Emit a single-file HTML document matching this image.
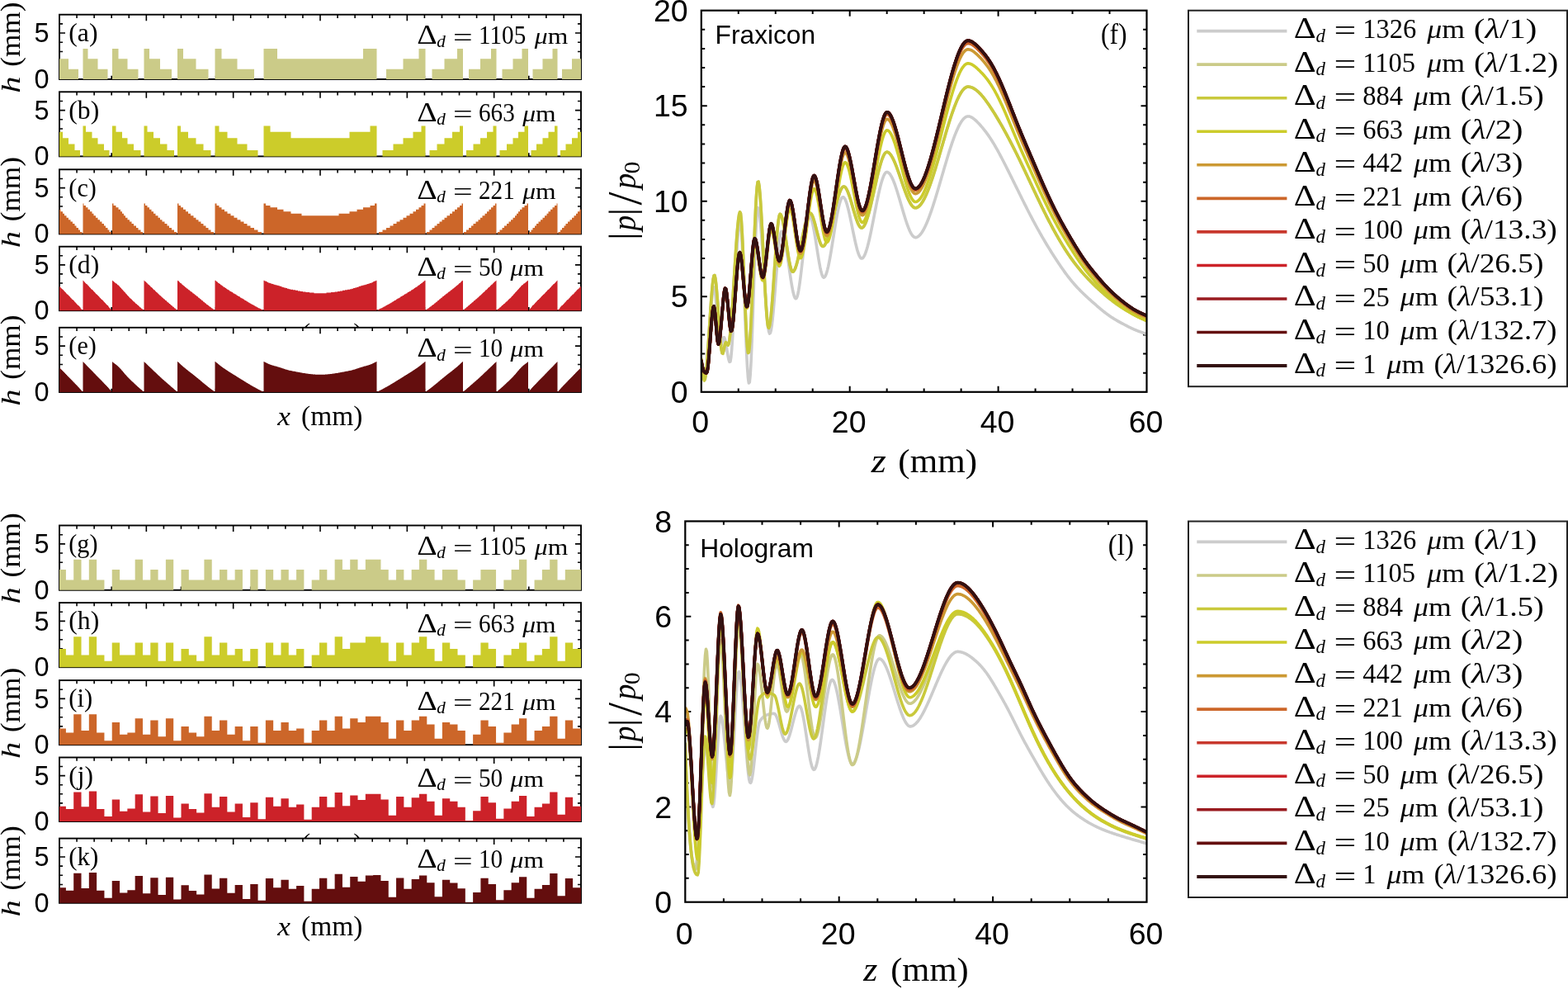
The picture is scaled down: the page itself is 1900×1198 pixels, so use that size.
<!DOCTYPE html>
<html><head><meta charset="utf-8"><title>Figure</title>
<style>html,body{margin:0;padding:0;background:#fff;}body{width:1900px;height:1198px;overflow:hidden;}svg{display:block;}</style>
</head><body>
<svg width="1900" height="1198" viewBox="0 0 1900 1198">
<rect width="1900" height="1198" fill="#fff"/>
<defs><clipPath id="cf"><rect x="849.8" y="12.7" width="539.7" height="462.1"/></clipPath>
<clipPath id="cl"><rect x="830.3" y="631.4" width="559.2" height="461.3"/></clipPath></defs>
<path d="M93.07 17.7V21.9M93.07 96V91.8M114.13 17.7V21.9M114.13 96V91.8M135.2 17.7V21.9M135.2 96V91.8M156.27 17.7V21.9M156.27 96V91.8M177.33 17.7V25.2M177.33 96V88.5M198.4 17.7V21.9M198.4 96V91.8M219.47 17.7V21.9M219.47 96V91.8M240.53 17.7V21.9M240.53 96V91.8M261.6 17.7V21.9M261.6 96V91.8M282.67 17.7V25.2M282.67 96V88.5M303.73 17.7V21.9M303.73 96V91.8M324.8 17.7V21.9M324.8 96V91.8M345.87 17.7V21.9M345.87 96V91.8M366.93 17.7V21.9M366.93 96V91.8M388 17.7V25.2M388 96V88.5M409.07 17.7V21.9M409.07 96V91.8M430.13 17.7V21.9M430.13 96V91.8M451.2 17.7V21.9M451.2 96V91.8M472.27 17.7V21.9M472.27 96V91.8M493.33 17.7V25.2M493.33 96V88.5M514.4 17.7V21.9M514.4 96V91.8M535.47 17.7V21.9M535.47 96V91.8M556.53 17.7V21.9M556.53 96V91.8M577.6 17.7V21.9M577.6 96V91.8M598.67 17.7V25.2M598.67 96V88.5M619.73 17.7V21.9M619.73 96V91.8M640.8 17.7V21.9M640.8 96V91.8M661.87 17.7V21.9M661.87 96V91.8M682.93 17.7V21.9M682.93 96V91.8M72 84.81H76M704 84.81H700M72 73.63H76M704 73.63H700M72 62.44H76M704 62.44H700M72 51.26H76M704 51.26H700M72 40.07H79M704 40.07H697M72 28.89H76M704 28.89H700" stroke="#000" stroke-width="1.6" fill="none"/>
<rect x="72" y="17.7" width="632" height="78.3" fill="none" stroke="#000" stroke-width="1.9"/>
<path d="M72 96L72 71.28L83 71.28L83 83.64L95 83.64L95 96L100.5 96L100.5 58.92L106.5 58.92L106.5 71.28L118.5 71.28L118.5 83.64L130.5 83.64L130.5 96L136 96L136 58.92L143.5 58.92L143.5 71.28L154.5 71.28L154.5 83.64L167.5 83.64L167.5 96L174.5 96L174.5 58.92L181 58.92L181 71.28L194 71.28L194 83.64L208 83.64L208 96L215 96L215 58.92L222 58.92L222 71.28L237.5 71.28L237.5 83.64L252.5 83.64L252.5 96L260.5 96L260.5 58.92L268.5 58.92L268.5 71.28L287.5 71.28L287.5 83.64L308 83.64L308 96L319.5 96L319.5 58.92L336 58.92L336 71.28L440 71.28L440 58.92L456.5 58.92L456.5 96L468 96L468 83.64L488.5 83.64L488.5 71.28L507.5 71.28L507.5 58.92L515.5 58.92L515.5 96L523.5 96L523.5 83.64L538.5 83.64L538.5 71.28L554 71.28L554 58.92L561 58.92L561 96L568 96L568 83.64L582 83.64L582 71.28L595 71.28L595 58.92L601.5 58.92L601.5 96L608.5 96L608.5 83.64L621.5 83.64L621.5 71.28L632.5 71.28L632.5 58.92L640 58.92L640 96L645.5 96L645.5 83.64L657.5 83.64L657.5 71.28L669.5 71.28L669.5 58.92L675.5 58.92L675.5 96L681 96L681 83.64L693 83.64L693 71.28L704 71.28L704 96Z" fill="#cbcb88"/>
<text x="59.6" y="51.37" font-family="'Liberation Sans', Arial, sans-serif" font-size="32.5" text-anchor="end">5</text>
<text x="59.6" y="107" font-family="'Liberation Sans', Arial, sans-serif" font-size="32.5" text-anchor="end">0</text>
<text transform="translate(83.25 50) scale(1.0017 1)" font-family="'Liberation Serif', 'Times New Roman', serif" font-size="31.75" fill="#000"><tspan>(a)</tspan></text>
<text transform="translate(505.37 53.2) scale(1.1228 1)" font-family="'Liberation Serif', 'Times New Roman', serif" font-size="33.9" fill="#000"><tspan>Δ</tspan></text><text transform="translate(529.37 57.4) scale(0.9798 1)" font-family="'Liberation Serif', 'Times New Roman', serif" font-size="21.6" fill="#000"><tspan font-style="italic">d</tspan></text><text transform="translate(548.9 55.7) scale(1.3313 1)" font-family="'Liberation Serif', 'Times New Roman', serif" font-size="31.5" fill="#000"><tspan>=</tspan></text><text transform="translate(580 53.1) scale(0.9389 1)" font-family="'Liberation Serif', 'Times New Roman', serif" font-size="31.1">1105</text><text transform="translate(647.8 53.2) scale(1.1298 1)" font-family="'Liberation Serif', 'Times New Roman', serif" font-size="28" fill="#000"><tspan font-style="italic">μ</tspan><tspan>m</tspan></text>
<path d="M93.07 111.3V115.5M93.07 189.4V185.2M114.13 111.3V115.5M114.13 189.4V185.2M135.2 111.3V115.5M135.2 189.4V185.2M156.27 111.3V115.5M156.27 189.4V185.2M177.33 111.3V118.8M177.33 189.4V181.9M198.4 111.3V115.5M198.4 189.4V185.2M219.47 111.3V115.5M219.47 189.4V185.2M240.53 111.3V115.5M240.53 189.4V185.2M261.6 111.3V115.5M261.6 189.4V185.2M282.67 111.3V118.8M282.67 189.4V181.9M303.73 111.3V115.5M303.73 189.4V185.2M324.8 111.3V115.5M324.8 189.4V185.2M345.87 111.3V115.5M345.87 189.4V185.2M366.93 111.3V115.5M366.93 189.4V185.2M388 111.3V118.8M388 189.4V181.9M409.07 111.3V115.5M409.07 189.4V185.2M430.13 111.3V115.5M430.13 189.4V185.2M451.2 111.3V115.5M451.2 189.4V185.2M472.27 111.3V115.5M472.27 189.4V185.2M493.33 111.3V118.8M493.33 189.4V181.9M514.4 111.3V115.5M514.4 189.4V185.2M535.47 111.3V115.5M535.47 189.4V185.2M556.53 111.3V115.5M556.53 189.4V185.2M577.6 111.3V115.5M577.6 189.4V185.2M598.67 111.3V118.8M598.67 189.4V181.9M619.73 111.3V115.5M619.73 189.4V185.2M640.8 111.3V115.5M640.8 189.4V185.2M661.87 111.3V115.5M661.87 189.4V185.2M682.93 111.3V115.5M682.93 189.4V185.2M72 178.24H76M704 178.24H700M72 167.09H76M704 167.09H700M72 155.93H76M704 155.93H700M72 144.77H76M704 144.77H700M72 133.61H79M704 133.61H697M72 122.46H76M704 122.46H700" stroke="#000" stroke-width="1.6" fill="none"/>
<rect x="72" y="111.3" width="632" height="78.1" fill="none" stroke="#000" stroke-width="1.9"/>
<path d="M72 189.4L72 159.81L76 159.81L76 167.21L83 167.21L83 174.61L90.5 174.61L90.5 182L97 182L97 189.4L100.5 189.4L100.5 152.41L104 152.41L104 159.81L111.5 159.81L111.5 167.21L118.5 167.21L118.5 174.61L126 174.61L126 182L132.5 182L132.5 189.4L136 189.4L136 152.41L140.5 152.41L140.5 159.81L148 159.81L148 167.21L154.5 167.21L154.5 174.61L162 174.61L162 182L170.5 182L170.5 189.4L174.5 189.4L174.5 152.41L178.5 152.41L178.5 159.81L186 159.81L186 167.21L194 167.21L194 174.61L202.5 174.61L202.5 182L211 182L211 189.4L215 189.4L215 152.41L219 152.41L219 159.81L228 159.81L228 167.21L237.5 167.21L237.5 174.61L246.5 174.61L246.5 182L255.5 182L255.5 189.4L260.5 189.4L260.5 152.41L265.5 152.41L265.5 159.81L275.5 159.81L275.5 167.21L287.5 167.21L287.5 174.61L299.5 174.61L299.5 182L312.5 182L312.5 189.4L319.5 189.4L319.5 152.41L327.5 152.41L327.5 159.81L352.5 159.81L352.5 167.21L423.5 167.21L423.5 159.81L448.5 159.81L448.5 152.41L456.5 152.41L456.5 189.4L463.5 189.4L463.5 182L476.5 182L476.5 174.61L488.5 174.61L488.5 167.21L500.5 167.21L500.5 159.81L510.5 159.81L510.5 152.41L515.5 152.41L515.5 189.4L520.5 189.4L520.5 182L529.5 182L529.5 174.61L538.5 174.61L538.5 167.21L548 167.21L548 159.81L557 159.81L557 152.41L561 152.41L561 189.4L565 189.4L565 182L573.5 182L573.5 174.61L582 174.61L582 167.21L590 167.21L590 159.81L597.5 159.81L597.5 152.41L601.5 152.41L601.5 189.4L605.5 189.4L605.5 182L614 182L614 174.61L621.5 174.61L621.5 167.21L628 167.21L628 159.81L635.5 159.81L635.5 152.41L640 152.41L640 189.4L643.5 189.4L643.5 182L650 182L650 174.61L657.5 174.61L657.5 167.21L664.5 167.21L664.5 159.81L672 159.81L672 152.41L675.5 152.41L675.5 189.4L679 189.4L679 182L685.5 182L685.5 174.61L693 174.61L693 167.21L700 167.21L700 159.81L704 159.81L704 189.4Z" fill="#cccc2a"/>
<text x="59.6" y="144.91" font-family="'Liberation Sans', Arial, sans-serif" font-size="32.5" text-anchor="end">5</text>
<text x="59.6" y="200.4" font-family="'Liberation Sans', Arial, sans-serif" font-size="32.5" text-anchor="end">0</text>
<text transform="translate(83.25 143.6) scale(0.9981 1)" font-family="'Liberation Serif', 'Times New Roman', serif" font-size="31.75" fill="#000"><tspan>(b)</tspan></text>
<text transform="translate(505.37 146.8) scale(1.1228 1)" font-family="'Liberation Serif', 'Times New Roman', serif" font-size="33.9" fill="#000"><tspan>Δ</tspan></text><text transform="translate(529.37 151) scale(0.9798 1)" font-family="'Liberation Serif', 'Times New Roman', serif" font-size="21.6" fill="#000"><tspan font-style="italic">d</tspan></text><text transform="translate(548.9 149.3) scale(1.3313 1)" font-family="'Liberation Serif', 'Times New Roman', serif" font-size="31.5" fill="#000"><tspan>=</tspan></text><text transform="translate(580 146.7) scale(0.9389 1)" font-family="'Liberation Serif', 'Times New Roman', serif" font-size="31.1">663</text><text transform="translate(633.2 146.8) scale(1.1298 1)" font-family="'Liberation Serif', 'Times New Roman', serif" font-size="28" fill="#000"><tspan font-style="italic">μ</tspan><tspan>m</tspan></text>
<path d="M93.07 205.3V209.5M93.07 283.4V279.2M114.13 205.3V209.5M114.13 283.4V279.2M135.2 205.3V209.5M135.2 283.4V279.2M156.27 205.3V209.5M156.27 283.4V279.2M177.33 205.3V212.8M177.33 283.4V275.9M198.4 205.3V209.5M198.4 283.4V279.2M219.47 205.3V209.5M219.47 283.4V279.2M240.53 205.3V209.5M240.53 283.4V279.2M261.6 205.3V209.5M261.6 283.4V279.2M282.67 205.3V212.8M282.67 283.4V275.9M303.73 205.3V209.5M303.73 283.4V279.2M324.8 205.3V209.5M324.8 283.4V279.2M345.87 205.3V209.5M345.87 283.4V279.2M366.93 205.3V209.5M366.93 283.4V279.2M388 205.3V212.8M388 283.4V275.9M409.07 205.3V209.5M409.07 283.4V279.2M430.13 205.3V209.5M430.13 283.4V279.2M451.2 205.3V209.5M451.2 283.4V279.2M472.27 205.3V209.5M472.27 283.4V279.2M493.33 205.3V212.8M493.33 283.4V275.9M514.4 205.3V209.5M514.4 283.4V279.2M535.47 205.3V209.5M535.47 283.4V279.2M556.53 205.3V209.5M556.53 283.4V279.2M577.6 205.3V209.5M577.6 283.4V279.2M598.67 205.3V212.8M598.67 283.4V275.9M619.73 205.3V209.5M619.73 283.4V279.2M640.8 205.3V209.5M640.8 283.4V279.2M661.87 205.3V209.5M661.87 283.4V279.2M682.93 205.3V209.5M682.93 283.4V279.2M72 272.24H76M704 272.24H700M72 261.09H76M704 261.09H700M72 249.93H76M704 249.93H700M72 238.77H76M704 238.77H700M72 227.61H79M704 227.61H697M72 216.46H76M704 216.46H700" stroke="#000" stroke-width="1.6" fill="none"/>
<rect x="72" y="205.3" width="632" height="78.1" fill="none" stroke="#000" stroke-width="1.9"/>
<path d="M72 283.4L72 253.81L73.5 253.81L73.5 256.28L76 256.28L76 258.74L78 258.74L78 261.21L80.5 261.21L80.5 263.67L83 263.67L83 266.14L85.5 266.14L85.5 268.61L88 268.61L88 271.07L90.5 271.07L90.5 273.54L92.5 273.54L92.5 276L95 276L95 278.47L97 278.47L97 280.93L99.5 280.93L99.5 283.4L100.5 283.4L100.5 246.41L101.5 246.41L101.5 248.88L104 248.88L104 251.35L106.5 251.35L106.5 253.81L109 253.81L109 256.28L111.5 256.28L111.5 258.74L113.5 258.74L113.5 261.21L116 261.21L116 263.67L118.5 263.67L118.5 266.14L121 266.14L121 268.61L123.5 268.61L123.5 271.07L126 271.07L126 273.54L128 273.54L128 276L130.5 276L130.5 278.47L132.5 278.47L132.5 280.93L135 280.93L135 283.4L136 283.4L136 246.41L137.5 246.41L137.5 248.88L140.5 248.88L140.5 251.35L143.5 251.35L143.5 253.81L146 253.81L146 256.28L148 256.28L148 258.74L150 258.74L150 261.21L152 261.21L152 263.67L154.5 263.67L154.5 266.14L157 266.14L157 268.61L159.5 268.61L159.5 271.07L162 271.07L162 273.54L165 273.54L165 276L167.5 276L167.5 278.47L170.5 278.47L170.5 280.93L173 280.93L173 283.4L174.5 283.4L174.5 246.41L176 246.41L176 248.88L178.5 248.88L178.5 251.35L181 251.35L181 253.81L183.5 253.81L183.5 256.28L186 256.28L186 258.74L188.5 258.74L188.5 261.21L191.5 261.21L191.5 263.67L194 263.67L194 266.14L196.5 266.14L196.5 268.61L199.5 268.61L199.5 271.07L202.5 271.07L202.5 273.54L205 273.54L205 276L208 276L208 278.47L211 278.47L211 280.93L214 280.93L214 283.4L215 283.4L215 246.41L216.5 246.41L216.5 248.88L219 248.88L219 251.35L222 251.35L222 253.81L225 253.81L225 256.28L228 256.28L228 258.74L231 258.74L231 261.21L234.5 261.21L234.5 263.67L237.5 263.67L237.5 266.14L240.5 266.14L240.5 268.61L243.5 268.61L243.5 271.07L246.5 271.07L246.5 273.54L249.5 273.54L249.5 276L252.5 276L252.5 278.47L255.5 278.47L255.5 280.93L259 280.93L259 283.4L260.5 283.4L260.5 246.41L262.5 246.41L262.5 248.88L265.5 248.88L265.5 251.35L268.5 251.35L268.5 253.81L272 253.81L272 256.28L275.5 256.28L275.5 258.74L279.5 258.74L279.5 261.21L283.5 261.21L283.5 263.67L287.5 263.67L287.5 266.14L291.5 266.14L291.5 268.61L295.5 268.61L295.5 271.07L299.5 271.07L299.5 273.54L303.5 273.54L303.5 276L308 276L308 278.47L312.5 278.47L312.5 280.93L317 280.93L317 283.4L319.5 283.4L319.5 246.41L322 246.41L322 248.88L327.5 248.88L327.5 251.35L336 251.35L336 253.81L343.5 253.81L343.5 256.28L352.5 256.28L352.5 258.74L365.5 258.74L365.5 261.21L410.5 261.21L410.5 258.74L423.5 258.74L423.5 256.28L432.5 256.28L432.5 253.81L440 253.81L440 251.35L448.5 251.35L448.5 248.88L454 248.88L454 246.41L456.5 246.41L456.5 283.4L459 283.4L459 280.93L463.5 280.93L463.5 278.47L468 278.47L468 276L472.5 276L472.5 273.54L476.5 273.54L476.5 271.07L480.5 271.07L480.5 268.61L484.5 268.61L484.5 266.14L488.5 266.14L488.5 263.67L492.5 263.67L492.5 261.21L496.5 261.21L496.5 258.74L500.5 258.74L500.5 256.28L504 256.28L504 253.81L507.5 253.81L507.5 251.35L510.5 251.35L510.5 248.88L513.5 248.88L513.5 246.41L515.5 246.41L515.5 283.4L517 283.4L517 280.93L520.5 280.93L520.5 278.47L523.5 278.47L523.5 276L526.5 276L526.5 273.54L529.5 273.54L529.5 271.07L532.5 271.07L532.5 268.61L535.5 268.61L535.5 266.14L538.5 266.14L538.5 263.67L541.5 263.67L541.5 261.21L545 261.21L545 258.74L548 258.74L548 256.28L551 256.28L551 253.81L554 253.81L554 251.35L557 251.35L557 248.88L559.5 248.88L559.5 246.41L561 246.41L561 283.4L562 283.4L562 280.93L565 280.93L565 278.47L568 278.47L568 276L571 276L571 273.54L573.5 273.54L573.5 271.07L576.5 271.07L576.5 268.61L579.5 268.61L579.5 266.14L582 266.14L582 263.67L584.5 263.67L584.5 261.21L587.5 261.21L587.5 258.74L590 258.74L590 256.28L592.5 256.28L592.5 253.81L595 253.81L595 251.35L597.5 251.35L597.5 248.88L600 248.88L600 246.41L601.5 246.41L601.5 283.4L603 283.4L603 280.93L605.5 280.93L605.5 278.47L608.5 278.47L608.5 276L611 276L611 273.54L614 273.54L614 271.07L616.5 271.07L616.5 268.61L619 268.61L619 266.14L621.5 266.14L621.5 263.67L624 263.67L624 261.21L626 261.21L626 258.74L628 258.74L628 256.28L630 256.28L630 253.81L632.5 253.81L632.5 251.35L635.5 251.35L635.5 248.88L638.5 248.88L638.5 246.41L640 246.41L640 283.4L641 283.4L641 280.93L643.5 280.93L643.5 278.47L645.5 278.47L645.5 276L648 276L648 273.54L650 273.54L650 271.07L652.5 271.07L652.5 268.61L655 268.61L655 266.14L657.5 266.14L657.5 263.67L660 263.67L660 261.21L662.5 261.21L662.5 258.74L664.5 258.74L664.5 256.28L667 256.28L667 253.81L669.5 253.81L669.5 251.35L672 251.35L672 248.88L674.5 248.88L674.5 246.41L675.5 246.41L675.5 283.4L676.5 283.4L676.5 280.93L679 280.93L679 278.47L681 278.47L681 276L683.5 276L683.5 273.54L685.5 273.54L685.5 271.07L688 271.07L688 268.61L690.5 268.61L690.5 266.14L693 266.14L693 263.67L695.5 263.67L695.5 261.21L698 261.21L698 258.74L700 258.74L700 256.28L702.5 256.28L702.5 253.81L704 253.81L704 283.4Z" fill="#cc6629"/>
<text x="59.6" y="238.91" font-family="'Liberation Sans', Arial, sans-serif" font-size="32.5" text-anchor="end">5</text>
<text x="59.6" y="294.4" font-family="'Liberation Sans', Arial, sans-serif" font-size="32.5" text-anchor="end">0</text>
<text transform="translate(83.32 237.6) scale(0.9518 1)" font-family="'Liberation Serif', 'Times New Roman', serif" font-size="31.75" fill="#000"><tspan>(c)</tspan></text>
<text transform="translate(505.37 240.8) scale(1.1228 1)" font-family="'Liberation Serif', 'Times New Roman', serif" font-size="33.9" fill="#000"><tspan>Δ</tspan></text><text transform="translate(529.37 245) scale(0.9798 1)" font-family="'Liberation Serif', 'Times New Roman', serif" font-size="21.6" fill="#000"><tspan font-style="italic">d</tspan></text><text transform="translate(548.9 243.3) scale(1.3313 1)" font-family="'Liberation Serif', 'Times New Roman', serif" font-size="31.5" fill="#000"><tspan>=</tspan></text><text transform="translate(580 240.7) scale(0.9389 1)" font-family="'Liberation Serif', 'Times New Roman', serif" font-size="31.1">221</text><text transform="translate(633.2 240.8) scale(1.1298 1)" font-family="'Liberation Serif', 'Times New Roman', serif" font-size="28" fill="#000"><tspan font-style="italic">μ</tspan><tspan>m</tspan></text>
<path d="M93.07 298.7V302.9M93.07 376.2V372M114.13 298.7V302.9M114.13 376.2V372M135.2 298.7V302.9M135.2 376.2V372M156.27 298.7V302.9M156.27 376.2V372M177.33 298.7V306.2M177.33 376.2V368.7M198.4 298.7V302.9M198.4 376.2V372M219.47 298.7V302.9M219.47 376.2V372M240.53 298.7V302.9M240.53 376.2V372M261.6 298.7V302.9M261.6 376.2V372M282.67 298.7V306.2M282.67 376.2V368.7M303.73 298.7V302.9M303.73 376.2V372M324.8 298.7V302.9M324.8 376.2V372M345.87 298.7V302.9M345.87 376.2V372M366.93 298.7V302.9M366.93 376.2V372M388 298.7V306.2M388 376.2V368.7M409.07 298.7V302.9M409.07 376.2V372M430.13 298.7V302.9M430.13 376.2V372M451.2 298.7V302.9M451.2 376.2V372M472.27 298.7V302.9M472.27 376.2V372M493.33 298.7V306.2M493.33 376.2V368.7M514.4 298.7V302.9M514.4 376.2V372M535.47 298.7V302.9M535.47 376.2V372M556.53 298.7V302.9M556.53 376.2V372M577.6 298.7V302.9M577.6 376.2V372M598.67 298.7V306.2M598.67 376.2V368.7M619.73 298.7V302.9M619.73 376.2V372M640.8 298.7V302.9M640.8 376.2V372M661.87 298.7V302.9M661.87 376.2V372M682.93 298.7V302.9M682.93 376.2V372M72 365.13H76M704 365.13H700M72 354.06H76M704 354.06H700M72 342.99H76M704 342.99H700M72 331.91H76M704 331.91H700M72 320.84H79M704 320.84H697M72 309.77H76M704 309.77H700" stroke="#000" stroke-width="1.6" fill="none"/>
<rect x="72" y="298.7" width="632" height="77.5" fill="none" stroke="#000" stroke-width="1.9"/>
<path d="M72 376.2L72 346.86L72.5 346.86L72.5 347.41L73 347.41L73 347.97L73.5 347.97L73.5 348.52L74 348.52L74 349.07L74.5 349.07L74.5 349.63L75 349.63L75 350.18L76 350.18L76 350.74L76.5 350.74L76.5 351.29L77 351.29L77 351.84L77.5 351.84L77.5 352.4L78 352.4L78 352.95L78.5 352.95L78.5 353.5L79 353.5L79 354.06L79.5 354.06L79.5 354.61L80 354.61L80 355.16L80.5 355.16L80.5 355.72L81 355.72L81 356.27L81.5 356.27L81.5 356.82L82.5 356.82L82.5 357.38L83 357.38L83 357.93L83.5 357.93L83.5 358.49L84 358.49L84 359.04L84.5 359.04L84.5 359.59L85 359.59L85 360.15L85.5 360.15L85.5 360.7L86 360.7L86 361.25L86.5 361.25L86.5 361.81L87 361.81L87 362.36L87.5 362.36L87.5 362.91L88.5 362.91L88.5 363.47L89 363.47L89 364.02L89.5 364.02L89.5 364.57L90 364.57L90 365.13L90.5 365.13L90.5 365.68L91 365.68L91 366.24L91.5 366.24L91.5 366.79L92 366.79L92 367.34L92.5 367.34L92.5 367.9L93 367.9L93 368.45L93.5 368.45L93.5 369L94 369L94 369.56L94.5 369.56L94.5 370.11L95.5 370.11L95.5 370.66L96 370.66L96 371.22L96.5 371.22L96.5 371.77L97 371.77L97 372.32L97.5 372.32L97.5 373.43L98 373.43L98 373.99L98.5 373.99L98.5 374.54L99 374.54L99 375.09L99.5 375.09L99.5 375.65L100 375.65L100 376.2L100.5 376.2L100.5 339.66L101 339.66L101 340.22L101.5 340.22L101.5 340.77L102 340.77L102 341.32L102.5 341.32L102.5 341.88L103 341.88L103 342.43L103.5 342.43L103.5 342.99L104 342.99L104 343.54L104.5 343.54L104.5 344.09L105.5 344.09L105.5 344.65L106 344.65L106 345.2L106.5 345.2L106.5 345.75L107 345.75L107 346.31L107.5 346.31L107.5 346.86L108 346.86L108 347.41L108.5 347.41L108.5 347.97L109 347.97L109 348.52L109.5 348.52L109.5 349.07L110 349.07L110 349.63L110.5 349.63L110.5 350.18L111 350.18L111 350.74L112 350.74L112 351.29L112.5 351.29L112.5 351.84L113 351.84L113 352.4L113.5 352.4L113.5 352.95L114 352.95L114 353.5L114.5 353.5L114.5 354.06L115 354.06L115 354.61L115.5 354.61L115.5 355.16L116 355.16L116 355.72L116.5 355.72L116.5 356.27L117 356.27L117 356.82L118 356.82L118 357.38L118.5 357.38L118.5 357.93L119 357.93L119 358.49L119.5 358.49L119.5 359.04L120 359.04L120 359.59L120.5 359.59L120.5 360.15L121 360.15L121 360.7L121.5 360.7L121.5 361.25L122 361.25L122 361.81L122.5 361.81L122.5 362.36L123 362.36L123 362.91L124 362.91L124 363.47L124.5 363.47L124.5 364.02L125 364.02L125 364.57L125.5 364.57L125.5 365.13L126 365.13L126 365.68L126.5 365.68L126.5 366.24L127 366.24L127 366.79L127.5 366.79L127.5 367.34L128 367.34L128 367.9L128.5 367.9L128.5 368.45L129 368.45L129 369L129.5 369L129.5 369.56L130 369.56L130 370.11L131 370.11L131 370.66L131.5 370.66L131.5 371.77L132 371.77L132 372.32L132.5 372.32L132.5 372.88L133 372.88L133 373.43L133.5 373.43L133.5 373.99L134 373.99L134 374.54L134.5 374.54L134.5 375.09L135 375.09L135 375.65L135.5 375.65L135.5 376.2L136 376.2L136 339.66L136.5 339.66L136.5 340.22L137 340.22L137 340.77L138 340.77L138 341.32L138.5 341.32L138.5 341.88L139 341.88L139 342.43L140 342.43L140 342.99L140.5 342.99L140.5 343.54L141.5 343.54L141.5 344.09L142 344.09L142 344.65L142.5 344.65L142.5 345.2L143.5 345.2L143.5 345.75L144 345.75L144 346.31L144.5 346.31L144.5 346.86L145 346.86L145 347.41L145.5 347.41L145.5 347.97L146 347.97L146 348.52L146.5 348.52L146.5 349.07L147 349.07L147 349.63L147.5 349.63L147.5 350.18L148 350.18L148 350.74L148.5 350.74L148.5 351.29L149 351.29L149 351.84L149.5 351.84L149.5 352.4L150 352.4L150 352.95L150.5 352.95L150.5 353.5L151 353.5L151 354.06L151.5 354.06L151.5 354.61L152 354.61L152 355.16L152.5 355.16L152.5 355.72L153 355.72L153 356.27L153.5 356.27L153.5 356.82L154 356.82L154 357.38L154.5 357.38L154.5 357.93L155 357.93L155 358.49L155.5 358.49L155.5 359.04L156 359.04L156 359.59L156.5 359.59L156.5 360.15L157 360.15L157 360.7L157.5 360.7L157.5 361.25L158 361.25L158 361.81L159 361.81L159 362.36L159.5 362.36L159.5 362.91L160 362.91L160 363.47L160.5 363.47L160.5 364.02L161 364.02L161 364.57L161.5 364.57L161.5 365.13L162.5 365.13L162.5 365.68L163 365.68L163 366.24L163.5 366.24L163.5 366.79L164 366.79L164 367.34L164.5 367.34L164.5 367.9L165.5 367.9L165.5 368.45L166 368.45L166 369L166.5 369L166.5 369.56L167 369.56L167 370.11L168 370.11L168 370.66L168.5 370.66L168.5 371.22L169 371.22L169 371.77L169.5 371.77L169.5 372.32L170.5 372.32L170.5 372.88L171 372.88L171 373.43L171.5 373.43L171.5 373.99L172.5 373.99L172.5 374.54L173 374.54L173 375.09L173.5 375.09L173.5 375.65L174 375.65L174 376.2L174.5 376.2L174.5 339.66L175 339.66L175 340.22L175.5 340.22L175.5 340.77L176 340.77L176 341.32L177 341.32L177 341.88L177.5 341.88L177.5 342.43L178 342.43L178 342.99L178.5 342.99L178.5 343.54L179 343.54L179 344.09L179.5 344.09L179.5 344.65L180.5 344.65L180.5 345.2L181 345.2L181 345.75L181.5 345.75L181.5 346.31L182 346.31L182 346.86L182.5 346.86L182.5 347.41L183 347.41L183 347.97L184 347.97L184 348.52L184.5 348.52L184.5 349.07L185 349.07L185 349.63L185.5 349.63L185.5 350.18L186 350.18L186 350.74L186.5 350.74L186.5 351.29L187.5 351.29L187.5 351.84L188 351.84L188 352.4L188.5 352.4L188.5 352.95L189 352.95L189 353.5L189.5 353.5L189.5 354.06L190 354.06L190 354.61L191 354.61L191 355.16L191.5 355.16L191.5 355.72L192 355.72L192 356.27L192.5 356.27L192.5 356.82L193 356.82L193 357.38L194 357.38L194 357.93L194.5 357.93L194.5 358.49L195 358.49L195 359.04L195.5 359.04L195.5 359.59L196 359.59L196 360.15L197 360.15L197 360.7L197.5 360.7L197.5 361.25L198 361.25L198 361.81L198.5 361.81L198.5 362.36L199.5 362.36L199.5 362.91L200 362.91L200 363.47L200.5 363.47L200.5 364.02L201.5 364.02L201.5 364.57L202 364.57L202 365.13L202.5 365.13L202.5 365.68L203 365.68L203 366.24L204 366.24L204 366.79L204.5 366.79L204.5 367.34L205 367.34L205 367.9L206 367.9L206 368.45L206.5 368.45L206.5 369L207 369L207 369.56L207.5 369.56L207.5 370.11L208.5 370.11L208.5 370.66L209 370.66L209 371.22L209.5 371.22L209.5 371.77L210.5 371.77L210.5 372.32L211 372.32L211 372.88L211.5 372.88L211.5 373.43L212.5 373.43L212.5 373.99L213 373.99L213 374.54L213.5 374.54L213.5 375.09L214 375.09L214 375.65L215 375.65L215 339.66L215.5 339.66L215.5 340.22L216.5 340.22L216.5 340.77L217 340.77L217 341.32L217.5 341.32L217.5 341.88L218 341.88L218 342.43L218.5 342.43L218.5 342.99L219.5 342.99L219.5 343.54L220 343.54L220 344.09L220.5 344.09L220.5 344.65L221 344.65L221 345.2L222 345.2L222 345.75L222.5 345.75L222.5 346.31L223 346.31L223 346.86L224 346.86L224 347.41L224.5 347.41L224.5 347.97L225 347.97L225 348.52L226 348.52L226 349.07L226.5 349.07L226.5 349.63L227.5 349.63L227.5 350.18L228 350.18L228 350.74L228.5 350.74L228.5 351.29L229.5 351.29L229.5 351.84L230 351.84L230 352.4L231 352.4L231 352.95L231.5 352.95L231.5 353.5L232.5 353.5L232.5 354.06L233 354.06L233 354.61L233.5 354.61L233.5 355.16L234.5 355.16L234.5 355.72L235 355.72L235 356.27L236 356.27L236 356.82L236.5 356.82L236.5 357.38L237.5 357.38L237.5 357.93L238 357.93L238 358.49L238.5 358.49L238.5 359.04L239.5 359.04L239.5 359.59L240 359.59L240 360.15L240.5 360.15L240.5 360.7L241.5 360.7L241.5 361.25L242 361.25L242 361.81L242.5 361.81L242.5 362.36L243.5 362.36L243.5 362.91L244 362.91L244 363.47L244.5 363.47L244.5 364.02L245.5 364.02L245.5 364.57L246 364.57L246 365.13L246.5 365.13L246.5 365.68L247.5 365.68L247.5 366.24L248 366.24L248 366.79L248.5 366.79L248.5 367.34L249.5 367.34L249.5 367.9L250 367.9L250 368.45L250.5 368.45L250.5 369L251.5 369L251.5 369.56L252 369.56L252 370.11L253 370.11L253 370.66L253.5 370.66L253.5 371.22L254.5 371.22L254.5 371.77L255 371.77L255 372.32L256 372.32L256 372.88L256.5 372.88L256.5 373.43L257.5 373.43L257.5 373.99L258 373.99L258 374.54L259 374.54L259 375.09L259.5 375.09L259.5 375.65L260.5 375.65L260.5 339.66L261.5 339.66L261.5 340.22L262 340.22L262 340.77L262.5 340.77L262.5 341.32L263.5 341.32L263.5 341.88L264 341.88L264 342.43L264.5 342.43L264.5 342.99L265.5 342.99L265.5 343.54L266 343.54L266 344.09L267 344.09L267 344.65L267.5 344.65L267.5 345.2L268.5 345.2L268.5 345.75L269 345.75L269 346.31L270 346.31L270 346.86L270.5 346.86L270.5 347.41L271.5 347.41L271.5 347.97L272.5 347.97L272.5 348.52L273 348.52L273 349.07L274 349.07L274 349.63L275 349.63L275 350.18L275.5 350.18L275.5 350.74L276.5 350.74L276.5 351.29L277.5 351.29L277.5 351.84L278 351.84L278 352.4L279 352.4L279 352.95L280 352.95L280 353.5L281 353.5L281 354.06L282 354.06L282 354.61L282.5 354.61L282.5 355.16L283.5 355.16L283.5 355.72L284.5 355.72L284.5 356.27L285.5 356.27L285.5 356.82L286.5 356.82L286.5 357.38L287 357.38L287 357.93L288 357.93L288 358.49L289 358.49L289 359.04L290 359.04L290 359.59L291 359.59L291 360.15L291.5 360.15L291.5 360.7L292.5 360.7L292.5 361.25L293.5 361.25L293.5 361.81L294.5 361.81L294.5 362.36L295.5 362.36L295.5 362.91L296 362.91L296 363.47L297 363.47L297 364.02L298 364.02L298 364.57L299 364.57L299 365.13L300 365.13L300 365.68L301 365.68L301 366.24L301.5 366.24L301.5 366.79L302.5 366.79L302.5 367.34L303.5 367.34L303.5 367.9L304.5 367.9L304.5 368.45L305.5 368.45L305.5 369L306.5 369L306.5 369.56L307.5 369.56L307.5 370.11L308.5 370.11L308.5 370.66L309.5 370.66L309.5 371.22L310.5 371.22L310.5 371.77L311.5 371.77L311.5 372.32L312.5 372.32L312.5 372.88L313.5 372.88L313.5 373.43L315 373.43L315 373.99L316 373.99L316 374.54L317 374.54L317 375.09L318 375.09L318 375.65L319 375.65L319 376.2L319.5 376.2L319.5 339.66L320.5 339.66L320.5 340.22L321.5 340.22L321.5 340.77L323 340.77L323 341.32L324 341.32L324 341.88L325 341.88L325 342.43L326.5 342.43L326.5 342.99L328 342.99L328 343.54L329.5 343.54L329.5 344.09L331.5 344.09L331.5 344.65L333.5 344.65L333.5 345.2L335.5 345.2L335.5 345.75L337.5 345.75L337.5 346.31L339 346.31L339 346.86L341 346.86L341 347.41L342.5 347.41L342.5 347.97L344 347.97L344 348.52L346 348.52L346 349.07L348 349.07L348 349.63L350 349.63L350 350.18L352 350.18L352 350.74L355 350.74L355 351.29L358 351.29L358 351.84L361 351.84L361 352.4L364 352.4L364 352.95L367 352.95L367 353.5L370.5 353.5L370.5 354.06L375 354.06L375 354.61L380.5 354.61L380.5 355.16L395.5 355.16L395.5 354.61L401 354.61L401 354.06L405.5 354.06L405.5 353.5L409 353.5L409 352.95L412 352.95L412 352.4L415 352.4L415 351.84L418 351.84L418 351.29L421 351.29L421 350.74L424 350.74L424 350.18L426 350.18L426 349.63L428 349.63L428 349.07L430 349.07L430 348.52L432 348.52L432 347.97L433.5 347.97L433.5 347.41L435 347.41L435 346.86L437 346.86L437 346.31L438.5 346.31L438.5 345.75L440.5 345.75L440.5 345.2L442.5 345.2L442.5 344.65L444.5 344.65L444.5 344.09L446.5 344.09L446.5 343.54L448 343.54L448 342.99L449.5 342.99L449.5 342.43L451 342.43L451 341.88L452 341.88L452 341.32L453 341.32L453 340.77L454.5 340.77L454.5 340.22L455.5 340.22L455.5 339.66L456.5 339.66L456.5 376.2L457 376.2L457 375.65L458 375.65L458 375.09L459 375.09L459 374.54L460 374.54L460 373.99L461 373.99L461 373.43L462.5 373.43L462.5 372.88L463.5 372.88L463.5 372.32L464.5 372.32L464.5 371.77L465.5 371.77L465.5 371.22L466.5 371.22L466.5 370.66L467.5 370.66L467.5 370.11L468.5 370.11L468.5 369.56L469.5 369.56L469.5 369L470.5 369L470.5 368.45L471.5 368.45L471.5 367.9L472.5 367.9L472.5 367.34L473.5 367.34L473.5 366.79L474.5 366.79L474.5 366.24L475 366.24L475 365.68L476 365.68L476 365.13L477 365.13L477 364.57L478 364.57L478 364.02L479 364.02L479 363.47L480 363.47L480 362.91L480.5 362.91L480.5 362.36L481.5 362.36L481.5 361.81L482.5 361.81L482.5 361.25L483.5 361.25L483.5 360.7L484.5 360.7L484.5 360.15L485 360.15L485 359.59L486 359.59L486 359.04L487 359.04L487 358.49L488 358.49L488 357.93L489 357.93L489 357.38L489.5 357.38L489.5 356.82L490.5 356.82L490.5 356.27L491.5 356.27L491.5 355.72L492.5 355.72L492.5 355.16L493.5 355.16L493.5 354.61L494 354.61L494 354.06L495 354.06L495 353.5L496 353.5L496 352.95L497 352.95L497 352.4L498 352.4L498 351.84L498.5 351.84L498.5 351.29L499.5 351.29L499.5 350.74L500.5 350.74L500.5 350.18L501 350.18L501 349.63L502 349.63L502 349.07L503 349.07L503 348.52L503.5 348.52L503.5 347.97L504.5 347.97L504.5 347.41L505.5 347.41L505.5 346.86L506 346.86L506 346.31L507 346.31L507 345.75L507.5 345.75L507.5 345.2L508.5 345.2L508.5 344.65L509 344.65L509 344.09L510 344.09L510 343.54L510.5 343.54L510.5 342.99L511.5 342.99L511.5 342.43L512 342.43L512 341.88L512.5 341.88L512.5 341.32L513.5 341.32L513.5 340.77L514 340.77L514 340.22L514.5 340.22L514.5 339.66L515.5 339.66L515.5 375.65L516.5 375.65L516.5 375.09L517 375.09L517 374.54L518 374.54L518 373.99L518.5 373.99L518.5 373.43L519.5 373.43L519.5 372.88L520 372.88L520 372.32L521 372.32L521 371.77L521.5 371.77L521.5 371.22L522.5 371.22L522.5 370.66L523 370.66L523 370.11L524 370.11L524 369.56L524.5 369.56L524.5 369L525.5 369L525.5 368.45L526 368.45L526 367.9L526.5 367.9L526.5 367.34L527.5 367.34L527.5 366.79L528 366.79L528 366.24L528.5 366.24L528.5 365.68L529.5 365.68L529.5 365.13L530 365.13L530 364.57L530.5 364.57L530.5 364.02L531.5 364.02L531.5 363.47L532 363.47L532 362.91L532.5 362.91L532.5 362.36L533.5 362.36L533.5 361.81L534 361.81L534 361.25L534.5 361.25L534.5 360.7L535.5 360.7L535.5 360.15L536 360.15L536 359.59L536.5 359.59L536.5 359.04L537.5 359.04L537.5 358.49L538 358.49L538 357.93L538.5 357.93L538.5 357.38L539.5 357.38L539.5 356.82L540 356.82L540 356.27L541 356.27L541 355.72L541.5 355.72L541.5 355.16L542.5 355.16L542.5 354.61L543 354.61L543 354.06L543.5 354.06L543.5 353.5L544.5 353.5L544.5 352.95L545 352.95L545 352.4L546 352.4L546 351.84L546.5 351.84L546.5 351.29L547.5 351.29L547.5 350.74L548 350.74L548 350.18L548.5 350.18L548.5 349.63L549.5 349.63L549.5 349.07L550 349.07L550 348.52L551 348.52L551 347.97L551.5 347.97L551.5 347.41L552 347.41L552 346.86L553 346.86L553 346.31L553.5 346.31L553.5 345.75L554 345.75L554 345.2L555 345.2L555 344.65L555.5 344.65L555.5 344.09L556 344.09L556 343.54L556.5 343.54L556.5 342.99L557.5 342.99L557.5 342.43L558 342.43L558 341.88L558.5 341.88L558.5 341.32L559 341.32L559 340.77L559.5 340.77L559.5 340.22L560.5 340.22L560.5 339.66L561 339.66L561 375.65L562 375.65L562 375.09L562.5 375.09L562.5 374.54L563 374.54L563 373.99L563.5 373.99L563.5 373.43L564.5 373.43L564.5 372.88L565 372.88L565 372.32L565.5 372.32L565.5 371.77L566.5 371.77L566.5 371.22L567 371.22L567 370.66L567.5 370.66L567.5 370.11L568.5 370.11L568.5 369.56L569 369.56L569 369L569.5 369L569.5 368.45L570 368.45L570 367.9L571 367.9L571 367.34L571.5 367.34L571.5 366.79L572 366.79L572 366.24L573 366.24L573 365.68L573.5 365.68L573.5 365.13L574 365.13L574 364.57L574.5 364.57L574.5 364.02L575.5 364.02L575.5 363.47L576 363.47L576 362.91L576.5 362.91L576.5 362.36L577.5 362.36L577.5 361.81L578 361.81L578 361.25L578.5 361.25L578.5 360.7L579 360.7L579 360.15L580 360.15L580 359.59L580.5 359.59L580.5 359.04L581 359.04L581 358.49L581.5 358.49L581.5 357.93L582 357.93L582 357.38L583 357.38L583 356.82L583.5 356.82L583.5 356.27L584 356.27L584 355.72L584.5 355.72L584.5 355.16L585 355.16L585 354.61L586 354.61L586 354.06L586.5 354.06L586.5 353.5L587 353.5L587 352.95L587.5 352.95L587.5 352.4L588 352.4L588 351.84L588.5 351.84L588.5 351.29L589.5 351.29L589.5 350.74L590 350.74L590 350.18L590.5 350.18L590.5 349.63L591 349.63L591 349.07L591.5 349.07L591.5 348.52L592 348.52L592 347.97L593 347.97L593 347.41L593.5 347.41L593.5 346.86L594 346.86L594 346.31L594.5 346.31L594.5 345.75L595 345.75L595 345.2L595.5 345.2L595.5 344.65L596.5 344.65L596.5 344.09L597 344.09L597 343.54L597.5 343.54L597.5 342.99L598 342.99L598 342.43L598.5 342.43L598.5 341.88L599 341.88L599 341.32L600 341.32L600 340.77L600.5 340.77L600.5 340.22L601 340.22L601 339.66L601.5 339.66L601.5 376.2L602 376.2L602 375.65L602.5 375.65L602.5 375.09L603 375.09L603 374.54L603.5 374.54L603.5 373.99L604.5 373.99L604.5 373.43L605 373.43L605 372.88L605.5 372.88L605.5 372.32L606.5 372.32L606.5 371.77L607 371.77L607 371.22L607.5 371.22L607.5 370.66L608 370.66L608 370.11L609 370.11L609 369.56L609.5 369.56L609.5 369L610 369L610 368.45L610.5 368.45L610.5 367.9L611.5 367.9L611.5 367.34L612 367.34L612 366.79L612.5 366.79L612.5 366.24L613 366.24L613 365.68L613.5 365.68L613.5 365.13L614.5 365.13L614.5 364.57L615 364.57L615 364.02L615.5 364.02L615.5 363.47L616 363.47L616 362.91L616.5 362.91L616.5 362.36L617 362.36L617 361.81L618 361.81L618 361.25L618.5 361.25L618.5 360.7L619 360.7L619 360.15L619.5 360.15L619.5 359.59L620 359.59L620 359.04L620.5 359.04L620.5 358.49L621 358.49L621 357.93L621.5 357.93L621.5 357.38L622 357.38L622 356.82L622.5 356.82L622.5 356.27L623 356.27L623 355.72L623.5 355.72L623.5 355.16L624 355.16L624 354.61L624.5 354.61L624.5 354.06L625 354.06L625 353.5L625.5 353.5L625.5 352.95L626 352.95L626 352.4L626.5 352.4L626.5 351.84L627 351.84L627 351.29L627.5 351.29L627.5 350.74L628 350.74L628 350.18L628.5 350.18L628.5 349.63L629 349.63L629 349.07L629.5 349.07L629.5 348.52L630 348.52L630 347.97L630.5 347.97L630.5 347.41L631 347.41L631 346.86L631.5 346.86L631.5 346.31L632 346.31L632 345.75L632.5 345.75L632.5 345.2L633.5 345.2L633.5 344.65L634 344.65L634 344.09L634.5 344.09L634.5 343.54L635.5 343.54L635.5 342.99L636 342.99L636 342.43L637 342.43L637 341.88L637.5 341.88L637.5 341.32L638 341.32L638 340.77L639 340.77L639 340.22L639.5 340.22L639.5 339.66L640 339.66L640 376.2L640.5 376.2L640.5 375.65L641 375.65L641 375.09L641.5 375.09L641.5 374.54L642 374.54L642 373.99L642.5 373.99L642.5 373.43L643 373.43L643 372.88L643.5 372.88L643.5 372.32L644 372.32L644 371.77L644.5 371.77L644.5 370.66L645 370.66L645 370.11L646 370.11L646 369.56L646.5 369.56L646.5 369L647 369L647 368.45L647.5 368.45L647.5 367.9L648 367.9L648 367.34L648.5 367.34L648.5 366.79L649 366.79L649 366.24L649.5 366.24L649.5 365.68L650 365.68L650 365.13L650.5 365.13L650.5 364.57L651 364.57L651 364.02L651.5 364.02L651.5 363.47L652 363.47L652 362.91L653 362.91L653 362.36L653.5 362.36L653.5 361.81L654 361.81L654 361.25L654.5 361.25L654.5 360.7L655 360.7L655 360.15L655.5 360.15L655.5 359.59L656 359.59L656 359.04L656.5 359.04L656.5 358.49L657 358.49L657 357.93L657.5 357.93L657.5 357.38L658 357.38L658 356.82L659 356.82L659 356.27L659.5 356.27L659.5 355.72L660 355.72L660 355.16L660.5 355.16L660.5 354.61L661 354.61L661 354.06L661.5 354.06L661.5 353.5L662 353.5L662 352.95L662.5 352.95L662.5 352.4L663 352.4L663 351.84L663.5 351.84L663.5 351.29L664 351.29L664 350.74L665 350.74L665 350.18L665.5 350.18L665.5 349.63L666 349.63L666 349.07L666.5 349.07L666.5 348.52L667 348.52L667 347.97L667.5 347.97L667.5 347.41L668 347.41L668 346.86L668.5 346.86L668.5 346.31L669 346.31L669 345.75L669.5 345.75L669.5 345.2L670 345.2L670 344.65L670.5 344.65L670.5 344.09L671.5 344.09L671.5 343.54L672 343.54L672 342.99L672.5 342.99L672.5 342.43L673 342.43L673 341.88L673.5 341.88L673.5 341.32L674 341.32L674 340.77L674.5 340.77L674.5 340.22L675 340.22L675 339.66L675.5 339.66L675.5 376.2L676 376.2L676 375.65L676.5 375.65L676.5 375.09L677 375.09L677 374.54L677.5 374.54L677.5 373.99L678 373.99L678 373.43L678.5 373.43L678.5 372.32L679 372.32L679 371.77L679.5 371.77L679.5 371.22L680 371.22L680 370.66L680.5 370.66L680.5 370.11L681.5 370.11L681.5 369.56L682 369.56L682 369L682.5 369L682.5 368.45L683 368.45L683 367.9L683.5 367.9L683.5 367.34L684 367.34L684 366.79L684.5 366.79L684.5 366.24L685 366.24L685 365.68L685.5 365.68L685.5 365.13L686 365.13L686 364.57L686.5 364.57L686.5 364.02L687 364.02L687 363.47L687.5 363.47L687.5 362.91L688.5 362.91L688.5 362.36L689 362.36L689 361.81L689.5 361.81L689.5 361.25L690 361.25L690 360.7L690.5 360.7L690.5 360.15L691 360.15L691 359.59L691.5 359.59L691.5 359.04L692 359.04L692 358.49L692.5 358.49L692.5 357.93L693 357.93L693 357.38L693.5 357.38L693.5 356.82L694.5 356.82L694.5 356.27L695 356.27L695 355.72L695.5 355.72L695.5 355.16L696 355.16L696 354.61L696.5 354.61L696.5 354.06L697 354.06L697 353.5L697.5 353.5L697.5 352.95L698 352.95L698 352.4L698.5 352.4L698.5 351.84L699 351.84L699 351.29L699.5 351.29L699.5 350.74L700 350.74L700 350.18L701 350.18L701 349.63L701.5 349.63L701.5 349.07L702 349.07L702 348.52L702.5 348.52L702.5 347.97L703 347.97L703 347.41L703.5 347.41L703.5 346.86L704 346.86L704 376.2Z" fill="#cc2229"/>
<text x="59.6" y="332.14" font-family="'Liberation Sans', Arial, sans-serif" font-size="32.5" text-anchor="end">5</text>
<text x="59.6" y="387.2" font-family="'Liberation Sans', Arial, sans-serif" font-size="32.5" text-anchor="end">0</text>
<text transform="translate(83.25 331) scale(0.9981 1)" font-family="'Liberation Serif', 'Times New Roman', serif" font-size="31.75" fill="#000"><tspan>(d)</tspan></text>
<text transform="translate(505.37 334.2) scale(1.1228 1)" font-family="'Liberation Serif', 'Times New Roman', serif" font-size="33.9" fill="#000"><tspan>Δ</tspan></text><text transform="translate(529.37 338.4) scale(0.9798 1)" font-family="'Liberation Serif', 'Times New Roman', serif" font-size="21.6" fill="#000"><tspan font-style="italic">d</tspan></text><text transform="translate(548.9 336.7) scale(1.3313 1)" font-family="'Liberation Serif', 'Times New Roman', serif" font-size="31.5" fill="#000"><tspan>=</tspan></text><text transform="translate(580 334.1) scale(0.9389 1)" font-family="'Liberation Serif', 'Times New Roman', serif" font-size="31.1">50</text><text transform="translate(618.6 334.2) scale(1.1298 1)" font-family="'Liberation Serif', 'Times New Roman', serif" font-size="28" fill="#000"><tspan font-style="italic">μ</tspan><tspan>m</tspan></text>
<text transform="translate(336.24 415.4) scale(1.1042 1)" font-family="'Liberation Serif', 'Times New Roman', serif" font-size="32" fill="#000"><tspan font-style="italic">x</tspan></text>
<text transform="translate(364.98 415.4) scale(0.9997 1)" font-family="'Liberation Serif', 'Times New Roman', serif" font-size="33.5" fill="#000"><tspan>(mm)</tspan></text>
<rect x="72" y="396.8" width="632" height="78.2" fill="#fff"/>
<path d="M93.07 396.8V401M93.07 475V470.8M114.13 396.8V401M114.13 475V470.8M135.2 396.8V401M135.2 475V470.8M156.27 396.8V401M156.27 475V470.8M177.33 396.8V404.3M177.33 475V467.5M198.4 396.8V401M198.4 475V470.8M219.47 396.8V401M219.47 475V470.8M240.53 396.8V401M240.53 475V470.8M261.6 396.8V401M261.6 475V470.8M282.67 396.8V404.3M282.67 475V467.5M303.73 396.8V401M303.73 475V470.8M324.8 396.8V401M324.8 475V470.8M345.87 396.8V401M345.87 475V470.8M366.93 396.8V401M366.93 475V470.8M388 396.8V404.3M388 475V467.5M409.07 396.8V401M409.07 475V470.8M430.13 396.8V401M430.13 475V470.8M451.2 396.8V401M451.2 475V470.8M472.27 396.8V401M472.27 475V470.8M493.33 396.8V404.3M493.33 475V467.5M514.4 396.8V401M514.4 475V470.8M535.47 396.8V401M535.47 475V470.8M556.53 396.8V401M556.53 475V470.8M577.6 396.8V401M577.6 475V470.8M598.67 396.8V404.3M598.67 475V467.5M619.73 396.8V401M619.73 475V470.8M640.8 396.8V401M640.8 475V470.8M661.87 396.8V401M661.87 475V470.8M682.93 396.8V401M682.93 475V470.8M72 463.83H76M704 463.83H700M72 452.66H76M704 452.66H700M72 441.49H76M704 441.49H700M72 430.31H76M704 430.31H700M72 419.14H79M704 419.14H697M72 407.97H76M704 407.97H700" stroke="#000" stroke-width="1.6" fill="none"/>
<rect x="72" y="396.8" width="632" height="78.2" fill="none" stroke="#000" stroke-width="1.9"/>
<path d="M72 475L72 445.4L72.5 445.4L72.5 445.95L73 445.95L73 446.4L73.5 446.4L73.5 446.96L74 446.96L74 447.52L74.5 447.52L74.5 447.97L75 447.97L75 448.52L75.5 448.52L75.5 448.97L76 448.97L76 449.53L76.5 449.53L76.5 450.09L77 450.09L77 450.53L77.5 450.53L77.5 451.09L78 451.09L78 451.54L78.5 451.54L78.5 452.1L79 452.1L79 452.66L79.5 452.66L79.5 453.1L80 453.1L80 453.66L80.5 453.66L80.5 454.11L81 454.11L81 454.67L81.5 454.67L81.5 455.23L82 455.23L82 455.67L82.5 455.67L82.5 456.23L83 456.23L83 456.79L83.5 456.79L83.5 457.24L84 457.24L84 457.8L84.5 457.8L84.5 458.24L85 458.24L85 458.8L85.5 458.8L85.5 459.25L86 459.25L86 459.81L86.5 459.81L86.5 460.37L87 460.37L87 460.81L87.5 460.81L87.5 461.37L88 461.37L88 461.82L88.5 461.82L88.5 462.38L89 462.38L89 462.82L89.5 462.82L89.5 463.38L90 463.38L90 463.83L90.5 463.83L90.5 464.39L91 464.39L91 464.95L91.5 464.95L91.5 465.39L92 465.39L92 465.95L92.5 465.95L92.5 466.51L93 466.51L93 466.96L93.5 466.96L93.5 467.52L94 467.52L94 468.07L94.5 468.07L94.5 468.63L95 468.63L95 469.08L95.5 469.08L95.5 469.64L96 469.64L96 470.2L96.5 470.2L96.5 470.75L97 470.75L97 471.31L97.5 471.31L97.5 471.98L98 471.98L98 472.54L98.5 472.54L98.5 473.1L99 473.1L99 473.66L99.5 473.66L99.5 474.22L100 474.22L100 474.78L100.5 474.78L100.5 438.25L101 438.25L101 438.8L101.5 438.8L101.5 439.25L102 439.25L102 439.81L102.5 439.81L102.5 440.37L103 440.37L103 440.82L103.5 440.82L103.5 441.37L104 441.37L104 441.82L104.5 441.82L104.5 442.38L105 442.38L105 442.83L105.5 442.83L105.5 443.38L106 443.38L106 443.94L106.5 443.94L106.5 444.39L107 444.39L107 444.95L107.5 444.95L107.5 445.4L108 445.4L108 445.95L108.5 445.95L108.5 446.51L109 446.51L109 446.96L109.5 446.96L109.5 447.52L110 447.52L110 447.97L110.5 447.97L110.5 448.52L111 448.52L111 449.08L111.5 449.08L111.5 449.53L112 449.53L112 450.09L112.5 450.09L112.5 450.53L113 450.53L113 451.09L113.5 451.09L113.5 451.65L114 451.65L114 452.1L114.5 452.1L114.5 452.66L115 452.66L115 453.1L115.5 453.1L115.5 453.66L116 453.66L116 454.22L116.5 454.22L116.5 454.67L117 454.67L117 455.23L117.5 455.23L117.5 455.67L118 455.67L118 456.23L118.5 456.23L118.5 456.79L119 456.79L119 457.24L119.5 457.24L119.5 457.8L120 457.8L120 458.24L120.5 458.24L120.5 458.8L121 458.8L121 459.25L121.5 459.25L121.5 459.81L122 459.81L122 460.25L122.5 460.25L122.5 460.81L123 460.81L123 461.37L123.5 461.37L123.5 461.82L124 461.82L124 462.38L124.5 462.38L124.5 462.82L125 462.82L125 463.38L125.5 463.38L125.5 463.83L126 463.83L126 464.39L126.5 464.39L126.5 464.95L127 464.95L127 465.39L127.5 465.39L127.5 465.95L128 465.95L128 466.51L128.5 466.51L128.5 466.96L129 466.96L129 467.52L129.5 467.52L129.5 468.07L130 468.07L130 468.63L130.5 468.63L130.5 469.08L131 469.08L131 469.64L131.5 469.64L131.5 470.31L132 470.31L132 470.87L132.5 470.87L132.5 471.43L133 471.43L133 471.98L133.5 471.98L133.5 472.54L134 472.54L134 473.21L134.5 473.21L134.5 473.66L135 473.66L135 474.22L135.5 474.22L135.5 474.78L136 474.78L136 438.25L136.5 438.25L136.5 438.69L137 438.69L137 439.14L137.5 439.14L137.5 439.47L138 439.47L138 439.92L138.5 439.92L138.5 440.26L139 440.26L139 440.7L139.5 440.7L139.5 441.04L140 441.04L140 441.49L140.5 441.49L140.5 441.82L141 441.82L141 442.27L141.5 442.27L141.5 442.6L142 442.6L142 443.05L142.5 443.05L142.5 443.5L143 443.5L143 443.94L143.5 443.94L143.5 444.39L144 444.39L144 444.84L144.5 444.84L144.5 445.4L145 445.4L145 445.95L145.5 445.95L145.5 446.4L146 446.4L146 446.96L146.5 446.96L146.5 447.52L147 447.52L147 448.19L147.5 448.19L147.5 448.75L148 448.75L148 449.31L148.5 449.31L148.5 449.86L149 449.86L149 450.53L149.5 450.53L149.5 451.09L150 451.09L150 451.65L150.5 451.65L150.5 452.32L151 452.32L151 452.88L151.5 452.88L151.5 453.44L152 453.44L152 454L152.5 454L152.5 454.56L153 454.56L153 455.11L153.5 455.11L153.5 455.67L154 455.67L154 456.23L154.5 456.23L154.5 456.79L155 456.79L155 457.24L155.5 457.24L155.5 457.8L156 457.8L156 458.24L156.5 458.24L156.5 458.8L157 458.8L157 459.25L157.5 459.25L157.5 459.7L158 459.7L158 460.25L158.5 460.25L158.5 460.7L159 460.7L159 461.15L159.5 461.15L159.5 461.71L160 461.71L160 462.15L160.5 462.15L160.5 462.6L161 462.6L161 463.05L161.5 463.05L161.5 463.61L162 463.61L162 464.05L162.5 464.05L162.5 464.5L163 464.5L163 464.95L163.5 464.95L163.5 465.39L164 465.39L164 465.84L164.5 465.84L164.5 466.4L165 466.4L165 466.84L165.5 466.84L165.5 467.29L166 467.29L166 467.74L166.5 467.74L166.5 468.19L167 468.19L167 468.63L167.5 468.63L167.5 469.08L168 469.08L168 469.53L168.5 469.53L168.5 469.97L169 469.97L169 470.42L169.5 470.42L169.5 470.87L170 470.87L170 471.31L170.5 471.31L170.5 471.76L171 471.76L171 472.1L171.5 472.1L171.5 472.54L172 472.54L172 472.99L172.5 472.99L172.5 473.44L173 473.44L173 473.88L173.5 473.88L173.5 474.33L174 474.33L174 474.78L174.5 474.78L174.5 438.25L175 438.25L175 438.69L175.5 438.69L175.5 439.14L176 439.14L176 439.59L176.5 439.59L176.5 440.03L177 440.03L177 440.59L177.5 440.59L177.5 441.04L178 441.04L178 441.49L178.5 441.49L178.5 442.04L179 442.04L179 442.49L179.5 442.49L179.5 442.94L180 442.94L180 443.38L180.5 443.38L180.5 443.94L181 443.94L181 444.39L181.5 444.39L181.5 444.84L182 444.84L182 445.4L182.5 445.4L182.5 445.84L183 445.84L183 446.29L183.5 446.29L183.5 446.74L184 446.74L184 447.29L184.5 447.29L184.5 447.74L185 447.74L185 448.19L185.5 448.19L185.5 448.75L186 448.75L186 449.19L186.5 449.19L186.5 449.64L187 449.64L187 450.09L187.5 450.09L187.5 450.65L188 450.65L188 451.09L188.5 451.09L188.5 451.54L189 451.54L189 452.1L189.5 452.1L189.5 452.55L190 452.55L190 452.99L190.5 452.99L190.5 453.44L191 453.44L191 453.89L191.5 453.89L191.5 454.44L192 454.44L192 454.89L192.5 454.89L192.5 455.34L193 455.34L193 455.79L193.5 455.79L193.5 456.23L194 456.23L194 456.68L194.5 456.68L194.5 457.13L195 457.13L195 457.57L195.5 457.57L195.5 458.13L196 458.13L196 458.58L196.5 458.58L196.5 459.02L197 459.02L197 459.47L197.5 459.47L197.5 459.92L198 459.92L198 460.37L198.5 460.37L198.5 460.81L199 460.81L199 461.26L199.5 461.26L199.5 461.71L200 461.71L200 462.04L200.5 462.04L200.5 462.49L201 462.49L201 462.93L201.5 462.93L201.5 463.38L202 463.38L202 463.83L202.5 463.83L202.5 464.28L203 464.28L203 464.72L203.5 464.72L203.5 465.17L204 465.17L204 465.62L204.5 465.62L204.5 466.06L205 466.06L205 466.51L205.5 466.51L205.5 466.84L206 466.84L206 467.29L206.5 467.29L206.5 467.74L207 467.74L207 468.19L207.5 468.19L207.5 468.63L208 468.63L208 469.08L208.5 469.08L208.5 469.53L209 469.53L209 469.97L209.5 469.97L209.5 470.31L210 470.31L210 470.75L210.5 470.75L210.5 471.2L211 471.2L211 471.65L211.5 471.65L211.5 472.1L212 472.1L212 472.43L212.5 472.43L212.5 472.88L213 472.88L213 473.32L213.5 473.32L213.5 473.77L214 473.77L214 474.22L214.5 474.22L214.5 474.55L215 474.55L215 438.02L215.5 438.02L215.5 438.47L216 438.47L216 438.92L216.5 438.92L216.5 439.36L217 439.36L217 439.81L217.5 439.81L217.5 440.26L218 440.26L218 440.7L218.5 440.7L218.5 441.26L219 441.26L219 441.71L219.5 441.71L219.5 442.16L220 442.16L220 442.6L220.5 442.6L220.5 443.05L221 443.05L221 443.5L221.5 443.5L221.5 443.94L222 443.94L222 444.39L222.5 444.39L222.5 444.84L223 444.84L223 445.17L223.5 445.17L223.5 445.62L224 445.62L224 446.07L224.5 446.07L224.5 446.4L225 446.4L225 446.85L225.5 446.85L225.5 447.29L226 447.29L226 447.63L226.5 447.63L226.5 448.08L227 448.08L227 448.41L227.5 448.41L227.5 448.86L228 448.86L228 449.19L228.5 449.19L228.5 449.64L229 449.64L229 449.98L229.5 449.98L229.5 450.42L230 450.42L230 450.76L230.5 450.76L230.5 451.2L231 451.2L231 451.54L231.5 451.54L231.5 451.99L232 451.99L232 452.32L232.5 452.32L232.5 452.77L233 452.77L233 453.1L233.5 453.1L233.5 453.55L234 453.55L234 453.89L234.5 453.89L234.5 454.33L235 454.33L235 454.67L235.5 454.67L235.5 455.11L236 455.11L236 455.45L236.5 455.45L236.5 455.9L237 455.9L237 456.23L237.5 456.23L237.5 456.68L238 456.68L238 457.13L238.5 457.13L238.5 457.46L239 457.46L239 457.91L239.5 457.91L239.5 458.35L240 458.35L240 458.69L240.5 458.69L240.5 459.14L241 459.14L241 459.58L241.5 459.58L241.5 460.03L242 460.03L242 460.37L242.5 460.37L242.5 460.81L243 460.81L243 461.26L243.5 461.26L243.5 461.71L244 461.71L244 462.04L244.5 462.04L244.5 462.49L245 462.49L245 462.93L245.5 462.93L245.5 463.38L246 463.38L246 463.72L246.5 463.72L246.5 464.16L247 464.16L247 464.61L247.5 464.61L247.5 465.06L248 465.06L248 465.39L248.5 465.39L248.5 465.84L249 465.84L249 466.29L249.5 466.29L249.5 466.62L250 466.62L250 467.07L250.5 467.07L250.5 467.52L251 467.52L251 467.85L251.5 467.85L251.5 468.3L252 468.3L252 468.63L252.5 468.63L252.5 469.08L253 469.08L253 469.41L253.5 469.41L253.5 469.86L254 469.86L254 470.2L254.5 470.2L254.5 470.53L255 470.53L255 470.98L255.5 470.98L255.5 471.31L256 471.31L256 471.65L256.5 471.65L256.5 472.1L257 472.1L257 472.43L257.5 472.43L257.5 472.77L258 472.77L258 473.1L258.5 473.1L258.5 473.55L259 473.55L259 473.88L259.5 473.88L259.5 474.33L260 474.33L260 474.66L260.5 474.66L260.5 438.02L261 438.02L261 438.36L261.5 438.36L261.5 438.8L262 438.8L262 439.14L262.5 439.14L262.5 439.59L263 439.59L263 440.03L263.5 440.03L263.5 440.37L264 440.37L264 440.82L264.5 440.82L264.5 441.26L265 441.26L265 441.6L265.5 441.6L265.5 442.04L266 442.04L266 442.49L266.5 442.49L266.5 442.83L267 442.83L267 443.27L267.5 443.27L267.5 443.61L268 443.61L268 443.94L268.5 443.94L268.5 444.28L269 444.28L269 444.73L269.5 444.73L269.5 445.06L270 445.06L270 445.4L270.5 445.4L270.5 445.73L271 445.73L271 446.07L271.5 446.07L271.5 446.4L272 446.4L272 446.74L272.5 446.74L272.5 447.07L273 447.07L273 447.41L273.5 447.41L273.5 447.74L274 447.74L274 448.08L274.5 448.08L274.5 448.41L275 448.41L275 448.75L275.5 448.75L275.5 449.08L276 449.08L276 449.42L276.5 449.42L276.5 449.75L277 449.75L277 450.09L277.5 450.09L277.5 450.42L278 450.42L278 450.76L278.5 450.76L278.5 450.98L279 450.98L279 451.32L279.5 451.32L279.5 451.65L280 451.65L280 451.99L280.5 451.99L280.5 452.32L281 452.32L281 452.55L281.5 452.55L281.5 452.88L282 452.88L282 453.22L282.5 453.22L282.5 453.55L283 453.55L283 453.89L283.5 453.89L283.5 454.11L284 454.11L284 454.44L284.5 454.44L284.5 454.78L285 454.78L285 455.11L285.5 455.11L285.5 455.34L286 455.34L286 455.67L286.5 455.67L286.5 456.01L287 456.01L287 456.34L287.5 456.34L287.5 456.68L288 456.68L288 456.9L288.5 456.9L288.5 457.24L289 457.24L289 457.57L289.5 457.57L289.5 457.91L290 457.91L290 458.24L290.5 458.24L290.5 458.47L291 458.47L291 458.8L291.5 458.8L291.5 459.14L292 459.14L292 459.47L292.5 459.47L292.5 459.81L293 459.81L293 460.03L293.5 460.03L293.5 460.37L294 460.37L294 460.7L294.5 460.7L294.5 461.04L295 461.04L295 461.26L295.5 461.26L295.5 461.59L296 461.59L296 461.93L296.5 461.93L296.5 462.26L297 462.26L297 462.49L297.5 462.49L297.5 462.82L298 462.82L298 463.16L298.5 463.16L298.5 463.49L299 463.49L299 463.72L299.5 463.72L299.5 464.05L300 464.05L300 464.39L300.5 464.39L300.5 464.61L301 464.61L301 464.95L301.5 464.95L301.5 465.28L302 465.28L302 465.5L302.5 465.5L302.5 465.84L303 465.84L303 466.17L303.5 466.17L303.5 466.4L304 466.4L304 466.73L304.5 466.73L304.5 466.96L305 466.96L305 467.29L305.5 467.29L305.5 467.63L306 467.63L306 467.85L306.5 467.85L306.5 468.19L307 468.19L307 468.41L307.5 468.41L307.5 468.74L308 468.74L308 468.97L308.5 468.97L308.5 469.3L309 469.3L309 469.53L309.5 469.53L309.5 469.86L310 469.86L310 470.08L310.5 470.08L310.5 470.42L311 470.42L311 470.64L311.5 470.64L311.5 470.87L312 470.87L312 471.2L312.5 471.2L312.5 471.43L313 471.43L313 471.65L313.5 471.65L313.5 471.98L314 471.98L314 472.21L314.5 472.21L314.5 472.43L315 472.43L315 472.77L315.5 472.77L315.5 472.99L316 472.99L316 473.21L316.5 473.21L316.5 473.55L317 473.55L317 473.77L317.5 473.77L317.5 473.99L318 473.99L318 474.33L318.5 474.33L318.5 474.55L319 474.55L319 474.78L319.5 474.78L319.5 438.02L320 438.02L320 438.25L320.5 438.25L320.5 438.47L321 438.47L321 438.8L321.5 438.8L321.5 439.03L322 439.03L322 439.25L322.5 439.25L322.5 439.47L323 439.47L323 439.81L323.5 439.81L323.5 440.03L324 440.03L324 440.26L324.5 440.26L324.5 440.48L325 440.48L325 440.7L325.5 440.7L325.5 440.93L326 440.93L326 441.15L326.5 441.15L326.5 441.37L327 441.37L327 441.6L327.5 441.6L327.5 441.71L328 441.71L328 441.93L328.5 441.93L328.5 442.04L329 442.04L329 442.27L329.5 442.27L329.5 442.38L330 442.38L330 442.6L330.5 442.6L330.5 442.71L331 442.71L331 442.83L331.5 442.83L331.5 442.94L332 442.94L332 443.16L332.5 443.16L332.5 443.27L333 443.27L333 443.38L333.5 443.38L333.5 443.5L334 443.5L334 443.61L334.5 443.61L334.5 443.83L335 443.83L335 443.94L335.5 443.94L335.5 444.06L336 444.06L336 444.28L336.5 444.28L336.5 444.39L337 444.39L337 444.5L337.5 444.5L337.5 444.73L338 444.73L338 444.84L338.5 444.84L338.5 445.06L339 445.06L339 445.17L339.5 445.17L339.5 445.28L340 445.28L340 445.51L340.5 445.51L340.5 445.62L341 445.62L341 445.84L341.5 445.84L341.5 445.95L342 445.95L342 446.18L342.5 446.18L342.5 446.29L343 446.29L343 446.51L343.5 446.51L343.5 446.62L344 446.62L344 446.85L344.5 446.85L344.5 446.96L345 446.96L345 447.18L345.5 447.18L345.5 447.29L346 447.29L346 447.41L346.5 447.41L346.5 447.63L347 447.63L347 447.74L347.5 447.74L347.5 447.85L348 447.85L348 448.08L348.5 448.08L348.5 448.19L349 448.19L349 448.3L349.5 448.3L349.5 448.41L350 448.41L350 448.64L350.5 448.64L350.5 448.75L351 448.75L351 448.86L351.5 448.86L351.5 448.97L352 448.97L352 449.08L353 449.08L353 449.19L353.5 449.19L353.5 449.31L354 449.31L354 449.42L354.5 449.42L354.5 449.53L355 449.53L355 449.64L355.5 449.64L355.5 449.75L356.5 449.75L356.5 449.86L357 449.86L357 449.98L357.5 449.98L357.5 450.09L358 450.09L358 450.2L358.5 450.2L358.5 450.31L359 450.31L359 450.42L360 450.42L360 450.53L360.5 450.53L360.5 450.65L361 450.65L361 450.76L361.5 450.76L361.5 450.87L362 450.87L362 450.98L362.5 450.98L362.5 451.09L363.5 451.09L363.5 451.2L364 451.2L364 451.32L364.5 451.32L364.5 451.43L365 451.43L365 451.54L366 451.54L366 451.65L366.5 451.65L366.5 451.76L367 451.76L367 451.88L368 451.88L368 451.99L368.5 451.99L368.5 452.1L369.5 452.1L369.5 452.21L370 452.21L370 452.32L370.5 452.32L370.5 452.43L371.5 452.43L371.5 452.55L372.5 452.55L372.5 452.66L373 452.66L373 452.77L374 452.77L374 452.88L375 452.88L375 452.99L375.5 452.99L375.5 453.1L376.5 453.1L376.5 453.22L378 453.22L378 453.33L379 453.33L379 453.44L380.5 453.44L380.5 453.55L382 453.55L382 453.66L384 453.66L384 453.77L392 453.77L392 453.66L394 453.66L394 453.55L395.5 453.55L395.5 453.44L397 453.44L397 453.33L398 453.33L398 453.22L399.5 453.22L399.5 453.1L400.5 453.1L400.5 452.99L401 452.99L401 452.88L402 452.88L402 452.77L403 452.77L403 452.66L403.5 452.66L403.5 452.55L404.5 452.55L404.5 452.43L405.5 452.43L405.5 452.32L406 452.32L406 452.21L406.5 452.21L406.5 452.1L407.5 452.1L407.5 451.99L408 451.99L408 451.88L409 451.88L409 451.76L409.5 451.76L409.5 451.65L410 451.65L410 451.54L411 451.54L411 451.43L411.5 451.43L411.5 451.32L412 451.32L412 451.2L412.5 451.2L412.5 451.09L413.5 451.09L413.5 450.98L414 450.98L414 450.87L414.5 450.87L414.5 450.76L415 450.76L415 450.65L415.5 450.65L415.5 450.53L416 450.53L416 450.42L417 450.42L417 450.31L417.5 450.31L417.5 450.2L418 450.2L418 450.09L418.5 450.09L418.5 449.98L419 449.98L419 449.86L419.5 449.86L419.5 449.75L420.5 449.75L420.5 449.64L421 449.64L421 449.53L421.5 449.53L421.5 449.42L422 449.42L422 449.31L422.5 449.31L422.5 449.19L423 449.19L423 449.08L424 449.08L424 448.97L424.5 448.97L424.5 448.86L425 448.86L425 448.75L425.5 448.75L425.5 448.64L426 448.64L426 448.41L426.5 448.41L426.5 448.3L427 448.3L427 448.19L427.5 448.19L427.5 448.08L428 448.08L428 447.85L428.5 447.85L428.5 447.74L429 447.74L429 447.63L429.5 447.63L429.5 447.41L430 447.41L430 447.29L430.5 447.29L430.5 447.18L431 447.18L431 446.96L431.5 446.96L431.5 446.85L432 446.85L432 446.62L432.5 446.62L432.5 446.51L433 446.51L433 446.29L433.5 446.29L433.5 446.18L434 446.18L434 445.95L434.5 445.95L434.5 445.84L435 445.84L435 445.62L435.5 445.62L435.5 445.51L436 445.51L436 445.28L436.5 445.28L436.5 445.17L437 445.17L437 445.06L437.5 445.06L437.5 444.84L438 444.84L438 444.73L438.5 444.73L438.5 444.5L439 444.5L439 444.39L439.5 444.39L439.5 444.28L440 444.28L440 444.06L440.5 444.06L440.5 443.94L441 443.94L441 443.83L441.5 443.83L441.5 443.61L442 443.61L442 443.5L442.5 443.5L442.5 443.38L443 443.38L443 443.27L443.5 443.27L443.5 443.16L444 443.16L444 442.94L444.5 442.94L444.5 442.83L445 442.83L445 442.71L445.5 442.71L445.5 442.6L446 442.6L446 442.38L446.5 442.38L446.5 442.27L447 442.27L447 442.04L447.5 442.04L447.5 441.93L448 441.93L448 441.71L448.5 441.71L448.5 441.6L449 441.6L449 441.37L449.5 441.37L449.5 441.15L450 441.15L450 440.93L450.5 440.93L450.5 440.7L451 440.7L451 440.48L451.5 440.48L451.5 440.26L452 440.26L452 440.03L452.5 440.03L452.5 439.81L453 439.81L453 439.47L453.5 439.47L453.5 439.25L454 439.25L454 439.03L454.5 439.03L454.5 438.8L455 438.8L455 438.47L455.5 438.47L455.5 438.25L456 438.25L456 438.02L456.5 438.02L456.5 474.78L457 474.78L457 474.55L457.5 474.55L457.5 474.33L458 474.33L458 473.99L458.5 473.99L458.5 473.77L459 473.77L459 473.55L459.5 473.55L459.5 473.21L460 473.21L460 472.99L460.5 472.99L460.5 472.77L461 472.77L461 472.43L461.5 472.43L461.5 472.21L462 472.21L462 471.98L462.5 471.98L462.5 471.65L463 471.65L463 471.43L463.5 471.43L463.5 471.2L464 471.2L464 470.87L464.5 470.87L464.5 470.64L465 470.64L465 470.42L465.5 470.42L465.5 470.08L466 470.08L466 469.86L466.5 469.86L466.5 469.53L467 469.53L467 469.3L467.5 469.3L467.5 468.97L468 468.97L468 468.74L468.5 468.74L468.5 468.41L469 468.41L469 468.19L469.5 468.19L469.5 467.85L470 467.85L470 467.63L470.5 467.63L470.5 467.29L471 467.29L471 466.96L471.5 466.96L471.5 466.73L472 466.73L472 466.4L472.5 466.4L472.5 466.17L473 466.17L473 465.84L473.5 465.84L473.5 465.5L474 465.5L474 465.28L474.5 465.28L474.5 464.95L475 464.95L475 464.61L475.5 464.61L475.5 464.39L476 464.39L476 464.05L476.5 464.05L476.5 463.72L477 463.72L477 463.49L477.5 463.49L477.5 463.16L478 463.16L478 462.82L478.5 462.82L478.5 462.49L479 462.49L479 462.26L479.5 462.26L479.5 461.93L480 461.93L480 461.59L480.5 461.59L480.5 461.26L481 461.26L481 461.04L481.5 461.04L481.5 460.7L482 460.7L482 460.37L482.5 460.37L482.5 460.03L483 460.03L483 459.81L483.5 459.81L483.5 459.47L484 459.47L484 459.14L484.5 459.14L484.5 458.8L485 458.8L485 458.47L485.5 458.47L485.5 458.24L486 458.24L486 457.91L486.5 457.91L486.5 457.57L487 457.57L487 457.24L487.5 457.24L487.5 456.9L488 456.9L488 456.68L488.5 456.68L488.5 456.34L489 456.34L489 456.01L489.5 456.01L489.5 455.67L490 455.67L490 455.34L490.5 455.34L490.5 455.11L491 455.11L491 454.78L491.5 454.78L491.5 454.44L492 454.44L492 454.11L492.5 454.11L492.5 453.89L493 453.89L493 453.55L493.5 453.55L493.5 453.22L494 453.22L494 452.88L494.5 452.88L494.5 452.55L495 452.55L495 452.32L495.5 452.32L495.5 451.99L496 451.99L496 451.65L496.5 451.65L496.5 451.32L497 451.32L497 450.98L497.5 450.98L497.5 450.76L498 450.76L498 450.42L498.5 450.42L498.5 450.09L499 450.09L499 449.75L499.5 449.75L499.5 449.42L500 449.42L500 449.08L500.5 449.08L500.5 448.75L501 448.75L501 448.41L501.5 448.41L501.5 448.08L502 448.08L502 447.74L502.5 447.74L502.5 447.41L503 447.41L503 447.07L503.5 447.07L503.5 446.74L504 446.74L504 446.4L504.5 446.4L504.5 446.07L505 446.07L505 445.73L505.5 445.73L505.5 445.4L506 445.4L506 445.06L506.5 445.06L506.5 444.73L507 444.73L507 444.28L507.5 444.28L507.5 443.94L508 443.94L508 443.61L508.5 443.61L508.5 443.27L509 443.27L509 442.83L509.5 442.83L509.5 442.49L510 442.49L510 442.04L510.5 442.04L510.5 441.6L511 441.6L511 441.26L511.5 441.26L511.5 440.82L512 440.82L512 440.37L512.5 440.37L512.5 440.03L513 440.03L513 439.59L513.5 439.59L513.5 439.14L514 439.14L514 438.8L514.5 438.8L514.5 438.36L515 438.36L515 438.02L515.5 438.02L515.5 474.66L516 474.66L516 474.33L516.5 474.33L516.5 473.88L517 473.88L517 473.55L517.5 473.55L517.5 473.1L518 473.1L518 472.77L518.5 472.77L518.5 472.43L519 472.43L519 472.1L519.5 472.1L519.5 471.65L520 471.65L520 471.31L520.5 471.31L520.5 470.98L521 470.98L521 470.53L521.5 470.53L521.5 470.2L522 470.2L522 469.86L522.5 469.86L522.5 469.41L523 469.41L523 469.08L523.5 469.08L523.5 468.63L524 468.63L524 468.3L524.5 468.3L524.5 467.85L525 467.85L525 467.52L525.5 467.52L525.5 467.07L526 467.07L526 466.62L526.5 466.62L526.5 466.29L527 466.29L527 465.84L527.5 465.84L527.5 465.39L528 465.39L528 465.06L528.5 465.06L528.5 464.61L529 464.61L529 464.16L529.5 464.16L529.5 463.72L530 463.72L530 463.38L530.5 463.38L530.5 462.93L531 462.93L531 462.49L531.5 462.49L531.5 462.04L532 462.04L532 461.71L532.5 461.71L532.5 461.26L533 461.26L533 460.81L533.5 460.81L533.5 460.37L534 460.37L534 460.03L534.5 460.03L534.5 459.58L535 459.58L535 459.14L535.5 459.14L535.5 458.69L536 458.69L536 458.35L536.5 458.35L536.5 457.91L537 457.91L537 457.46L537.5 457.46L537.5 457.13L538 457.13L538 456.68L538.5 456.68L538.5 456.23L539 456.23L539 455.9L539.5 455.9L539.5 455.45L540 455.45L540 455.11L540.5 455.11L540.5 454.67L541 454.67L541 454.33L541.5 454.33L541.5 453.89L542 453.89L542 453.55L542.5 453.55L542.5 453.1L543 453.1L543 452.77L543.5 452.77L543.5 452.32L544 452.32L544 451.99L544.5 451.99L544.5 451.54L545 451.54L545 451.2L545.5 451.2L545.5 450.76L546 450.76L546 450.42L546.5 450.42L546.5 449.98L547 449.98L547 449.64L547.5 449.64L547.5 449.19L548 449.19L548 448.86L548.5 448.86L548.5 448.41L549 448.41L549 448.08L549.5 448.08L549.5 447.63L550 447.63L550 447.29L550.5 447.29L550.5 446.85L551 446.85L551 446.4L551.5 446.4L551.5 446.07L552 446.07L552 445.62L552.5 445.62L552.5 445.17L553 445.17L553 444.84L553.5 444.84L553.5 444.39L554 444.39L554 443.94L554.5 443.94L554.5 443.5L555 443.5L555 443.05L555.5 443.05L555.5 442.6L556 442.6L556 442.16L556.5 442.16L556.5 441.71L557 441.71L557 441.26L557.5 441.26L557.5 440.7L558 440.7L558 440.26L558.5 440.26L558.5 439.81L559 439.81L559 439.36L559.5 439.36L559.5 438.92L560 438.92L560 438.47L560.5 438.47L560.5 438.02L561 438.02L561 474.55L561.5 474.55L561.5 474.22L562 474.22L562 473.77L562.5 473.77L562.5 473.32L563 473.32L563 472.88L563.5 472.88L563.5 472.43L564 472.43L564 472.1L564.5 472.1L564.5 471.65L565 471.65L565 471.2L565.5 471.2L565.5 470.75L566 470.75L566 470.31L566.5 470.31L566.5 469.97L567 469.97L567 469.53L567.5 469.53L567.5 469.08L568 469.08L568 468.63L568.5 468.63L568.5 468.19L569 468.19L569 467.74L569.5 467.74L569.5 467.29L570 467.29L570 466.84L570.5 466.84L570.5 466.51L571 466.51L571 466.06L571.5 466.06L571.5 465.62L572 465.62L572 465.17L572.5 465.17L572.5 464.72L573 464.72L573 464.28L573.5 464.28L573.5 463.83L574 463.83L574 463.38L574.5 463.38L574.5 462.93L575 462.93L575 462.49L575.5 462.49L575.5 462.04L576 462.04L576 461.71L576.5 461.71L576.5 461.26L577 461.26L577 460.81L577.5 460.81L577.5 460.37L578 460.37L578 459.92L578.5 459.92L578.5 459.47L579 459.47L579 459.02L579.5 459.02L579.5 458.58L580 458.58L580 458.13L580.5 458.13L580.5 457.57L581 457.57L581 457.13L581.5 457.13L581.5 456.68L582 456.68L582 456.23L582.5 456.23L582.5 455.79L583 455.79L583 455.34L583.5 455.34L583.5 454.89L584 454.89L584 454.44L584.5 454.44L584.5 453.89L585 453.89L585 453.44L585.5 453.44L585.5 452.99L586 452.99L586 452.55L586.5 452.55L586.5 452.1L587 452.1L587 451.54L587.5 451.54L587.5 451.09L588 451.09L588 450.65L588.5 450.65L588.5 450.09L589 450.09L589 449.64L589.5 449.64L589.5 449.19L590 449.19L590 448.75L590.5 448.75L590.5 448.19L591 448.19L591 447.74L591.5 447.74L591.5 447.29L592 447.29L592 446.74L592.5 446.74L592.5 446.29L593 446.29L593 445.84L593.5 445.84L593.5 445.4L594 445.4L594 444.84L594.5 444.84L594.5 444.39L595 444.39L595 443.94L595.5 443.94L595.5 443.38L596 443.38L596 442.94L596.5 442.94L596.5 442.49L597 442.49L597 442.04L597.5 442.04L597.5 441.49L598 441.49L598 441.04L598.5 441.04L598.5 440.59L599 440.59L599 440.03L599.5 440.03L599.5 439.59L600 439.59L600 439.14L600.5 439.14L600.5 438.69L601 438.69L601 438.25L601.5 438.25L601.5 474.78L602 474.78L602 474.33L602.5 474.33L602.5 473.88L603 473.88L603 473.44L603.5 473.44L603.5 472.99L604 472.99L604 472.54L604.5 472.54L604.5 472.1L605 472.1L605 471.76L605.5 471.76L605.5 471.31L606 471.31L606 470.87L606.5 470.87L606.5 470.42L607 470.42L607 469.97L607.5 469.97L607.5 469.53L608 469.53L608 469.08L608.5 469.08L608.5 468.63L609 468.63L609 468.19L609.5 468.19L609.5 467.74L610 467.74L610 467.29L610.5 467.29L610.5 466.84L611 466.84L611 466.4L611.5 466.4L611.5 465.84L612 465.84L612 465.39L612.5 465.39L612.5 464.95L613 464.95L613 464.5L613.5 464.5L613.5 464.05L614 464.05L614 463.61L614.5 463.61L614.5 463.05L615 463.05L615 462.6L615.5 462.6L615.5 462.15L616 462.15L616 461.71L616.5 461.71L616.5 461.15L617 461.15L617 460.7L617.5 460.7L617.5 460.25L618 460.25L618 459.7L618.5 459.7L618.5 459.25L619 459.25L619 458.8L619.5 458.8L619.5 458.24L620 458.24L620 457.8L620.5 457.8L620.5 457.24L621 457.24L621 456.79L621.5 456.79L621.5 456.23L622 456.23L622 455.67L622.5 455.67L622.5 455.11L623 455.11L623 454.56L623.5 454.56L623.5 454L624 454L624 453.44L624.5 453.44L624.5 452.88L625 452.88L625 452.32L625.5 452.32L625.5 451.65L626 451.65L626 451.09L626.5 451.09L626.5 450.53L627 450.53L627 449.86L627.5 449.86L627.5 449.31L628 449.31L628 448.75L628.5 448.75L628.5 448.19L629 448.19L629 447.52L629.5 447.52L629.5 446.96L630 446.96L630 446.4L630.5 446.4L630.5 445.95L631 445.95L631 445.4L631.5 445.4L631.5 444.84L632 444.84L632 444.39L632.5 444.39L632.5 443.94L633 443.94L633 443.5L633.5 443.5L633.5 443.05L634 443.05L634 442.6L634.5 442.6L634.5 442.27L635 442.27L635 441.82L635.5 441.82L635.5 441.49L636 441.49L636 441.04L636.5 441.04L636.5 440.7L637 440.7L637 440.26L637.5 440.26L637.5 439.92L638 439.92L638 439.47L638.5 439.47L638.5 439.14L639 439.14L639 438.69L639.5 438.69L639.5 438.25L640 438.25L640 474.78L640.5 474.78L640.5 474.22L641 474.22L641 473.66L641.5 473.66L641.5 473.21L642 473.21L642 472.54L642.5 472.54L642.5 471.98L643 471.98L643 471.43L643.5 471.43L643.5 470.87L644 470.87L644 470.31L644.5 470.31L644.5 469.64L645 469.64L645 469.08L645.5 469.08L645.5 468.63L646 468.63L646 468.07L646.5 468.07L646.5 467.52L647 467.52L647 466.96L647.5 466.96L647.5 466.51L648 466.51L648 465.95L648.5 465.95L648.5 465.39L649 465.39L649 464.95L649.5 464.95L649.5 464.39L650 464.39L650 463.83L650.5 463.83L650.5 463.38L651 463.38L651 462.82L651.5 462.82L651.5 462.38L652 462.38L652 461.82L652.5 461.82L652.5 461.37L653 461.37L653 460.81L653.5 460.81L653.5 460.25L654 460.25L654 459.81L654.5 459.81L654.5 459.25L655 459.25L655 458.8L655.5 458.8L655.5 458.24L656 458.24L656 457.8L656.5 457.8L656.5 457.24L657 457.24L657 456.79L657.5 456.79L657.5 456.23L658 456.23L658 455.67L658.5 455.67L658.5 455.23L659 455.23L659 454.67L659.5 454.67L659.5 454.22L660 454.22L660 453.66L660.5 453.66L660.5 453.1L661 453.1L661 452.66L661.5 452.66L661.5 452.1L662 452.1L662 451.65L662.5 451.65L662.5 451.09L663 451.09L663 450.53L663.5 450.53L663.5 450.09L664 450.09L664 449.53L664.5 449.53L664.5 449.08L665 449.08L665 448.52L665.5 448.52L665.5 447.97L666 447.97L666 447.52L666.5 447.52L666.5 446.96L667 446.96L667 446.51L667.5 446.51L667.5 445.95L668 445.95L668 445.4L668.5 445.4L668.5 444.95L669 444.95L669 444.39L669.5 444.39L669.5 443.94L670 443.94L670 443.38L670.5 443.38L670.5 442.83L671 442.83L671 442.38L671.5 442.38L671.5 441.82L672 441.82L672 441.37L672.5 441.37L672.5 440.82L673 440.82L673 440.37L673.5 440.37L673.5 439.81L674 439.81L674 439.25L674.5 439.25L674.5 438.8L675 438.8L675 438.25L675.5 438.25L675.5 474.78L676 474.78L676 474.22L676.5 474.22L676.5 473.66L677 473.66L677 473.1L677.5 473.1L677.5 472.54L678 472.54L678 471.98L678.5 471.98L678.5 471.31L679 471.31L679 470.75L679.5 470.75L679.5 470.2L680 470.2L680 469.64L680.5 469.64L680.5 469.08L681 469.08L681 468.63L681.5 468.63L681.5 468.07L682 468.07L682 467.52L682.5 467.52L682.5 466.96L683 466.96L683 466.51L683.5 466.51L683.5 465.95L684 465.95L684 465.39L684.5 465.39L684.5 464.95L685 464.95L685 464.39L685.5 464.39L685.5 463.83L686 463.83L686 463.38L686.5 463.38L686.5 462.82L687 462.82L687 462.38L687.5 462.38L687.5 461.82L688 461.82L688 461.37L688.5 461.37L688.5 460.81L689 460.81L689 460.37L689.5 460.37L689.5 459.81L690 459.81L690 459.25L690.5 459.25L690.5 458.8L691 458.8L691 458.24L691.5 458.24L691.5 457.8L692 457.8L692 457.24L692.5 457.24L692.5 456.79L693 456.79L693 456.23L693.5 456.23L693.5 455.67L694 455.67L694 455.23L694.5 455.23L694.5 454.67L695 454.67L695 454.11L695.5 454.11L695.5 453.66L696 453.66L696 453.1L696.5 453.1L696.5 452.66L697 452.66L697 452.1L697.5 452.1L697.5 451.54L698 451.54L698 451.09L698.5 451.09L698.5 450.53L699 450.53L699 450.09L699.5 450.09L699.5 449.53L700 449.53L700 448.97L700.5 448.97L700.5 448.52L701 448.52L701 447.97L701.5 447.97L701.5 447.52L702 447.52L702 446.96L702.5 446.96L702.5 446.4L703 446.4L703 445.95L703.5 445.95L703.5 445.4L704 445.4L704 475Z" fill="#640e0e"/>
<text x="59.6" y="430.44" font-family="'Liberation Sans', Arial, sans-serif" font-size="32.5" text-anchor="end">5</text>
<text x="59.6" y="486" font-family="'Liberation Sans', Arial, sans-serif" font-size="32.5" text-anchor="end">0</text>
<text transform="translate(83.32 429.1) scale(0.9518 1)" font-family="'Liberation Serif', 'Times New Roman', serif" font-size="31.75" fill="#000"><tspan>(e)</tspan></text>
<text transform="translate(505.37 432.3) scale(1.1228 1)" font-family="'Liberation Serif', 'Times New Roman', serif" font-size="33.9" fill="#000"><tspan>Δ</tspan></text><text transform="translate(529.37 436.5) scale(0.9798 1)" font-family="'Liberation Serif', 'Times New Roman', serif" font-size="21.6" fill="#000"><tspan font-style="italic">d</tspan></text><text transform="translate(548.9 434.8) scale(1.3313 1)" font-family="'Liberation Serif', 'Times New Roman', serif" font-size="31.5" fill="#000"><tspan>=</tspan></text><text transform="translate(580 432.2) scale(0.9389 1)" font-family="'Liberation Serif', 'Times New Roman', serif" font-size="31.1">10</text><text transform="translate(618.6 432.3) scale(1.1298 1)" font-family="'Liberation Serif', 'Times New Roman', serif" font-size="28" fill="#000"><tspan font-style="italic">μ</tspan><tspan>m</tspan></text>
<text transform="translate(24 112.72) rotate(-90) scale(1.2768 1)" font-family="'Liberation Serif', 'Times New Roman', serif" font-size="31.7" fill="#000"><tspan font-style="italic">h</tspan></text>
<text transform="translate(24 80.7) rotate(-90) scale(1.0673 1)" font-family="'Liberation Serif', 'Times New Roman', serif" font-size="33" fill="#000"><tspan>(mm)</tspan></text>
<text transform="translate(24 300.32) rotate(-90) scale(1.2768 1)" font-family="'Liberation Serif', 'Times New Roman', serif" font-size="31.7" fill="#000"><tspan font-style="italic">h</tspan></text>
<text transform="translate(24 268.3) rotate(-90) scale(1.0673 1)" font-family="'Liberation Serif', 'Times New Roman', serif" font-size="33" fill="#000"><tspan>(mm)</tspan></text>
<text transform="translate(24 491.82) rotate(-90) scale(1.2768 1)" font-family="'Liberation Serif', 'Times New Roman', serif" font-size="31.7" fill="#000"><tspan font-style="italic">h</tspan></text>
<text transform="translate(24 459.8) rotate(-90) scale(1.0673 1)" font-family="'Liberation Serif', 'Times New Roman', serif" font-size="33" fill="#000"><tspan>(mm)</tspan></text>
<text transform="translate(336.24 514.6) scale(1.1042 1)" font-family="'Liberation Serif', 'Times New Roman', serif" font-size="32" fill="#000"><tspan font-style="italic">x</tspan></text>
<text transform="translate(364.98 514.6) scale(0.9997 1)" font-family="'Liberation Serif', 'Times New Roman', serif" font-size="33.5" fill="#000"><tspan>(mm)</tspan></text>
<path d="M93.07 636.5V640.7M93.07 714.8V710.6M114.13 636.5V640.7M114.13 714.8V710.6M135.2 636.5V640.7M135.2 714.8V710.6M156.27 636.5V640.7M156.27 714.8V710.6M177.33 636.5V644M177.33 714.8V707.3M198.4 636.5V640.7M198.4 714.8V710.6M219.47 636.5V640.7M219.47 714.8V710.6M240.53 636.5V640.7M240.53 714.8V710.6M261.6 636.5V640.7M261.6 714.8V710.6M282.67 636.5V644M282.67 714.8V707.3M303.73 636.5V640.7M303.73 714.8V710.6M324.8 636.5V640.7M324.8 714.8V710.6M345.87 636.5V640.7M345.87 714.8V710.6M366.93 636.5V640.7M366.93 714.8V710.6M388 636.5V644M388 714.8V707.3M409.07 636.5V640.7M409.07 714.8V710.6M430.13 636.5V640.7M430.13 714.8V710.6M451.2 636.5V640.7M451.2 714.8V710.6M472.27 636.5V640.7M472.27 714.8V710.6M493.33 636.5V644M493.33 714.8V707.3M514.4 636.5V640.7M514.4 714.8V710.6M535.47 636.5V640.7M535.47 714.8V710.6M556.53 636.5V640.7M556.53 714.8V710.6M577.6 636.5V640.7M577.6 714.8V710.6M598.67 636.5V644M598.67 714.8V707.3M619.73 636.5V640.7M619.73 714.8V710.6M640.8 636.5V640.7M640.8 714.8V710.6M661.87 636.5V640.7M661.87 714.8V710.6M682.93 636.5V640.7M682.93 714.8V710.6M72 703.61H76M704 703.61H700M72 692.43H76M704 692.43H700M72 681.24H76M704 681.24H700M72 670.06H76M704 670.06H700M72 658.87H79M704 658.87H697M72 647.69H76M704 647.69H700" stroke="#000" stroke-width="1.6" fill="none"/>
<rect x="72" y="636.5" width="632" height="78.3" fill="none" stroke="#000" stroke-width="1.9"/>
<path d="M72 714.8L72 690.08L79.91 690.08L79.91 702.44L89.21 702.44L89.21 677.72L98.52 677.72L98.52 702.44L107.82 702.44L107.82 677.72L117.13 677.72L117.13 702.44L126.44 702.44L126.44 714.8L135.74 714.8L135.74 690.08L145.05 690.08L145.05 702.44L154.35 702.44L154.35 702.44L163.66 702.44L163.66 677.72L172.97 677.72L172.97 702.44L182.27 702.44L182.27 690.08L191.58 690.08L191.58 702.44L200.88 702.44L200.88 677.72L210.19 677.72L210.19 714.8L219.5 714.8L219.5 690.08L228.8 690.08L228.8 702.44L238.11 702.44L238.11 702.44L247.41 702.44L247.41 677.72L256.72 677.72L256.72 702.44L266.03 702.44L266.03 690.08L275.33 690.08L275.33 702.44L284.64 702.44L284.64 690.08L293.94 690.08L293.94 714.8L303.25 714.8L303.25 690.08L312.56 690.08L312.56 714.8L321.86 714.8L321.86 690.08L331.17 690.08L331.17 702.44L340.47 702.44L340.47 690.08L349.78 690.08L349.78 702.44L359.09 702.44L359.09 690.08L368.39 690.08L368.39 714.8L377.7 714.8L377.7 702.44L387 702.44L387 690.08L396.31 690.08L396.31 702.44L405.62 702.44L405.62 677.72L414.92 677.72L414.92 690.08L424.23 690.08L424.23 677.72L433.53 677.72L433.53 690.08L442.84 690.08L442.84 677.72L452.15 677.72L452.15 677.72L461.45 677.72L461.45 690.08L470.76 690.08L470.76 702.44L480.06 702.44L480.06 690.08L489.37 690.08L489.37 702.44L498.68 702.44L498.68 690.08L507.98 690.08L507.98 677.72L517.29 677.72L517.29 690.08L526.59 690.08L526.59 702.44L535.9 702.44L535.9 690.08L545.21 690.08L545.21 690.08L554.51 690.08L554.51 702.44L563.82 702.44L563.82 714.8L573.12 714.8L573.12 702.44L582.43 702.44L582.43 690.08L591.74 690.08L591.74 690.08L601.04 690.08L601.04 714.8L610.35 714.8L610.35 702.44L619.65 702.44L619.65 690.08L628.96 690.08L628.96 677.72L638.27 677.72L638.27 714.8L647.57 714.8L647.57 702.44L656.88 702.44L656.88 690.08L666.18 690.08L666.18 677.72L675.49 677.72L675.49 702.44L684.8 702.44L684.8 690.08L694.1 690.08L694.1 690.08L704 690.08L704 714.8Z" fill="#cbcb88"/>
<text x="59.6" y="670.17" font-family="'Liberation Sans', Arial, sans-serif" font-size="32.5" text-anchor="end">5</text>
<text x="59.6" y="725.8" font-family="'Liberation Sans', Arial, sans-serif" font-size="32.5" text-anchor="end">0</text>
<text transform="translate(83.32 668.8) scale(0.9507 1)" font-family="'Liberation Serif', 'Times New Roman', serif" font-size="31.75" fill="#000"><tspan>(g)</tspan></text>
<text transform="translate(505.37 672) scale(1.1228 1)" font-family="'Liberation Serif', 'Times New Roman', serif" font-size="33.9" fill="#000"><tspan>Δ</tspan></text><text transform="translate(529.37 676.2) scale(0.9798 1)" font-family="'Liberation Serif', 'Times New Roman', serif" font-size="21.6" fill="#000"><tspan font-style="italic">d</tspan></text><text transform="translate(548.9 674.5) scale(1.3313 1)" font-family="'Liberation Serif', 'Times New Roman', serif" font-size="31.5" fill="#000"><tspan>=</tspan></text><text transform="translate(580 671.9) scale(0.9389 1)" font-family="'Liberation Serif', 'Times New Roman', serif" font-size="31.1">1105</text><text transform="translate(647.8 672) scale(1.1298 1)" font-family="'Liberation Serif', 'Times New Roman', serif" font-size="28" fill="#000"><tspan font-style="italic">μ</tspan><tspan>m</tspan></text>
<path d="M93.07 730.1V734.3M93.07 808.2V804M114.13 730.1V734.3M114.13 808.2V804M135.2 730.1V734.3M135.2 808.2V804M156.27 730.1V734.3M156.27 808.2V804M177.33 730.1V737.6M177.33 808.2V800.7M198.4 730.1V734.3M198.4 808.2V804M219.47 730.1V734.3M219.47 808.2V804M240.53 730.1V734.3M240.53 808.2V804M261.6 730.1V734.3M261.6 808.2V804M282.67 730.1V737.6M282.67 808.2V800.7M303.73 730.1V734.3M303.73 808.2V804M324.8 730.1V734.3M324.8 808.2V804M345.87 730.1V734.3M345.87 808.2V804M366.93 730.1V734.3M366.93 808.2V804M388 730.1V737.6M388 808.2V800.7M409.07 730.1V734.3M409.07 808.2V804M430.13 730.1V734.3M430.13 808.2V804M451.2 730.1V734.3M451.2 808.2V804M472.27 730.1V734.3M472.27 808.2V804M493.33 730.1V737.6M493.33 808.2V800.7M514.4 730.1V734.3M514.4 808.2V804M535.47 730.1V734.3M535.47 808.2V804M556.53 730.1V734.3M556.53 808.2V804M577.6 730.1V734.3M577.6 808.2V804M598.67 730.1V737.6M598.67 808.2V800.7M619.73 730.1V734.3M619.73 808.2V804M640.8 730.1V734.3M640.8 808.2V804M661.87 730.1V734.3M661.87 808.2V804M682.93 730.1V734.3M682.93 808.2V804M72 797.04H76M704 797.04H700M72 785.89H76M704 785.89H700M72 774.73H76M704 774.73H700M72 763.57H76M704 763.57H700M72 752.41H79M704 752.41H697M72 741.26H76M704 741.26H700" stroke="#000" stroke-width="1.6" fill="none"/>
<rect x="72" y="730.1" width="632" height="78.1" fill="none" stroke="#000" stroke-width="1.9"/>
<path d="M72 808.2L72 786.01L79.91 786.01L79.91 793.41L89.21 793.41L89.21 771.21L98.52 771.21L98.52 793.41L107.82 793.41L107.82 771.21L117.13 771.21L117.13 793.41L126.44 793.41L126.44 800.8L135.74 800.8L135.74 778.61L145.05 778.61L145.05 793.41L154.35 793.41L154.35 793.41L163.66 793.41L163.66 778.61L172.97 778.61L172.97 793.41L182.27 793.41L182.27 778.61L191.58 778.61L191.58 800.8L200.88 800.8L200.88 778.61L210.19 778.61L210.19 800.8L219.5 800.8L219.5 786.01L228.8 786.01L228.8 793.41L238.11 793.41L238.11 800.8L247.41 800.8L247.41 771.21L256.72 771.21L256.72 793.41L266.03 793.41L266.03 778.61L275.33 778.61L275.33 793.41L284.64 793.41L284.64 786.01L293.94 786.01L293.94 800.8L303.25 800.8L303.25 786.01L312.56 786.01L312.56 808.2L321.86 808.2L321.86 778.61L331.17 778.61L331.17 793.41L340.47 793.41L340.47 778.61L349.78 778.61L349.78 793.41L359.09 793.41L359.09 786.01L368.39 786.01L368.39 808.2L377.7 808.2L377.7 793.41L387 793.41L387 778.61L396.31 778.61L396.31 793.41L405.62 793.41L405.62 771.21L414.92 771.21L414.92 786.01L424.23 786.01L424.23 778.61L433.53 778.61L433.53 778.61L442.84 778.61L442.84 771.21L452.15 771.21L452.15 771.21L461.45 771.21L461.45 778.61L470.76 778.61L470.76 800.8L480.06 800.8L480.06 778.61L489.37 778.61L489.37 793.41L498.68 793.41L498.68 778.61L507.98 778.61L507.98 771.21L517.29 771.21L517.29 786.01L526.59 786.01L526.59 800.8L535.9 800.8L535.9 778.61L545.21 778.61L545.21 786.01L554.51 786.01L554.51 793.41L563.82 793.41L563.82 808.2L573.12 808.2L573.12 793.41L582.43 793.41L582.43 778.61L591.74 778.61L591.74 786.01L601.04 786.01L601.04 808.2L610.35 808.2L610.35 793.41L619.65 793.41L619.65 786.01L628.96 786.01L628.96 778.61L638.27 778.61L638.27 800.8L647.57 800.8L647.57 793.41L656.88 793.41L656.88 786.01L666.18 786.01L666.18 771.21L675.49 771.21L675.49 800.8L684.8 800.8L684.8 778.61L694.1 778.61L694.1 786.01L704 786.01L704 808.2Z" fill="#cccc2a"/>
<text x="59.6" y="763.71" font-family="'Liberation Sans', Arial, sans-serif" font-size="32.5" text-anchor="end">5</text>
<text x="59.6" y="819.2" font-family="'Liberation Sans', Arial, sans-serif" font-size="32.5" text-anchor="end">0</text>
<text transform="translate(83.25 762.4) scale(0.9981 1)" font-family="'Liberation Serif', 'Times New Roman', serif" font-size="31.75" fill="#000"><tspan>(h)</tspan></text>
<text transform="translate(505.37 765.6) scale(1.1228 1)" font-family="'Liberation Serif', 'Times New Roman', serif" font-size="33.9" fill="#000"><tspan>Δ</tspan></text><text transform="translate(529.37 769.8) scale(0.9798 1)" font-family="'Liberation Serif', 'Times New Roman', serif" font-size="21.6" fill="#000"><tspan font-style="italic">d</tspan></text><text transform="translate(548.9 768.1) scale(1.3313 1)" font-family="'Liberation Serif', 'Times New Roman', serif" font-size="31.5" fill="#000"><tspan>=</tspan></text><text transform="translate(580 765.5) scale(0.9389 1)" font-family="'Liberation Serif', 'Times New Roman', serif" font-size="31.1">663</text><text transform="translate(633.2 765.6) scale(1.1298 1)" font-family="'Liberation Serif', 'Times New Roman', serif" font-size="28" fill="#000"><tspan font-style="italic">μ</tspan><tspan>m</tspan></text>
<path d="M93.07 824.1V828.3M93.07 902.2V898M114.13 824.1V828.3M114.13 902.2V898M135.2 824.1V828.3M135.2 902.2V898M156.27 824.1V828.3M156.27 902.2V898M177.33 824.1V831.6M177.33 902.2V894.7M198.4 824.1V828.3M198.4 902.2V898M219.47 824.1V828.3M219.47 902.2V898M240.53 824.1V828.3M240.53 902.2V898M261.6 824.1V828.3M261.6 902.2V898M282.67 824.1V831.6M282.67 902.2V894.7M303.73 824.1V828.3M303.73 902.2V898M324.8 824.1V828.3M324.8 902.2V898M345.87 824.1V828.3M345.87 902.2V898M366.93 824.1V828.3M366.93 902.2V898M388 824.1V831.6M388 902.2V894.7M409.07 824.1V828.3M409.07 902.2V898M430.13 824.1V828.3M430.13 902.2V898M451.2 824.1V828.3M451.2 902.2V898M472.27 824.1V828.3M472.27 902.2V898M493.33 824.1V831.6M493.33 902.2V894.7M514.4 824.1V828.3M514.4 902.2V898M535.47 824.1V828.3M535.47 902.2V898M556.53 824.1V828.3M556.53 902.2V898M577.6 824.1V828.3M577.6 902.2V898M598.67 824.1V831.6M598.67 902.2V894.7M619.73 824.1V828.3M619.73 902.2V898M640.8 824.1V828.3M640.8 902.2V898M661.87 824.1V828.3M661.87 902.2V898M682.93 824.1V828.3M682.93 902.2V898M72 891.04H76M704 891.04H700M72 879.89H76M704 879.89H700M72 868.73H76M704 868.73H700M72 857.57H76M704 857.57H700M72 846.41H79M704 846.41H697M72 835.26H76M704 835.26H700" stroke="#000" stroke-width="1.6" fill="none"/>
<rect x="72" y="824.1" width="632" height="78.1" fill="none" stroke="#000" stroke-width="1.9"/>
<path d="M72 902.2L72 882.47L79.91 882.47L79.91 887.41L89.21 887.41L89.21 865.21L98.52 865.21L98.52 884.94L107.82 884.94L107.82 865.21L117.13 865.21L117.13 887.41L126.44 887.41L126.44 897.27L135.74 897.27L135.74 875.08L145.05 875.08L145.05 889.87L154.35 889.87L154.35 887.41L163.66 887.41L163.66 870.15L172.97 870.15L172.97 889.87L182.27 889.87L182.27 872.61L191.58 872.61L191.58 892.34L200.88 892.34L200.88 870.15L210.19 870.15L210.19 897.27L219.5 897.27L219.5 880.01L228.8 880.01L228.8 887.41L238.11 887.41L238.11 892.34L247.41 892.34L247.41 867.68L256.72 867.68L256.72 884.94L266.03 884.94L266.03 872.61L275.33 872.61L275.33 889.87L284.64 889.87L284.64 880.01L293.94 880.01L293.94 897.27L303.25 897.27L303.25 880.01L312.56 880.01L312.56 899.73L321.86 899.73L321.86 872.61L331.17 872.61L331.17 884.94L340.47 884.94L340.47 875.08L349.78 875.08L349.78 884.94L359.09 884.94L359.09 882.47L368.39 882.47L368.39 899.73L377.7 899.73L377.7 884.94L387 884.94L387 872.61L396.31 872.61L396.31 884.94L405.62 884.94L405.62 867.68L414.92 867.68L414.92 882.47L424.23 882.47L424.23 870.15L433.53 870.15L433.53 875.08L442.84 875.08L442.84 867.68L452.15 867.68L452.15 867.68L461.45 867.68L461.45 875.08L470.76 875.08L470.76 894.8L480.06 894.8L480.06 872.61L489.37 872.61L489.37 884.94L498.68 884.94L498.68 872.61L507.98 872.61L507.98 867.68L517.29 867.68L517.29 877.54L526.59 877.54L526.59 894.8L535.9 894.8L535.9 875.08L545.21 875.08L545.21 877.54L554.51 877.54L554.51 884.94L563.82 884.94L563.82 902.2L573.12 902.2L573.12 889.87L582.43 889.87L582.43 872.61L591.74 872.61L591.74 880.01L601.04 880.01L601.04 899.73L610.35 899.73L610.35 887.41L619.65 887.41L619.65 877.54L628.96 877.54L628.96 870.15L638.27 870.15L638.27 897.27L647.57 897.27L647.57 884.94L656.88 884.94L656.88 880.01L666.18 880.01L666.18 867.68L675.49 867.68L675.49 894.8L684.8 894.8L684.8 872.61L694.1 872.61L694.1 882.47L704 882.47L704 902.2Z" fill="#cc6629"/>
<text x="59.6" y="857.71" font-family="'Liberation Sans', Arial, sans-serif" font-size="32.5" text-anchor="end">5</text>
<text x="59.6" y="913.2" font-family="'Liberation Sans', Arial, sans-serif" font-size="32.5" text-anchor="end">0</text>
<text transform="translate(83.3 856.4) scale(0.9609 1)" font-family="'Liberation Serif', 'Times New Roman', serif" font-size="31.75" fill="#000"><tspan>(i)</tspan></text>
<text transform="translate(505.37 859.6) scale(1.1228 1)" font-family="'Liberation Serif', 'Times New Roman', serif" font-size="33.9" fill="#000"><tspan>Δ</tspan></text><text transform="translate(529.37 863.8) scale(0.9798 1)" font-family="'Liberation Serif', 'Times New Roman', serif" font-size="21.6" fill="#000"><tspan font-style="italic">d</tspan></text><text transform="translate(548.9 862.1) scale(1.3313 1)" font-family="'Liberation Serif', 'Times New Roman', serif" font-size="31.5" fill="#000"><tspan>=</tspan></text><text transform="translate(580 859.5) scale(0.9389 1)" font-family="'Liberation Serif', 'Times New Roman', serif" font-size="31.1">221</text><text transform="translate(633.2 859.6) scale(1.1298 1)" font-family="'Liberation Serif', 'Times New Roman', serif" font-size="28" fill="#000"><tspan font-style="italic">μ</tspan><tspan>m</tspan></text>
<path d="M93.07 917.5V921.7M93.07 995V990.8M114.13 917.5V921.7M114.13 995V990.8M135.2 917.5V921.7M135.2 995V990.8M156.27 917.5V921.7M156.27 995V990.8M177.33 917.5V925M177.33 995V987.5M198.4 917.5V921.7M198.4 995V990.8M219.47 917.5V921.7M219.47 995V990.8M240.53 917.5V921.7M240.53 995V990.8M261.6 917.5V921.7M261.6 995V990.8M282.67 917.5V925M282.67 995V987.5M303.73 917.5V921.7M303.73 995V990.8M324.8 917.5V921.7M324.8 995V990.8M345.87 917.5V921.7M345.87 995V990.8M366.93 917.5V921.7M366.93 995V990.8M388 917.5V925M388 995V987.5M409.07 917.5V921.7M409.07 995V990.8M430.13 917.5V921.7M430.13 995V990.8M451.2 917.5V921.7M451.2 995V990.8M472.27 917.5V921.7M472.27 995V990.8M493.33 917.5V925M493.33 995V987.5M514.4 917.5V921.7M514.4 995V990.8M535.47 917.5V921.7M535.47 995V990.8M556.53 917.5V921.7M556.53 995V990.8M577.6 917.5V921.7M577.6 995V990.8M598.67 917.5V925M598.67 995V987.5M619.73 917.5V921.7M619.73 995V990.8M640.8 917.5V921.7M640.8 995V990.8M661.87 917.5V921.7M661.87 995V990.8M682.93 917.5V921.7M682.93 995V990.8M72 983.93H76M704 983.93H700M72 972.86H76M704 972.86H700M72 961.79H76M704 961.79H700M72 950.71H76M704 950.71H700M72 939.64H79M704 939.64H697M72 928.57H76M704 928.57H700" stroke="#000" stroke-width="1.6" fill="none"/>
<rect x="72" y="917.5" width="632" height="77.5" fill="none" stroke="#000" stroke-width="1.9"/>
<path d="M72 995L72 976.73L79.91 976.73L79.91 980.05L89.21 980.05L89.21 959.57L98.52 959.57L98.52 977.29L107.82 977.29L107.82 958.46L117.13 958.46L117.13 980.05L126.44 980.05L126.44 988.91L135.74 988.91L135.74 968.43L145.05 968.43L145.05 982.82L154.35 982.82L154.35 979.5L163.66 979.5L163.66 962.34L172.97 962.34L172.97 983.38L182.27 983.38L182.27 964.55L191.58 964.55L191.58 985.04L200.88 985.04L200.88 964L210.19 964L210.19 990.57L219.5 990.57L219.5 973.41L228.8 973.41L228.8 980.05L238.11 980.05L238.11 984.48L247.41 984.48L247.41 961.23L256.72 961.23L256.72 977.84L266.03 977.84L266.03 965.11L275.33 965.11L275.33 983.38L284.64 983.38L284.64 973.41L293.94 973.41L293.94 990.02L303.25 990.02L303.25 972.3L312.56 972.3L312.56 992.23L321.86 992.23L321.86 965.66L331.17 965.66L331.17 976.73L340.47 976.73L340.47 967.32L349.78 967.32L349.78 977.84L359.09 977.84L359.09 974.52L368.39 974.52L368.39 992.79L377.7 992.79L377.7 977.84L387 977.84L387 965.11L396.31 965.11L396.31 977.84L405.62 977.84L405.62 960.12L414.92 960.12L414.92 976.18L424.23 976.18L424.23 963.45L433.53 963.45L433.53 968.98L442.84 968.98L442.84 961.79L452.15 961.79L452.15 961.79L461.45 961.79L461.45 968.43L470.76 968.43L470.76 987.8L480.06 987.8L480.06 965.11L489.37 965.11L489.37 977.84L498.68 977.84L498.68 966.21L507.98 966.21L507.98 961.79L517.29 961.79L517.29 970.64L526.59 970.64L526.59 987.8L535.9 987.8L535.9 967.32L545.21 967.32L545.21 970.64L554.51 970.64L554.51 977.84L563.82 977.84L563.82 993.89L573.12 993.89L573.12 982.27L582.43 982.27L582.43 965.11L591.74 965.11L591.74 972.3L601.04 972.3L601.04 991.68L610.35 991.68L610.35 979.5L619.65 979.5L619.65 970.64L628.96 970.64L628.96 964L638.27 964L638.27 988.91L647.57 988.91L647.57 977.84L656.88 977.84L656.88 973.41L666.18 973.41L666.18 959.57L675.49 959.57L675.49 986.7L684.8 986.7L684.8 965.66L694.1 965.66L694.1 976.73L704 976.73L704 995Z" fill="#cc2229"/>
<text x="59.6" y="950.94" font-family="'Liberation Sans', Arial, sans-serif" font-size="32.5" text-anchor="end">5</text>
<text x="59.6" y="1006" font-family="'Liberation Sans', Arial, sans-serif" font-size="32.5" text-anchor="end">0</text>
<text transform="translate(83.26 949.8) scale(0.9908 1)" font-family="'Liberation Serif', 'Times New Roman', serif" font-size="31.75" fill="#000"><tspan>(j)</tspan></text>
<text transform="translate(505.37 953) scale(1.1228 1)" font-family="'Liberation Serif', 'Times New Roman', serif" font-size="33.9" fill="#000"><tspan>Δ</tspan></text><text transform="translate(529.37 957.2) scale(0.9798 1)" font-family="'Liberation Serif', 'Times New Roman', serif" font-size="21.6" fill="#000"><tspan font-style="italic">d</tspan></text><text transform="translate(548.9 955.5) scale(1.3313 1)" font-family="'Liberation Serif', 'Times New Roman', serif" font-size="31.5" fill="#000"><tspan>=</tspan></text><text transform="translate(580 952.9) scale(0.9389 1)" font-family="'Liberation Serif', 'Times New Roman', serif" font-size="31.1">50</text><text transform="translate(618.6 953) scale(1.1298 1)" font-family="'Liberation Serif', 'Times New Roman', serif" font-size="28" fill="#000"><tspan font-style="italic">μ</tspan><tspan>m</tspan></text>
<text transform="translate(336.24 1033.3) scale(1.1042 1)" font-family="'Liberation Serif', 'Times New Roman', serif" font-size="32" fill="#000"><tspan font-style="italic">x</tspan></text>
<text transform="translate(364.98 1033.3) scale(0.9997 1)" font-family="'Liberation Serif', 'Times New Roman', serif" font-size="33.5" fill="#000"><tspan>(mm)</tspan></text>
<rect x="72" y="1015.6" width="632" height="78.2" fill="#fff"/>
<path d="M93.07 1015.6V1019.8M93.07 1093.8V1089.6M114.13 1015.6V1019.8M114.13 1093.8V1089.6M135.2 1015.6V1019.8M135.2 1093.8V1089.6M156.27 1015.6V1019.8M156.27 1093.8V1089.6M177.33 1015.6V1023.1M177.33 1093.8V1086.3M198.4 1015.6V1019.8M198.4 1093.8V1089.6M219.47 1015.6V1019.8M219.47 1093.8V1089.6M240.53 1015.6V1019.8M240.53 1093.8V1089.6M261.6 1015.6V1019.8M261.6 1093.8V1089.6M282.67 1015.6V1023.1M282.67 1093.8V1086.3M303.73 1015.6V1019.8M303.73 1093.8V1089.6M324.8 1015.6V1019.8M324.8 1093.8V1089.6M345.87 1015.6V1019.8M345.87 1093.8V1089.6M366.93 1015.6V1019.8M366.93 1093.8V1089.6M388 1015.6V1023.1M388 1093.8V1086.3M409.07 1015.6V1019.8M409.07 1093.8V1089.6M430.13 1015.6V1019.8M430.13 1093.8V1089.6M451.2 1015.6V1019.8M451.2 1093.8V1089.6M472.27 1015.6V1019.8M472.27 1093.8V1089.6M493.33 1015.6V1023.1M493.33 1093.8V1086.3M514.4 1015.6V1019.8M514.4 1093.8V1089.6M535.47 1015.6V1019.8M535.47 1093.8V1089.6M556.53 1015.6V1019.8M556.53 1093.8V1089.6M577.6 1015.6V1019.8M577.6 1093.8V1089.6M598.67 1015.6V1023.1M598.67 1093.8V1086.3M619.73 1015.6V1019.8M619.73 1093.8V1089.6M640.8 1015.6V1019.8M640.8 1093.8V1089.6M661.87 1015.6V1019.8M661.87 1093.8V1089.6M682.93 1015.6V1019.8M682.93 1093.8V1089.6M72 1082.63H76M704 1082.63H700M72 1071.46H76M704 1071.46H700M72 1060.29H76M704 1060.29H700M72 1049.11H76M704 1049.11H700M72 1037.94H79M704 1037.94H697M72 1026.77H76M704 1026.77H700" stroke="#000" stroke-width="1.6" fill="none"/>
<rect x="72" y="1015.6" width="632" height="78.2" fill="none" stroke="#000" stroke-width="1.9"/>
<path d="M72 1093.8L72 1075.14L79.91 1075.14L79.91 1078.83L89.21 1078.83L89.21 1057.83L98.52 1057.83L98.52 1075.93L107.82 1075.93L107.82 1057.05L117.13 1057.05L117.13 1078.83L126.44 1078.83L126.44 1087.77L135.74 1087.77L135.74 1066.99L145.05 1066.99L145.05 1081.51L154.35 1081.51L154.35 1078.16L163.66 1078.16L163.66 1061.07L172.97 1061.07L172.97 1082.29L182.27 1082.29L182.27 1063.19L191.58 1063.19L191.58 1083.97L200.88 1083.97L200.88 1062.63L210.19 1062.63L210.19 1089.55L219.5 1089.55L219.5 1072.13L228.8 1072.13L228.8 1078.94L238.11 1078.94L238.11 1083.41L247.41 1083.41L247.41 1059.62L256.72 1059.62L256.72 1076.6L266.03 1076.6L266.03 1063.64L275.33 1063.64L275.33 1081.85L284.64 1081.85L284.64 1072.02L293.94 1072.02L293.94 1088.88L303.25 1088.88L303.25 1071.01L312.56 1071.01L312.56 1090.78L321.86 1090.78L321.86 1063.97L331.17 1063.97L331.17 1075.37L340.47 1075.37L340.47 1065.87L349.78 1065.87L349.78 1076.71L359.09 1076.71L359.09 1073.02L368.39 1073.02L368.39 1091.68L377.7 1091.68L377.7 1076.71L387 1076.71L387 1063.86L396.31 1063.86L396.31 1076.71L405.62 1076.71L405.62 1058.83L414.92 1058.83L414.92 1074.7L424.23 1074.7L424.23 1061.96L433.53 1061.96L433.53 1067.77L442.84 1067.77L442.84 1060.4L452.15 1060.4L452.15 1060.06L461.45 1060.06L461.45 1066.88L470.76 1066.88L470.76 1086.76L480.06 1086.76L480.06 1063.41L489.37 1063.41L489.37 1076.71L498.68 1076.71L498.68 1064.98L507.98 1064.98L507.98 1060.4L517.29 1060.4L517.29 1069.22L526.59 1069.22L526.59 1086.32L535.9 1086.32L535.9 1065.87L545.21 1065.87L545.21 1069.45L554.51 1069.45L554.51 1076.37L563.82 1076.37L563.82 1092.91L573.12 1092.91L573.12 1081.06L582.43 1081.06L582.43 1063.64L591.74 1063.64L591.74 1070.9L601.04 1070.9L601.04 1090.23L610.35 1090.23L610.35 1078.27L619.65 1078.27L619.65 1069.33L628.96 1069.33L628.96 1062.3L638.27 1062.3L638.27 1087.77L647.57 1087.77L647.57 1076.71L656.88 1076.71L656.88 1071.9L666.18 1071.9L666.18 1058.05L675.49 1058.05L675.49 1085.31L684.8 1085.31L684.8 1063.97L694.1 1063.97L694.1 1075.14L704 1075.14L704 1093.8Z" fill="#640e0e"/>
<text x="59.6" y="1049.24" font-family="'Liberation Sans', Arial, sans-serif" font-size="32.5" text-anchor="end">5</text>
<text x="59.6" y="1104.8" font-family="'Liberation Sans', Arial, sans-serif" font-size="32.5" text-anchor="end">0</text>
<text transform="translate(83.29 1047.9) scale(0.9744 1)" font-family="'Liberation Serif', 'Times New Roman', serif" font-size="31.75" fill="#000"><tspan>(k)</tspan></text>
<text transform="translate(505.37 1051.1) scale(1.1228 1)" font-family="'Liberation Serif', 'Times New Roman', serif" font-size="33.9" fill="#000"><tspan>Δ</tspan></text><text transform="translate(529.37 1055.3) scale(0.9798 1)" font-family="'Liberation Serif', 'Times New Roman', serif" font-size="21.6" fill="#000"><tspan font-style="italic">d</tspan></text><text transform="translate(548.9 1053.6) scale(1.3313 1)" font-family="'Liberation Serif', 'Times New Roman', serif" font-size="31.5" fill="#000"><tspan>=</tspan></text><text transform="translate(580 1051) scale(0.9389 1)" font-family="'Liberation Serif', 'Times New Roman', serif" font-size="31.1">10</text><text transform="translate(618.6 1051.1) scale(1.1298 1)" font-family="'Liberation Serif', 'Times New Roman', serif" font-size="28" fill="#000"><tspan font-style="italic">μ</tspan><tspan>m</tspan></text>
<text transform="translate(24 731.52) rotate(-90) scale(1.2768 1)" font-family="'Liberation Serif', 'Times New Roman', serif" font-size="31.7" fill="#000"><tspan font-style="italic">h</tspan></text>
<text transform="translate(24 699.5) rotate(-90) scale(1.0673 1)" font-family="'Liberation Serif', 'Times New Roman', serif" font-size="33" fill="#000"><tspan>(mm)</tspan></text>
<text transform="translate(24 919.12) rotate(-90) scale(1.2768 1)" font-family="'Liberation Serif', 'Times New Roman', serif" font-size="31.7" fill="#000"><tspan font-style="italic">h</tspan></text>
<text transform="translate(24 887.1) rotate(-90) scale(1.0673 1)" font-family="'Liberation Serif', 'Times New Roman', serif" font-size="33" fill="#000"><tspan>(mm)</tspan></text>
<text transform="translate(24 1110.62) rotate(-90) scale(1.2768 1)" font-family="'Liberation Serif', 'Times New Roman', serif" font-size="31.7" fill="#000"><tspan font-style="italic">h</tspan></text>
<text transform="translate(24 1078.6) rotate(-90) scale(1.0673 1)" font-family="'Liberation Serif', 'Times New Roman', serif" font-size="33" fill="#000"><tspan>(mm)</tspan></text>
<text transform="translate(336.24 1133.4) scale(1.1042 1)" font-family="'Liberation Serif', 'Times New Roman', serif" font-size="32" fill="#000"><tspan font-style="italic">x</tspan></text>
<text transform="translate(364.98 1133.4) scale(0.9997 1)" font-family="'Liberation Serif', 'Times New Roman', serif" font-size="33.5" fill="#000"><tspan>(mm)</tspan></text>
<path d="M894.77 12.7V17.1M894.77 474.8V470.4M939.75 12.7V17.1M939.75 474.8V470.4M984.72 12.7V17.1M984.72 474.8V470.4M1029.7 12.7V19.7M1029.7 474.8V467.8M1074.67 12.7V17.1M1074.67 474.8V470.4M1119.65 12.7V17.1M1119.65 474.8V470.4M1164.62 12.7V17.1M1164.62 474.8V470.4M1209.6 12.7V19.7M1209.6 474.8V467.8M1254.58 12.7V17.1M1254.58 474.8V470.4M1299.55 12.7V17.1M1299.55 474.8V470.4M1344.53 12.7V17.1M1344.53 474.8V470.4M849.8 451.69H854.2M1389.5 451.69H1385.1M849.8 428.59H854.2M1389.5 428.59H1385.1M849.8 405.49H854.2M1389.5 405.49H1385.1M849.8 382.38H854.2M1389.5 382.38H1385.1M849.8 359.27H856.8M1389.5 359.27H1382.5M849.8 336.17H854.2M1389.5 336.17H1385.1M849.8 313.06H854.2M1389.5 313.06H1385.1M849.8 289.96H854.2M1389.5 289.96H1385.1M849.8 266.86H854.2M1389.5 266.86H1385.1M849.8 243.75H856.8M1389.5 243.75H1382.5M849.8 220.65H854.2M1389.5 220.65H1385.1M849.8 197.54H854.2M1389.5 197.54H1385.1M849.8 174.44H854.2M1389.5 174.44H1385.1M849.8 151.33H854.2M1389.5 151.33H1385.1M849.8 128.23H856.8M1389.5 128.23H1382.5M849.8 105.12H854.2M1389.5 105.12H1385.1M849.8 82.01H854.2M1389.5 82.01H1385.1M849.8 58.91H854.2M1389.5 58.91H1385.1M849.8 35.81H854.2M1389.5 35.81H1385.1" stroke="#000" stroke-width="2" fill="none"/>
<g clip-path="url(#cf)" fill="none" stroke-linejoin="round" stroke-linecap="round"><path d="M849.8 442.45 850.7 447.26 851.6 450.58 852.5 452.64 853.4 453.71 854.3 454.01 855.2 451.88 856.1 446.01 857 437.15 857.9 426.05 858.79 413.48 859.69 400.19 860.59 386.94 861.49 374.49 862.39 363.58 863.29 354.99 864.19 349.45 865.09 347.75 865.99 350.61 866.89 357.41 867.79 367 868.69 378.24 869.59 390 870.49 401.13 871.39 410.49 872.29 416.94 873.19 419.35 874.09 417.98 874.99 414.82 875.89 411.3 876.78 408.86 877.68 408.83 878.58 411.28 879.48 415.51 880.38 420.8 881.28 426.45 882.18 431.74 883.08 435.96 883.98 438.42 884.88 438.07 885.78 432.86 886.68 423.25 887.58 410.08 888.48 394.19 889.38 376.41 890.28 357.58 891.18 338.54 892.08 320.13 892.98 303.19 893.88 288.55 894.77 277.06 895.67 269.54 896.57 266.86 897.47 270.51 898.37 280.63 899.27 295.98 900.17 315.32 901.07 337.39 901.97 360.96 902.87 384.78 903.77 407.6 904.67 428.18 905.57 445.27 906.47 457.64 907.37 464.03 908.27 463.04 909.17 453.93 910.07 438.14 910.97 417.2 911.87 392.68 912.76 366.13 913.66 339.12 914.56 313.19 915.46 289.92 916.36 270.85 917.26 257.54 918.16 251.56 919.06 252.48 919.96 256.74 920.86 263.77 921.76 273.13 922.66 284.36 923.56 297.03 924.46 310.68 925.36 324.87 926.26 339.15 927.16 353.07 928.06 366.19 928.96 378.05 929.86 388.22 930.75 396.23 931.65 401.65 932.55 404.03 933.45 403.2 934.35 399.75 935.25 394.05 936.15 386.46 937.05 377.35 937.95 367.08 938.85 356.01 939.75 344.5 940.65 332.92 941.55 321.63 942.45 311 943.35 301.38 944.25 293.14 945.15 286.64 946.05 282.24 946.95 280.31 947.85 280.67 948.75 282.27 949.64 284.95 950.54 288.58 951.44 293 952.34 298.09 953.24 303.7 954.14 309.7 955.04 315.95 955.94 322.31 956.84 328.64 957.74 334.81 958.64 340.67 959.54 346.09 960.44 350.93 961.34 355.05 962.24 358.31 963.14 360.58 964.04 361.71 964.94 361.51 965.84 359.74 966.74 356.54 967.63 352.09 968.53 346.59 969.43 340.22 970.33 333.17 971.23 325.61 972.13 317.74 973.03 309.74 973.93 301.79 974.83 294.09 975.73 286.81 976.63 280.14 977.53 274.27 978.43 269.39 979.33 265.66 980.23 263.3 981.13 262.47 982.03 263.06 982.93 264.74 983.83 267.4 984.72 270.89 985.62 275.09 986.52 279.87 987.42 285.11 988.32 290.66 989.22 296.41 990.12 302.22 991.02 307.97 991.92 313.53 992.82 318.76 993.72 323.54 994.62 327.75 995.52 331.24 996.42 333.89 997.32 335.58 998.22 336.17 999.12 335.74 1000.02 334.5 1000.92 332.52 1001.82 329.87 1002.71 326.6 1003.61 322.8 1004.51 318.53 1005.41 313.86 1006.31 308.85 1007.21 303.58 1008.11 298.11 1009.01 292.51 1009.91 286.85 1010.81 281.2 1011.71 275.62 1012.61 270.18 1013.51 264.96 1014.41 260.01 1015.31 255.42 1016.21 251.23 1017.11 247.54 1018.01 244.39 1018.91 241.86 1019.81 240.02 1020.7 238.94 1021.6 238.68 1022.5 239.16 1023.4 240.27 1024.3 241.96 1025.2 244.18 1026.1 246.86 1027 249.96 1027.9 253.42 1028.8 257.17 1029.7 261.17 1030.6 265.37 1031.5 269.69 1032.4 274.1 1033.3 278.52 1034.2 282.91 1035.1 287.22 1036 291.37 1036.9 295.33 1037.8 299.03 1038.69 302.42 1039.59 305.44 1040.49 308.04 1041.39 310.15 1042.29 311.73 1043.19 312.72 1044.09 313.06 1044.99 312.8 1045.89 312.02 1046.79 310.76 1047.69 309.06 1048.59 306.94 1049.49 304.44 1050.39 301.58 1051.29 298.41 1052.19 294.95 1053.09 291.23 1053.99 287.29 1054.89 283.15 1055.79 278.86 1056.68 274.44 1057.58 269.92 1058.48 265.34 1059.38 260.73 1060.28 256.12 1061.18 251.54 1062.08 247.02 1062.98 242.6 1063.88 238.31 1064.78 234.18 1065.68 230.24 1066.58 226.52 1067.48 223.06 1068.38 219.88 1069.28 217.03 1070.18 214.52 1071.08 212.4 1071.98 210.7 1072.88 209.44 1073.78 208.67 1074.67 208.4 1075.57 208.56 1076.47 209.02 1077.37 209.77 1078.27 210.8 1079.17 212.08 1080.07 213.6 1080.97 215.34 1081.87 217.29 1082.77 219.42 1083.67 221.72 1084.57 224.18 1085.47 226.78 1086.37 229.5 1087.27 232.32 1088.17 235.23 1089.07 238.21 1089.97 241.24 1090.87 244.31 1091.77 247.41 1092.66 250.5 1093.56 253.58 1094.46 256.63 1095.36 259.63 1096.26 262.57 1097.16 265.43 1098.06 268.2 1098.96 270.84 1099.86 273.36 1100.76 275.73 1101.66 277.93 1102.56 279.95 1103.46 281.78 1104.36 283.39 1105.26 284.77 1106.16 285.9 1107.06 286.76 1107.96 287.34 1108.86 287.62 1109.76 287.62 1110.65 287.43 1111.55 287.07 1112.45 286.55 1113.35 285.88 1114.25 285.05 1115.15 284.07 1116.05 282.95 1116.95 281.7 1117.85 280.31 1118.75 278.79 1119.65 277.15 1120.55 275.4 1121.45 273.53 1122.35 271.55 1123.25 269.47 1124.15 267.29 1125.05 265.02 1125.95 262.66 1126.85 260.21 1127.75 257.69 1128.64 255.09 1129.54 252.43 1130.44 249.7 1131.34 246.92 1132.24 244.08 1133.14 241.19 1134.04 238.26 1134.94 235.29 1135.84 232.28 1136.74 229.25 1137.64 226.19 1138.54 223.12 1139.44 220.03 1140.34 216.93 1141.24 213.83 1142.14 210.72 1143.04 207.63 1143.94 204.54 1144.84 201.47 1145.74 198.42 1146.63 195.39 1147.53 192.4 1148.43 189.44 1149.33 186.52 1150.23 183.65 1151.13 180.82 1152.03 178.05 1152.93 175.35 1153.83 172.7 1154.73 170.13 1155.63 167.63 1156.53 165.21 1157.43 162.88 1158.33 160.63 1159.23 158.48 1160.13 156.43 1161.03 154.48 1161.93 152.65 1162.83 150.93 1163.73 149.32 1164.62 147.84 1165.52 146.49 1166.42 145.28 1167.32 144.2 1168.22 143.27 1169.12 142.49 1170.02 141.86 1170.92 141.39 1171.82 141.08 1172.72 140.94 1173.62 140.96 1174.52 141.09 1175.42 141.33 1176.32 141.66 1177.22 142.09 1178.12 142.6 1179.02 143.18 1179.92 143.84 1180.82 144.56 1181.72 145.33 1182.62 146.16 1183.51 147.03 1184.41 147.93 1185.31 148.87 1186.21 149.83 1187.11 150.81 1188.01 151.81 1188.91 152.83 1189.81 153.88 1190.71 154.95 1191.61 156.04 1192.51 157.16 1193.41 158.3 1194.31 159.47 1195.21 160.67 1196.11 161.89 1197.01 163.14 1197.91 164.41 1198.81 165.72 1199.71 167.05 1200.61 168.42 1201.5 169.81 1202.4 171.24 1203.3 172.69 1204.2 174.18 1205.1 175.69 1206 177.23 1206.9 178.79 1207.8 180.37 1208.7 181.98 1209.6 183.61 1210.5 185.25 1211.4 186.92 1212.3 188.6 1213.2 190.3 1214.1 192.02 1215 193.74 1215.9 195.48 1216.8 197.23 1217.7 198.99 1218.6 200.76 1219.49 202.54 1220.39 204.32 1221.29 206.11 1222.19 207.91 1223.09 209.71 1223.99 211.52 1224.89 213.33 1225.79 215.15 1226.69 216.97 1227.59 218.79 1228.49 220.61 1229.39 222.44 1230.29 224.27 1231.19 226.1 1232.09 227.92 1232.99 229.75 1233.89 231.58 1234.79 233.4 1235.69 235.23 1236.59 237.05 1237.48 238.86 1238.38 240.68 1239.28 242.48 1240.18 244.29 1241.08 246.09 1241.98 247.88 1242.88 249.67 1243.78 251.44 1244.68 253.22 1245.58 254.98 1246.48 256.74 1247.38 258.48 1248.28 260.22 1249.18 261.94 1250.08 263.66 1250.98 265.37 1251.88 267.06 1252.78 268.74 1253.68 270.42 1254.58 272.08 1255.47 273.73 1256.37 275.37 1257.27 277 1258.17 278.62 1259.07 280.23 1259.97 281.83 1260.87 283.42 1261.77 284.99 1262.67 286.56 1263.57 288.11 1264.47 289.65 1265.37 291.19 1266.27 292.71 1267.17 294.22 1268.07 295.72 1268.97 297.21 1269.87 298.69 1270.77 300.16 1271.67 301.62 1272.57 303.07 1273.46 304.51 1274.36 305.94 1275.26 307.36 1276.16 308.77 1277.06 310.17 1277.96 311.57 1278.86 312.95 1279.76 314.33 1280.66 315.7 1281.56 317.06 1282.46 318.41 1283.36 319.76 1284.26 321.09 1285.16 322.41 1286.06 323.72 1286.96 325.02 1287.86 326.31 1288.76 327.58 1289.66 328.84 1290.56 330.09 1291.45 331.32 1292.35 332.53 1293.25 333.73 1294.15 334.92 1295.05 336.08 1295.95 337.23 1296.85 338.35 1297.75 339.46 1298.65 340.55 1299.55 341.63 1300.45 342.68 1301.35 343.72 1302.25 344.74 1303.15 345.75 1304.05 346.74 1304.95 347.72 1305.85 348.68 1306.75 349.63 1307.65 350.57 1308.55 351.5 1309.44 352.41 1310.34 353.31 1311.24 354.2 1312.14 355.08 1313.04 355.96 1313.94 356.82 1314.84 357.67 1315.74 358.52 1316.64 359.36 1317.54 360.19 1318.44 361.01 1319.34 361.83 1320.24 362.64 1321.14 363.45 1322.04 364.25 1322.94 365.05 1323.84 365.84 1324.74 366.63 1325.64 367.41 1326.54 368.19 1327.43 368.97 1328.33 369.75 1329.23 370.52 1330.13 371.3 1331.03 372.07 1331.93 372.83 1332.83 373.59 1333.73 374.34 1334.63 375.09 1335.53 375.83 1336.43 376.57 1337.33 377.29 1338.23 378.01 1339.13 378.71 1340.03 379.41 1340.93 380.09 1341.83 380.76 1342.73 381.42 1343.63 382.06 1344.53 382.69 1345.42 383.31 1346.32 383.91 1347.22 384.5 1348.12 385.08 1349.02 385.64 1349.92 386.2 1350.82 386.74 1351.72 387.28 1352.62 387.8 1353.52 388.32 1354.42 388.83 1355.32 389.34 1356.22 389.84 1357.12 390.34 1358.02 390.83 1358.92 391.32 1359.82 391.8 1360.72 392.29 1361.62 392.77 1362.51 393.25 1363.41 393.73 1364.31 394.2 1365.21 394.67 1366.11 395.14 1367.01 395.6 1367.91 396.05 1368.81 396.5 1369.71 396.94 1370.61 397.37 1371.51 397.79 1372.41 398.21 1373.31 398.62 1374.21 399.02 1375.11 399.41 1376.01 399.78 1376.91 400.15 1377.81 400.51 1378.71 400.86 1379.61 401.19 1380.51 401.53 1381.4 401.85 1382.3 402.17 1383.2 402.48 1384.1 402.79 1385 403.09 1385.9 403.39 1386.8 403.68 1387.7 403.98 1388.6 404.27 1389.5 404.56" stroke="#cccccc" stroke-width="3.6"/><path d="M849.8 434.83 850.7 444.48 851.6 452.68 852.5 458.48 853.4 460.92 854.3 459.31 855.2 454.06 856.1 445.78 857 435.11 857.9 422.66 858.79 409.06 859.69 394.92 860.59 380.88 861.49 367.56 862.39 355.58 863.29 345.56 864.19 338.13 865.09 333.9 865.99 333.54 866.89 337.41 867.79 344.81 868.69 354.88 869.59 366.76 870.49 379.58 871.39 392.48 872.29 404.62 873.19 415.12 874.09 423.12 874.99 427.77 875.89 428.27 876.78 425.27 877.68 420.72 878.58 416.55 879.48 414.73 880.38 415.63 881.28 417.29 882.18 418.19 883.08 416.44 883.98 411.5 884.88 403.79 885.78 393.79 886.68 381.93 887.58 368.65 888.48 354.42 889.38 339.67 890.28 324.85 891.18 310.42 892.08 296.81 892.98 284.48 893.88 273.87 894.77 265.43 895.67 259.61 896.57 256.85 897.47 258.65 898.37 267.52 899.27 282.18 900.17 301.14 901.07 322.87 901.97 345.88 902.87 368.67 903.77 389.73 904.67 407.55 905.57 420.63 906.47 427.48 907.37 426.85 908.27 419.55 909.17 406.73 910.07 389.52 910.97 369.02 911.87 346.35 912.76 322.61 913.66 298.94 914.56 276.43 915.46 256.21 916.36 239.39 917.26 227.07 918.16 220.38 919.06 220.14 919.96 225.03 920.86 234.09 921.76 246.59 922.66 261.77 923.56 278.88 924.46 297.19 925.36 315.95 926.26 334.41 927.16 351.83 928.06 367.46 928.96 380.55 929.86 390.36 930.75 396.14 931.65 397.24 932.55 394.61 933.45 389.07 934.35 381.08 935.25 371.1 936.15 359.57 937.05 346.95 937.95 333.69 938.85 320.26 939.75 307.09 940.65 294.65 941.55 283.4 942.45 273.77 943.35 266.24 944.25 261.24 945.15 259.25 946.05 259.8 946.95 261.66 947.85 264.65 948.75 268.59 949.64 273.33 950.54 278.67 951.44 284.47 952.34 290.53 953.24 296.7 954.14 302.8 955.04 308.67 955.94 314.12 956.84 318.99 957.74 323.1 958.64 326.3 959.54 328.4 960.44 329.23 961.34 328.93 962.24 327.92 963.14 326.25 964.04 324.01 964.94 321.25 965.84 318.03 966.74 314.44 967.63 310.52 968.53 306.35 969.43 301.99 970.33 297.51 971.23 292.98 972.13 288.45 973.03 284 973.93 279.69 974.83 275.59 975.73 271.76 976.63 268.27 977.53 265.19 978.43 262.57 979.33 260.5 980.23 259.02 981.13 258.21 982.03 258.14 982.93 258.84 983.83 260.24 984.72 262.23 985.62 264.73 986.52 267.62 987.42 270.83 988.32 274.24 989.22 277.76 990.12 281.3 991.02 284.75 991.92 288.03 992.82 291.02 993.72 293.65 994.62 295.8 995.52 297.39 996.42 298.31 997.32 298.48 998.22 298.06 999.12 297.15 1000.02 295.78 1000.92 293.99 1001.82 291.83 1002.71 289.32 1003.61 286.52 1004.51 283.45 1005.41 280.15 1006.31 276.67 1007.21 273.05 1008.11 269.31 1009.01 265.5 1009.91 261.66 1010.81 257.82 1011.71 254.03 1012.61 250.32 1013.51 246.73 1014.41 243.3 1015.31 240.07 1016.21 237.08 1017.11 234.36 1018.01 231.95 1018.91 229.9 1019.81 228.23 1020.7 226.99 1021.6 226.22 1022.5 225.96 1023.4 226.21 1024.3 226.95 1025.2 228.11 1026.1 229.67 1027 231.58 1027.9 233.79 1028.8 236.27 1029.7 238.96 1030.6 241.82 1031.5 244.82 1032.4 247.9 1033.3 251.03 1034.2 254.15 1035.1 257.24 1036 260.23 1036.9 263.1 1037.8 265.79 1038.69 268.26 1039.59 270.48 1040.49 272.38 1041.39 273.94 1042.29 275.11 1043.19 275.84 1044.09 276.1 1044.99 275.86 1045.89 275.18 1046.79 274.08 1047.69 272.58 1048.59 270.72 1049.49 268.52 1050.39 266.01 1051.29 263.22 1052.19 260.18 1053.09 256.91 1053.99 253.45 1054.89 249.82 1055.79 246.05 1056.68 242.16 1057.58 238.19 1058.48 234.17 1059.38 230.12 1060.28 226.07 1061.18 222.04 1062.08 218.07 1062.98 214.19 1063.88 210.42 1064.78 206.79 1065.68 203.32 1066.58 200.06 1067.48 197.02 1068.38 194.23 1069.28 191.72 1070.18 189.52 1071.08 187.66 1071.98 186.16 1072.88 185.06 1073.78 184.37 1074.67 184.14 1075.57 184.27 1076.47 184.67 1077.37 185.31 1078.27 186.19 1079.17 187.28 1080.07 188.58 1080.97 190.07 1081.87 191.73 1082.77 193.55 1083.67 195.52 1084.57 197.62 1085.47 199.84 1086.37 202.16 1087.27 204.57 1088.17 207.06 1089.07 209.6 1089.97 212.2 1090.87 214.82 1091.77 217.46 1092.66 220.1 1093.56 222.73 1094.46 225.34 1095.36 227.91 1096.26 230.42 1097.16 232.86 1098.06 235.22 1098.96 237.48 1099.86 239.63 1100.76 241.65 1101.66 243.54 1102.56 245.26 1103.46 246.82 1104.36 248.2 1105.26 249.37 1106.16 250.34 1107.06 251.08 1107.96 251.57 1108.86 251.81 1109.76 251.81 1110.65 251.62 1111.55 251.26 1112.45 250.74 1113.35 250.06 1114.25 249.24 1115.15 248.26 1116.05 247.14 1116.95 245.88 1117.85 244.5 1118.75 242.98 1119.65 241.34 1120.55 239.58 1121.45 237.71 1122.35 235.73 1123.25 233.65 1124.15 231.47 1125.05 229.2 1125.95 226.84 1126.85 224.4 1127.75 221.88 1128.64 219.28 1129.54 216.62 1130.44 213.89 1131.34 211.11 1132.24 208.27 1133.14 205.38 1134.04 202.45 1134.94 199.48 1135.84 196.47 1136.74 193.44 1137.64 190.38 1138.54 187.31 1139.44 184.22 1140.34 181.12 1141.24 178.01 1142.14 174.91 1143.04 171.81 1143.94 168.73 1144.84 165.66 1145.74 162.61 1146.63 159.58 1147.53 156.59 1148.43 153.63 1149.33 150.71 1150.23 147.83 1151.13 145.01 1152.03 142.24 1152.93 139.53 1153.83 136.89 1154.73 134.32 1155.63 131.82 1156.53 129.4 1157.43 127.06 1158.33 124.82 1159.23 122.67 1160.13 120.62 1161.03 118.67 1161.93 116.83 1162.83 115.11 1163.73 113.51 1164.62 112.03 1165.52 110.68 1166.42 109.47 1167.32 108.39 1168.22 107.46 1169.12 106.67 1170.02 106.04 1170.92 105.57 1171.82 105.27 1172.72 105.13 1173.62 105.14 1174.52 105.22 1175.42 105.38 1176.32 105.6 1177.22 105.89 1178.12 106.24 1179.02 106.66 1179.92 107.13 1180.82 107.67 1181.72 108.26 1182.62 108.9 1183.51 109.6 1184.41 110.35 1185.31 111.15 1186.21 112 1187.11 112.89 1188.01 113.83 1188.91 114.81 1189.81 115.83 1190.71 116.88 1191.61 117.98 1192.51 119.11 1193.41 120.27 1194.31 121.46 1195.21 122.69 1196.11 123.94 1197.01 125.21 1197.91 126.52 1198.81 127.84 1199.71 129.18 1200.61 130.54 1201.5 131.92 1202.4 133.32 1203.3 134.72 1204.2 136.15 1205.1 137.58 1206 139.04 1206.9 140.5 1207.8 141.98 1208.7 143.48 1209.6 144.98 1210.5 146.51 1211.4 148.04 1212.3 149.59 1213.2 151.15 1214.1 152.73 1215 154.32 1215.9 155.92 1216.8 157.53 1217.7 159.16 1218.6 160.8 1219.49 162.45 1220.39 164.11 1221.29 165.79 1222.19 167.48 1223.09 169.18 1223.99 170.89 1224.89 172.61 1225.79 174.35 1226.69 176.09 1227.59 177.85 1228.49 179.62 1229.39 181.4 1230.29 183.19 1231.19 184.99 1232.09 186.8 1232.99 188.63 1233.89 190.46 1234.79 192.3 1235.69 194.15 1236.59 196.01 1237.48 197.88 1238.38 199.76 1239.28 201.64 1240.18 203.53 1241.08 205.42 1241.98 207.32 1242.88 209.22 1243.78 211.13 1244.68 213.04 1245.58 214.95 1246.48 216.87 1247.38 218.78 1248.28 220.7 1249.18 222.62 1250.08 224.53 1250.98 226.45 1251.88 228.36 1252.78 230.27 1253.68 232.18 1254.58 234.08 1255.47 235.98 1256.37 237.88 1257.27 239.77 1258.17 241.65 1259.07 243.53 1259.97 245.4 1260.87 247.26 1261.77 249.12 1262.67 250.96 1263.57 252.8 1264.47 254.62 1265.37 256.44 1266.27 258.24 1267.17 260.03 1268.07 261.82 1268.97 263.58 1269.87 265.34 1270.77 267.08 1271.67 268.82 1272.57 270.53 1273.46 272.24 1274.36 273.93 1275.26 275.61 1276.16 277.28 1277.06 278.93 1277.96 280.57 1278.86 282.19 1279.76 283.8 1280.66 285.4 1281.56 286.98 1282.46 288.54 1283.36 290.09 1284.26 291.63 1285.16 293.15 1286.06 294.65 1286.96 296.14 1287.86 297.61 1288.76 299.06 1289.66 300.5 1290.56 301.92 1291.45 303.32 1292.35 304.71 1293.25 306.08 1294.15 307.43 1295.05 308.76 1295.95 310.08 1296.85 311.37 1297.75 312.65 1298.65 313.91 1299.55 315.15 1300.45 316.38 1301.35 317.59 1302.25 318.78 1303.15 319.95 1304.05 321.11 1304.95 322.25 1305.85 323.38 1306.75 324.49 1307.65 325.59 1308.55 326.67 1309.44 327.74 1310.34 328.8 1311.24 329.84 1312.14 330.87 1313.04 331.89 1313.94 332.89 1314.84 333.89 1315.74 334.87 1316.64 335.84 1317.54 336.8 1318.44 337.74 1319.34 338.68 1320.24 339.61 1321.14 340.53 1322.04 341.44 1322.94 342.34 1323.84 343.23 1324.74 344.12 1325.64 344.99 1326.54 345.86 1327.43 346.72 1328.33 347.58 1329.23 348.42 1330.13 349.27 1331.03 350.1 1331.93 350.93 1332.83 351.75 1333.73 352.56 1334.63 353.37 1335.53 354.17 1336.43 354.96 1337.33 355.75 1338.23 356.53 1339.13 357.3 1340.03 358.06 1340.93 358.82 1341.83 359.57 1342.73 360.31 1343.63 361.04 1344.53 361.77 1345.42 362.49 1346.32 363.2 1347.22 363.9 1348.12 364.59 1349.02 365.28 1349.92 365.96 1350.82 366.63 1351.72 367.29 1352.62 367.94 1353.52 368.58 1354.42 369.22 1355.32 369.85 1356.22 370.47 1357.12 371.07 1358.02 371.67 1358.92 372.27 1359.82 372.85 1360.72 373.42 1361.62 373.99 1362.51 374.54 1363.41 375.09 1364.31 375.63 1365.21 376.16 1366.11 376.69 1367.01 377.21 1367.91 377.72 1368.81 378.22 1369.71 378.72 1370.61 379.21 1371.51 379.7 1372.41 380.18 1373.31 380.65 1374.21 381.12 1375.11 381.59 1376.01 382.05 1376.91 382.5 1377.81 382.96 1378.71 383.41 1379.61 383.85 1380.51 384.29 1381.4 384.74 1382.3 385.17 1383.2 385.61 1384.1 386.04 1385 386.47 1385.9 386.9 1386.8 387.33 1387.7 387.76 1388.6 388.19 1389.5 388.62" stroke="#cbcb88" stroke-width="3.6"/><path d="M849.8 434.83 850.7 444.48 851.6 452.68 852.5 458.48 853.4 460.92 854.3 459.31 855.2 454.06 856.1 445.78 857 435.11 857.9 422.66 858.79 409.06 859.69 394.92 860.59 380.88 861.49 367.56 862.39 355.58 863.29 345.56 864.19 338.13 865.09 333.9 865.99 333.54 866.89 337.41 867.79 344.81 868.69 354.88 869.59 366.76 870.49 379.58 871.39 392.48 872.29 404.62 873.19 415.12 874.09 423.12 874.99 427.77 875.89 428.27 876.78 425.27 877.68 420.72 878.58 416.55 879.48 414.73 880.38 415.63 881.28 417.29 882.18 418.19 883.08 416.44 883.98 411.5 884.88 403.79 885.78 393.79 886.68 381.93 887.58 368.65 888.48 354.42 889.38 339.67 890.28 324.85 891.18 310.42 892.08 296.81 892.98 284.48 893.88 273.87 894.77 265.43 895.67 259.61 896.57 256.85 897.47 258.65 898.37 267.52 899.27 282.18 900.17 301.14 901.07 322.87 901.97 345.88 902.87 368.67 903.77 389.73 904.67 407.55 905.57 420.63 906.47 427.48 907.37 426.85 908.27 419.55 909.17 406.73 910.07 389.52 910.97 369.02 911.87 346.35 912.76 322.61 913.66 298.94 914.56 276.43 915.46 256.21 916.36 239.39 917.26 227.07 918.16 220.38 919.06 220.14 919.96 225.03 920.86 234.09 921.76 246.59 922.66 261.77 923.56 278.88 924.46 297.19 925.36 315.95 926.26 334.41 927.16 351.83 928.06 367.46 928.96 380.55 929.86 390.36 930.75 396.14 931.65 397.24 932.55 394.61 933.45 389.07 934.35 381.08 935.25 371.1 936.15 359.57 937.05 346.95 937.95 333.69 938.85 320.26 939.75 307.09 940.65 294.65 941.55 283.4 942.45 273.77 943.35 266.24 944.25 261.24 945.15 259.25 946.05 259.8 946.95 261.66 947.85 264.65 948.75 268.59 949.64 273.33 950.54 278.67 951.44 284.47 952.34 290.53 953.24 296.7 954.14 302.8 955.04 308.67 955.94 314.12 956.84 318.99 957.74 323.1 958.64 326.3 959.54 328.4 960.44 329.23 961.34 328.93 962.24 327.92 963.14 326.25 964.04 324.01 964.94 321.25 965.84 318.03 966.74 314.44 967.63 310.52 968.53 306.35 969.43 301.99 970.33 297.51 971.23 292.98 972.13 288.45 973.03 284 973.93 279.69 974.83 275.59 975.73 271.76 976.63 268.27 977.53 265.19 978.43 262.57 979.33 260.5 980.23 259.02 981.13 258.21 982.03 258.14 982.93 258.84 983.83 260.24 984.72 262.23 985.62 264.73 986.52 267.62 987.42 270.83 988.32 274.24 989.22 277.76 990.12 281.3 991.02 284.75 991.92 288.03 992.82 291.02 993.72 293.65 994.62 295.8 995.52 297.39 996.42 298.31 997.32 298.48 998.22 298.06 999.12 297.15 1000.02 295.78 1000.92 293.99 1001.82 291.83 1002.71 289.32 1003.61 286.52 1004.51 283.45 1005.41 280.15 1006.31 276.67 1007.21 273.05 1008.11 269.31 1009.01 265.5 1009.91 261.66 1010.81 257.82 1011.71 254.03 1012.61 250.32 1013.51 246.73 1014.41 243.3 1015.31 240.07 1016.21 237.08 1017.11 234.36 1018.01 231.95 1018.91 229.9 1019.81 228.23 1020.7 226.99 1021.6 226.22 1022.5 225.96 1023.4 226.21 1024.3 226.95 1025.2 228.11 1026.1 229.67 1027 231.58 1027.9 233.79 1028.8 236.27 1029.7 238.96 1030.6 241.82 1031.5 244.82 1032.4 247.9 1033.3 251.03 1034.2 254.15 1035.1 257.24 1036 260.23 1036.9 263.1 1037.8 265.79 1038.69 268.26 1039.59 270.48 1040.49 272.38 1041.39 273.94 1042.29 275.11 1043.19 275.84 1044.09 276.1 1044.99 275.86 1045.89 275.18 1046.79 274.08 1047.69 272.58 1048.59 270.72 1049.49 268.52 1050.39 266.01 1051.29 263.22 1052.19 260.18 1053.09 256.91 1053.99 253.45 1054.89 249.82 1055.79 246.05 1056.68 242.16 1057.58 238.19 1058.48 234.17 1059.38 230.12 1060.28 226.07 1061.18 222.04 1062.08 218.07 1062.98 214.19 1063.88 210.42 1064.78 206.79 1065.68 203.32 1066.58 200.06 1067.48 197.02 1068.38 194.23 1069.28 191.72 1070.18 189.52 1071.08 187.66 1071.98 186.16 1072.88 185.06 1073.78 184.37 1074.67 184.14 1075.57 184.27 1076.47 184.67 1077.37 185.31 1078.27 186.19 1079.17 187.28 1080.07 188.58 1080.97 190.07 1081.87 191.73 1082.77 193.55 1083.67 195.52 1084.57 197.62 1085.47 199.84 1086.37 202.16 1087.27 204.57 1088.17 207.06 1089.07 209.6 1089.97 212.2 1090.87 214.82 1091.77 217.46 1092.66 220.1 1093.56 222.73 1094.46 225.34 1095.36 227.91 1096.26 230.42 1097.16 232.86 1098.06 235.22 1098.96 237.48 1099.86 239.63 1100.76 241.65 1101.66 243.54 1102.56 245.26 1103.46 246.82 1104.36 248.2 1105.26 249.37 1106.16 250.34 1107.06 251.08 1107.96 251.57 1108.86 251.81 1109.76 251.81 1110.65 251.62 1111.55 251.26 1112.45 250.74 1113.35 250.06 1114.25 249.24 1115.15 248.26 1116.05 247.14 1116.95 245.88 1117.85 244.5 1118.75 242.98 1119.65 241.34 1120.55 239.58 1121.45 237.71 1122.35 235.73 1123.25 233.65 1124.15 231.47 1125.05 229.2 1125.95 226.84 1126.85 224.4 1127.75 221.88 1128.64 219.28 1129.54 216.62 1130.44 213.89 1131.34 211.11 1132.24 208.27 1133.14 205.38 1134.04 202.45 1134.94 199.48 1135.84 196.47 1136.74 193.44 1137.64 190.38 1138.54 187.31 1139.44 184.22 1140.34 181.12 1141.24 178.01 1142.14 174.91 1143.04 171.81 1143.94 168.73 1144.84 165.66 1145.74 162.61 1146.63 159.58 1147.53 156.59 1148.43 153.63 1149.33 150.71 1150.23 147.83 1151.13 145.01 1152.03 142.24 1152.93 139.53 1153.83 136.89 1154.73 134.32 1155.63 131.82 1156.53 129.4 1157.43 127.06 1158.33 124.82 1159.23 122.67 1160.13 120.62 1161.03 118.67 1161.93 116.83 1162.83 115.11 1163.73 113.51 1164.62 112.03 1165.52 110.68 1166.42 109.47 1167.32 108.39 1168.22 107.46 1169.12 106.67 1170.02 106.04 1170.92 105.57 1171.82 105.27 1172.72 105.13 1173.62 105.14 1174.52 105.22 1175.42 105.38 1176.32 105.6 1177.22 105.89 1178.12 106.24 1179.02 106.66 1179.92 107.13 1180.82 107.67 1181.72 108.26 1182.62 108.9 1183.51 109.6 1184.41 110.35 1185.31 111.15 1186.21 112 1187.11 112.89 1188.01 113.83 1188.91 114.81 1189.81 115.83 1190.71 116.88 1191.61 117.98 1192.51 119.11 1193.41 120.27 1194.31 121.46 1195.21 122.69 1196.11 123.94 1197.01 125.21 1197.91 126.52 1198.81 127.84 1199.71 129.18 1200.61 130.54 1201.5 131.92 1202.4 133.32 1203.3 134.72 1204.2 136.15 1205.1 137.58 1206 139.04 1206.9 140.5 1207.8 141.98 1208.7 143.48 1209.6 144.98 1210.5 146.51 1211.4 148.04 1212.3 149.59 1213.2 151.15 1214.1 152.73 1215 154.32 1215.9 155.92 1216.8 157.53 1217.7 159.16 1218.6 160.8 1219.49 162.45 1220.39 164.11 1221.29 165.79 1222.19 167.48 1223.09 169.18 1223.99 170.89 1224.89 172.61 1225.79 174.35 1226.69 176.09 1227.59 177.85 1228.49 179.62 1229.39 181.4 1230.29 183.19 1231.19 184.99 1232.09 186.8 1232.99 188.63 1233.89 190.46 1234.79 192.3 1235.69 194.15 1236.59 196.01 1237.48 197.88 1238.38 199.76 1239.28 201.64 1240.18 203.53 1241.08 205.42 1241.98 207.32 1242.88 209.22 1243.78 211.13 1244.68 213.04 1245.58 214.95 1246.48 216.87 1247.38 218.78 1248.28 220.7 1249.18 222.62 1250.08 224.53 1250.98 226.45 1251.88 228.36 1252.78 230.27 1253.68 232.18 1254.58 234.08 1255.47 235.98 1256.37 237.88 1257.27 239.77 1258.17 241.65 1259.07 243.53 1259.97 245.4 1260.87 247.26 1261.77 249.12 1262.67 250.96 1263.57 252.8 1264.47 254.62 1265.37 256.44 1266.27 258.24 1267.17 260.03 1268.07 261.82 1268.97 263.58 1269.87 265.34 1270.77 267.08 1271.67 268.82 1272.57 270.53 1273.46 272.24 1274.36 273.93 1275.26 275.61 1276.16 277.28 1277.06 278.93 1277.96 280.57 1278.86 282.19 1279.76 283.8 1280.66 285.4 1281.56 286.98 1282.46 288.54 1283.36 290.09 1284.26 291.63 1285.16 293.15 1286.06 294.65 1286.96 296.14 1287.86 297.61 1288.76 299.06 1289.66 300.5 1290.56 301.92 1291.45 303.32 1292.35 304.71 1293.25 306.08 1294.15 307.43 1295.05 308.76 1295.95 310.08 1296.85 311.37 1297.75 312.65 1298.65 313.91 1299.55 315.15 1300.45 316.38 1301.35 317.59 1302.25 318.78 1303.15 319.95 1304.05 321.11 1304.95 322.25 1305.85 323.38 1306.75 324.49 1307.65 325.59 1308.55 326.67 1309.44 327.74 1310.34 328.8 1311.24 329.84 1312.14 330.87 1313.04 331.89 1313.94 332.89 1314.84 333.89 1315.74 334.87 1316.64 335.84 1317.54 336.8 1318.44 337.74 1319.34 338.68 1320.24 339.61 1321.14 340.53 1322.04 341.44 1322.94 342.34 1323.84 343.23 1324.74 344.12 1325.64 344.99 1326.54 345.86 1327.43 346.72 1328.33 347.58 1329.23 348.42 1330.13 349.27 1331.03 350.1 1331.93 350.93 1332.83 351.75 1333.73 352.56 1334.63 353.37 1335.53 354.17 1336.43 354.96 1337.33 355.75 1338.23 356.53 1339.13 357.3 1340.03 358.06 1340.93 358.82 1341.83 359.57 1342.73 360.31 1343.63 361.04 1344.53 361.77 1345.42 362.49 1346.32 363.2 1347.22 363.9 1348.12 364.59 1349.02 365.28 1349.92 365.96 1350.82 366.63 1351.72 367.29 1352.62 367.94 1353.52 368.58 1354.42 369.22 1355.32 369.85 1356.22 370.47 1357.12 371.07 1358.02 371.67 1358.92 372.27 1359.82 372.85 1360.72 373.42 1361.62 373.99 1362.51 374.54 1363.41 375.09 1364.31 375.63 1365.21 376.16 1366.11 376.69 1367.01 377.21 1367.91 377.72 1368.81 378.22 1369.71 378.72 1370.61 379.21 1371.51 379.7 1372.41 380.18 1373.31 380.65 1374.21 381.12 1375.11 381.59 1376.01 382.05 1376.91 382.5 1377.81 382.96 1378.71 383.41 1379.61 383.85 1380.51 384.29 1381.4 384.74 1382.3 385.17 1383.2 385.61 1384.1 386.04 1385 386.47 1385.9 386.9 1386.8 387.33 1387.7 387.76 1388.6 388.19 1389.5 388.62" stroke="#c9c93c" stroke-width="3.6"/><path d="M849.8 436.91 850.7 442.25 851.6 446.12 852.5 448.76 853.4 450.4 854.3 451.27 855.2 451.63 856.1 451.69 857 450.1 857.9 444.23 858.79 435.07 859.69 423.71 860.59 411.26 861.49 398.81 862.39 387.45 863.29 378.29 864.19 372.42 865.09 370.97 865.99 375.36 866.89 384.18 867.79 395.09 868.69 405.77 869.59 413.89 870.49 417.12 871.39 414.99 872.29 409.25 873.19 400.88 874.09 390.85 874.99 380.13 875.89 369.71 876.78 360.56 877.68 353.65 878.58 349.96 879.48 350.46 880.38 355.18 881.28 362.9 882.18 372.34 883.08 382.22 883.98 391.28 884.88 398.23 885.78 401.8 886.68 401.02 887.58 396.47 888.48 388.93 889.38 379.12 890.28 367.8 891.18 355.71 892.08 343.57 892.98 332.14 893.88 322.15 894.77 314.35 895.67 309.47 896.57 308.25 897.47 310.99 898.37 316.92 899.27 325.17 900.17 334.84 901.07 345.04 901.97 354.89 902.87 363.49 903.77 369.96 904.67 373.4 905.57 372.99 906.47 368.79 907.37 361.59 908.27 352.2 909.17 341.44 910.07 330.1 910.97 319.01 911.87 308.98 912.76 300.81 913.66 295.31 914.56 293.3 915.46 294.42 916.36 297.51 917.26 302.1 918.16 307.77 919.06 314.05 919.96 320.52 920.86 326.71 921.76 332.2 922.66 336.53 923.56 339.26 924.46 339.93 925.36 338.07 926.26 333.93 927.16 328.04 928.06 320.89 928.96 312.98 929.86 304.82 930.75 296.91 931.65 289.76 932.55 283.86 933.45 279.73 934.35 277.87 935.25 278.51 936.15 281.11 937.05 285.24 937.95 290.47 938.85 296.38 939.75 302.54 940.65 308.54 941.55 313.94 942.45 318.32 943.35 321.26 944.25 322.33 945.15 321.37 946.05 318.66 946.95 314.49 947.85 309.15 948.75 302.92 949.64 296.07 950.54 288.9 951.44 281.69 952.34 274.72 953.24 268.27 954.14 262.63 955.04 258.08 955.94 254.91 956.84 253.39 957.74 253.71 958.64 255.62 959.54 258.87 960.44 263.2 961.34 268.37 962.24 274.14 963.14 280.26 964.04 286.5 964.94 292.6 965.84 298.32 966.74 303.42 967.63 307.65 968.53 310.77 969.43 312.54 970.33 312.72 971.23 311.45 972.13 308.92 973.03 305.28 973.93 300.7 974.83 295.34 975.73 289.36 976.63 282.93 977.53 276.21 978.43 269.36 979.33 262.54 980.23 255.92 981.13 249.65 982.03 243.91 982.93 238.84 983.83 234.62 984.72 231.4 985.62 229.35 986.52 228.63 987.42 229.27 988.32 231.09 989.22 233.92 990.12 237.62 991.02 242.04 991.92 247 992.82 252.36 993.72 257.96 994.62 263.65 995.52 269.27 996.42 274.66 997.32 279.67 998.22 284.14 999.12 287.92 1000.02 290.85 1000.92 292.78 1001.82 293.54 1002.71 293.17 1003.61 291.92 1004.51 289.86 1005.41 287.07 1006.31 283.63 1007.21 279.62 1008.11 275.11 1009.01 270.18 1009.91 264.91 1010.81 259.37 1011.71 253.64 1012.61 247.8 1013.51 241.93 1014.41 236.1 1015.31 230.38 1016.21 224.87 1017.11 219.63 1018.01 214.73 1018.91 210.27 1019.81 206.31 1020.7 202.93 1021.6 200.22 1022.5 198.23 1023.4 197.07 1024.3 196.78 1025.2 197.33 1026.1 198.61 1027 200.54 1027.9 203.06 1028.8 206.1 1029.7 209.59 1030.6 213.45 1031.5 217.62 1032.4 222.03 1033.3 226.61 1034.2 231.29 1035.1 235.99 1036 240.65 1036.9 245.2 1037.8 249.57 1038.69 253.69 1039.59 257.48 1040.49 260.88 1041.39 263.82 1042.29 266.23 1043.19 268.04 1044.09 269.18 1044.99 269.57 1045.89 269.27 1046.79 268.41 1047.69 267.01 1048.59 265.12 1049.49 262.77 1050.39 260 1051.29 256.84 1052.19 253.33 1053.09 249.5 1053.99 245.4 1054.89 241.06 1055.79 236.51 1056.68 231.79 1057.58 226.95 1058.48 222 1059.38 216.99 1060.28 211.97 1061.18 206.95 1062.08 201.98 1062.98 197.1 1063.88 192.34 1064.78 187.74 1065.68 183.33 1066.58 179.15 1067.48 175.24 1068.38 171.63 1069.28 168.36 1070.18 165.47 1071.08 162.99 1071.98 160.95 1072.88 159.41 1073.78 158.38 1074.67 157.91 1075.57 157.97 1076.47 158.38 1077.37 159.12 1078.27 160.17 1079.17 161.51 1080.07 163.12 1080.97 164.98 1081.87 167.07 1082.77 169.37 1083.67 171.87 1084.57 174.54 1085.47 177.37 1086.37 180.34 1087.27 183.43 1088.17 186.62 1089.07 189.89 1089.97 193.22 1090.87 196.6 1091.77 200 1092.66 203.41 1093.56 206.81 1094.46 210.18 1095.36 213.49 1096.26 216.74 1097.16 219.9 1098.06 222.95 1098.96 225.88 1099.86 228.67 1100.76 231.29 1101.66 233.73 1102.56 235.98 1103.46 238 1104.36 239.78 1105.26 241.31 1106.16 242.56 1107.06 243.52 1107.96 244.17 1108.86 244.48 1109.76 244.47 1110.65 244.26 1111.55 243.85 1112.45 243.26 1113.35 242.48 1114.25 241.54 1115.15 240.42 1116.05 239.14 1116.95 237.71 1117.85 236.12 1118.75 234.39 1119.65 232.52 1120.55 230.51 1121.45 228.37 1122.35 226.11 1123.25 223.73 1124.15 221.24 1125.05 218.65 1125.95 215.95 1126.85 213.16 1127.75 210.28 1128.64 207.31 1129.54 204.27 1130.44 201.15 1131.34 197.97 1132.24 194.73 1133.14 191.43 1134.04 188.08 1134.94 184.68 1135.84 181.25 1136.74 177.78 1137.64 174.29 1138.54 170.78 1139.44 167.25 1140.34 163.7 1141.24 160.16 1142.14 156.61 1143.04 153.07 1143.94 149.55 1144.84 146.04 1145.74 142.55 1146.63 139.1 1147.53 135.67 1148.43 132.29 1149.33 128.96 1150.23 125.67 1151.13 122.45 1152.03 119.28 1152.93 116.19 1153.83 113.17 1154.73 110.23 1155.63 107.37 1156.53 104.61 1157.43 101.94 1158.33 99.38 1159.23 96.92 1160.13 94.58 1161.03 92.35 1161.93 90.26 1162.83 88.29 1163.73 86.46 1164.62 84.77 1165.52 83.22 1166.42 81.84 1167.32 80.61 1168.22 79.54 1169.12 78.64 1170.02 77.93 1170.92 77.39 1171.82 77.04 1172.72 76.88 1173.62 76.9 1174.52 77.02 1175.42 77.24 1176.32 77.54 1177.22 77.93 1178.12 78.4 1179.02 78.93 1179.92 79.53 1180.82 80.19 1181.72 80.89 1182.62 81.64 1183.51 82.43 1184.41 83.25 1185.31 84.09 1186.21 84.95 1187.11 85.83 1188.01 86.72 1188.91 87.64 1189.81 88.58 1190.71 89.54 1191.61 90.53 1192.51 91.55 1193.41 92.6 1194.31 93.67 1195.21 94.79 1196.11 95.93 1197.01 97.12 1197.91 98.34 1198.81 99.6 1199.71 100.91 1200.61 102.26 1201.5 103.66 1202.4 105.1 1203.3 106.59 1204.2 108.13 1205.1 109.71 1206 111.33 1206.9 113 1207.8 114.7 1208.7 116.44 1209.6 118.21 1210.5 120.03 1211.4 121.87 1212.3 123.75 1213.2 125.65 1214.1 127.59 1215 129.55 1215.9 131.54 1216.8 133.56 1217.7 135.6 1218.6 137.65 1219.49 139.73 1220.39 141.83 1221.29 143.94 1222.19 146.06 1223.09 148.19 1223.99 150.33 1224.89 152.48 1225.79 154.63 1226.69 156.79 1227.59 158.94 1228.49 161.09 1229.39 163.23 1230.29 165.37 1231.19 167.5 1232.09 169.62 1232.99 171.72 1233.89 173.81 1234.79 175.88 1235.69 177.94 1236.59 179.99 1237.48 182.02 1238.38 184.04 1239.28 186.05 1240.18 188.05 1241.08 190.05 1241.98 192.03 1242.88 194.01 1243.78 195.98 1244.68 197.95 1245.58 199.92 1246.48 201.88 1247.38 203.84 1248.28 205.8 1249.18 207.76 1250.08 209.73 1250.98 211.69 1251.88 213.65 1252.78 215.62 1253.68 217.58 1254.58 219.54 1255.47 221.49 1256.37 223.45 1257.27 225.39 1258.17 227.34 1259.07 229.28 1259.97 231.21 1260.87 233.14 1261.77 235.05 1262.67 236.97 1263.57 238.87 1264.47 240.76 1265.37 242.64 1266.27 244.51 1267.17 246.37 1268.07 248.22 1268.97 250.06 1269.87 251.88 1270.77 253.7 1271.67 255.5 1272.57 257.28 1273.46 259.05 1274.36 260.81 1275.26 262.55 1276.16 264.27 1277.06 265.98 1277.96 267.67 1278.86 269.35 1279.76 271.01 1280.66 272.65 1281.56 274.27 1282.46 275.87 1283.36 277.46 1284.26 279.03 1285.16 280.59 1286.06 282.13 1286.96 283.66 1287.86 285.18 1288.76 286.68 1289.66 288.17 1290.56 289.66 1291.45 291.13 1292.35 292.59 1293.25 294.05 1294.15 295.5 1295.05 296.94 1295.95 298.38 1296.85 299.81 1297.75 301.24 1298.65 302.66 1299.55 304.08 1300.45 305.49 1301.35 306.89 1302.25 308.28 1303.15 309.67 1304.05 311.04 1304.95 312.4 1305.85 313.75 1306.75 315.09 1307.65 316.41 1308.55 317.72 1309.44 319.01 1310.34 320.28 1311.24 321.54 1312.14 322.78 1313.04 324 1313.94 325.2 1314.84 326.38 1315.74 327.55 1316.64 328.69 1317.54 329.83 1318.44 330.94 1319.34 332.05 1320.24 333.14 1321.14 334.21 1322.04 335.28 1322.94 336.33 1323.84 337.38 1324.74 338.41 1325.64 339.44 1326.54 340.46 1327.43 341.47 1328.33 342.47 1329.23 343.47 1330.13 344.46 1331.03 345.45 1331.93 346.43 1332.83 347.4 1333.73 348.37 1334.63 349.33 1335.53 350.27 1336.43 351.21 1337.33 352.14 1338.23 353.07 1339.13 353.98 1340.03 354.88 1340.93 355.77 1341.83 356.65 1342.73 357.51 1343.63 358.37 1344.53 359.21 1345.42 360.04 1346.32 360.86 1347.22 361.67 1348.12 362.46 1349.02 363.24 1349.92 364.02 1350.82 364.78 1351.72 365.53 1352.62 366.28 1353.52 367.01 1354.42 367.73 1355.32 368.45 1356.22 369.15 1357.12 369.85 1358.02 370.54 1358.92 371.23 1359.82 371.9 1360.72 372.57 1361.62 373.23 1362.51 373.89 1363.41 374.53 1364.31 375.17 1365.21 375.79 1366.11 376.41 1367.01 377.02 1367.91 377.62 1368.81 378.2 1369.71 378.78 1370.61 379.34 1371.51 379.89 1372.41 380.43 1373.31 380.95 1374.21 381.46 1375.11 381.95 1376.01 382.43 1376.91 382.9 1377.81 383.35 1378.71 383.79 1379.61 384.21 1380.51 384.63 1381.4 385.03 1382.3 385.43 1383.2 385.82 1384.1 386.2 1385 386.57 1385.9 386.94 1386.8 387.31 1387.7 387.67 1388.6 388.03 1389.5 388.39" stroke="#cccc2a" stroke-width="3.6"/><path d="M849.8 436.91 850.7 442.25 851.6 446.12 852.5 448.76 853.4 450.4 854.3 451.27 855.2 451.63 856.1 451.69 857 450.1 857.9 444.23 858.79 435.07 859.69 423.71 860.59 411.26 861.49 398.81 862.39 387.45 863.29 378.29 864.19 372.42 865.09 370.97 865.99 375.35 866.89 384.16 867.79 395.07 868.69 405.74 869.59 413.85 870.49 417.07 871.39 414.93 872.29 409.15 873.19 400.73 874.09 390.64 874.99 379.87 875.89 369.38 876.78 360.18 877.68 353.23 878.58 349.52 879.48 350.02 880.38 354.74 881.28 362.46 882.18 371.9 883.08 381.79 883.98 390.85 884.88 397.8 885.78 401.37 886.68 400.58 887.58 395.98 888.48 388.35 889.38 378.43 890.28 366.97 891.18 354.73 892.08 342.45 892.98 330.89 893.88 320.78 894.77 312.88 895.67 307.95 896.57 306.72 897.47 309.46 898.37 315.43 899.27 323.71 900.17 333.43 901.07 343.68 901.97 353.58 902.87 362.22 903.77 368.72 904.67 372.18 905.57 371.76 906.47 367.47 907.37 360.14 908.27 350.57 909.17 339.6 910.07 328.05 910.97 316.74 911.87 306.51 912.76 298.19 913.66 292.58 914.56 290.53 915.46 291.67 916.36 294.77 917.26 299.39 918.16 305.09 919.06 311.41 919.96 317.91 920.86 324.15 921.76 329.66 922.66 334.02 923.56 336.76 924.46 337.44 925.36 335.52 926.26 331.26 927.16 325.2 928.06 317.83 928.96 309.69 929.86 301.29 930.75 293.15 931.65 285.79 932.55 279.72 933.45 275.46 934.35 273.54 935.25 274.19 936.15 276.82 937.05 280.99 937.95 286.28 938.85 292.25 939.75 298.48 940.65 304.53 941.55 309.99 942.45 314.42 943.35 317.39 944.25 318.48 945.15 317.47 946.05 314.66 946.95 310.33 947.85 304.77 948.75 298.29 949.64 291.18 950.54 283.72 951.44 276.23 952.34 268.98 953.24 262.28 954.14 256.41 955.04 251.68 955.94 248.38 956.84 246.81 957.74 247.13 958.64 249.08 959.54 252.38 960.44 256.78 961.34 262.04 962.24 267.91 963.14 274.15 964.04 280.49 964.94 286.7 965.84 292.52 966.74 297.71 967.63 302.01 968.53 305.19 969.43 306.98 970.33 307.17 971.23 305.83 972.13 303.16 973.03 299.34 973.93 294.52 974.83 288.89 975.73 282.6 976.63 275.84 977.53 268.78 978.43 261.57 979.33 254.4 980.23 247.44 981.13 240.85 982.03 234.8 982.93 229.47 983.83 225.03 984.72 221.65 985.62 219.5 986.52 218.74 987.42 219.4 988.32 221.28 989.22 224.21 990.12 228.03 991.02 232.59 991.92 237.71 992.82 243.25 993.72 249.04 994.62 254.91 995.52 260.71 996.42 266.28 997.32 271.46 998.22 276.08 999.12 279.98 1000.02 283.01 1000.92 285 1001.82 285.79 1002.71 285.4 1003.61 284.1 1004.51 281.95 1005.41 279.04 1006.31 275.46 1007.21 271.27 1008.11 266.57 1009.01 261.43 1009.91 255.93 1010.81 250.15 1011.71 244.18 1012.61 238.09 1013.51 231.97 1014.41 225.88 1015.31 219.93 1016.21 214.18 1017.11 208.71 1018.01 203.61 1018.91 198.95 1019.81 194.83 1020.7 191.3 1021.6 188.47 1022.5 186.4 1023.4 185.18 1024.3 184.89 1025.2 185.46 1026.1 186.79 1027 188.81 1027.9 191.44 1028.8 194.6 1029.7 198.24 1030.6 202.27 1031.5 206.62 1032.4 211.22 1033.3 215.99 1034.2 220.87 1035.1 225.77 1036 230.64 1036.9 235.38 1037.8 239.93 1038.69 244.23 1039.59 248.18 1040.49 251.73 1041.39 254.8 1042.29 257.31 1043.19 259.19 1044.09 260.38 1044.99 260.79 1045.89 260.48 1046.79 259.58 1047.69 258.12 1048.59 256.15 1049.49 253.7 1050.39 250.81 1051.29 247.51 1052.19 243.85 1053.09 239.87 1053.99 235.59 1054.89 231.06 1055.79 226.32 1056.68 221.4 1057.58 216.34 1058.48 211.18 1059.38 205.96 1060.28 200.72 1061.18 195.49 1062.08 190.31 1062.98 185.22 1063.88 180.25 1064.78 175.46 1065.68 170.86 1066.58 166.5 1067.48 162.42 1068.38 158.66 1069.28 155.25 1070.18 152.24 1071.08 149.65 1071.98 147.53 1072.88 145.91 1073.78 144.84 1074.67 144.35 1075.57 144.41 1076.47 144.85 1077.37 145.62 1078.27 146.71 1079.17 148.11 1080.07 149.78 1080.97 151.72 1081.87 153.9 1082.77 156.3 1083.67 158.91 1084.57 161.7 1085.47 164.65 1086.37 167.74 1087.27 170.96 1088.17 174.29 1089.07 177.7 1089.97 181.18 1090.87 184.7 1091.77 188.25 1092.66 191.8 1093.56 195.34 1094.46 198.85 1095.36 202.31 1096.26 205.7 1097.16 209 1098.06 212.18 1098.96 215.24 1099.86 218.14 1100.76 220.88 1101.66 223.42 1102.56 225.76 1103.46 227.87 1104.36 229.73 1105.26 231.32 1106.16 232.63 1107.06 233.63 1107.96 234.3 1108.86 234.63 1109.76 234.62 1110.65 234.4 1111.55 233.97 1112.45 233.35 1113.35 232.55 1114.25 231.56 1115.15 230.4 1116.05 229.06 1116.95 227.57 1117.85 225.91 1118.75 224.1 1119.65 222.15 1120.55 220.06 1121.45 217.83 1122.35 215.47 1123.25 212.99 1124.15 210.4 1125.05 207.69 1125.95 204.88 1126.85 201.97 1127.75 198.96 1128.64 195.87 1129.54 192.7 1130.44 189.45 1131.34 186.13 1132.24 182.74 1133.14 179.3 1134.04 175.81 1134.94 172.27 1135.84 168.69 1136.74 165.08 1137.64 161.43 1138.54 157.77 1139.44 154.09 1140.34 150.4 1141.24 146.7 1142.14 143 1143.04 139.31 1143.94 135.63 1144.84 131.97 1145.74 128.34 1146.63 124.73 1147.53 121.17 1148.43 117.64 1149.33 114.16 1150.23 110.74 1151.13 107.37 1152.03 104.08 1152.93 100.85 1153.83 97.7 1154.73 94.63 1155.63 91.65 1156.53 88.77 1157.43 85.99 1158.33 83.32 1159.23 80.75 1160.13 78.31 1161.03 75.99 1161.93 73.8 1162.83 71.75 1163.73 69.84 1164.62 68.08 1165.52 66.47 1166.42 65.02 1167.32 63.74 1168.22 62.63 1169.12 61.7 1170.02 60.95 1170.92 60.39 1171.82 60.02 1172.72 59.86 1173.62 59.87 1174.52 60 1175.42 60.23 1176.32 60.55 1177.22 60.95 1178.12 61.44 1179.02 62 1179.92 62.62 1180.82 63.3 1181.72 64.04 1182.62 64.82 1183.51 65.64 1184.41 66.49 1185.31 67.37 1186.21 68.27 1187.11 69.19 1188.01 70.12 1188.91 71.08 1189.81 72.06 1190.71 73.06 1191.61 74.09 1192.51 75.15 1193.41 76.25 1194.31 77.37 1195.21 78.53 1196.11 79.73 1197.01 80.96 1197.91 82.23 1198.81 83.55 1199.71 84.91 1200.61 86.32 1201.5 87.78 1202.4 89.29 1203.3 90.84 1204.2 92.44 1205.1 94.09 1206 95.78 1206.9 97.52 1207.8 99.29 1208.7 101.11 1209.6 102.96 1210.5 104.85 1211.4 106.77 1212.3 108.73 1213.2 110.72 1214.1 112.74 1215 114.78 1215.9 116.86 1216.8 118.96 1217.7 121.08 1218.6 123.23 1219.49 125.4 1220.39 127.58 1221.29 129.78 1222.19 132 1223.09 134.22 1223.99 136.45 1224.89 138.69 1225.79 140.94 1226.69 143.18 1227.59 145.42 1228.49 147.67 1229.39 149.9 1230.29 152.13 1231.19 154.35 1232.09 156.56 1232.99 158.75 1233.89 160.93 1234.79 163.09 1235.69 165.24 1236.59 167.37 1237.48 169.49 1238.38 171.6 1239.28 173.7 1240.18 175.78 1241.08 177.86 1241.98 179.93 1242.88 182 1243.78 184.06 1244.68 186.11 1245.58 188.16 1246.48 190.21 1247.38 192.25 1248.28 194.3 1249.18 196.34 1250.08 198.39 1250.98 200.43 1251.88 202.48 1252.78 204.53 1253.68 206.57 1254.58 208.62 1255.47 210.66 1256.37 212.69 1257.27 214.72 1258.17 216.75 1259.07 218.77 1259.97 220.79 1260.87 222.8 1261.77 224.8 1262.67 226.79 1263.57 228.77 1264.47 230.75 1265.37 232.71 1266.27 234.66 1267.17 236.6 1268.07 238.53 1268.97 240.45 1269.87 242.35 1270.77 244.24 1271.67 246.11 1272.57 247.97 1273.46 249.82 1274.36 251.65 1275.26 253.47 1276.16 255.27 1277.06 257.05 1277.96 258.81 1278.86 260.56 1279.76 262.29 1280.66 264 1281.56 265.69 1282.46 267.36 1283.36 269.02 1284.26 270.66 1285.16 272.28 1286.06 273.89 1286.96 275.48 1287.86 277.06 1288.76 278.63 1289.66 280.19 1290.56 281.74 1291.45 283.27 1292.35 284.8 1293.25 286.32 1294.15 287.83 1295.05 289.33 1295.95 290.83 1296.85 292.33 1297.75 293.81 1298.65 295.3 1299.55 296.78 1300.45 298.25 1301.35 299.71 1302.25 301.16 1303.15 302.6 1304.05 304.03 1304.95 305.45 1305.85 306.86 1306.75 308.25 1307.65 309.63 1308.55 311 1309.44 312.34 1310.34 313.67 1311.24 314.98 1312.14 316.27 1313.04 317.55 1313.94 318.8 1314.84 320.03 1315.74 321.25 1316.64 322.44 1317.54 323.62 1318.44 324.79 1319.34 325.94 1320.24 327.08 1321.14 328.2 1322.04 329.31 1322.94 330.41 1323.84 331.5 1324.74 332.58 1325.64 333.65 1326.54 334.71 1327.43 335.76 1328.33 336.81 1329.23 337.85 1330.13 338.89 1331.03 339.92 1331.93 340.94 1332.83 341.95 1333.73 342.96 1334.63 343.96 1335.53 344.95 1336.43 345.93 1337.33 346.9 1338.23 347.86 1339.13 348.81 1340.03 349.75 1340.93 350.67 1341.83 351.59 1342.73 352.5 1343.63 353.39 1344.53 354.27 1345.42 355.13 1346.32 355.98 1347.22 356.83 1348.12 357.65 1349.02 358.47 1349.92 359.28 1350.82 360.07 1351.72 360.86 1352.62 361.63 1353.52 362.4 1354.42 363.15 1355.32 363.9 1356.22 364.63 1357.12 365.36 1358.02 366.08 1358.92 366.8 1359.82 367.5 1360.72 368.2 1361.62 368.89 1362.51 369.57 1363.41 370.24 1364.31 370.91 1365.21 371.56 1366.11 372.2 1367.01 372.84 1367.91 373.46 1368.81 374.07 1369.71 374.67 1370.61 375.26 1371.51 375.83 1372.41 376.39 1373.31 376.93 1374.21 377.47 1375.11 377.98 1376.01 378.48 1376.91 378.97 1377.81 379.44 1378.71 379.89 1379.61 380.34 1380.51 380.77 1381.4 381.19 1382.3 381.6 1383.2 382.01 1384.1 382.41 1385 382.8 1385.9 383.18 1386.8 383.56 1387.7 383.94 1388.6 384.32 1389.5 384.69" stroke="#cc9933" stroke-width="3.6"/><path d="M849.8 436.91 850.7 442.25 851.6 446.12 852.5 448.76 853.4 450.4 854.3 451.27 855.2 451.63 856.1 451.69 857 450.1 857.9 444.23 858.79 435.07 859.69 423.71 860.59 411.26 861.49 398.81 862.39 387.45 863.29 378.29 864.19 372.42 865.09 370.97 865.99 375.35 866.89 384.16 867.79 395.06 868.69 405.72 869.59 413.83 870.49 417.05 871.39 414.9 872.29 409.11 873.19 400.67 874.09 390.56 874.99 379.75 875.89 369.24 876.78 360.01 877.68 353.05 878.58 349.33 879.48 349.83 880.38 354.55 881.28 362.27 882.18 371.71 883.08 381.6 883.98 390.66 884.88 397.62 885.78 401.19 886.68 400.39 887.58 395.77 888.48 388.1 889.38 378.13 890.28 366.62 891.18 354.32 892.08 341.98 892.98 330.35 893.88 320.2 894.77 312.26 895.67 307.3 896.57 306.06 897.47 308.82 898.37 314.79 899.27 323.09 900.17 332.83 901.07 343.1 901.97 353.02 902.87 361.68 903.77 368.19 904.67 371.66 905.57 371.23 906.47 366.92 907.37 359.52 908.27 349.87 909.17 338.81 910.07 327.17 910.97 315.78 911.87 305.47 912.76 297.07 913.66 291.43 914.56 289.36 915.46 290.49 916.36 293.6 917.26 298.24 918.16 303.95 919.06 310.29 919.96 316.8 920.86 323.05 921.76 328.58 922.66 332.95 923.56 335.7 924.46 336.38 925.36 334.43 926.26 330.13 927.16 323.99 928.06 316.53 928.96 308.29 929.86 299.79 930.75 291.55 931.65 284.1 932.55 277.96 933.45 273.65 934.35 271.71 935.25 272.36 936.15 275 937.05 279.19 937.95 284.5 938.85 290.49 939.75 296.75 940.65 302.83 941.55 308.32 942.45 312.76 943.35 315.75 944.25 316.84 945.15 315.82 946.05 312.96 946.95 308.56 947.85 302.91 948.75 296.33 949.64 289.1 950.54 281.52 951.44 273.9 952.34 266.54 953.24 259.73 954.14 253.77 955.04 248.97 955.94 245.61 956.84 244.01 957.74 244.34 958.64 246.29 959.54 249.62 960.44 254.05 961.34 259.35 962.24 265.27 963.14 271.55 964.04 277.94 964.94 284.19 965.84 290.05 966.74 295.28 967.63 299.61 968.53 302.81 969.43 304.62 970.33 304.81 971.23 303.44 972.13 300.72 973.03 296.81 973.93 291.9 974.83 286.15 975.73 279.73 976.63 272.83 977.53 265.62 978.43 258.26 979.33 250.94 980.23 243.83 981.13 237.1 982.03 230.93 982.93 225.5 983.83 220.96 984.72 217.51 985.62 215.31 986.52 214.54 987.42 215.21 988.32 217.11 989.22 220.08 990.12 223.95 991.02 228.57 991.92 233.77 992.82 239.38 993.72 245.24 994.62 251.2 995.52 257.08 996.42 262.72 997.32 267.97 998.22 272.65 999.12 276.61 1000.02 279.68 1000.92 281.69 1001.82 282.49 1002.71 282.1 1003.61 280.77 1004.51 278.59 1005.41 275.63 1006.31 271.98 1007.21 267.72 1008.11 262.94 1009.01 257.71 1009.91 252.11 1010.81 246.24 1011.71 240.16 1012.61 233.96 1013.51 227.73 1014.41 221.54 1015.31 215.48 1016.21 209.63 1017.11 204.07 1018.01 198.88 1018.91 194.14 1019.81 189.94 1020.7 186.36 1021.6 183.48 1022.5 181.37 1023.4 180.13 1024.3 179.83 1025.2 180.42 1026.1 181.77 1027 183.82 1027.9 186.5 1028.8 189.72 1029.7 193.42 1030.6 197.52 1031.5 201.94 1032.4 206.62 1033.3 211.48 1034.2 216.44 1035.1 221.43 1036 226.38 1036.9 231.21 1037.8 235.84 1038.69 240.21 1039.59 244.23 1040.49 247.84 1041.39 250.96 1042.29 253.52 1043.19 255.44 1044.09 256.64 1044.99 257.06 1045.89 256.74 1046.79 255.83 1047.69 254.35 1048.59 252.34 1049.49 249.85 1050.39 246.9 1051.29 243.55 1052.19 239.83 1053.09 235.77 1053.99 231.42 1054.89 226.81 1055.79 221.98 1056.68 216.98 1057.58 211.84 1058.48 206.59 1059.38 201.28 1060.28 195.94 1061.18 190.62 1062.08 185.35 1062.98 180.17 1063.88 175.12 1064.78 170.24 1065.68 165.56 1066.58 161.13 1067.48 156.98 1068.38 153.15 1069.28 149.68 1070.18 146.61 1071.08 143.98 1071.98 141.82 1072.88 140.18 1073.78 139.09 1074.67 138.59 1075.57 138.65 1076.47 139.09 1077.37 139.88 1078.27 140.99 1079.17 142.41 1080.07 144.12 1080.97 146.09 1081.87 148.31 1082.77 150.75 1083.67 153.4 1084.57 156.24 1085.47 159.24 1086.37 162.39 1087.27 165.67 1088.17 169.05 1089.07 172.52 1089.97 176.06 1090.87 179.64 1091.77 183.25 1092.66 186.87 1093.56 190.47 1094.46 194.04 1095.36 197.56 1096.26 201.01 1097.16 204.36 1098.06 207.6 1098.96 210.71 1099.86 213.67 1100.76 216.45 1101.66 219.04 1102.56 221.42 1103.46 223.56 1104.36 225.46 1105.26 227.08 1106.16 228.41 1107.06 229.42 1107.96 230.11 1108.86 230.44 1109.76 230.43 1110.65 230.2 1111.55 229.77 1112.45 229.14 1113.35 228.32 1114.25 227.32 1115.15 226.13 1116.05 224.78 1116.95 223.26 1117.85 221.57 1118.75 219.73 1119.65 217.75 1120.55 215.62 1121.45 213.35 1122.35 210.95 1123.25 208.43 1124.15 205.79 1125.05 203.03 1125.95 200.17 1126.85 197.21 1127.75 194.15 1128.64 191.01 1129.54 187.78 1130.44 184.47 1131.34 181.09 1132.24 177.65 1133.14 174.15 1134.04 170.6 1134.94 167 1135.84 163.35 1136.74 159.68 1137.64 155.97 1138.54 152.24 1139.44 148.5 1140.34 144.74 1141.24 140.98 1142.14 137.22 1143.04 133.46 1143.94 129.72 1144.84 126 1145.74 122.3 1146.63 118.63 1147.53 115 1148.43 111.41 1149.33 107.87 1150.23 104.39 1151.13 100.97 1152.03 97.61 1152.93 94.33 1153.83 91.12 1154.73 88 1155.63 84.97 1156.53 82.04 1157.43 79.21 1158.33 76.49 1159.23 73.88 1160.13 71.4 1161.03 69.04 1161.93 66.81 1162.83 64.72 1163.73 62.78 1164.62 60.99 1165.52 59.35 1166.42 57.88 1167.32 56.57 1168.22 55.44 1169.12 54.49 1170.02 53.73 1170.92 53.16 1171.82 52.79 1172.72 52.62 1173.62 52.64 1174.52 52.77 1175.42 53 1176.32 53.32 1177.22 53.74 1178.12 54.23 1179.02 54.8 1179.92 55.43 1180.82 56.13 1181.72 56.88 1182.62 57.67 1183.51 58.51 1184.41 59.38 1185.31 60.27 1186.21 61.18 1187.11 62.11 1188.01 63.07 1188.91 64.04 1189.81 65.03 1190.71 66.06 1191.61 67.11 1192.51 68.19 1193.41 69.3 1194.31 70.44 1195.21 71.62 1196.11 72.84 1197.01 74.09 1197.91 75.39 1198.81 76.73 1199.71 78.12 1200.61 79.55 1201.5 81.03 1202.4 82.56 1203.3 84.15 1204.2 85.78 1205.1 87.45 1206 89.17 1206.9 90.94 1207.8 92.74 1208.7 94.59 1209.6 96.48 1210.5 98.4 1211.4 100.35 1212.3 102.35 1213.2 104.37 1214.1 106.42 1215 108.51 1215.9 110.62 1216.8 112.76 1217.7 114.92 1218.6 117.1 1219.49 119.31 1220.39 121.53 1221.29 123.77 1222.19 126.02 1223.09 128.28 1223.99 130.55 1224.89 132.83 1225.79 135.11 1226.69 137.4 1227.59 139.68 1228.49 141.96 1229.39 144.24 1230.29 146.51 1231.19 148.77 1232.09 151.01 1232.99 153.24 1233.89 155.46 1234.79 157.66 1235.69 159.84 1236.59 162.01 1237.48 164.17 1238.38 166.31 1239.28 168.45 1240.18 170.57 1241.08 172.69 1241.98 174.79 1242.88 176.89 1243.78 178.99 1244.68 181.07 1245.58 183.16 1246.48 185.24 1247.38 187.32 1248.28 189.4 1249.18 191.49 1250.08 193.57 1250.98 195.65 1251.88 197.73 1252.78 199.82 1253.68 201.9 1254.58 203.97 1255.47 206.05 1256.37 208.12 1257.27 210.19 1258.17 212.25 1259.07 214.31 1259.97 216.36 1260.87 218.4 1261.77 220.44 1262.67 222.47 1263.57 224.48 1264.47 226.49 1265.37 228.49 1266.27 230.47 1267.17 232.45 1268.07 234.41 1268.97 236.36 1269.87 238.3 1270.77 240.22 1271.67 242.13 1272.57 244.02 1273.46 245.9 1274.36 247.76 1275.26 249.61 1276.16 251.44 1277.06 253.25 1277.96 255.05 1278.86 256.82 1279.76 258.58 1280.66 260.32 1281.56 262.04 1282.46 263.75 1283.36 265.43 1284.26 267.1 1285.16 268.75 1286.06 270.39 1286.96 272.01 1287.86 273.62 1288.76 275.21 1289.66 276.8 1290.56 278.37 1291.45 279.93 1292.35 281.49 1293.25 283.03 1294.15 284.57 1295.05 286.1 1295.95 287.62 1296.85 289.14 1297.75 290.66 1298.65 292.17 1299.55 293.67 1300.45 295.17 1301.35 296.65 1302.25 298.13 1303.15 299.6 1304.05 301.06 1304.95 302.5 1305.85 303.93 1306.75 305.35 1307.65 306.75 1308.55 308.14 1309.44 309.51 1310.34 310.86 1311.24 312.2 1312.14 313.51 1313.04 314.8 1313.94 316.08 1314.84 317.33 1315.74 318.57 1316.64 319.79 1317.54 320.99 1318.44 322.17 1319.34 323.34 1320.24 324.5 1321.14 325.64 1322.04 326.77 1322.94 327.89 1323.84 329 1324.74 330.1 1325.64 331.19 1326.54 332.27 1327.43 333.34 1328.33 334.41 1329.23 335.47 1330.13 336.52 1331.03 337.57 1331.93 338.61 1332.83 339.64 1333.73 340.66 1334.63 341.68 1335.53 342.68 1336.43 343.68 1337.33 344.67 1338.23 345.64 1339.13 346.61 1340.03 347.57 1340.93 348.51 1341.83 349.44 1342.73 350.36 1343.63 351.27 1344.53 352.16 1345.42 353.05 1346.32 353.91 1347.22 354.77 1348.12 355.61 1349.02 356.44 1349.92 357.26 1350.82 358.07 1351.72 358.87 1352.62 359.66 1353.52 360.44 1354.42 361.21 1355.32 361.96 1356.22 362.71 1357.12 363.45 1358.02 364.19 1358.92 364.91 1359.82 365.63 1360.72 366.34 1361.62 367.04 1362.51 367.73 1363.41 368.42 1364.31 369.09 1365.21 369.76 1366.11 370.41 1367.01 371.06 1367.91 371.69 1368.81 372.31 1369.71 372.92 1370.61 373.52 1371.51 374.1 1372.41 374.67 1373.31 375.23 1374.21 375.77 1375.11 376.29 1376.01 376.8 1376.91 377.3 1377.81 377.77 1378.71 378.24 1379.61 378.69 1380.51 379.13 1381.4 379.56 1382.3 379.98 1383.2 380.39 1384.1 380.79 1385 381.19 1385.9 381.58 1386.8 381.97 1387.7 382.36 1388.6 382.74 1389.5 383.12" stroke="#cc6629" stroke-width="3.6"/><path d="M849.8 436.91 850.7 442.25 851.6 446.12 852.5 448.76 853.4 450.4 854.3 451.27 855.2 451.63 856.1 451.69 857 450.1 857.9 444.23 858.79 435.07 859.69 423.71 860.59 411.26 861.49 398.81 862.39 387.45 863.29 378.29 864.19 372.42 865.09 370.97 865.99 375.35 866.89 384.15 867.79 395.05 868.69 405.71 869.59 413.82 870.49 417.04 871.39 414.89 872.29 409.09 873.19 400.64 874.09 390.51 874.99 379.7 875.89 369.18 876.78 359.94 877.68 352.96 878.58 349.24 879.48 349.74 880.38 354.46 881.28 362.18 882.18 371.63 883.08 381.52 883.98 390.58 884.88 397.53 885.78 401.1 886.68 400.31 887.58 395.67 888.48 387.98 889.38 377.99 890.28 366.45 891.18 354.12 892.08 341.75 892.98 330.1 893.88 319.92 894.77 311.97 895.67 307 896.57 305.76 897.47 308.51 898.37 314.49 899.27 322.8 900.17 332.55 901.07 342.83 901.97 352.76 902.87 361.43 903.77 367.95 904.67 371.42 905.57 370.98 906.47 366.65 907.37 359.23 908.27 349.55 909.17 338.45 910.07 326.76 910.97 315.33 911.87 304.98 912.76 296.55 913.66 290.88 914.56 288.8 915.46 289.94 916.36 293.06 917.26 297.69 918.16 303.41 919.06 309.76 919.96 316.28 920.86 322.54 921.76 328.08 922.66 332.45 923.56 335.2 924.46 335.88 925.36 333.93 926.26 329.6 927.16 323.42 928.06 315.92 928.96 307.64 929.86 299.09 930.75 290.8 931.65 283.3 932.55 277.13 933.45 272.8 934.35 270.84 935.25 271.49 936.15 274.14 937.05 278.34 937.95 283.66 938.85 289.67 939.75 295.94 940.65 302.03 941.55 307.53 942.45 311.98 943.35 314.98 944.25 316.07 945.15 315.04 946.05 312.16 946.95 307.72 947.85 302.04 948.75 295.4 949.64 288.12 950.54 280.49 951.44 272.81 952.34 265.39 953.24 258.53 954.14 252.53 955.04 247.69 955.94 244.31 956.84 242.69 957.74 243.02 958.64 244.98 959.54 248.32 960.44 252.77 961.34 258.09 962.24 264.02 963.14 270.32 964.04 276.73 964.94 283.01 965.84 288.89 966.74 294.14 967.63 298.49 968.53 301.69 969.43 303.51 970.33 303.7 971.23 302.32 972.13 299.57 973.03 295.63 973.93 290.66 974.83 284.86 975.73 278.38 976.63 271.41 977.53 264.13 978.43 256.7 979.33 249.31 980.23 242.13 981.13 235.34 982.03 229.11 982.93 223.62 983.83 219.05 984.72 215.56 985.62 213.34 986.52 212.56 987.42 213.23 988.32 215.15 989.22 218.13 990.12 222.03 991.02 226.68 991.92 231.91 992.82 237.56 993.72 243.46 994.62 249.45 995.52 255.37 996.42 261.05 997.32 266.33 998.22 271.04 999.12 275.02 1000.02 278.11 1000.92 280.14 1001.82 280.94 1002.71 280.55 1003.61 279.21 1004.51 277 1005.41 274.02 1006.31 270.34 1007.21 266.05 1008.11 261.23 1009.01 255.96 1009.91 250.32 1010.81 244.39 1011.71 238.27 1012.61 232.02 1013.51 225.74 1014.41 219.5 1015.31 213.39 1016.21 207.49 1017.11 201.89 1018.01 196.65 1018.91 191.88 1019.81 187.65 1020.7 184.03 1021.6 181.13 1022.5 179.01 1023.4 177.76 1024.3 177.46 1025.2 178.04 1026.1 179.41 1027 181.47 1027.9 184.17 1028.8 187.42 1029.7 191.15 1030.6 195.28 1031.5 199.74 1032.4 204.46 1033.3 209.36 1034.2 214.36 1035.1 219.39 1036 224.37 1036.9 229.24 1037.8 233.91 1038.69 238.31 1039.59 242.37 1040.49 246.01 1041.39 249.16 1042.29 251.73 1043.19 253.67 1044.09 254.88 1044.99 255.3 1045.89 254.99 1046.79 254.06 1047.69 252.57 1048.59 250.55 1049.49 248.03 1050.39 245.07 1051.29 241.69 1052.19 237.93 1053.09 233.84 1053.99 229.46 1054.89 224.81 1055.79 219.95 1056.68 214.9 1057.58 209.71 1058.48 204.43 1059.38 199.07 1060.28 193.69 1061.18 188.33 1062.08 183.02 1062.98 177.79 1063.88 172.7 1064.78 167.78 1065.68 163.06 1066.58 158.6 1067.48 154.41 1068.38 150.55 1069.28 147.06 1070.18 143.96 1071.08 141.31 1071.98 139.14 1072.88 137.48 1073.78 136.38 1074.67 135.88 1075.57 135.94 1076.47 136.39 1077.37 137.18 1078.27 138.3 1079.17 139.73 1080.07 141.45 1080.97 143.44 1081.87 145.67 1082.77 148.14 1083.67 150.81 1084.57 153.67 1085.47 156.7 1086.37 159.87 1087.27 163.17 1088.17 166.58 1089.07 170.08 1089.97 173.65 1090.87 177.26 1091.77 180.9 1092.66 184.55 1093.56 188.18 1094.46 191.78 1095.36 195.33 1096.26 198.8 1097.16 202.18 1098.06 205.45 1098.96 208.58 1099.86 211.56 1100.76 214.36 1101.66 216.98 1102.56 219.37 1103.46 221.54 1104.36 223.44 1105.26 225.08 1106.16 226.42 1107.06 227.44 1107.96 228.13 1108.86 228.47 1109.76 228.46 1110.65 228.23 1111.55 227.8 1112.45 227.16 1113.35 226.33 1114.25 225.32 1115.15 224.13 1116.05 222.76 1116.95 221.23 1117.85 219.53 1118.75 217.68 1119.65 215.67 1120.55 213.53 1121.45 211.24 1122.35 208.82 1123.25 206.28 1124.15 203.62 1125.05 200.84 1125.95 197.96 1126.85 194.97 1127.75 191.89 1128.64 188.72 1129.54 185.46 1130.44 182.13 1131.34 178.73 1132.24 175.26 1133.14 171.73 1134.04 168.14 1134.94 164.51 1135.84 160.84 1136.74 157.14 1137.64 153.4 1138.54 149.64 1139.44 145.86 1140.34 142.08 1141.24 138.28 1142.14 134.49 1143.04 130.71 1143.94 126.94 1144.84 123.18 1145.74 119.46 1146.63 115.76 1147.53 112.1 1148.43 108.48 1149.33 104.92 1150.23 101.4 1151.13 97.95 1152.03 94.57 1152.93 91.26 1153.83 88.03 1154.73 84.88 1155.63 81.83 1156.53 78.87 1157.43 76.02 1158.33 73.28 1159.23 70.65 1160.13 68.14 1161.03 65.77 1161.93 63.52 1162.83 61.42 1163.73 59.46 1164.62 57.65 1165.52 56 1166.42 54.52 1167.32 53.2 1168.22 52.06 1169.12 51.1 1170.02 50.34 1170.92 49.76 1171.82 49.38 1172.72 49.22 1173.62 49.23 1174.52 49.36 1175.42 49.6 1176.32 49.93 1177.22 50.34 1178.12 50.84 1179.02 51.41 1179.92 52.05 1180.82 52.75 1181.72 53.51 1182.62 54.31 1183.51 55.15 1184.41 56.03 1185.31 56.93 1186.21 57.85 1187.11 58.79 1188.01 59.75 1188.91 60.73 1189.81 61.73 1190.71 62.76 1191.61 63.82 1192.51 64.91 1193.41 66.03 1194.31 67.18 1195.21 68.37 1196.11 69.59 1197.01 70.86 1197.91 72.17 1198.81 73.52 1199.71 74.92 1200.61 76.36 1201.5 77.86 1202.4 79.4 1203.3 81 1204.2 82.64 1205.1 84.33 1206 86.06 1206.9 87.84 1207.8 89.66 1208.7 91.52 1209.6 93.42 1210.5 95.36 1211.4 97.34 1212.3 99.34 1213.2 101.38 1214.1 103.45 1215 105.55 1215.9 107.68 1216.8 109.84 1217.7 112.01 1218.6 114.22 1219.49 116.44 1220.39 118.68 1221.29 120.94 1222.19 123.21 1223.09 125.49 1223.99 127.78 1224.89 130.07 1225.79 132.37 1226.69 134.68 1227.59 136.98 1228.49 139.28 1229.39 141.57 1230.29 143.86 1231.19 146.14 1232.09 148.4 1232.99 150.65 1233.89 152.88 1234.79 155.1 1235.69 157.3 1236.59 159.49 1237.48 161.66 1238.38 163.83 1239.28 165.98 1240.18 168.12 1241.08 170.25 1241.98 172.37 1242.88 174.49 1243.78 176.6 1244.68 178.71 1245.58 180.81 1246.48 182.91 1247.38 185.01 1248.28 187.1 1249.18 189.2 1250.08 191.3 1250.98 193.4 1251.88 195.5 1252.78 197.6 1253.68 199.7 1254.58 201.79 1255.47 203.88 1256.37 205.97 1257.27 208.06 1258.17 210.14 1259.07 212.21 1259.97 214.28 1260.87 216.34 1261.77 218.39 1262.67 220.43 1263.57 222.47 1264.47 224.49 1265.37 226.5 1266.27 228.5 1267.17 230.49 1268.07 232.47 1268.97 234.44 1269.87 236.39 1270.77 238.33 1271.67 240.25 1272.57 242.16 1273.46 244.05 1274.36 245.93 1275.26 247.79 1276.16 249.64 1277.06 251.46 1277.96 253.27 1278.86 255.07 1279.76 256.84 1280.66 258.59 1281.56 260.33 1282.46 262.05 1283.36 263.74 1284.26 265.42 1285.16 267.09 1286.06 268.74 1286.96 270.37 1287.86 271.99 1288.76 273.6 1289.66 275.2 1290.56 276.79 1291.45 278.36 1292.35 279.93 1293.25 281.48 1294.15 283.03 1295.05 284.58 1295.95 286.11 1296.85 287.65 1297.75 289.17 1298.65 290.7 1299.55 292.21 1300.45 293.72 1301.35 295.22 1302.25 296.71 1303.15 298.19 1304.05 299.66 1304.95 301.11 1305.85 302.55 1306.75 303.98 1307.65 305.4 1308.55 306.8 1309.44 308.18 1310.34 309.54 1311.24 310.88 1312.14 312.21 1313.04 313.51 1313.94 314.8 1314.84 316.06 1315.74 317.31 1316.64 318.54 1317.54 319.75 1318.44 320.94 1319.34 322.12 1320.24 323.29 1321.14 324.44 1322.04 325.58 1322.94 326.71 1323.84 327.82 1324.74 328.93 1325.64 330.03 1326.54 331.12 1327.43 332.2 1328.33 333.27 1329.23 334.34 1330.13 335.4 1331.03 336.46 1331.93 337.51 1332.83 338.55 1333.73 339.58 1334.63 340.6 1335.53 341.62 1336.43 342.62 1337.33 343.62 1338.23 344.6 1339.13 345.58 1340.03 346.54 1340.93 347.49 1341.83 348.43 1342.73 349.36 1343.63 350.27 1344.53 351.18 1345.42 352.06 1346.32 352.94 1347.22 353.8 1348.12 354.65 1349.02 355.49 1349.92 356.32 1350.82 357.13 1351.72 357.94 1352.62 358.73 1353.52 359.52 1354.42 360.29 1355.32 361.05 1356.22 361.81 1357.12 362.56 1358.02 363.3 1358.92 364.03 1359.82 364.75 1360.72 365.46 1361.62 366.17 1362.51 366.87 1363.41 367.56 1364.31 368.24 1365.21 368.91 1366.11 369.57 1367.01 370.22 1367.91 370.86 1368.81 371.49 1369.71 372.1 1370.61 372.7 1371.51 373.29 1372.41 373.87 1373.31 374.42 1374.21 374.97 1375.11 375.5 1376.01 376.01 1376.91 376.51 1377.81 376.99 1378.71 377.46 1379.61 377.92 1380.51 378.36 1381.4 378.79 1382.3 379.21 1383.2 379.63 1384.1 380.04 1385 380.44 1385.9 380.83 1386.8 381.22 1387.7 381.61 1388.6 382 1389.5 382.38" stroke="#c8382d" stroke-width="3.6"/><path d="M849.8 436.91 850.7 442.25 851.6 446.12 852.5 448.76 853.4 450.4 854.3 451.27 855.2 451.63 856.1 451.69 857 450.1 857.9 444.23 858.79 435.07 859.69 423.71 860.59 411.26 861.49 398.81 862.39 387.45 863.29 378.29 864.19 372.42 865.09 370.97 865.99 375.35 866.89 384.15 867.79 395.05 868.69 405.71 869.59 413.82 870.49 417.04 871.39 414.89 872.29 409.09 873.19 400.64 874.09 390.51 874.99 379.7 875.89 369.18 876.78 359.94 877.68 352.96 878.58 349.24 879.48 349.74 880.38 354.46 881.28 362.18 882.18 371.63 883.08 381.52 883.98 390.58 884.88 397.53 885.78 401.1 886.68 400.31 887.58 395.67 888.48 387.98 889.38 377.99 890.28 366.45 891.18 354.12 892.08 341.75 892.98 330.1 893.88 319.92 894.77 311.97 895.67 307 896.57 305.76 897.47 308.51 898.37 314.49 899.27 322.8 900.17 332.55 901.07 342.83 901.97 352.76 902.87 361.43 903.77 367.95 904.67 371.42 905.57 370.98 906.47 366.65 907.37 359.23 908.27 349.55 909.17 338.45 910.07 326.76 910.97 315.33 911.87 304.98 912.76 296.55 913.66 290.88 914.56 288.8 915.46 289.94 916.36 293.06 917.26 297.69 918.16 303.41 919.06 309.76 919.96 316.28 920.86 322.54 921.76 328.08 922.66 332.45 923.56 335.2 924.46 335.88 925.36 333.93 926.26 329.6 927.16 323.42 928.06 315.92 928.96 307.64 929.86 299.09 930.75 290.8 931.65 283.3 932.55 277.13 933.45 272.8 934.35 270.84 935.25 271.49 936.15 274.14 937.05 278.34 937.95 283.66 938.85 289.67 939.75 295.94 940.65 302.03 941.55 307.53 942.45 311.98 943.35 314.98 944.25 316.07 945.15 315.04 946.05 312.16 946.95 307.72 947.85 302.04 948.75 295.4 949.64 288.12 950.54 280.49 951.44 272.81 952.34 265.39 953.24 258.53 954.14 252.53 955.04 247.69 955.94 244.31 956.84 242.69 957.74 243.02 958.64 244.98 959.54 248.32 960.44 252.77 961.34 258.09 962.24 264.02 963.14 270.32 964.04 276.73 964.94 283.01 965.84 288.89 966.74 294.14 967.63 298.49 968.53 301.69 969.43 303.51 970.33 303.7 971.23 302.32 972.13 299.57 973.03 295.63 973.93 290.66 974.83 284.86 975.73 278.38 976.63 271.41 977.53 264.13 978.43 256.7 979.33 249.31 980.23 242.13 981.13 235.34 982.03 229.11 982.93 223.62 983.83 219.05 984.72 215.56 985.62 213.34 986.52 212.56 987.42 213.23 988.32 215.15 989.22 218.13 990.12 222.03 991.02 226.68 991.92 231.91 992.82 237.56 993.72 243.46 994.62 249.45 995.52 255.37 996.42 261.05 997.32 266.33 998.22 271.04 999.12 275.02 1000.02 278.11 1000.92 280.14 1001.82 280.94 1002.71 280.55 1003.61 279.21 1004.51 277 1005.41 274.02 1006.31 270.34 1007.21 266.05 1008.11 261.23 1009.01 255.96 1009.91 250.32 1010.81 244.39 1011.71 238.27 1012.61 232.02 1013.51 225.74 1014.41 219.5 1015.31 213.39 1016.21 207.49 1017.11 201.89 1018.01 196.65 1018.91 191.88 1019.81 187.65 1020.7 184.03 1021.6 181.13 1022.5 179.01 1023.4 177.76 1024.3 177.46 1025.2 178.04 1026.1 179.41 1027 181.47 1027.9 184.17 1028.8 187.42 1029.7 191.15 1030.6 195.28 1031.5 199.74 1032.4 204.46 1033.3 209.36 1034.2 214.36 1035.1 219.39 1036 224.37 1036.9 229.24 1037.8 233.91 1038.69 238.31 1039.59 242.37 1040.49 246.01 1041.39 249.16 1042.29 251.73 1043.19 253.67 1044.09 254.88 1044.99 255.3 1045.89 254.99 1046.79 254.06 1047.69 252.57 1048.59 250.55 1049.49 248.03 1050.39 245.07 1051.29 241.69 1052.19 237.93 1053.09 233.84 1053.99 229.46 1054.89 224.81 1055.79 219.95 1056.68 214.9 1057.58 209.71 1058.48 204.43 1059.38 199.07 1060.28 193.69 1061.18 188.33 1062.08 183.02 1062.98 177.79 1063.88 172.7 1064.78 167.78 1065.68 163.06 1066.58 158.6 1067.48 154.41 1068.38 150.55 1069.28 147.06 1070.18 143.96 1071.08 141.31 1071.98 139.14 1072.88 137.48 1073.78 136.38 1074.67 135.88 1075.57 135.94 1076.47 136.39 1077.37 137.18 1078.27 138.3 1079.17 139.73 1080.07 141.45 1080.97 143.44 1081.87 145.67 1082.77 148.14 1083.67 150.81 1084.57 153.67 1085.47 156.7 1086.37 159.87 1087.27 163.17 1088.17 166.58 1089.07 170.08 1089.97 173.65 1090.87 177.26 1091.77 180.9 1092.66 184.55 1093.56 188.18 1094.46 191.78 1095.36 195.33 1096.26 198.8 1097.16 202.18 1098.06 205.45 1098.96 208.58 1099.86 211.56 1100.76 214.36 1101.66 216.98 1102.56 219.37 1103.46 221.54 1104.36 223.44 1105.26 225.08 1106.16 226.42 1107.06 227.44 1107.96 228.13 1108.86 228.47 1109.76 228.46 1110.65 228.23 1111.55 227.8 1112.45 227.16 1113.35 226.33 1114.25 225.32 1115.15 224.13 1116.05 222.76 1116.95 221.23 1117.85 219.53 1118.75 217.68 1119.65 215.67 1120.55 213.53 1121.45 211.24 1122.35 208.82 1123.25 206.28 1124.15 203.62 1125.05 200.84 1125.95 197.96 1126.85 194.97 1127.75 191.89 1128.64 188.72 1129.54 185.46 1130.44 182.13 1131.34 178.73 1132.24 175.26 1133.14 171.73 1134.04 168.14 1134.94 164.51 1135.84 160.84 1136.74 157.14 1137.64 153.4 1138.54 149.64 1139.44 145.86 1140.34 142.08 1141.24 138.28 1142.14 134.49 1143.04 130.71 1143.94 126.94 1144.84 123.18 1145.74 119.46 1146.63 115.76 1147.53 112.1 1148.43 108.48 1149.33 104.92 1150.23 101.4 1151.13 97.95 1152.03 94.57 1152.93 91.26 1153.83 88.03 1154.73 84.88 1155.63 81.83 1156.53 78.87 1157.43 76.02 1158.33 73.28 1159.23 70.65 1160.13 68.14 1161.03 65.77 1161.93 63.52 1162.83 61.42 1163.73 59.46 1164.62 57.65 1165.52 56 1166.42 54.52 1167.32 53.2 1168.22 52.06 1169.12 51.1 1170.02 50.34 1170.92 49.76 1171.82 49.38 1172.72 49.22 1173.62 49.23 1174.52 49.36 1175.42 49.6 1176.32 49.93 1177.22 50.34 1178.12 50.84 1179.02 51.41 1179.92 52.05 1180.82 52.75 1181.72 53.51 1182.62 54.31 1183.51 55.15 1184.41 56.03 1185.31 56.93 1186.21 57.85 1187.11 58.79 1188.01 59.75 1188.91 60.73 1189.81 61.73 1190.71 62.76 1191.61 63.82 1192.51 64.91 1193.41 66.03 1194.31 67.18 1195.21 68.37 1196.11 69.59 1197.01 70.86 1197.91 72.17 1198.81 73.52 1199.71 74.92 1200.61 76.36 1201.5 77.86 1202.4 79.4 1203.3 81 1204.2 82.64 1205.1 84.33 1206 86.06 1206.9 87.84 1207.8 89.66 1208.7 91.52 1209.6 93.42 1210.5 95.36 1211.4 97.34 1212.3 99.34 1213.2 101.38 1214.1 103.45 1215 105.55 1215.9 107.68 1216.8 109.84 1217.7 112.01 1218.6 114.22 1219.49 116.44 1220.39 118.68 1221.29 120.94 1222.19 123.21 1223.09 125.49 1223.99 127.78 1224.89 130.07 1225.79 132.37 1226.69 134.68 1227.59 136.98 1228.49 139.28 1229.39 141.57 1230.29 143.86 1231.19 146.14 1232.09 148.4 1232.99 150.65 1233.89 152.88 1234.79 155.1 1235.69 157.3 1236.59 159.49 1237.48 161.66 1238.38 163.83 1239.28 165.98 1240.18 168.12 1241.08 170.25 1241.98 172.37 1242.88 174.49 1243.78 176.6 1244.68 178.71 1245.58 180.81 1246.48 182.91 1247.38 185.01 1248.28 187.1 1249.18 189.2 1250.08 191.3 1250.98 193.4 1251.88 195.5 1252.78 197.6 1253.68 199.7 1254.58 201.79 1255.47 203.88 1256.37 205.97 1257.27 208.06 1258.17 210.14 1259.07 212.21 1259.97 214.28 1260.87 216.34 1261.77 218.39 1262.67 220.43 1263.57 222.47 1264.47 224.49 1265.37 226.5 1266.27 228.5 1267.17 230.49 1268.07 232.47 1268.97 234.44 1269.87 236.39 1270.77 238.33 1271.67 240.25 1272.57 242.16 1273.46 244.05 1274.36 245.93 1275.26 247.79 1276.16 249.64 1277.06 251.46 1277.96 253.27 1278.86 255.07 1279.76 256.84 1280.66 258.59 1281.56 260.33 1282.46 262.05 1283.36 263.74 1284.26 265.42 1285.16 267.09 1286.06 268.74 1286.96 270.37 1287.86 271.99 1288.76 273.6 1289.66 275.2 1290.56 276.79 1291.45 278.36 1292.35 279.93 1293.25 281.48 1294.15 283.03 1295.05 284.58 1295.95 286.11 1296.85 287.65 1297.75 289.17 1298.65 290.7 1299.55 292.21 1300.45 293.72 1301.35 295.22 1302.25 296.71 1303.15 298.19 1304.05 299.66 1304.95 301.11 1305.85 302.55 1306.75 303.98 1307.65 305.4 1308.55 306.8 1309.44 308.18 1310.34 309.54 1311.24 310.88 1312.14 312.21 1313.04 313.51 1313.94 314.8 1314.84 316.06 1315.74 317.31 1316.64 318.54 1317.54 319.75 1318.44 320.94 1319.34 322.12 1320.24 323.29 1321.14 324.44 1322.04 325.58 1322.94 326.71 1323.84 327.82 1324.74 328.93 1325.64 330.03 1326.54 331.12 1327.43 332.2 1328.33 333.27 1329.23 334.34 1330.13 335.4 1331.03 336.46 1331.93 337.51 1332.83 338.55 1333.73 339.58 1334.63 340.6 1335.53 341.62 1336.43 342.62 1337.33 343.62 1338.23 344.6 1339.13 345.58 1340.03 346.54 1340.93 347.49 1341.83 348.43 1342.73 349.36 1343.63 350.27 1344.53 351.18 1345.42 352.06 1346.32 352.94 1347.22 353.8 1348.12 354.65 1349.02 355.49 1349.92 356.32 1350.82 357.13 1351.72 357.94 1352.62 358.73 1353.52 359.52 1354.42 360.29 1355.32 361.05 1356.22 361.81 1357.12 362.56 1358.02 363.3 1358.92 364.03 1359.82 364.75 1360.72 365.46 1361.62 366.17 1362.51 366.87 1363.41 367.56 1364.31 368.24 1365.21 368.91 1366.11 369.57 1367.01 370.22 1367.91 370.86 1368.81 371.49 1369.71 372.1 1370.61 372.7 1371.51 373.29 1372.41 373.87 1373.31 374.42 1374.21 374.97 1375.11 375.5 1376.01 376.01 1376.91 376.51 1377.81 376.99 1378.71 377.46 1379.61 377.92 1380.51 378.36 1381.4 378.79 1382.3 379.21 1383.2 379.63 1384.1 380.04 1385 380.44 1385.9 380.83 1386.8 381.22 1387.7 381.61 1388.6 382 1389.5 382.38" stroke="#cc2229" stroke-width="3.6"/><path d="M849.8 436.91 850.7 442.25 851.6 446.12 852.5 448.76 853.4 450.4 854.3 451.27 855.2 451.63 856.1 451.69 857 450.1 857.9 444.23 858.79 435.07 859.69 423.71 860.59 411.26 861.49 398.81 862.39 387.45 863.29 378.29 864.19 372.42 865.09 370.97 865.99 375.35 866.89 384.15 867.79 395.05 868.69 405.71 869.59 413.82 870.49 417.04 871.39 414.89 872.29 409.09 873.19 400.64 874.09 390.51 874.99 379.7 875.89 369.18 876.78 359.94 877.68 352.96 878.58 349.24 879.48 349.74 880.38 354.46 881.28 362.18 882.18 371.63 883.08 381.52 883.98 390.58 884.88 397.53 885.78 401.1 886.68 400.31 887.58 395.67 888.48 387.98 889.38 377.99 890.28 366.45 891.18 354.12 892.08 341.75 892.98 330.1 893.88 319.92 894.77 311.97 895.67 307 896.57 305.76 897.47 308.51 898.37 314.49 899.27 322.8 900.17 332.55 901.07 342.83 901.97 352.76 902.87 361.43 903.77 367.95 904.67 371.42 905.57 370.98 906.47 366.65 907.37 359.23 908.27 349.55 909.17 338.45 910.07 326.76 910.97 315.33 911.87 304.98 912.76 296.55 913.66 290.88 914.56 288.8 915.46 289.94 916.36 293.06 917.26 297.69 918.16 303.41 919.06 309.76 919.96 316.28 920.86 322.54 921.76 328.08 922.66 332.45 923.56 335.2 924.46 335.88 925.36 333.93 926.26 329.6 927.16 323.42 928.06 315.92 928.96 307.64 929.86 299.09 930.75 290.8 931.65 283.3 932.55 277.13 933.45 272.8 934.35 270.84 935.25 271.49 936.15 274.14 937.05 278.34 937.95 283.66 938.85 289.67 939.75 295.94 940.65 302.03 941.55 307.53 942.45 311.98 943.35 314.98 944.25 316.07 945.15 315.04 946.05 312.16 946.95 307.72 947.85 302.04 948.75 295.4 949.64 288.12 950.54 280.49 951.44 272.81 952.34 265.39 953.24 258.53 954.14 252.53 955.04 247.69 955.94 244.31 956.84 242.69 957.74 243.02 958.64 244.98 959.54 248.32 960.44 252.77 961.34 258.09 962.24 264.02 963.14 270.32 964.04 276.73 964.94 283.01 965.84 288.89 966.74 294.14 967.63 298.49 968.53 301.69 969.43 303.51 970.33 303.7 971.23 302.32 972.13 299.57 973.03 295.63 973.93 290.66 974.83 284.86 975.73 278.38 976.63 271.41 977.53 264.13 978.43 256.7 979.33 249.31 980.23 242.13 981.13 235.34 982.03 229.11 982.93 223.62 983.83 219.05 984.72 215.56 985.62 213.34 986.52 212.56 987.42 213.23 988.32 215.15 989.22 218.13 990.12 222.03 991.02 226.68 991.92 231.91 992.82 237.56 993.72 243.46 994.62 249.45 995.52 255.37 996.42 261.05 997.32 266.33 998.22 271.04 999.12 275.02 1000.02 278.11 1000.92 280.14 1001.82 280.94 1002.71 280.55 1003.61 279.21 1004.51 277 1005.41 274.02 1006.31 270.34 1007.21 266.05 1008.11 261.23 1009.01 255.96 1009.91 250.32 1010.81 244.39 1011.71 238.27 1012.61 232.02 1013.51 225.74 1014.41 219.5 1015.31 213.39 1016.21 207.49 1017.11 201.89 1018.01 196.65 1018.91 191.88 1019.81 187.65 1020.7 184.03 1021.6 181.13 1022.5 179.01 1023.4 177.76 1024.3 177.46 1025.2 178.04 1026.1 179.41 1027 181.47 1027.9 184.17 1028.8 187.42 1029.7 191.15 1030.6 195.28 1031.5 199.74 1032.4 204.46 1033.3 209.36 1034.2 214.36 1035.1 219.39 1036 224.37 1036.9 229.24 1037.8 233.91 1038.69 238.31 1039.59 242.37 1040.49 246.01 1041.39 249.16 1042.29 251.73 1043.19 253.67 1044.09 254.88 1044.99 255.3 1045.89 254.99 1046.79 254.06 1047.69 252.57 1048.59 250.55 1049.49 248.03 1050.39 245.07 1051.29 241.69 1052.19 237.93 1053.09 233.84 1053.99 229.46 1054.89 224.81 1055.79 219.95 1056.68 214.9 1057.58 209.71 1058.48 204.43 1059.38 199.07 1060.28 193.69 1061.18 188.33 1062.08 183.02 1062.98 177.79 1063.88 172.7 1064.78 167.78 1065.68 163.06 1066.58 158.6 1067.48 154.41 1068.38 150.55 1069.28 147.06 1070.18 143.96 1071.08 141.31 1071.98 139.14 1072.88 137.48 1073.78 136.38 1074.67 135.88 1075.57 135.94 1076.47 136.39 1077.37 137.18 1078.27 138.3 1079.17 139.73 1080.07 141.45 1080.97 143.44 1081.87 145.67 1082.77 148.14 1083.67 150.81 1084.57 153.67 1085.47 156.7 1086.37 159.87 1087.27 163.17 1088.17 166.58 1089.07 170.08 1089.97 173.65 1090.87 177.26 1091.77 180.9 1092.66 184.55 1093.56 188.18 1094.46 191.78 1095.36 195.33 1096.26 198.8 1097.16 202.18 1098.06 205.45 1098.96 208.58 1099.86 211.56 1100.76 214.36 1101.66 216.98 1102.56 219.37 1103.46 221.54 1104.36 223.44 1105.26 225.08 1106.16 226.42 1107.06 227.44 1107.96 228.13 1108.86 228.47 1109.76 228.46 1110.65 228.23 1111.55 227.8 1112.45 227.16 1113.35 226.33 1114.25 225.32 1115.15 224.13 1116.05 222.76 1116.95 221.23 1117.85 219.53 1118.75 217.68 1119.65 215.67 1120.55 213.53 1121.45 211.24 1122.35 208.82 1123.25 206.28 1124.15 203.62 1125.05 200.84 1125.95 197.96 1126.85 194.97 1127.75 191.89 1128.64 188.72 1129.54 185.46 1130.44 182.13 1131.34 178.73 1132.24 175.26 1133.14 171.73 1134.04 168.14 1134.94 164.51 1135.84 160.84 1136.74 157.14 1137.64 153.4 1138.54 149.64 1139.44 145.86 1140.34 142.08 1141.24 138.28 1142.14 134.49 1143.04 130.71 1143.94 126.94 1144.84 123.18 1145.74 119.46 1146.63 115.76 1147.53 112.1 1148.43 108.48 1149.33 104.92 1150.23 101.4 1151.13 97.95 1152.03 94.57 1152.93 91.26 1153.83 88.03 1154.73 84.88 1155.63 81.83 1156.53 78.87 1157.43 76.02 1158.33 73.28 1159.23 70.65 1160.13 68.14 1161.03 65.77 1161.93 63.52 1162.83 61.42 1163.73 59.46 1164.62 57.65 1165.52 56 1166.42 54.52 1167.32 53.2 1168.22 52.06 1169.12 51.1 1170.02 50.34 1170.92 49.76 1171.82 49.38 1172.72 49.22 1173.62 49.23 1174.52 49.36 1175.42 49.6 1176.32 49.93 1177.22 50.34 1178.12 50.84 1179.02 51.41 1179.92 52.05 1180.82 52.75 1181.72 53.51 1182.62 54.31 1183.51 55.15 1184.41 56.03 1185.31 56.93 1186.21 57.85 1187.11 58.79 1188.01 59.75 1188.91 60.73 1189.81 61.73 1190.71 62.76 1191.61 63.82 1192.51 64.91 1193.41 66.03 1194.31 67.18 1195.21 68.37 1196.11 69.59 1197.01 70.86 1197.91 72.17 1198.81 73.52 1199.71 74.92 1200.61 76.36 1201.5 77.86 1202.4 79.4 1203.3 81 1204.2 82.64 1205.1 84.33 1206 86.06 1206.9 87.84 1207.8 89.66 1208.7 91.52 1209.6 93.42 1210.5 95.36 1211.4 97.34 1212.3 99.34 1213.2 101.38 1214.1 103.45 1215 105.55 1215.9 107.68 1216.8 109.84 1217.7 112.01 1218.6 114.22 1219.49 116.44 1220.39 118.68 1221.29 120.94 1222.19 123.21 1223.09 125.49 1223.99 127.78 1224.89 130.07 1225.79 132.37 1226.69 134.68 1227.59 136.98 1228.49 139.28 1229.39 141.57 1230.29 143.86 1231.19 146.14 1232.09 148.4 1232.99 150.65 1233.89 152.88 1234.79 155.1 1235.69 157.3 1236.59 159.49 1237.48 161.66 1238.38 163.83 1239.28 165.98 1240.18 168.12 1241.08 170.25 1241.98 172.37 1242.88 174.49 1243.78 176.6 1244.68 178.71 1245.58 180.81 1246.48 182.91 1247.38 185.01 1248.28 187.1 1249.18 189.2 1250.08 191.3 1250.98 193.4 1251.88 195.5 1252.78 197.6 1253.68 199.7 1254.58 201.79 1255.47 203.88 1256.37 205.97 1257.27 208.06 1258.17 210.14 1259.07 212.21 1259.97 214.28 1260.87 216.34 1261.77 218.39 1262.67 220.43 1263.57 222.47 1264.47 224.49 1265.37 226.5 1266.27 228.5 1267.17 230.49 1268.07 232.47 1268.97 234.44 1269.87 236.39 1270.77 238.33 1271.67 240.25 1272.57 242.16 1273.46 244.05 1274.36 245.93 1275.26 247.79 1276.16 249.64 1277.06 251.46 1277.96 253.27 1278.86 255.07 1279.76 256.84 1280.66 258.59 1281.56 260.33 1282.46 262.05 1283.36 263.74 1284.26 265.42 1285.16 267.09 1286.06 268.74 1286.96 270.37 1287.86 271.99 1288.76 273.6 1289.66 275.2 1290.56 276.79 1291.45 278.36 1292.35 279.93 1293.25 281.48 1294.15 283.03 1295.05 284.58 1295.95 286.11 1296.85 287.65 1297.75 289.17 1298.65 290.7 1299.55 292.21 1300.45 293.72 1301.35 295.22 1302.25 296.71 1303.15 298.19 1304.05 299.66 1304.95 301.11 1305.85 302.55 1306.75 303.98 1307.65 305.4 1308.55 306.8 1309.44 308.18 1310.34 309.54 1311.24 310.88 1312.14 312.21 1313.04 313.51 1313.94 314.8 1314.84 316.06 1315.74 317.31 1316.64 318.54 1317.54 319.75 1318.44 320.94 1319.34 322.12 1320.24 323.29 1321.14 324.44 1322.04 325.58 1322.94 326.71 1323.84 327.82 1324.74 328.93 1325.64 330.03 1326.54 331.12 1327.43 332.2 1328.33 333.27 1329.23 334.34 1330.13 335.4 1331.03 336.46 1331.93 337.51 1332.83 338.55 1333.73 339.58 1334.63 340.6 1335.53 341.62 1336.43 342.62 1337.33 343.62 1338.23 344.6 1339.13 345.58 1340.03 346.54 1340.93 347.49 1341.83 348.43 1342.73 349.36 1343.63 350.27 1344.53 351.18 1345.42 352.06 1346.32 352.94 1347.22 353.8 1348.12 354.65 1349.02 355.49 1349.92 356.32 1350.82 357.13 1351.72 357.94 1352.62 358.73 1353.52 359.52 1354.42 360.29 1355.32 361.05 1356.22 361.81 1357.12 362.56 1358.02 363.3 1358.92 364.03 1359.82 364.75 1360.72 365.46 1361.62 366.17 1362.51 366.87 1363.41 367.56 1364.31 368.24 1365.21 368.91 1366.11 369.57 1367.01 370.22 1367.91 370.86 1368.81 371.49 1369.71 372.1 1370.61 372.7 1371.51 373.29 1372.41 373.87 1373.31 374.42 1374.21 374.97 1375.11 375.5 1376.01 376.01 1376.91 376.51 1377.81 376.99 1378.71 377.46 1379.61 377.92 1380.51 378.36 1381.4 378.79 1382.3 379.21 1383.2 379.63 1384.1 380.04 1385 380.44 1385.9 380.83 1386.8 381.22 1387.7 381.61 1388.6 382 1389.5 382.38" stroke="#991a1f" stroke-width="3.6"/><path d="M849.8 436.91 850.7 442.25 851.6 446.12 852.5 448.76 853.4 450.4 854.3 451.27 855.2 451.63 856.1 451.69 857 450.1 857.9 444.23 858.79 435.07 859.69 423.71 860.59 411.26 861.49 398.81 862.39 387.45 863.29 378.29 864.19 372.42 865.09 370.97 865.99 375.35 866.89 384.15 867.79 395.05 868.69 405.71 869.59 413.82 870.49 417.04 871.39 414.89 872.29 409.09 873.19 400.64 874.09 390.51 874.99 379.7 875.89 369.18 876.78 359.94 877.68 352.96 878.58 349.24 879.48 349.74 880.38 354.46 881.28 362.18 882.18 371.63 883.08 381.52 883.98 390.58 884.88 397.53 885.78 401.1 886.68 400.31 887.58 395.67 888.48 387.98 889.38 377.99 890.28 366.45 891.18 354.12 892.08 341.75 892.98 330.1 893.88 319.92 894.77 311.97 895.67 307 896.57 305.76 897.47 308.51 898.37 314.49 899.27 322.8 900.17 332.55 901.07 342.83 901.97 352.76 902.87 361.43 903.77 367.95 904.67 371.42 905.57 370.98 906.47 366.65 907.37 359.23 908.27 349.55 909.17 338.45 910.07 326.76 910.97 315.33 911.87 304.98 912.76 296.55 913.66 290.88 914.56 288.8 915.46 289.94 916.36 293.06 917.26 297.69 918.16 303.41 919.06 309.76 919.96 316.28 920.86 322.54 921.76 328.08 922.66 332.45 923.56 335.2 924.46 335.88 925.36 333.93 926.26 329.6 927.16 323.42 928.06 315.92 928.96 307.64 929.86 299.09 930.75 290.8 931.65 283.3 932.55 277.13 933.45 272.8 934.35 270.84 935.25 271.49 936.15 274.14 937.05 278.34 937.95 283.66 938.85 289.67 939.75 295.94 940.65 302.03 941.55 307.53 942.45 311.98 943.35 314.98 944.25 316.07 945.15 315.04 946.05 312.16 946.95 307.72 947.85 302.04 948.75 295.4 949.64 288.12 950.54 280.49 951.44 272.81 952.34 265.39 953.24 258.53 954.14 252.53 955.04 247.69 955.94 244.31 956.84 242.69 957.74 243.02 958.64 244.98 959.54 248.32 960.44 252.77 961.34 258.09 962.24 264.02 963.14 270.32 964.04 276.73 964.94 283.01 965.84 288.89 966.74 294.14 967.63 298.49 968.53 301.69 969.43 303.51 970.33 303.7 971.23 302.32 972.13 299.57 973.03 295.63 973.93 290.66 974.83 284.86 975.73 278.38 976.63 271.41 977.53 264.13 978.43 256.7 979.33 249.31 980.23 242.13 981.13 235.34 982.03 229.11 982.93 223.62 983.83 219.05 984.72 215.56 985.62 213.34 986.52 212.56 987.42 213.23 988.32 215.15 989.22 218.13 990.12 222.03 991.02 226.68 991.92 231.91 992.82 237.56 993.72 243.46 994.62 249.45 995.52 255.37 996.42 261.05 997.32 266.33 998.22 271.04 999.12 275.02 1000.02 278.11 1000.92 280.14 1001.82 280.94 1002.71 280.55 1003.61 279.21 1004.51 277 1005.41 274.02 1006.31 270.34 1007.21 266.05 1008.11 261.23 1009.01 255.96 1009.91 250.32 1010.81 244.39 1011.71 238.27 1012.61 232.02 1013.51 225.74 1014.41 219.5 1015.31 213.39 1016.21 207.49 1017.11 201.89 1018.01 196.65 1018.91 191.88 1019.81 187.65 1020.7 184.03 1021.6 181.13 1022.5 179.01 1023.4 177.76 1024.3 177.46 1025.2 178.04 1026.1 179.41 1027 181.47 1027.9 184.17 1028.8 187.42 1029.7 191.15 1030.6 195.28 1031.5 199.74 1032.4 204.46 1033.3 209.36 1034.2 214.36 1035.1 219.39 1036 224.37 1036.9 229.24 1037.8 233.91 1038.69 238.31 1039.59 242.37 1040.49 246.01 1041.39 249.16 1042.29 251.73 1043.19 253.67 1044.09 254.88 1044.99 255.3 1045.89 254.99 1046.79 254.06 1047.69 252.57 1048.59 250.55 1049.49 248.03 1050.39 245.07 1051.29 241.69 1052.19 237.93 1053.09 233.84 1053.99 229.46 1054.89 224.81 1055.79 219.95 1056.68 214.9 1057.58 209.71 1058.48 204.43 1059.38 199.07 1060.28 193.69 1061.18 188.33 1062.08 183.02 1062.98 177.79 1063.88 172.7 1064.78 167.78 1065.68 163.06 1066.58 158.6 1067.48 154.41 1068.38 150.55 1069.28 147.06 1070.18 143.96 1071.08 141.31 1071.98 139.14 1072.88 137.48 1073.78 136.38 1074.67 135.88 1075.57 135.94 1076.47 136.39 1077.37 137.18 1078.27 138.3 1079.17 139.73 1080.07 141.45 1080.97 143.44 1081.87 145.67 1082.77 148.14 1083.67 150.81 1084.57 153.67 1085.47 156.7 1086.37 159.87 1087.27 163.17 1088.17 166.58 1089.07 170.08 1089.97 173.65 1090.87 177.26 1091.77 180.9 1092.66 184.55 1093.56 188.18 1094.46 191.78 1095.36 195.33 1096.26 198.8 1097.16 202.18 1098.06 205.45 1098.96 208.58 1099.86 211.56 1100.76 214.36 1101.66 216.98 1102.56 219.37 1103.46 221.54 1104.36 223.44 1105.26 225.08 1106.16 226.42 1107.06 227.44 1107.96 228.13 1108.86 228.47 1109.76 228.46 1110.65 228.23 1111.55 227.8 1112.45 227.16 1113.35 226.33 1114.25 225.32 1115.15 224.13 1116.05 222.76 1116.95 221.23 1117.85 219.53 1118.75 217.68 1119.65 215.67 1120.55 213.53 1121.45 211.24 1122.35 208.82 1123.25 206.28 1124.15 203.62 1125.05 200.84 1125.95 197.96 1126.85 194.97 1127.75 191.89 1128.64 188.72 1129.54 185.46 1130.44 182.13 1131.34 178.73 1132.24 175.26 1133.14 171.73 1134.04 168.14 1134.94 164.51 1135.84 160.84 1136.74 157.14 1137.64 153.4 1138.54 149.64 1139.44 145.86 1140.34 142.08 1141.24 138.28 1142.14 134.49 1143.04 130.71 1143.94 126.94 1144.84 123.18 1145.74 119.46 1146.63 115.76 1147.53 112.1 1148.43 108.48 1149.33 104.92 1150.23 101.4 1151.13 97.95 1152.03 94.57 1152.93 91.26 1153.83 88.03 1154.73 84.88 1155.63 81.83 1156.53 78.87 1157.43 76.02 1158.33 73.28 1159.23 70.65 1160.13 68.14 1161.03 65.77 1161.93 63.52 1162.83 61.42 1163.73 59.46 1164.62 57.65 1165.52 56 1166.42 54.52 1167.32 53.2 1168.22 52.06 1169.12 51.1 1170.02 50.34 1170.92 49.76 1171.82 49.38 1172.72 49.22 1173.62 49.23 1174.52 49.36 1175.42 49.6 1176.32 49.93 1177.22 50.34 1178.12 50.84 1179.02 51.41 1179.92 52.05 1180.82 52.75 1181.72 53.51 1182.62 54.31 1183.51 55.15 1184.41 56.03 1185.31 56.93 1186.21 57.85 1187.11 58.79 1188.01 59.75 1188.91 60.73 1189.81 61.73 1190.71 62.76 1191.61 63.82 1192.51 64.91 1193.41 66.03 1194.31 67.18 1195.21 68.37 1196.11 69.59 1197.01 70.86 1197.91 72.17 1198.81 73.52 1199.71 74.92 1200.61 76.36 1201.5 77.86 1202.4 79.4 1203.3 81 1204.2 82.64 1205.1 84.33 1206 86.06 1206.9 87.84 1207.8 89.66 1208.7 91.52 1209.6 93.42 1210.5 95.36 1211.4 97.34 1212.3 99.34 1213.2 101.38 1214.1 103.45 1215 105.55 1215.9 107.68 1216.8 109.84 1217.7 112.01 1218.6 114.22 1219.49 116.44 1220.39 118.68 1221.29 120.94 1222.19 123.21 1223.09 125.49 1223.99 127.78 1224.89 130.07 1225.79 132.37 1226.69 134.68 1227.59 136.98 1228.49 139.28 1229.39 141.57 1230.29 143.86 1231.19 146.14 1232.09 148.4 1232.99 150.65 1233.89 152.88 1234.79 155.1 1235.69 157.3 1236.59 159.49 1237.48 161.66 1238.38 163.83 1239.28 165.98 1240.18 168.12 1241.08 170.25 1241.98 172.37 1242.88 174.49 1243.78 176.6 1244.68 178.71 1245.58 180.81 1246.48 182.91 1247.38 185.01 1248.28 187.1 1249.18 189.2 1250.08 191.3 1250.98 193.4 1251.88 195.5 1252.78 197.6 1253.68 199.7 1254.58 201.79 1255.47 203.88 1256.37 205.97 1257.27 208.06 1258.17 210.14 1259.07 212.21 1259.97 214.28 1260.87 216.34 1261.77 218.39 1262.67 220.43 1263.57 222.47 1264.47 224.49 1265.37 226.5 1266.27 228.5 1267.17 230.49 1268.07 232.47 1268.97 234.44 1269.87 236.39 1270.77 238.33 1271.67 240.25 1272.57 242.16 1273.46 244.05 1274.36 245.93 1275.26 247.79 1276.16 249.64 1277.06 251.46 1277.96 253.27 1278.86 255.07 1279.76 256.84 1280.66 258.59 1281.56 260.33 1282.46 262.05 1283.36 263.74 1284.26 265.42 1285.16 267.09 1286.06 268.74 1286.96 270.37 1287.86 271.99 1288.76 273.6 1289.66 275.2 1290.56 276.79 1291.45 278.36 1292.35 279.93 1293.25 281.48 1294.15 283.03 1295.05 284.58 1295.95 286.11 1296.85 287.65 1297.75 289.17 1298.65 290.7 1299.55 292.21 1300.45 293.72 1301.35 295.22 1302.25 296.71 1303.15 298.19 1304.05 299.66 1304.95 301.11 1305.85 302.55 1306.75 303.98 1307.65 305.4 1308.55 306.8 1309.44 308.18 1310.34 309.54 1311.24 310.88 1312.14 312.21 1313.04 313.51 1313.94 314.8 1314.84 316.06 1315.74 317.31 1316.64 318.54 1317.54 319.75 1318.44 320.94 1319.34 322.12 1320.24 323.29 1321.14 324.44 1322.04 325.58 1322.94 326.71 1323.84 327.82 1324.74 328.93 1325.64 330.03 1326.54 331.12 1327.43 332.2 1328.33 333.27 1329.23 334.34 1330.13 335.4 1331.03 336.46 1331.93 337.51 1332.83 338.55 1333.73 339.58 1334.63 340.6 1335.53 341.62 1336.43 342.62 1337.33 343.62 1338.23 344.6 1339.13 345.58 1340.03 346.54 1340.93 347.49 1341.83 348.43 1342.73 349.36 1343.63 350.27 1344.53 351.18 1345.42 352.06 1346.32 352.94 1347.22 353.8 1348.12 354.65 1349.02 355.49 1349.92 356.32 1350.82 357.13 1351.72 357.94 1352.62 358.73 1353.52 359.52 1354.42 360.29 1355.32 361.05 1356.22 361.81 1357.12 362.56 1358.02 363.3 1358.92 364.03 1359.82 364.75 1360.72 365.46 1361.62 366.17 1362.51 366.87 1363.41 367.56 1364.31 368.24 1365.21 368.91 1366.11 369.57 1367.01 370.22 1367.91 370.86 1368.81 371.49 1369.71 372.1 1370.61 372.7 1371.51 373.29 1372.41 373.87 1373.31 374.42 1374.21 374.97 1375.11 375.5 1376.01 376.01 1376.91 376.51 1377.81 376.99 1378.71 377.46 1379.61 377.92 1380.51 378.36 1381.4 378.79 1382.3 379.21 1383.2 379.63 1384.1 380.04 1385 380.44 1385.9 380.83 1386.8 381.22 1387.7 381.61 1388.6 382 1389.5 382.38" stroke="#640e0e" stroke-width="3.6"/><path d="M849.8 436.91 850.7 442.25 851.6 446.12 852.5 448.76 853.4 450.4 854.3 451.27 855.2 451.63 856.1 451.69 857 450.1 857.9 444.23 858.79 435.07 859.69 423.71 860.59 411.26 861.49 398.81 862.39 387.45 863.29 378.29 864.19 372.42 865.09 370.97 865.99 375.35 866.89 384.15 867.79 395.05 868.69 405.71 869.59 413.82 870.49 417.04 871.39 414.89 872.29 409.09 873.19 400.64 874.09 390.51 874.99 379.7 875.89 369.18 876.78 359.94 877.68 352.96 878.58 349.24 879.48 349.74 880.38 354.46 881.28 362.18 882.18 371.63 883.08 381.52 883.98 390.58 884.88 397.53 885.78 401.1 886.68 400.31 887.58 395.67 888.48 387.98 889.38 377.99 890.28 366.45 891.18 354.12 892.08 341.75 892.98 330.1 893.88 319.92 894.77 311.97 895.67 307 896.57 305.76 897.47 308.51 898.37 314.49 899.27 322.8 900.17 332.55 901.07 342.83 901.97 352.76 902.87 361.43 903.77 367.95 904.67 371.42 905.57 370.98 906.47 366.65 907.37 359.23 908.27 349.55 909.17 338.45 910.07 326.76 910.97 315.33 911.87 304.98 912.76 296.55 913.66 290.88 914.56 288.8 915.46 289.94 916.36 293.06 917.26 297.69 918.16 303.41 919.06 309.76 919.96 316.28 920.86 322.54 921.76 328.08 922.66 332.45 923.56 335.2 924.46 335.88 925.36 333.93 926.26 329.6 927.16 323.42 928.06 315.92 928.96 307.64 929.86 299.09 930.75 290.8 931.65 283.3 932.55 277.13 933.45 272.8 934.35 270.84 935.25 271.49 936.15 274.14 937.05 278.34 937.95 283.66 938.85 289.67 939.75 295.94 940.65 302.03 941.55 307.53 942.45 311.98 943.35 314.98 944.25 316.07 945.15 315.04 946.05 312.16 946.95 307.72 947.85 302.04 948.75 295.4 949.64 288.12 950.54 280.49 951.44 272.81 952.34 265.39 953.24 258.53 954.14 252.53 955.04 247.69 955.94 244.31 956.84 242.69 957.74 243.02 958.64 244.98 959.54 248.32 960.44 252.77 961.34 258.09 962.24 264.02 963.14 270.32 964.04 276.73 964.94 283.01 965.84 288.89 966.74 294.14 967.63 298.49 968.53 301.69 969.43 303.51 970.33 303.7 971.23 302.32 972.13 299.57 973.03 295.63 973.93 290.66 974.83 284.86 975.73 278.38 976.63 271.41 977.53 264.13 978.43 256.7 979.33 249.31 980.23 242.13 981.13 235.34 982.03 229.11 982.93 223.62 983.83 219.05 984.72 215.56 985.62 213.34 986.52 212.56 987.42 213.23 988.32 215.15 989.22 218.13 990.12 222.03 991.02 226.68 991.92 231.91 992.82 237.56 993.72 243.46 994.62 249.45 995.52 255.37 996.42 261.05 997.32 266.33 998.22 271.04 999.12 275.02 1000.02 278.11 1000.92 280.14 1001.82 280.94 1002.71 280.55 1003.61 279.21 1004.51 277 1005.41 274.02 1006.31 270.34 1007.21 266.05 1008.11 261.23 1009.01 255.96 1009.91 250.32 1010.81 244.39 1011.71 238.27 1012.61 232.02 1013.51 225.74 1014.41 219.5 1015.31 213.39 1016.21 207.49 1017.11 201.89 1018.01 196.65 1018.91 191.88 1019.81 187.65 1020.7 184.03 1021.6 181.13 1022.5 179.01 1023.4 177.76 1024.3 177.46 1025.2 178.04 1026.1 179.41 1027 181.47 1027.9 184.17 1028.8 187.42 1029.7 191.15 1030.6 195.28 1031.5 199.74 1032.4 204.46 1033.3 209.36 1034.2 214.36 1035.1 219.39 1036 224.37 1036.9 229.24 1037.8 233.91 1038.69 238.31 1039.59 242.37 1040.49 246.01 1041.39 249.16 1042.29 251.73 1043.19 253.67 1044.09 254.88 1044.99 255.3 1045.89 254.99 1046.79 254.06 1047.69 252.57 1048.59 250.55 1049.49 248.03 1050.39 245.07 1051.29 241.69 1052.19 237.93 1053.09 233.84 1053.99 229.46 1054.89 224.81 1055.79 219.95 1056.68 214.9 1057.58 209.71 1058.48 204.43 1059.38 199.07 1060.28 193.69 1061.18 188.33 1062.08 183.02 1062.98 177.79 1063.88 172.7 1064.78 167.78 1065.68 163.06 1066.58 158.6 1067.48 154.41 1068.38 150.55 1069.28 147.06 1070.18 143.96 1071.08 141.31 1071.98 139.14 1072.88 137.48 1073.78 136.38 1074.67 135.88 1075.57 135.94 1076.47 136.39 1077.37 137.18 1078.27 138.3 1079.17 139.73 1080.07 141.45 1080.97 143.44 1081.87 145.67 1082.77 148.14 1083.67 150.81 1084.57 153.67 1085.47 156.7 1086.37 159.87 1087.27 163.17 1088.17 166.58 1089.07 170.08 1089.97 173.65 1090.87 177.26 1091.77 180.9 1092.66 184.55 1093.56 188.18 1094.46 191.78 1095.36 195.33 1096.26 198.8 1097.16 202.18 1098.06 205.45 1098.96 208.58 1099.86 211.56 1100.76 214.36 1101.66 216.98 1102.56 219.37 1103.46 221.54 1104.36 223.44 1105.26 225.08 1106.16 226.42 1107.06 227.44 1107.96 228.13 1108.86 228.47 1109.76 228.46 1110.65 228.23 1111.55 227.8 1112.45 227.16 1113.35 226.33 1114.25 225.32 1115.15 224.13 1116.05 222.76 1116.95 221.23 1117.85 219.53 1118.75 217.68 1119.65 215.67 1120.55 213.53 1121.45 211.24 1122.35 208.82 1123.25 206.28 1124.15 203.62 1125.05 200.84 1125.95 197.96 1126.85 194.97 1127.75 191.89 1128.64 188.72 1129.54 185.46 1130.44 182.13 1131.34 178.73 1132.24 175.26 1133.14 171.73 1134.04 168.14 1134.94 164.51 1135.84 160.84 1136.74 157.14 1137.64 153.4 1138.54 149.64 1139.44 145.86 1140.34 142.08 1141.24 138.28 1142.14 134.49 1143.04 130.71 1143.94 126.94 1144.84 123.18 1145.74 119.46 1146.63 115.76 1147.53 112.1 1148.43 108.48 1149.33 104.92 1150.23 101.4 1151.13 97.95 1152.03 94.57 1152.93 91.26 1153.83 88.03 1154.73 84.88 1155.63 81.83 1156.53 78.87 1157.43 76.02 1158.33 73.28 1159.23 70.65 1160.13 68.14 1161.03 65.77 1161.93 63.52 1162.83 61.42 1163.73 59.46 1164.62 57.65 1165.52 56 1166.42 54.52 1167.32 53.2 1168.22 52.06 1169.12 51.1 1170.02 50.34 1170.92 49.76 1171.82 49.38 1172.72 49.22 1173.62 49.23 1174.52 49.36 1175.42 49.6 1176.32 49.93 1177.22 50.34 1178.12 50.84 1179.02 51.41 1179.92 52.05 1180.82 52.75 1181.72 53.51 1182.62 54.31 1183.51 55.15 1184.41 56.03 1185.31 56.93 1186.21 57.85 1187.11 58.79 1188.01 59.75 1188.91 60.73 1189.81 61.73 1190.71 62.76 1191.61 63.82 1192.51 64.91 1193.41 66.03 1194.31 67.18 1195.21 68.37 1196.11 69.59 1197.01 70.86 1197.91 72.17 1198.81 73.52 1199.71 74.92 1200.61 76.36 1201.5 77.86 1202.4 79.4 1203.3 81 1204.2 82.64 1205.1 84.33 1206 86.06 1206.9 87.84 1207.8 89.66 1208.7 91.52 1209.6 93.42 1210.5 95.36 1211.4 97.34 1212.3 99.34 1213.2 101.38 1214.1 103.45 1215 105.55 1215.9 107.68 1216.8 109.84 1217.7 112.01 1218.6 114.22 1219.49 116.44 1220.39 118.68 1221.29 120.94 1222.19 123.21 1223.09 125.49 1223.99 127.78 1224.89 130.07 1225.79 132.37 1226.69 134.68 1227.59 136.98 1228.49 139.28 1229.39 141.57 1230.29 143.86 1231.19 146.14 1232.09 148.4 1232.99 150.65 1233.89 152.88 1234.79 155.1 1235.69 157.3 1236.59 159.49 1237.48 161.66 1238.38 163.83 1239.28 165.98 1240.18 168.12 1241.08 170.25 1241.98 172.37 1242.88 174.49 1243.78 176.6 1244.68 178.71 1245.58 180.81 1246.48 182.91 1247.38 185.01 1248.28 187.1 1249.18 189.2 1250.08 191.3 1250.98 193.4 1251.88 195.5 1252.78 197.6 1253.68 199.7 1254.58 201.79 1255.47 203.88 1256.37 205.97 1257.27 208.06 1258.17 210.14 1259.07 212.21 1259.97 214.28 1260.87 216.34 1261.77 218.39 1262.67 220.43 1263.57 222.47 1264.47 224.49 1265.37 226.5 1266.27 228.5 1267.17 230.49 1268.07 232.47 1268.97 234.44 1269.87 236.39 1270.77 238.33 1271.67 240.25 1272.57 242.16 1273.46 244.05 1274.36 245.93 1275.26 247.79 1276.16 249.64 1277.06 251.46 1277.96 253.27 1278.86 255.07 1279.76 256.84 1280.66 258.59 1281.56 260.33 1282.46 262.05 1283.36 263.74 1284.26 265.42 1285.16 267.09 1286.06 268.74 1286.96 270.37 1287.86 271.99 1288.76 273.6 1289.66 275.2 1290.56 276.79 1291.45 278.36 1292.35 279.93 1293.25 281.48 1294.15 283.03 1295.05 284.58 1295.95 286.11 1296.85 287.65 1297.75 289.17 1298.65 290.7 1299.55 292.21 1300.45 293.72 1301.35 295.22 1302.25 296.71 1303.15 298.19 1304.05 299.66 1304.95 301.11 1305.85 302.55 1306.75 303.98 1307.65 305.4 1308.55 306.8 1309.44 308.18 1310.34 309.54 1311.24 310.88 1312.14 312.21 1313.04 313.51 1313.94 314.8 1314.84 316.06 1315.74 317.31 1316.64 318.54 1317.54 319.75 1318.44 320.94 1319.34 322.12 1320.24 323.29 1321.14 324.44 1322.04 325.58 1322.94 326.71 1323.84 327.82 1324.74 328.93 1325.64 330.03 1326.54 331.12 1327.43 332.2 1328.33 333.27 1329.23 334.34 1330.13 335.4 1331.03 336.46 1331.93 337.51 1332.83 338.55 1333.73 339.58 1334.63 340.6 1335.53 341.62 1336.43 342.62 1337.33 343.62 1338.23 344.6 1339.13 345.58 1340.03 346.54 1340.93 347.49 1341.83 348.43 1342.73 349.36 1343.63 350.27 1344.53 351.18 1345.42 352.06 1346.32 352.94 1347.22 353.8 1348.12 354.65 1349.02 355.49 1349.92 356.32 1350.82 357.13 1351.72 357.94 1352.62 358.73 1353.52 359.52 1354.42 360.29 1355.32 361.05 1356.22 361.81 1357.12 362.56 1358.02 363.3 1358.92 364.03 1359.82 364.75 1360.72 365.46 1361.62 366.17 1362.51 366.87 1363.41 367.56 1364.31 368.24 1365.21 368.91 1366.11 369.57 1367.01 370.22 1367.91 370.86 1368.81 371.49 1369.71 372.1 1370.61 372.7 1371.51 373.29 1372.41 373.87 1373.31 374.42 1374.21 374.97 1375.11 375.5 1376.01 376.01 1376.91 376.51 1377.81 376.99 1378.71 377.46 1379.61 377.92 1380.51 378.36 1381.4 378.79 1382.3 379.21 1383.2 379.63 1384.1 380.04 1385 380.44 1385.9 380.83 1386.8 381.22 1387.7 381.61 1388.6 382 1389.5 382.38" stroke="#331111" stroke-width="4.0"/></g>
<rect x="849.8" y="12.7" width="539.7" height="462.1" fill="none" stroke="#000" stroke-width="2.2"/>
<text x="848.8" y="524.3" font-family="'Liberation Sans', Arial, sans-serif" font-size="37.5" text-anchor="middle">0</text><text x="1028.7" y="524.3" font-family="'Liberation Sans', Arial, sans-serif" font-size="37.5" text-anchor="middle">20</text><text x="1208.6" y="524.3" font-family="'Liberation Sans', Arial, sans-serif" font-size="37.5" text-anchor="middle">40</text><text x="1388.5" y="524.3" font-family="'Liberation Sans', Arial, sans-serif" font-size="37.5" text-anchor="middle">60</text><text x="833.6" y="488" font-family="'Liberation Sans', Arial, sans-serif" font-size="37.5" text-anchor="end">0</text><text x="833.6" y="372.47" font-family="'Liberation Sans', Arial, sans-serif" font-size="37.5" text-anchor="end">5</text><text x="833.6" y="256.95" font-family="'Liberation Sans', Arial, sans-serif" font-size="37.5" text-anchor="end">10</text><text x="833.6" y="141.43" font-family="'Liberation Sans', Arial, sans-serif" font-size="37.5" text-anchor="end">15</text><text x="833.6" y="25.9" font-family="'Liberation Sans', Arial, sans-serif" font-size="37.5" text-anchor="end">20</text>
<text x="866.6" y="53" font-family="'Liberation Sans', Arial, sans-serif" font-size="31.7">Fraxicon</text>
<text transform="translate(1333.95 52.7) scale(0.9049 1)" font-family="'Liberation Serif', 'Times New Roman', serif" font-size="35" fill="#000"><tspan>(f)</tspan></text>
<path d="M876.9 631.4V635.8M876.9 1092.7V1088.3M923.5 631.4V635.8M923.5 1092.7V1088.3M970.1 631.4V635.8M970.1 1092.7V1088.3M1016.7 631.4V638.4M1016.7 1092.7V1085.7M1063.3 631.4V635.8M1063.3 1092.7V1088.3M1109.9 631.4V635.8M1109.9 1092.7V1088.3M1156.5 631.4V635.8M1156.5 1092.7V1088.3M1203.1 631.4V638.4M1203.1 1092.7V1085.7M1249.7 631.4V635.8M1249.7 1092.7V1088.3M1296.3 631.4V635.8M1296.3 1092.7V1088.3M1342.9 631.4V635.8M1342.9 1092.7V1088.3M830.3 1063.87H834.7M1389.5 1063.87H1385.1M830.3 1035.04H834.7M1389.5 1035.04H1385.1M830.3 1006.21H834.7M1389.5 1006.21H1385.1M830.3 977.38H837.3M1389.5 977.38H1382.5M830.3 948.54H834.7M1389.5 948.54H1385.1M830.3 919.71H834.7M1389.5 919.71H1385.1M830.3 890.88H834.7M1389.5 890.88H1385.1M830.3 862.05H837.3M1389.5 862.05H1382.5M830.3 833.22H834.7M1389.5 833.22H1385.1M830.3 804.39H834.7M1389.5 804.39H1385.1M830.3 775.56H834.7M1389.5 775.56H1385.1M830.3 746.73H837.3M1389.5 746.73H1382.5M830.3 717.89H834.7M1389.5 717.89H1385.1M830.3 689.06H834.7M1389.5 689.06H1385.1M830.3 660.23H834.7M1389.5 660.23H1385.1" stroke="#000" stroke-width="2" fill="none"/>
<g clip-path="url(#cl)" fill="none" stroke-linejoin="round" stroke-linecap="round"><path d="M830.3 909.91 831.23 930.88 832.16 950.36 833.1 968.32 834.03 984.7 834.96 999.46 835.89 1012.56 836.82 1023.95 837.76 1033.59 838.69 1041.43 839.62 1047.42 840.55 1051.53 841.48 1053.71 842.42 1053.72 843.35 1050.04 844.28 1042.83 845.21 1032.7 846.14 1020.24 847.08 1006.08 848.01 990.83 848.94 975.08 849.87 959.46 850.8 944.57 851.74 931.02 852.67 919.42 853.6 910.38 854.53 904.51 855.46 902.41 856.4 904.98 857.33 911.87 858.26 921.85 859.19 933.67 860.12 946.12 861.06 957.94 861.99 967.91 862.92 974.8 863.85 977.38 864.78 974.29 865.72 965.92 866.65 953.59 867.58 938.61 868.51 922.31 869.44 906.01 870.38 891.03 871.31 878.69 872.24 870.32 873.17 867.24 874.1 868.74 875.04 872.9 875.97 879.21 876.9 887.16 877.83 896.24 878.76 905.93 879.7 915.72 880.63 925.1 881.56 933.56 882.49 940.59 883.42 945.67 884.36 948.3 885.29 947.44 886.22 941.19 887.15 930.4 888.08 916.19 889.02 899.67 889.95 881.97 890.88 864.22 891.81 847.54 892.74 833.04 893.68 821.86 894.61 815.1 895.54 813.77 896.47 816.48 897.4 822.16 898.34 830.33 899.27 840.52 900.2 852.25 901.13 865.03 902.06 878.38 903 891.83 903.93 904.9 904.86 917.1 905.79 927.96 906.72 937 907.66 943.74 908.59 947.69 909.52 948.42 910.45 946.38 911.38 942.15 912.32 936.17 913.25 928.84 914.18 920.62 915.11 911.91 916.04 903.16 916.98 894.78 917.91 887.2 918.84 880.86 919.77 876.18 920.7 873.58 921.64 872.24 922.57 871.03 923.5 869.96 924.43 869.01 925.36 868.19 926.3 867.49 927.23 866.91 928.16 866.44 929.09 866.09 930.02 865.79 930.96 865.52 931.89 865.26 932.82 865.03 933.75 864.82 934.68 864.65 935.62 864.52 936.55 864.42 937.48 864.37 938.41 864.43 939.34 865.16 940.28 866.61 941.21 868.65 942.14 871.18 943.07 874.08 944 877.23 944.94 880.53 945.87 883.86 946.8 887.1 947.73 890.14 948.66 892.87 949.6 895.17 950.53 896.93 951.46 898.04 952.39 898.37 953.32 897.89 954.26 896.68 955.19 894.82 956.12 892.43 957.05 889.59 957.98 886.39 958.92 882.94 959.85 879.33 960.78 875.65 961.71 872 962.64 868.47 963.58 865.16 964.51 862.17 965.44 859.58 966.37 857.5 967.3 856.02 968.24 855.23 969.17 855.29 970.1 856.53 971.03 858.87 971.96 862.17 972.9 866.29 973.83 871.1 974.76 876.45 975.69 882.21 976.62 888.23 977.56 894.38 978.49 900.51 979.42 906.5 980.35 912.18 981.28 917.44 982.22 922.12 983.15 926.09 984.08 929.21 985.01 931.34 985.94 932.34 986.88 932.12 987.81 930.8 988.74 928.48 989.67 925.26 990.6 921.24 991.54 916.52 992.47 911.19 993.4 905.36 994.33 899.12 995.26 892.57 996.2 885.81 997.13 878.94 998.06 872.05 998.99 865.25 999.92 858.63 1000.86 852.29 1001.79 846.32 1002.72 840.83 1003.65 835.92 1004.58 831.68 1005.52 828.21 1006.45 825.61 1007.38 823.98 1008.31 823.42 1009.24 823.84 1010.18 825.08 1011.11 827.07 1012.04 829.74 1012.97 833.01 1013.9 836.84 1014.84 841.14 1015.77 845.85 1016.7 850.91 1017.63 856.25 1018.56 861.81 1019.5 867.51 1020.43 873.29 1021.36 879.08 1022.29 884.82 1023.22 890.44 1024.16 895.87 1025.09 901.06 1026.02 905.92 1026.95 910.39 1027.88 914.42 1028.82 917.92 1029.75 920.84 1030.68 923.1 1031.61 924.65 1032.54 925.41 1033.48 925.37 1034.41 924.71 1035.34 923.48 1036.27 921.73 1037.2 919.49 1038.14 916.78 1039.07 913.66 1040 910.14 1040.93 906.28 1041.86 902.1 1042.8 897.63 1043.73 892.92 1044.66 888 1045.59 882.91 1046.52 877.68 1047.46 872.34 1048.39 866.93 1049.32 861.49 1050.25 856.05 1051.18 850.65 1052.12 845.32 1053.05 840.1 1053.98 835.02 1054.91 830.12 1055.84 825.43 1056.78 821 1057.71 816.84 1058.64 813.01 1059.57 809.54 1060.5 806.45 1061.44 803.79 1062.37 801.59 1063.3 799.89 1064.23 798.72 1065.16 798.12 1066.1 798.08 1067.03 798.38 1067.96 798.96 1068.89 799.81 1069.82 800.91 1070.76 802.24 1071.69 803.8 1072.62 805.57 1073.55 807.52 1074.48 809.65 1075.42 811.95 1076.35 814.38 1077.28 816.95 1078.21 819.64 1079.14 822.42 1080.08 825.29 1081.01 828.23 1081.94 831.22 1082.87 834.25 1083.8 837.3 1084.74 840.36 1085.67 843.42 1086.6 846.45 1087.53 849.45 1088.46 852.39 1089.4 855.27 1090.33 858.06 1091.26 860.75 1092.19 863.33 1093.12 865.79 1094.06 868.09 1094.99 870.24 1095.92 872.22 1096.85 874 1097.78 875.58 1098.72 876.94 1099.65 878.06 1100.58 878.94 1101.51 879.54 1102.44 879.87 1103.38 879.91 1104.31 879.79 1105.24 879.53 1106.17 879.13 1107.1 878.61 1108.04 877.97 1108.97 877.21 1109.9 876.33 1110.83 875.35 1111.76 874.26 1112.7 873.08 1113.63 871.8 1114.56 870.43 1115.49 868.97 1116.42 867.43 1117.36 865.82 1118.29 864.14 1119.22 862.39 1120.15 860.57 1121.08 858.7 1122.02 856.78 1122.95 854.81 1123.88 852.79 1124.81 850.74 1125.74 848.65 1126.68 846.53 1127.61 844.39 1128.54 842.22 1129.47 840.04 1130.4 837.85 1131.34 835.65 1132.27 833.45 1133.2 831.25 1134.13 829.06 1135.06 826.88 1136 824.72 1136.93 822.58 1137.86 820.46 1138.79 818.38 1139.72 816.32 1140.66 814.31 1141.59 812.35 1142.52 810.43 1143.45 808.56 1144.38 806.76 1145.32 805.01 1146.25 803.33 1147.18 801.73 1148.11 800.2 1149.04 798.75 1149.98 797.39 1150.91 796.12 1151.84 794.95 1152.77 793.87 1153.7 792.9 1154.64 792.03 1155.57 791.28 1156.5 790.65 1157.43 790.14 1158.36 789.76 1159.3 789.51 1160.23 789.4 1161.16 789.41 1162.09 789.47 1163.02 789.59 1163.96 789.75 1164.89 789.96 1165.82 790.22 1166.75 790.52 1167.68 790.87 1168.62 791.26 1169.55 791.68 1170.48 792.15 1171.41 792.65 1172.34 793.18 1173.28 793.75 1174.21 794.35 1175.14 794.97 1176.07 795.63 1177 796.31 1177.94 797.02 1178.87 797.75 1179.8 798.5 1180.73 799.27 1181.66 800.06 1182.6 800.88 1183.53 801.73 1184.46 802.6 1185.39 803.49 1186.32 804.42 1187.26 805.38 1188.19 806.37 1189.12 807.39 1190.05 808.44 1190.98 809.54 1191.92 810.66 1192.85 811.83 1193.78 813.04 1194.71 814.28 1195.64 815.57 1196.58 816.89 1197.51 818.25 1198.44 819.63 1199.37 821.05 1200.3 822.5 1201.24 823.97 1202.17 825.47 1203.1 826.98 1204.03 828.52 1204.96 830.08 1205.9 831.64 1206.83 833.23 1207.76 834.82 1208.69 836.42 1209.62 838.03 1210.56 839.65 1211.49 841.28 1212.42 842.91 1213.35 844.56 1214.28 846.21 1215.22 847.88 1216.15 849.56 1217.08 851.26 1218.01 852.96 1218.94 854.68 1219.88 856.42 1220.81 858.17 1221.74 859.94 1222.67 861.73 1223.6 863.53 1224.54 865.35 1225.47 867.19 1226.4 869.03 1227.33 870.89 1228.26 872.76 1229.2 874.63 1230.13 876.5 1231.06 878.37 1231.99 880.24 1232.92 882.11 1233.86 883.97 1234.79 885.81 1235.72 887.65 1236.65 889.47 1237.58 891.28 1238.52 893.06 1239.45 894.83 1240.38 896.58 1241.31 898.32 1242.24 900.04 1243.18 901.74 1244.11 903.44 1245.04 905.12 1245.97 906.79 1246.9 908.45 1247.84 910.11 1248.77 911.76 1249.7 913.4 1250.63 915.04 1251.56 916.68 1252.5 918.31 1253.43 919.94 1254.36 921.57 1255.29 923.2 1256.22 924.82 1257.16 926.44 1258.09 928.04 1259.02 929.65 1259.95 931.24 1260.88 932.82 1261.82 934.39 1262.75 935.95 1263.68 937.49 1264.61 939.02 1265.54 940.54 1266.48 942.04 1267.41 943.51 1268.34 944.98 1269.27 946.42 1270.2 947.84 1271.14 949.24 1272.07 950.63 1273 952 1273.93 953.34 1274.86 954.67 1275.8 955.98 1276.73 957.27 1277.66 958.54 1278.59 959.79 1279.52 961.02 1280.46 962.23 1281.39 963.42 1282.32 964.59 1283.25 965.74 1284.18 966.87 1285.12 967.98 1286.05 969.07 1286.98 970.15 1287.91 971.2 1288.84 972.23 1289.78 973.24 1290.71 974.23 1291.64 975.21 1292.57 976.16 1293.5 977.09 1294.44 978 1295.37 978.9 1296.3 979.77 1297.23 980.62 1298.16 981.45 1299.1 982.27 1300.03 983.07 1300.96 983.85 1301.89 984.61 1302.82 985.36 1303.76 986.09 1304.69 986.8 1305.62 987.51 1306.55 988.2 1307.48 988.87 1308.42 989.54 1309.35 990.19 1310.28 990.83 1311.21 991.47 1312.14 992.09 1313.08 992.7 1314.01 993.3 1314.94 993.9 1315.87 994.48 1316.8 995.05 1317.74 995.61 1318.67 996.17 1319.6 996.71 1320.53 997.24 1321.46 997.77 1322.4 998.28 1323.33 998.79 1324.26 999.28 1325.19 999.77 1326.12 1000.24 1327.06 1000.71 1327.99 1001.16 1328.92 1001.61 1329.85 1002.05 1330.78 1002.48 1331.72 1002.9 1332.65 1003.32 1333.58 1003.72 1334.51 1004.12 1335.44 1004.51 1336.38 1004.9 1337.31 1005.27 1338.24 1005.65 1339.17 1006.01 1340.1 1006.37 1341.04 1006.72 1341.97 1007.07 1342.9 1007.41 1343.83 1007.75 1344.76 1008.09 1345.7 1008.41 1346.63 1008.74 1347.56 1009.06 1348.49 1009.38 1349.42 1009.69 1350.36 1010 1351.29 1010.31 1352.22 1010.61 1353.15 1010.92 1354.08 1011.22 1355.02 1011.52 1355.95 1011.81 1356.88 1012.11 1357.81 1012.4 1358.74 1012.69 1359.68 1012.98 1360.61 1013.27 1361.54 1013.56 1362.47 1013.85 1363.4 1014.13 1364.34 1014.42 1365.27 1014.7 1366.2 1014.98 1367.13 1015.26 1368.06 1015.54 1369 1015.82 1369.93 1016.1 1370.86 1016.38 1371.79 1016.65 1372.72 1016.93 1373.66 1017.2 1374.59 1017.47 1375.52 1017.74 1376.45 1018.02 1377.38 1018.29 1378.32 1018.56 1379.25 1018.83 1380.18 1019.1 1381.11 1019.37 1382.04 1019.64 1382.98 1019.9 1383.91 1020.17 1384.84 1020.44 1385.77 1020.71 1386.7 1020.97 1387.64 1021.24 1388.57 1021.51 1389.5 1021.78" stroke="#cccccc" stroke-width="3.6"/><path d="M830.3 908.18 831.23 932.92 832.16 954.71 833.1 973.72 834.03 990.15 834.96 1004.18 835.89 1015.98 836.82 1025.74 837.76 1033.65 838.69 1039.87 839.62 1044.61 840.55 1048.03 841.48 1050.33 842.42 1051.68 843.35 1052.27 844.28 1051.15 845.21 1042.22 846.14 1025.82 847.08 1003.47 848.01 976.71 848.94 947.05 849.87 916.01 850.8 885.13 851.74 855.93 852.67 829.93 853.6 808.65 854.53 793.62 855.46 786.37 856.4 789.02 857.33 802.65 858.26 824.39 859.19 851.17 860.12 879.94 861.06 907.64 861.99 931.21 862.92 947.59 863.85 953.73 864.78 948.74 865.72 935.2 866.65 915.25 867.58 891.02 868.51 864.64 869.44 838.27 870.38 814.04 871.31 794.09 872.24 780.55 873.17 775.56 874.1 779.25 875.04 789.48 875.97 804.93 876.9 824.29 877.83 846.27 878.76 869.55 879.7 892.83 880.63 914.8 881.56 934.16 882.49 949.61 883.42 959.84 884.36 963.54 885.29 958.92 886.22 946.24 887.15 927.24 888.08 903.69 889.02 877.33 889.95 849.92 890.88 823.21 891.81 798.95 892.74 778.91 893.68 764.82 894.61 758.45 895.54 759.78 896.47 765.62 897.4 775.19 898.34 787.84 899.27 802.9 900.2 819.69 901.13 837.55 902.06 855.81 903 873.8 903.93 890.86 904.86 906.32 905.79 919.5 906.72 929.74 907.66 936.38 908.59 938.74 909.52 935.05 910.45 925.02 911.38 910.22 912.32 892.21 913.25 872.56 914.18 852.83 915.11 834.59 916.04 819.4 916.98 808.82 917.91 804.43 918.84 805.5 919.77 809.09 920.7 814.71 921.64 821.9 922.57 830.21 923.5 839.18 924.43 848.35 925.36 857.28 926.3 865.49 927.23 872.55 928.16 877.98 929.09 881.34 930.02 882.17 930.96 880.12 931.89 875.55 932.82 868.97 933.75 860.91 934.68 851.86 935.62 842.35 936.55 832.9 937.48 824 938.41 816.19 939.34 809.98 940.28 805.87 941.21 804.39 942.14 805.36 943.07 808.06 944 812.18 944.94 817.41 945.87 823.42 946.8 829.9 947.73 836.54 948.66 843.02 949.6 849.03 950.53 854.25 951.46 858.38 952.39 861.08 953.32 862.05 954.26 861.43 955.19 859.68 956.12 856.92 957.05 853.32 957.98 849 958.92 844.11 959.85 838.8 960.78 833.2 961.71 827.45 962.64 821.71 963.58 816.11 964.51 810.79 965.44 805.91 966.37 801.59 967.3 797.98 968.24 795.23 969.17 793.47 970.1 792.86 971.03 793.66 971.96 795.97 972.9 799.61 973.83 804.39 974.76 810.14 975.69 816.69 976.62 823.85 977.56 831.46 978.49 839.33 979.42 847.29 980.35 855.16 981.28 862.77 982.22 869.93 983.15 876.48 984.08 882.23 985.01 887.01 985.94 890.65 986.88 892.96 987.81 893.76 988.74 893.2 989.67 891.57 990.6 888.98 991.54 885.54 992.47 881.33 993.4 876.48 994.33 871.07 995.26 865.21 996.2 859.01 997.13 852.56 998.06 845.96 998.99 839.33 999.92 832.76 1000.86 826.35 1001.79 820.2 1002.72 814.43 1003.65 809.12 1004.58 804.39 1005.52 800.33 1006.45 797.05 1007.38 794.64 1008.31 793.22 1009.24 792.88 1010.18 793.71 1011.11 795.65 1012.04 798.6 1012.97 802.48 1013.9 807.17 1014.84 812.59 1015.77 818.65 1016.7 825.24 1017.63 832.27 1018.56 839.64 1019.5 847.27 1020.43 855.04 1021.36 862.88 1022.29 870.67 1023.22 878.34 1024.16 885.77 1025.09 892.87 1026.02 899.56 1026.95 905.73 1027.88 911.29 1028.82 916.13 1029.75 920.18 1030.68 923.33 1031.61 925.48 1032.54 926.54 1033.48 926.5 1034.41 925.68 1035.34 924.18 1036.27 922.02 1037.2 919.26 1038.14 915.93 1039.07 912.08 1040 907.76 1040.93 903 1041.86 897.85 1042.8 892.36 1043.73 886.56 1044.66 880.51 1045.59 874.24 1046.52 867.8 1047.46 861.23 1048.39 854.57 1049.32 847.88 1050.25 841.18 1051.18 834.53 1052.12 827.97 1053.05 821.55 1053.98 815.3 1054.91 809.27 1055.84 803.5 1056.78 798.04 1057.71 792.93 1058.64 788.21 1059.57 783.93 1060.5 780.14 1061.44 776.86 1062.37 774.16 1063.3 772.06 1064.23 770.62 1065.16 769.88 1066.1 769.83 1067.03 770.14 1067.96 770.74 1068.89 771.62 1069.82 772.76 1070.76 774.14 1071.69 775.75 1072.62 777.58 1073.55 779.6 1074.48 781.8 1075.42 784.17 1076.35 786.69 1077.28 789.34 1078.21 792.1 1079.14 794.97 1080.08 797.92 1081.01 800.93 1081.94 804 1082.87 807.11 1083.8 810.24 1084.74 813.37 1085.67 816.48 1086.6 819.57 1087.53 822.62 1088.46 825.61 1089.4 828.51 1090.33 831.33 1091.26 834.04 1092.19 836.62 1093.12 839.07 1094.06 841.36 1094.99 843.47 1095.92 845.4 1096.85 847.12 1097.78 848.62 1098.72 849.88 1099.65 850.89 1100.58 851.63 1101.51 852.09 1102.44 852.25 1103.38 852.16 1104.31 851.91 1105.24 851.5 1106.17 850.93 1107.1 850.21 1108.04 849.35 1108.97 848.35 1109.9 847.21 1110.83 845.95 1111.76 844.57 1112.7 843.06 1113.63 841.45 1114.56 839.73 1115.49 837.91 1116.42 836 1117.36 834 1118.29 831.91 1119.22 829.75 1120.15 827.51 1121.08 825.2 1122.02 822.84 1122.95 820.42 1123.88 817.94 1124.81 815.43 1125.74 812.87 1126.68 810.28 1127.61 807.66 1128.54 805.01 1129.47 802.35 1130.4 799.68 1131.34 797 1132.27 794.33 1133.2 791.65 1134.13 788.99 1135.06 786.34 1136 783.71 1136.93 781.11 1137.86 778.54 1138.79 776.01 1139.72 773.53 1140.66 771.09 1141.59 768.71 1142.52 766.38 1143.45 764.12 1144.38 761.94 1145.32 759.83 1146.25 757.8 1147.18 755.86 1148.11 754.01 1149.04 752.26 1149.98 750.61 1150.91 749.08 1151.84 747.66 1152.77 746.36 1153.7 745.18 1154.64 744.14 1155.57 743.24 1156.5 742.48 1157.43 741.86 1158.36 741.4 1159.3 741.1 1160.23 740.97 1161.16 740.97 1162.09 741.04 1163.02 741.15 1163.96 741.33 1164.89 741.55 1165.82 741.82 1166.75 742.14 1167.68 742.51 1168.62 742.92 1169.55 743.39 1170.48 743.9 1171.41 744.45 1172.34 745.05 1173.28 745.69 1174.21 746.37 1175.14 747.09 1176.07 747.85 1177 748.65 1177.94 749.49 1178.87 750.37 1179.8 751.28 1180.73 752.22 1181.66 753.2 1182.6 754.22 1183.53 755.27 1184.46 756.34 1185.39 757.45 1186.32 758.59 1187.26 759.76 1188.19 760.95 1189.12 762.17 1190.05 763.42 1190.98 764.69 1191.92 765.98 1192.85 767.3 1193.78 768.64 1194.71 770 1195.64 771.38 1196.58 772.78 1197.51 774.2 1198.44 775.65 1199.37 777.11 1200.3 778.6 1201.24 780.11 1202.17 781.64 1203.1 783.19 1204.03 784.76 1204.96 786.35 1205.9 787.96 1206.83 789.6 1207.76 791.25 1208.69 792.93 1209.62 794.63 1210.56 796.35 1211.49 798.09 1212.42 799.86 1213.35 801.64 1214.28 803.45 1215.22 805.28 1216.15 807.13 1217.08 809 1218.01 810.89 1218.94 812.8 1219.88 814.74 1220.81 816.7 1221.74 818.68 1222.67 820.68 1223.6 822.7 1224.54 824.74 1225.47 826.81 1226.4 828.89 1227.33 830.99 1228.26 833.1 1229.2 835.23 1230.13 837.37 1231.06 839.53 1231.99 841.69 1232.92 843.86 1233.86 846.04 1234.79 848.22 1235.72 850.41 1236.65 852.6 1237.58 854.8 1238.52 856.99 1239.45 859.18 1240.38 861.37 1241.31 863.56 1242.24 865.74 1243.18 867.91 1244.11 870.08 1245.04 872.24 1245.97 874.38 1246.9 876.52 1247.84 878.63 1248.77 880.74 1249.7 882.83 1250.63 884.9 1251.56 886.95 1252.5 888.98 1253.43 890.99 1254.36 892.98 1255.29 894.94 1256.22 896.88 1257.16 898.81 1258.09 900.71 1259.02 902.59 1259.95 904.45 1260.88 906.28 1261.82 908.1 1262.75 909.9 1263.68 911.67 1264.61 913.42 1265.54 915.16 1266.48 916.87 1267.41 918.56 1268.34 920.23 1269.27 921.88 1270.2 923.51 1271.14 925.12 1272.07 926.71 1273 928.27 1273.93 929.82 1274.86 931.35 1275.8 932.86 1276.73 934.35 1277.66 935.81 1278.59 937.26 1279.52 938.69 1280.46 940.1 1281.39 941.49 1282.32 942.86 1283.25 944.2 1284.18 945.54 1285.12 946.85 1286.05 948.14 1286.98 949.41 1287.91 950.67 1288.84 951.9 1289.78 953.12 1290.71 954.32 1291.64 955.51 1292.57 956.67 1293.5 957.82 1294.44 958.95 1295.37 960.06 1296.3 961.16 1297.23 962.24 1298.16 963.3 1299.1 964.35 1300.03 965.38 1300.96 966.4 1301.89 967.39 1302.82 968.38 1303.76 969.35 1304.69 970.3 1305.62 971.24 1306.55 972.16 1307.48 973.07 1308.42 973.96 1309.35 974.84 1310.28 975.71 1311.21 976.56 1312.14 977.4 1313.08 978.22 1314.01 979.03 1314.94 979.83 1315.87 980.62 1316.8 981.39 1317.74 982.15 1318.67 982.9 1319.6 983.63 1320.53 984.35 1321.46 985.06 1322.4 985.76 1323.33 986.45 1324.26 987.12 1325.19 987.79 1326.12 988.44 1327.06 989.08 1327.99 989.72 1328.92 990.34 1329.85 990.95 1330.78 991.55 1331.72 992.14 1332.65 992.72 1333.58 993.29 1334.51 993.85 1335.44 994.4 1336.38 994.95 1337.31 995.48 1338.24 996.01 1339.17 996.52 1340.1 997.03 1341.04 997.53 1341.97 998.02 1342.9 998.51 1343.83 998.98 1344.76 999.45 1345.7 999.91 1346.63 1000.37 1347.56 1000.81 1348.49 1001.25 1349.42 1001.68 1350.36 1002.11 1351.29 1002.53 1352.22 1002.94 1353.15 1003.35 1354.08 1003.75 1355.02 1004.14 1355.95 1004.53 1356.88 1004.92 1357.81 1005.29 1358.74 1005.67 1359.68 1006.03 1360.61 1006.4 1361.54 1006.75 1362.47 1007.11 1363.4 1007.46 1364.34 1007.8 1365.27 1008.14 1366.2 1008.48 1367.13 1008.81 1368.06 1009.14 1369 1009.46 1369.93 1009.78 1370.86 1010.1 1371.79 1010.41 1372.72 1010.73 1373.66 1011.03 1374.59 1011.34 1375.52 1011.64 1376.45 1011.95 1377.38 1012.25 1378.32 1012.54 1379.25 1012.84 1380.18 1013.13 1381.11 1013.42 1382.04 1013.71 1382.98 1014 1383.91 1014.29 1384.84 1014.58 1385.77 1014.87 1386.7 1015.15 1387.64 1015.44 1388.57 1015.72 1389.5 1016.01" stroke="#cbcb88" stroke-width="3.6"/><path d="M830.3 900.68 831.23 926.28 832.16 948.99 833.1 968.98 834.03 986.44 834.96 1001.52 835.89 1014.41 836.82 1025.26 837.76 1034.26 838.69 1041.57 839.62 1047.36 840.55 1051.8 841.48 1055.07 842.42 1057.34 843.35 1058.77 844.28 1059.54 845.21 1059.82 846.14 1057.23 847.08 1045.64 848.01 1026.87 848.94 1003.3 849.87 977.26 850.8 951.1 851.74 927.17 852.67 907.82 853.6 895.4 854.53 892.16 855.46 896.1 856.4 904.57 857.33 916.18 858.26 929.53 859.19 943.23 860.12 955.88 861.06 966.09 861.99 972.48 862.92 973.46 863.85 965.8 864.78 950.13 865.72 928.29 866.65 902.13 867.58 873.48 868.51 844.18 869.44 816.08 870.38 791.02 871.31 770.84 872.24 757.39 873.17 752.49 874.1 755.87 875.04 765.22 875.97 779.34 876.9 797.04 877.83 817.13 878.76 838.41 879.7 859.69 880.63 879.78 881.56 897.48 882.49 911.6 883.42 920.94 884.36 924.33 885.29 920.2 886.22 908.87 887.15 891.91 888.08 870.87 889.02 847.32 889.95 822.84 890.88 798.98 891.81 777.31 892.74 759.4 893.68 746.82 894.61 741.13 895.54 742.47 896.47 748.25 897.4 757.73 898.34 770.26 899.27 785.17 900.2 801.8 901.13 819.49 902.06 837.58 903 855.4 903.93 872.29 904.86 887.6 905.79 900.66 906.72 910.8 907.66 917.37 908.59 919.71 909.52 918.53 910.45 915.22 911.38 910.16 912.32 903.73 913.25 896.28 914.18 888.19 915.11 879.83 916.04 871.57 916.98 863.78 917.91 856.84 918.84 851.1 919.77 846.95 920.7 844.75 921.64 843.68 922.57 842.69 923.5 841.79 924.43 840.99 925.36 840.3 926.3 839.75 927.23 839.33 928.16 839.07 929.09 838.99 930.02 839.02 930.96 839.14 931.89 839.32 932.82 839.56 933.75 839.87 934.68 840.22 935.62 840.63 936.55 841.08 937.48 841.56 938.41 842.17 939.34 843.72 940.28 846.24 941.21 849.57 942.14 853.52 943.07 857.93 944 862.62 944.94 867.41 945.87 872.13 946.8 876.6 947.73 880.65 948.66 884.11 949.6 886.79 950.53 888.53 951.46 889.15 952.39 888.64 953.32 887.18 954.26 884.89 955.19 881.89 956.12 878.28 957.05 874.17 957.98 869.7 958.92 864.96 959.85 860.07 960.78 855.15 961.71 850.3 962.64 845.66 963.58 841.31 964.51 837.4 965.44 834.01 966.37 831.28 967.3 829.31 968.24 828.22 969.17 828.12 970.1 829.13 971.03 831.15 971.96 834.04 972.9 837.67 973.83 841.93 974.76 846.68 975.69 851.78 976.62 857.12 977.56 862.56 978.49 867.98 979.42 873.24 980.35 878.22 981.28 882.78 982.22 886.81 983.15 890.16 984.08 892.72 985.01 894.35 985.94 894.92 986.88 894.36 987.81 892.76 988.74 890.19 989.67 886.76 990.6 882.56 991.54 877.68 992.47 872.2 993.4 866.23 994.33 859.86 995.26 853.17 996.2 846.26 997.13 839.22 998.06 832.15 998.99 825.13 999.92 818.25 1000.86 811.62 1001.79 805.32 1002.72 799.44 1003.65 794.08 1004.58 789.32 1005.52 785.27 1006.45 782 1007.38 779.62 1008.31 778.22 1009.24 777.88 1010.18 778.4 1011.11 779.62 1012.04 781.48 1012.97 783.92 1013.9 786.87 1014.84 790.28 1015.77 794.09 1016.7 798.24 1017.63 802.67 1018.56 807.31 1019.5 812.1 1020.43 817 1021.36 821.93 1022.29 826.83 1023.22 831.66 1024.16 836.33 1025.09 840.81 1026.02 845.01 1026.95 848.9 1027.88 852.39 1028.82 855.44 1029.75 857.99 1030.68 859.97 1031.61 861.32 1032.54 861.99 1033.48 861.96 1034.41 861.44 1035.34 860.47 1036.27 859.09 1037.2 857.32 1038.14 855.2 1039.07 852.75 1040 850 1040.93 846.99 1041.86 843.74 1042.8 840.28 1043.73 836.65 1044.66 832.87 1045.59 828.97 1046.52 824.99 1047.46 820.94 1048.39 816.87 1049.32 812.8 1050.25 808.76 1051.18 804.78 1052.12 800.89 1053.05 797.13 1053.98 793.51 1054.91 790.07 1055.84 786.85 1056.78 783.86 1057.71 781.14 1058.64 778.72 1059.57 776.63 1060.5 774.9 1061.44 773.56 1062.37 772.63 1063.3 772.16 1064.23 772.14 1065.16 772.46 1066.1 773.08 1067.03 774 1067.96 775.19 1068.89 776.64 1069.82 778.33 1070.76 780.25 1071.69 782.37 1072.62 784.69 1073.55 787.19 1074.48 789.86 1075.42 792.67 1076.35 795.61 1077.28 798.66 1078.21 801.82 1079.14 805.06 1080.08 808.36 1081.01 811.72 1081.94 815.11 1082.87 818.53 1083.8 821.94 1084.74 825.35 1085.67 828.72 1086.6 832.06 1087.53 835.33 1088.46 838.53 1089.4 841.64 1090.33 844.64 1091.26 847.52 1092.19 850.25 1093.12 852.84 1094.06 855.25 1094.99 857.48 1095.92 859.5 1096.85 861.3 1097.78 862.88 1098.72 864.2 1099.65 865.25 1100.58 866.03 1101.51 866.5 1102.44 866.66 1103.38 866.57 1104.31 866.29 1105.24 865.84 1106.17 865.21 1107.1 864.42 1108.04 863.46 1108.97 862.36 1109.9 861.11 1110.83 859.71 1111.76 858.19 1112.7 856.53 1113.63 854.75 1114.56 852.85 1115.49 850.84 1116.42 848.73 1117.36 846.52 1118.29 844.22 1119.22 841.83 1120.15 839.36 1121.08 836.82 1122.02 834.21 1122.95 831.53 1123.88 828.8 1124.81 826.02 1125.74 823.2 1126.68 820.34 1127.61 817.45 1128.54 814.54 1129.47 811.6 1130.4 808.65 1131.34 805.7 1132.27 802.74 1133.2 799.79 1134.13 796.85 1135.06 793.93 1136 791.03 1136.93 788.16 1137.86 785.32 1138.79 782.53 1139.72 779.79 1140.66 777.1 1141.59 774.46 1142.52 771.9 1143.45 769.41 1144.38 766.99 1145.32 764.67 1146.25 762.43 1147.18 760.28 1148.11 758.24 1149.04 756.31 1149.98 754.5 1150.91 752.8 1151.84 751.24 1152.77 749.8 1153.7 748.51 1154.64 747.36 1155.57 746.36 1156.5 745.52 1157.43 744.84 1158.36 744.33 1159.3 744 1160.23 743.85 1161.16 743.85 1162.09 743.91 1163.02 744 1163.96 744.14 1164.89 744.33 1165.82 744.55 1166.75 744.82 1167.68 745.13 1168.62 745.48 1169.55 745.87 1170.48 746.29 1171.41 746.76 1172.34 747.27 1173.28 747.82 1174.21 748.4 1175.14 749.03 1176.07 749.68 1177 750.38 1177.94 751.11 1178.87 751.88 1179.8 752.68 1180.73 753.52 1181.66 754.39 1182.6 755.3 1183.53 756.24 1184.46 757.21 1185.39 758.22 1186.32 759.25 1187.26 760.32 1188.19 761.42 1189.12 762.55 1190.05 763.71 1190.98 764.9 1191.92 766.12 1192.85 767.36 1193.78 768.64 1194.71 769.94 1195.64 771.27 1196.58 772.63 1197.51 774.01 1198.44 775.42 1199.37 776.86 1200.3 778.32 1201.24 779.81 1202.17 781.33 1203.1 782.87 1204.03 784.43 1204.96 786.02 1205.9 787.64 1206.83 789.28 1207.76 790.94 1208.69 792.63 1209.62 794.34 1210.56 796.08 1211.49 797.84 1212.42 799.62 1213.35 801.42 1214.28 803.25 1215.22 805.1 1216.15 806.97 1217.08 808.86 1218.01 810.78 1218.94 812.72 1219.88 814.67 1220.81 816.65 1221.74 818.65 1222.67 820.67 1223.6 822.71 1224.54 824.77 1225.47 826.84 1226.4 828.94 1227.33 831.05 1228.26 833.17 1229.2 835.3 1230.13 837.45 1231.06 839.61 1231.99 841.77 1232.92 843.95 1233.86 846.13 1234.79 848.31 1235.72 850.5 1236.65 852.69 1237.58 854.88 1238.52 857.07 1239.45 859.26 1240.38 861.44 1241.31 863.62 1242.24 865.8 1243.18 867.97 1244.11 870.13 1245.04 872.28 1245.97 874.42 1246.9 876.55 1247.84 878.66 1248.77 880.76 1249.7 882.84 1250.63 884.91 1251.56 886.95 1252.5 888.98 1253.43 890.98 1254.36 892.97 1255.29 894.93 1256.22 896.87 1257.16 898.79 1258.09 900.69 1259.02 902.57 1259.95 904.43 1260.88 906.26 1261.82 908.08 1262.75 909.87 1263.68 911.65 1264.61 913.4 1265.54 915.13 1266.48 916.85 1267.41 918.54 1268.34 920.21 1269.27 921.86 1270.2 923.49 1271.14 925.1 1272.07 926.69 1273 928.26 1273.93 929.81 1274.86 931.34 1275.8 932.85 1276.73 934.34 1277.66 935.81 1278.59 937.26 1279.52 938.69 1280.46 940.1 1281.39 941.49 1282.32 942.86 1283.25 944.21 1284.18 945.54 1285.12 946.85 1286.05 948.14 1286.98 949.42 1287.91 950.67 1288.84 951.91 1289.78 953.13 1290.71 954.33 1291.64 955.51 1292.57 956.68 1293.5 957.82 1294.44 958.96 1295.37 960.07 1296.3 961.16 1297.23 962.24 1298.16 963.31 1299.1 964.35 1300.03 965.39 1300.96 966.4 1301.89 967.4 1302.82 968.38 1303.76 969.35 1304.69 970.3 1305.62 971.24 1306.55 972.16 1307.48 973.07 1308.42 973.96 1309.35 974.84 1310.28 975.71 1311.21 976.56 1312.14 977.4 1313.08 978.22 1314.01 979.03 1314.94 979.83 1315.87 980.62 1316.8 981.39 1317.74 982.15 1318.67 982.89 1319.6 983.63 1320.53 984.35 1321.46 985.06 1322.4 985.76 1323.33 986.45 1324.26 987.12 1325.19 987.79 1326.12 988.44 1327.06 989.08 1327.99 989.71 1328.92 990.34 1329.85 990.95 1330.78 991.55 1331.72 992.14 1332.65 992.72 1333.58 993.29 1334.51 993.85 1335.44 994.4 1336.38 994.95 1337.31 995.48 1338.24 996.01 1339.17 996.52 1340.1 997.03 1341.04 997.53 1341.97 998.02 1342.9 998.51 1343.83 998.98 1344.76 999.45 1345.7 999.91 1346.63 1000.37 1347.56 1000.81 1348.49 1001.25 1349.42 1001.68 1350.36 1002.11 1351.29 1002.53 1352.22 1002.94 1353.15 1003.35 1354.08 1003.75 1355.02 1004.15 1355.95 1004.53 1356.88 1004.92 1357.81 1005.3 1358.74 1005.67 1359.68 1006.04 1360.61 1006.4 1361.54 1006.76 1362.47 1007.11 1363.4 1007.46 1364.34 1007.8 1365.27 1008.14 1366.2 1008.48 1367.13 1008.81 1368.06 1009.14 1369 1009.46 1369.93 1009.78 1370.86 1010.1 1371.79 1010.41 1372.72 1010.73 1373.66 1011.04 1374.59 1011.34 1375.52 1011.65 1376.45 1011.95 1377.38 1012.25 1378.32 1012.54 1379.25 1012.84 1380.18 1013.13 1381.11 1013.42 1382.04 1013.72 1382.98 1014 1383.91 1014.29 1384.84 1014.58 1385.77 1014.87 1386.7 1015.15 1387.64 1015.44 1388.57 1015.72 1389.5 1016.01" stroke="#c9c93c" stroke-width="3.6"/><path d="M830.3 888 831.23 884.35 832.16 882.47 833.1 882.87 834.03 887.67 834.96 896.53 835.89 908.68 836.82 923.34 837.76 939.75 838.69 957.12 839.62 974.68 840.55 991.66 841.48 1007.29 842.42 1020.79 843.35 1031.39 844.28 1038.32 845.21 1040.8 846.14 1035.15 847.08 1019.81 848.01 997.21 848.94 969.76 849.87 939.89 850.8 910.03 851.74 882.58 852.67 859.97 853.6 844.64 854.53 838.99 855.46 842.59 856.4 852.27 857.33 866.34 858.26 883.11 859.19 900.89 860.12 918 861.06 932.75 861.99 943.44 862.92 948.39 863.85 945.58 864.78 934.51 865.72 916.9 866.65 894.52 867.58 869.13 868.51 842.51 869.44 816.41 870.38 792.61 871.31 772.88 872.24 758.98 873.17 752.68 874.1 754.84 875.04 763.7 875.97 777.96 876.9 796.37 877.83 817.68 878.76 840.62 879.7 863.94 880.63 886.38 881.56 906.68 882.49 923.58 883.42 935.84 884.36 942.18 885.29 940.98 886.22 930.8 887.15 913.32 888.08 890.45 889.02 864.13 889.95 836.26 890.88 808.79 891.81 783.61 892.74 762.67 893.68 747.88 894.61 741.16 895.54 742.78 896.47 749.69 897.4 760.89 898.34 775.47 899.27 792.52 900.2 811.12 901.13 830.35 902.06 849.32 903 867.1 903.93 882.77 904.86 895.43 905.79 904.17 906.72 908.06 907.66 906.28 908.59 899.11 909.52 887.59 910.45 872.77 911.38 855.71 912.32 837.44 913.25 819.01 914.18 801.48 915.11 785.88 916.04 773.26 916.98 764.68 917.91 761.17 918.84 762.34 919.77 766.19 920.7 772.23 921.64 779.95 922.57 788.88 923.5 798.51 924.43 808.36 925.36 817.95 926.3 826.77 927.23 834.35 928.16 840.19 929.09 843.8 930.02 844.72 930.96 843.61 931.89 841.13 932.82 837.54 933.75 833.11 934.68 828.1 935.62 822.77 936.55 817.38 937.48 812.21 938.41 807.52 939.34 803.56 940.28 800.6 941.21 798.92 942.14 798.77 943.07 800.3 944 803.31 944.94 807.51 945.87 812.64 946.8 818.43 947.73 824.62 948.66 830.92 949.6 837.07 950.53 842.81 951.46 847.86 952.39 851.95 953.32 854.82 954.26 856.2 955.19 856 956.12 854.69 957.05 852.42 957.98 849.32 958.92 845.51 959.85 841.14 960.78 836.31 961.71 831.16 962.64 825.83 963.58 820.43 964.51 815.09 965.44 809.95 966.37 805.12 967.3 800.74 968.24 796.94 969.17 793.84 970.1 791.57 971.03 790.25 971.96 790.03 972.9 790.96 973.83 792.94 974.76 795.84 975.69 799.52 976.62 803.83 977.56 808.66 978.49 813.85 979.42 819.27 980.35 824.78 981.28 830.26 982.22 835.56 983.15 840.55 984.08 845.08 985.01 849.03 985.94 852.26 986.88 854.62 987.81 855.99 988.74 856.24 989.67 855.5 990.6 853.91 991.54 851.56 992.47 848.53 993.4 844.92 994.33 840.8 995.26 836.27 996.2 831.41 997.13 826.31 998.06 821.06 998.99 815.74 999.92 810.45 1000.86 805.26 1001.79 800.27 1002.72 795.57 1003.65 791.23 1004.58 787.35 1005.52 784.02 1006.45 781.32 1007.38 779.34 1008.31 778.16 1009.24 777.88 1010.18 778.4 1011.11 779.62 1012.04 781.48 1012.97 783.92 1013.9 786.87 1014.84 790.28 1015.77 794.09 1016.7 798.24 1017.63 802.67 1018.56 807.31 1019.5 812.1 1020.43 817 1021.36 821.93 1022.29 826.83 1023.22 831.66 1024.16 836.33 1025.09 840.81 1026.02 845.01 1026.95 848.9 1027.88 852.39 1028.82 855.44 1029.75 857.99 1030.68 859.97 1031.61 861.32 1032.54 861.99 1033.48 861.92 1034.41 861.15 1035.34 859.72 1036.27 857.68 1037.2 855.08 1038.14 851.95 1039.07 848.33 1040 844.29 1040.93 839.84 1041.86 835.05 1042.8 829.96 1043.73 824.6 1044.66 819.03 1045.59 813.28 1046.52 807.4 1047.46 801.44 1048.39 795.44 1049.32 789.44 1050.25 783.48 1051.18 777.61 1052.12 771.88 1053.05 766.33 1053.98 761 1054.91 755.93 1055.84 751.17 1056.78 746.77 1057.71 742.76 1058.64 739.19 1059.57 736.11 1060.5 733.56 1061.44 731.58 1062.37 730.22 1063.3 729.52 1064.23 729.48 1065.16 729.87 1066.1 730.63 1067.03 731.75 1067.96 733.2 1068.89 734.97 1069.82 737.03 1070.76 739.36 1071.69 741.96 1072.62 744.79 1073.55 747.84 1074.48 751.09 1075.42 754.51 1076.35 758.1 1077.28 761.82 1078.21 765.67 1079.14 769.62 1080.08 773.65 1081.01 777.75 1081.94 781.88 1082.87 786.05 1083.8 790.21 1084.74 794.37 1085.67 798.48 1086.6 802.55 1087.53 806.54 1088.46 810.44 1089.4 814.23 1090.33 817.89 1091.26 821.4 1092.19 824.74 1093.12 827.89 1094.06 830.83 1094.99 833.55 1095.92 836.01 1096.85 838.22 1097.78 840.13 1098.72 841.74 1099.65 843.03 1100.58 843.97 1101.51 844.55 1102.44 844.75 1103.38 844.67 1104.31 844.44 1105.24 844.05 1106.17 843.52 1107.1 842.84 1108.04 842.03 1108.97 841.09 1109.9 840.03 1110.83 838.85 1111.76 837.55 1112.7 836.14 1113.63 834.63 1114.56 833.01 1115.49 831.31 1116.42 829.51 1117.36 827.64 1118.29 825.68 1119.22 823.65 1120.15 821.55 1121.08 819.39 1122.02 817.17 1122.95 814.9 1123.88 812.58 1124.81 810.22 1125.74 807.82 1126.68 805.39 1127.61 802.93 1128.54 800.46 1129.47 797.96 1130.4 795.46 1131.34 792.94 1132.27 790.43 1133.2 787.92 1134.13 785.42 1135.06 782.94 1136 780.48 1136.93 778.04 1137.86 775.63 1138.79 773.26 1139.72 770.93 1140.66 768.64 1141.59 766.4 1142.52 764.23 1143.45 762.11 1144.38 760.06 1145.32 758.08 1146.25 756.17 1147.18 754.35 1148.11 752.62 1149.04 750.98 1149.98 749.44 1150.91 748 1151.84 746.66 1152.77 745.45 1153.7 744.35 1154.64 743.37 1155.57 742.52 1156.5 741.81 1157.43 741.23 1158.36 740.8 1159.3 740.52 1160.23 740.39 1161.16 740.39 1162.09 740.45 1163.02 740.56 1163.96 740.72 1164.89 740.92 1165.82 741.17 1166.75 741.47 1167.68 741.81 1168.62 742.2 1169.55 742.62 1170.48 743.1 1171.41 743.61 1172.34 744.17 1173.28 744.77 1174.21 745.41 1175.14 746.09 1176.07 746.8 1177 747.56 1177.94 748.35 1178.87 749.18 1179.8 750.05 1180.73 750.95 1181.66 751.89 1182.6 752.86 1183.53 753.86 1184.46 754.9 1185.39 755.97 1186.32 757.07 1187.26 758.2 1188.19 759.36 1189.12 760.55 1190.05 761.76 1190.98 763.01 1191.92 764.28 1192.85 765.58 1193.78 766.91 1194.71 768.26 1195.64 769.63 1196.58 771.03 1197.51 772.46 1198.44 773.9 1199.37 775.38 1200.3 776.87 1201.24 778.39 1202.17 779.94 1203.1 781.5 1204.03 783.1 1204.96 784.71 1205.9 786.35 1206.83 788 1207.76 789.69 1208.69 791.39 1209.62 793.12 1210.56 794.87 1211.49 796.64 1212.42 798.43 1213.35 800.24 1214.28 802.08 1215.22 803.93 1216.15 805.81 1217.08 807.71 1218.01 809.62 1218.94 811.56 1219.88 813.52 1220.81 815.5 1221.74 817.5 1222.67 819.52 1223.6 821.55 1224.54 823.61 1225.47 825.69 1226.4 827.78 1227.33 829.88 1228.26 832 1229.2 834.13 1230.13 836.28 1231.06 838.43 1231.99 840.59 1232.92 842.76 1233.86 844.94 1234.79 847.12 1235.72 849.3 1236.65 851.49 1237.58 853.68 1238.52 855.87 1239.45 858.05 1240.38 860.24 1241.31 862.42 1242.24 864.59 1243.18 866.76 1244.11 868.92 1245.04 871.08 1245.97 873.22 1246.9 875.35 1247.84 877.47 1248.77 879.57 1249.7 881.66 1250.63 883.74 1251.56 885.79 1252.5 887.83 1253.43 889.84 1254.36 891.84 1255.29 893.82 1256.22 895.77 1257.16 897.71 1258.09 899.63 1259.02 901.52 1259.95 903.4 1260.88 905.26 1261.82 907.09 1262.75 908.91 1263.68 910.7 1264.61 912.48 1265.54 914.23 1266.48 915.97 1267.41 917.68 1268.34 919.38 1269.27 921.05 1270.2 922.7 1271.14 924.33 1272.07 925.94 1273 927.53 1273.93 929.1 1274.86 930.65 1275.8 932.18 1276.73 933.69 1277.66 935.17 1278.59 936.64 1279.52 938.08 1280.46 939.51 1281.39 940.91 1282.32 942.29 1283.25 943.65 1284.18 944.99 1285.12 946.31 1286.05 947.61 1286.98 948.89 1287.91 950.15 1288.84 951.39 1289.78 952.61 1290.71 953.81 1291.64 955 1292.57 956.16 1293.5 957.31 1294.44 958.44 1295.37 959.55 1296.3 960.65 1297.23 961.72 1298.16 962.78 1299.1 963.83 1300.03 964.86 1300.96 965.87 1301.89 966.86 1302.82 967.84 1303.76 968.8 1304.69 969.75 1305.62 970.69 1306.55 971.6 1307.48 972.51 1308.42 973.4 1309.35 974.27 1310.28 975.13 1311.21 975.98 1312.14 976.82 1313.08 977.64 1314.01 978.45 1314.94 979.24 1315.87 980.03 1316.8 980.8 1317.74 981.56 1318.67 982.3 1319.6 983.03 1320.53 983.76 1321.46 984.47 1322.4 985.17 1323.33 985.85 1324.26 986.53 1325.19 987.19 1326.12 987.85 1327.06 988.49 1327.99 989.12 1328.92 989.74 1329.85 990.36 1330.78 990.96 1331.72 991.55 1332.65 992.13 1333.58 992.7 1334.51 993.27 1335.44 993.82 1336.38 994.36 1337.31 994.9 1338.24 995.43 1339.17 995.94 1340.1 996.45 1341.04 996.96 1341.97 997.45 1342.9 997.93 1343.83 998.41 1344.76 998.88 1345.7 999.34 1346.63 999.8 1347.56 1000.24 1348.49 1000.68 1349.42 1001.12 1350.36 1001.54 1351.29 1001.96 1352.22 1002.38 1353.15 1002.78 1354.08 1003.18 1355.02 1003.58 1355.95 1003.97 1356.88 1004.35 1357.81 1004.73 1358.74 1005.1 1359.68 1005.47 1360.61 1005.83 1361.54 1006.19 1362.47 1006.54 1363.4 1006.89 1364.34 1007.24 1365.27 1007.58 1366.2 1007.91 1367.13 1008.24 1368.06 1008.57 1369 1008.89 1369.93 1009.22 1370.86 1009.53 1371.79 1009.85 1372.72 1010.16 1373.66 1010.47 1374.59 1010.77 1375.52 1011.08 1376.45 1011.38 1377.38 1011.68 1378.32 1011.97 1379.25 1012.27 1380.18 1012.56 1381.11 1012.85 1382.04 1013.14 1382.98 1013.43 1383.91 1013.72 1384.84 1014.01 1385.77 1014.29 1386.7 1014.58 1387.64 1014.86 1388.57 1015.15 1389.5 1015.43" stroke="#cccc2a" stroke-width="3.6"/><path d="M830.3 857.44 831.23 858.48 832.16 860.71 833.1 863.99 834.03 871.01 834.96 881.58 835.89 894.96 836.82 910.38 837.76 927.09 838.69 944.35 839.62 961.4 840.55 977.48 841.48 991.85 842.42 1003.75 843.35 1012.42 844.28 1017.12 845.21 1016.45 846.14 1006.88 847.08 989.69 848.01 966.91 848.94 940.58 849.87 912.72 850.8 885.36 851.74 860.55 852.67 840.32 853.6 826.68 854.53 821.69 855.46 824.91 856.4 833.57 857.33 846.16 858.26 861.16 859.19 877.08 860.12 892.38 861.06 905.58 861.99 915.14 862.92 919.58 863.85 917.1 864.78 907.33 865.72 891.79 866.65 872.04 867.58 849.64 868.51 826.15 869.44 803.12 870.38 782.13 871.31 764.72 872.24 752.45 873.17 746.89 874.1 748.82 875.04 756.74 875.97 769.49 876.9 785.95 877.83 805 878.76 825.51 879.7 846.35 880.63 866.41 881.56 884.56 882.49 899.67 883.42 910.62 884.36 916.29 885.29 915.21 886.22 906.05 887.15 890.32 888.08 869.74 889.02 846.05 889.95 820.97 890.88 796.24 891.81 773.58 892.74 754.73 893.68 741.42 894.61 735.38 895.54 736.95 896.47 743.62 897.4 754.44 898.34 768.51 899.27 784.97 900.2 802.93 901.13 821.5 902.06 839.82 903 856.98 903.93 872.12 904.86 884.34 905.79 892.77 906.72 896.53 907.66 895 908.59 888.82 909.52 878.88 910.45 866.1 911.38 851.38 912.32 835.62 913.25 819.72 914.18 804.59 915.11 791.13 916.04 780.25 916.98 772.84 917.91 769.82 918.84 770.82 919.77 774.15 920.7 779.35 921.64 786.01 922.57 793.7 923.5 802 924.43 810.5 925.36 818.76 926.3 826.37 927.23 832.9 928.16 837.93 929.09 841.05 930.02 841.83 930.96 840.73 931.89 838.25 932.82 834.66 933.75 830.23 934.68 825.21 935.62 819.88 936.55 814.5 937.48 809.33 938.41 804.63 939.34 800.67 940.28 797.72 941.21 796.03 942.14 795.86 943.07 797.17 944 799.72 944.94 803.3 945.87 807.66 946.8 812.58 947.73 817.83 948.66 823.19 949.6 828.42 950.53 833.3 951.46 837.59 952.39 841.07 953.32 843.51 954.26 844.68 955.19 844.51 956.12 843.37 957.05 841.39 957.98 838.69 958.92 835.39 959.85 831.58 960.78 827.38 961.71 822.91 962.64 818.27 963.58 813.57 964.51 808.93 965.44 804.46 966.37 800.26 967.3 796.45 968.24 793.15 969.17 790.45 970.1 788.47 971.03 787.33 971.96 787.14 972.9 787.99 973.83 789.8 974.76 792.45 975.69 795.8 976.62 799.75 977.56 804.15 978.49 808.89 979.42 813.84 980.35 818.87 981.28 823.88 982.22 828.71 983.15 833.27 984.08 837.41 985.01 841.01 985.94 843.96 986.88 846.12 987.81 847.37 988.74 847.59 989.67 846.81 990.6 845.14 991.54 842.67 992.47 839.48 993.4 835.68 994.33 831.35 995.26 826.59 996.2 821.48 997.13 816.12 998.06 810.6 998.99 805.01 999.92 799.44 1000.86 793.99 1001.79 788.74 1002.72 783.79 1003.65 779.23 1004.58 775.16 1005.52 771.65 1006.45 768.81 1007.38 766.73 1008.31 765.49 1009.24 765.19 1010.18 765.76 1011.11 767.08 1012.04 769.09 1012.97 771.73 1013.9 774.93 1014.84 778.62 1015.77 782.74 1016.7 787.23 1017.63 792.02 1018.56 797.04 1019.5 802.23 1020.43 807.53 1021.36 812.86 1022.29 818.17 1023.22 823.39 1024.16 828.45 1025.09 833.29 1026.02 837.85 1026.95 842.05 1027.88 845.83 1028.82 849.13 1029.75 851.89 1030.68 854.03 1031.61 855.5 1032.54 856.22 1033.48 856.16 1034.41 855.45 1035.34 854.14 1036.27 852.26 1037.2 849.86 1038.14 846.97 1039.07 843.64 1040 839.91 1040.93 835.82 1041.86 831.4 1042.8 826.7 1043.73 821.77 1044.66 816.63 1045.59 811.33 1046.52 805.91 1047.46 800.42 1048.39 794.88 1049.32 789.35 1050.25 783.86 1051.18 778.46 1052.12 773.17 1053.05 768.05 1053.98 763.14 1054.91 758.47 1055.84 754.08 1056.78 750.02 1057.71 746.33 1058.64 743.04 1059.57 740.2 1060.5 737.85 1061.44 736.03 1062.37 734.77 1063.3 734.12 1064.23 734.09 1065.16 734.45 1066.1 735.15 1067.03 736.18 1067.96 737.52 1068.89 739.14 1069.82 741.04 1070.76 743.19 1071.69 745.57 1072.62 748.17 1073.55 750.97 1074.48 753.96 1075.42 757.1 1076.35 760.39 1077.28 763.8 1078.21 767.33 1079.14 770.94 1080.08 774.62 1081.01 778.37 1081.94 782.14 1082.87 785.94 1083.8 789.73 1084.74 793.51 1085.67 797.25 1086.6 800.93 1087.53 804.55 1088.46 808.07 1089.4 811.48 1090.33 814.77 1091.26 817.92 1092.19 820.9 1093.12 823.7 1094.06 826.3 1094.99 828.68 1095.92 830.83 1096.85 832.73 1097.78 834.36 1098.72 835.69 1099.65 836.72 1100.58 837.43 1101.51 837.79 1102.44 837.81 1103.38 837.63 1104.31 837.28 1105.24 836.77 1106.17 836.1 1107.1 835.27 1108.04 834.29 1108.97 833.18 1109.9 831.92 1110.83 830.54 1111.76 829.02 1112.7 827.39 1113.63 825.65 1114.56 823.79 1115.49 821.84 1116.42 819.78 1117.36 817.64 1118.29 815.41 1119.22 813.1 1120.15 810.72 1121.08 808.27 1122.02 805.75 1122.95 803.18 1123.88 800.56 1124.81 797.9 1125.74 795.19 1126.68 792.45 1127.61 789.68 1128.54 786.89 1129.47 784.09 1130.4 781.27 1131.34 778.45 1132.27 775.62 1133.2 772.81 1134.13 770 1135.06 767.22 1136 764.45 1136.93 761.72 1137.86 759.02 1138.79 756.37 1139.72 753.75 1140.66 751.19 1141.59 748.69 1142.52 746.26 1143.45 743.89 1144.38 741.59 1145.32 739.38 1146.25 737.25 1147.18 735.22 1148.11 733.28 1149.04 731.45 1149.98 729.73 1150.91 728.12 1151.84 726.63 1152.77 725.27 1153.7 724.04 1154.64 722.95 1155.57 722.01 1156.5 721.21 1157.43 720.57 1158.36 720.09 1159.3 719.77 1160.23 719.63 1161.16 719.64 1162.09 719.72 1163.02 719.86 1163.96 720.07 1164.89 720.34 1165.82 720.67 1166.75 721.06 1167.68 721.51 1168.62 722.01 1169.55 722.57 1170.48 723.17 1171.41 723.83 1172.34 724.54 1173.28 725.3 1174.21 726.1 1175.14 726.94 1176.07 727.83 1177 728.76 1177.94 729.73 1178.87 730.74 1179.8 731.79 1180.73 732.87 1181.66 733.99 1182.6 735.14 1183.53 736.32 1184.46 737.54 1185.39 738.78 1186.32 740.06 1187.26 741.37 1188.19 742.71 1189.12 744.08 1190.05 745.48 1190.98 746.91 1191.92 748.36 1192.85 749.83 1193.78 751.34 1194.71 752.87 1195.64 754.42 1196.58 755.99 1197.51 757.59 1198.44 759.21 1199.37 760.85 1200.3 762.51 1201.24 764.19 1202.17 765.89 1203.1 767.6 1204.03 769.33 1204.96 771.08 1205.9 772.85 1206.83 774.63 1207.76 776.42 1208.69 778.23 1209.62 780.04 1210.56 781.87 1211.49 783.72 1212.42 785.57 1213.35 787.43 1214.28 789.29 1215.22 791.17 1216.15 793.05 1217.08 794.94 1218.01 796.83 1218.94 798.72 1219.88 800.62 1220.81 802.52 1221.74 804.42 1222.67 806.32 1223.6 808.22 1224.54 810.12 1225.47 812.02 1226.4 813.92 1227.33 815.82 1228.26 817.72 1229.2 819.63 1230.13 821.54 1231.06 823.46 1231.99 825.38 1232.92 827.3 1233.86 829.24 1234.79 831.18 1235.72 833.13 1236.65 835.09 1237.58 837.06 1238.52 839.04 1239.45 841.03 1240.38 843.02 1241.31 845.02 1242.24 847.03 1243.18 849.04 1244.11 851.04 1245.04 853.05 1245.97 855.05 1246.9 857.04 1247.84 859.03 1248.77 861 1249.7 862.97 1250.63 864.92 1251.56 866.86 1252.5 868.78 1253.43 870.68 1254.36 872.56 1255.29 874.42 1256.22 876.27 1257.16 878.11 1258.09 879.93 1259.02 881.73 1259.95 883.53 1260.88 885.31 1261.82 887.08 1262.75 888.84 1263.68 890.59 1264.61 892.33 1265.54 894.06 1266.48 895.79 1267.41 897.51 1268.34 899.22 1269.27 900.93 1270.2 902.63 1271.14 904.32 1272.07 906.01 1273 907.69 1273.93 909.36 1274.86 911.03 1275.8 912.68 1276.73 914.33 1277.66 915.97 1278.59 917.6 1279.52 919.22 1280.46 920.83 1281.39 922.44 1282.32 924.03 1283.25 925.61 1284.18 927.18 1285.12 928.73 1286.05 930.27 1286.98 931.79 1287.91 933.3 1288.84 934.78 1289.78 936.25 1290.71 937.69 1291.64 939.1 1292.57 940.5 1293.5 941.86 1294.44 943.2 1295.37 944.51 1296.3 945.79 1297.23 947.03 1298.16 948.25 1299.1 949.43 1300.03 950.59 1300.96 951.72 1301.89 952.83 1302.82 953.91 1303.76 954.97 1304.69 956 1305.62 957.02 1306.55 958.02 1307.48 958.99 1308.42 959.95 1309.35 960.9 1310.28 961.83 1311.21 962.75 1312.14 963.65 1313.08 964.55 1314.01 965.43 1314.94 966.29 1315.87 967.15 1316.8 967.99 1317.74 968.81 1318.67 969.63 1319.6 970.43 1320.53 971.21 1321.46 971.98 1322.4 972.74 1323.33 973.48 1324.26 974.21 1325.19 974.93 1326.12 975.63 1327.06 976.31 1327.99 976.98 1328.92 977.64 1329.85 978.29 1330.78 978.93 1331.72 979.56 1332.65 980.18 1333.58 980.79 1334.51 981.4 1335.44 981.99 1336.38 982.59 1337.31 983.18 1338.24 983.76 1339.17 984.35 1340.1 984.93 1341.04 985.51 1341.97 986.09 1342.9 986.67 1343.83 987.24 1344.76 987.81 1345.7 988.38 1346.63 988.95 1347.56 989.5 1348.49 990.06 1349.42 990.6 1350.36 991.14 1351.29 991.68 1352.22 992.2 1353.15 992.72 1354.08 993.22 1355.02 993.72 1355.95 994.2 1356.88 994.68 1357.81 995.15 1358.74 995.61 1359.68 996.06 1360.61 996.51 1361.54 996.95 1362.47 997.39 1363.4 997.82 1364.34 998.25 1365.27 998.67 1366.2 999.1 1367.13 999.52 1368.06 999.94 1369 1000.36 1369.93 1000.78 1370.86 1001.2 1371.79 1001.62 1372.72 1002.04 1373.66 1002.46 1374.59 1002.88 1375.52 1003.3 1376.45 1003.73 1377.38 1004.15 1378.32 1004.57 1379.25 1005 1380.18 1005.42 1381.11 1005.84 1382.04 1006.27 1382.98 1006.69 1383.91 1007.12 1384.84 1007.54 1385.77 1007.97 1386.7 1008.39 1387.64 1008.82 1388.57 1009.24 1389.5 1009.67" stroke="#cc9933" stroke-width="3.6"/><path d="M830.3 876.05 831.23 872.99 832.16 871.56 833.1 872.02 834.03 876.72 834.96 885.36 835.89 897.16 836.82 911.33 837.76 927.07 838.69 943.61 839.62 960.14 840.55 975.89 841.48 990.05 842.42 1001.85 843.35 1010.5 844.28 1015.2 845.21 1014.56 846.14 1005.19 847.08 988.36 848.01 966.06 848.94 940.27 849.87 912.99 850.8 886.21 851.74 861.92 852.67 842.1 853.6 828.76 854.53 823.86 855.46 826.87 856.4 834.97 857.33 846.73 858.26 860.75 859.19 875.62 860.12 889.92 861.06 902.25 861.99 911.18 862.92 915.32 863.85 912.83 864.78 903.01 865.72 887.4 866.65 867.56 867.58 845.06 868.51 821.45 869.44 798.32 870.38 777.23 871.31 759.73 872.24 747.41 873.17 741.83 874.1 743.77 875.04 751.76 875.97 764.61 876.9 781.2 877.83 800.41 878.76 821.08 879.7 842.09 880.63 862.31 881.56 880.61 882.49 895.84 883.42 906.88 884.36 912.6 885.29 911.53 886.22 902.45 887.15 886.84 888.08 866.43 889.02 842.93 889.95 818.05 890.88 793.52 891.81 771.05 892.74 752.36 893.68 739.15 894.61 733.16 895.54 734.72 896.47 741.33 897.4 752.04 898.34 765.99 899.27 782.3 900.2 800.1 901.13 818.5 902.06 836.65 903 853.66 903.93 868.66 904.86 880.77 905.79 889.13 906.72 892.85 907.66 891.34 908.59 885.23 909.52 875.42 910.45 862.8 911.38 848.26 912.32 832.69 913.25 816.99 914.18 802.04 915.11 788.75 916.04 778 916.98 770.69 917.91 767.7 918.84 768.71 919.77 772.02 920.7 777.21 921.64 783.86 922.57 791.53 923.5 799.82 924.43 808.29 925.36 816.54 926.3 824.13 927.23 830.65 928.16 835.67 929.09 838.77 930.02 839.56 930.96 838.34 931.89 835.62 932.82 831.68 933.75 826.82 934.68 821.31 935.62 815.46 936.55 809.55 937.48 803.87 938.41 798.72 939.34 794.37 940.28 791.13 941.21 789.28 942.14 789.09 943.07 790.53 944 793.34 944.94 797.27 945.87 802.06 946.8 807.47 947.73 813.25 948.66 819.14 949.6 824.89 950.53 830.25 951.46 834.97 952.39 838.8 953.32 841.48 954.26 842.77 955.19 842.52 956.12 840.99 957.05 838.36 957.98 834.75 958.92 830.33 959.85 825.24 960.78 819.63 961.71 813.65 962.64 807.45 963.58 801.17 964.51 794.97 965.44 788.99 966.37 783.38 967.3 778.29 968.24 773.87 969.17 770.27 970.1 767.63 971.03 766.1 971.96 765.84 972.9 766.97 973.83 769.38 974.76 772.89 975.69 777.34 976.62 782.57 977.56 788.41 978.49 794.69 979.42 801.26 980.35 807.94 981.28 814.57 982.22 820.99 983.15 827.03 984.08 832.52 985.01 837.3 985.94 841.21 986.88 844.08 987.81 845.73 988.74 846.04 989.67 845.19 990.6 843.36 991.54 840.66 992.47 837.17 993.4 833.01 994.33 828.28 995.26 823.07 996.2 817.48 997.13 811.61 998.06 805.58 998.99 799.46 999.92 793.37 1000.86 787.41 1001.79 781.67 1002.72 776.26 1003.65 771.27 1004.58 766.81 1005.52 762.98 1006.45 759.87 1007.38 757.59 1008.31 756.24 1009.24 755.91 1010.18 756.53 1011.11 757.97 1012.04 760.16 1012.97 763.04 1013.9 766.52 1014.84 770.55 1015.77 775.05 1016.7 779.94 1017.63 785.16 1018.56 790.63 1019.5 796.29 1020.43 802.07 1021.36 807.89 1022.29 813.67 1023.22 819.36 1024.16 824.88 1025.09 830.16 1026.02 835.12 1026.95 839.7 1027.88 843.83 1028.82 847.43 1029.75 850.43 1030.68 852.77 1031.61 854.36 1032.54 855.15 1033.48 855.11 1034.41 854.41 1035.34 853.13 1036.27 851.3 1037.2 848.95 1038.14 846.13 1039.07 842.88 1040 839.24 1040.93 835.25 1041.86 830.94 1042.8 826.35 1043.73 821.53 1044.66 816.52 1045.59 811.35 1046.52 806.06 1047.46 800.7 1048.39 795.3 1049.32 789.9 1050.25 784.54 1051.18 779.26 1052.12 774.11 1053.05 769.11 1053.98 764.31 1054.91 759.76 1055.84 755.48 1056.78 751.51 1057.71 747.91 1058.64 744.7 1059.57 741.93 1060.5 739.63 1061.44 737.85 1062.37 736.63 1063.3 735.99 1064.23 735.96 1065.16 736.3 1066.1 736.98 1067.03 737.97 1067.96 739.26 1068.89 740.82 1069.82 742.65 1070.76 744.72 1071.69 747.01 1072.62 749.52 1073.55 752.21 1074.48 755.08 1075.42 758.11 1076.35 761.27 1077.28 764.56 1078.21 767.95 1079.14 771.43 1080.08 774.98 1081.01 778.58 1081.94 782.21 1082.87 785.86 1083.8 789.52 1084.74 793.15 1085.67 796.75 1086.6 800.3 1087.53 803.78 1088.46 807.17 1089.4 810.45 1090.33 813.62 1091.26 816.64 1092.19 819.51 1093.12 822.21 1094.06 824.71 1094.99 827.01 1095.92 829.08 1096.85 830.9 1097.78 832.47 1098.72 833.75 1099.65 834.74 1100.58 835.42 1101.51 835.77 1102.44 835.79 1103.38 835.6 1104.31 835.23 1105.24 834.68 1106.17 833.96 1107.1 833.08 1108.04 832.04 1108.97 830.85 1109.9 829.51 1110.83 828.03 1111.76 826.41 1112.7 824.67 1113.63 822.81 1114.56 820.83 1115.49 818.74 1116.42 816.55 1117.36 814.26 1118.29 811.88 1119.22 809.42 1120.15 806.88 1121.08 804.26 1122.02 801.58 1122.95 798.83 1123.88 796.04 1124.81 793.19 1125.74 790.3 1126.68 787.38 1127.61 784.43 1128.54 781.45 1129.47 778.45 1130.4 775.44 1131.34 772.43 1132.27 769.42 1133.2 766.42 1134.13 763.42 1135.06 760.45 1136 757.5 1136.93 754.58 1137.86 751.7 1138.79 748.87 1139.72 746.08 1140.66 743.35 1141.59 740.68 1142.52 738.08 1143.45 735.55 1144.38 733.1 1145.32 730.74 1146.25 728.47 1147.18 726.3 1148.11 724.23 1149.04 722.28 1149.98 720.44 1150.91 718.72 1151.84 717.13 1152.77 715.68 1153.7 714.37 1154.64 713.21 1155.57 712.2 1156.5 711.35 1157.43 710.66 1158.36 710.15 1159.3 709.81 1160.23 709.66 1161.16 709.67 1162.09 709.77 1163.02 709.94 1163.96 710.18 1164.89 710.5 1165.82 710.88 1166.75 711.33 1167.68 711.85 1168.62 712.43 1169.55 713.07 1170.48 713.77 1171.41 714.53 1172.34 715.34 1173.28 716.2 1174.21 717.11 1175.14 718.06 1176.07 719.07 1177 720.11 1177.94 721.2 1178.87 722.32 1179.8 723.48 1180.73 724.68 1181.66 725.91 1182.6 727.17 1183.53 728.46 1184.46 729.79 1185.39 731.14 1186.32 732.52 1187.26 733.93 1188.19 735.37 1189.12 736.83 1190.05 738.31 1190.98 739.82 1191.92 741.35 1192.85 742.9 1193.78 744.48 1194.71 746.07 1195.64 747.68 1196.58 749.31 1197.51 750.95 1198.44 752.62 1199.37 754.31 1200.3 756.02 1201.24 757.74 1202.17 759.49 1203.1 761.25 1204.03 763.04 1204.96 764.84 1205.9 766.66 1206.83 768.51 1207.76 770.37 1208.69 772.26 1209.62 774.16 1210.56 776.08 1211.49 778.02 1212.42 779.97 1213.35 781.93 1214.28 783.9 1215.22 785.88 1216.15 787.86 1217.08 789.85 1218.01 791.84 1218.94 793.82 1219.88 795.81 1220.81 797.79 1221.74 799.76 1222.67 801.73 1223.6 803.68 1224.54 805.62 1225.47 807.56 1226.4 809.48 1227.33 811.4 1228.26 813.32 1229.2 815.24 1230.13 817.16 1231.06 819.08 1231.99 821 1232.92 822.93 1233.86 824.88 1234.79 826.83 1235.72 828.79 1236.65 830.77 1237.58 832.76 1238.52 834.77 1239.45 836.8 1240.38 838.84 1241.31 840.89 1242.24 842.95 1243.18 845.01 1244.11 847.07 1245.04 849.14 1245.97 851.2 1246.9 853.26 1247.84 855.3 1248.77 857.34 1249.7 859.36 1250.63 861.37 1251.56 863.35 1252.5 865.32 1253.43 867.26 1254.36 869.18 1255.29 871.07 1256.22 872.95 1257.16 874.8 1258.09 876.64 1259.02 878.46 1259.95 880.27 1260.88 882.06 1261.82 883.84 1262.75 885.61 1263.68 887.37 1264.61 889.12 1265.54 890.87 1266.48 892.6 1267.41 894.34 1268.34 896.06 1269.27 897.79 1270.2 899.5 1271.14 901.22 1272.07 902.92 1273 904.62 1273.93 906.31 1274.86 908 1275.8 909.68 1276.73 911.35 1277.66 913.01 1278.59 914.66 1279.52 916.31 1280.46 917.94 1281.39 919.57 1282.32 921.18 1283.25 922.78 1284.18 924.37 1285.12 925.95 1286.05 927.51 1286.98 929.05 1287.91 930.58 1288.84 932.08 1289.78 933.57 1290.71 935.03 1291.64 936.47 1292.57 937.88 1293.5 939.27 1294.44 940.63 1295.37 941.96 1296.3 943.26 1297.23 944.53 1298.16 945.77 1299.1 946.98 1300.03 948.17 1300.96 949.32 1301.89 950.45 1302.82 951.56 1303.76 952.65 1304.69 953.71 1305.62 954.75 1306.55 955.77 1307.48 956.78 1308.42 957.76 1309.35 958.74 1310.28 959.69 1311.21 960.64 1312.14 961.57 1313.08 962.49 1314.01 963.39 1314.94 964.29 1315.87 965.17 1316.8 966.03 1317.74 966.89 1318.67 967.73 1319.6 968.56 1320.53 969.37 1321.46 970.17 1322.4 970.96 1323.33 971.73 1324.26 972.5 1325.19 973.24 1326.12 973.98 1327.06 974.7 1327.99 975.41 1328.92 976.1 1329.85 976.79 1330.78 977.46 1331.72 978.12 1332.65 978.78 1333.58 979.42 1334.51 980.06 1335.44 980.69 1336.38 981.31 1337.31 981.92 1338.24 982.53 1339.17 983.13 1340.1 983.73 1341.04 984.32 1341.97 984.9 1342.9 985.49 1343.83 986.06 1344.76 986.63 1345.7 987.2 1346.63 987.75 1347.56 988.3 1348.49 988.85 1349.42 989.38 1350.36 989.91 1351.29 990.43 1352.22 990.94 1353.15 991.44 1354.08 991.94 1355.02 992.42 1355.95 992.9 1356.88 993.36 1357.81 993.82 1358.74 994.27 1359.68 994.72 1360.61 995.16 1361.54 995.59 1362.47 996.02 1363.4 996.45 1364.34 996.87 1365.27 997.3 1366.2 997.72 1367.13 998.14 1368.06 998.57 1369 998.99 1369.93 999.42 1370.86 999.85 1371.79 1000.28 1372.72 1000.72 1373.66 1001.16 1374.59 1001.59 1375.52 1002.03 1376.45 1002.48 1377.38 1002.92 1378.32 1003.37 1379.25 1003.81 1380.18 1004.26 1381.11 1004.71 1382.04 1005.16 1382.98 1005.61 1383.91 1006.06 1384.84 1006.51 1385.77 1006.97 1386.7 1007.42 1387.64 1007.88 1388.57 1008.33 1389.5 1008.78" stroke="#cc6629" stroke-width="3.6"/><path d="M830.3 878.2 831.23 875.16 832.16 873.75 833.1 874.2 834.03 878.85 834.96 887.41 835.89 899.1 836.82 913.12 837.76 928.71 838.69 945.08 839.62 961.45 840.55 977.04 841.48 991.07 842.42 1002.75 843.35 1011.31 844.28 1015.97 845.21 1015.33 846.14 1006.04 847.08 989.36 848.01 967.25 848.94 941.69 849.87 914.65 850.8 888.1 851.74 864.02 852.67 844.38 853.6 831.15 854.53 826.3 855.46 829.28 856.4 837.27 857.33 848.9 858.26 862.76 859.19 877.45 860.12 891.59 861.06 903.77 861.99 912.61 862.92 916.7 863.85 914.22 864.78 904.45 865.72 888.91 866.65 869.16 867.58 846.76 868.51 823.27 869.44 800.24 870.38 779.24 871.31 761.83 872.24 749.57 873.17 744.01 874.1 745.94 875.04 753.86 875.97 766.61 876.9 783.07 877.83 802.12 878.76 822.62 879.7 843.47 880.63 863.53 881.56 881.68 882.49 896.79 883.42 907.74 884.36 913.41 885.29 912.34 886.22 903.27 887.15 887.69 888.08 867.3 889.02 843.84 889.95 819 890.88 794.5 891.81 772.06 892.74 753.39 893.68 740.21 894.61 734.22 895.54 735.77 896.47 742.35 897.4 753.01 898.34 766.88 899.27 783.11 900.2 800.81 901.13 819.12 902.06 837.17 903 854.09 903.93 869.01 904.86 881.06 905.79 889.37 906.72 893.08 907.66 891.56 908.59 885.43 909.52 875.58 910.45 862.92 911.38 848.33 912.32 832.71 913.25 816.96 914.18 801.97 915.11 788.63 916.04 777.85 916.98 770.51 917.91 767.51 918.84 768.51 919.77 771.81 920.7 776.97 921.64 783.57 922.57 791.2 923.5 799.44 924.43 807.87 925.36 816.06 926.3 823.61 927.23 830.09 928.16 835.08 929.09 838.17 930.02 838.95 930.96 837.72 931.89 834.96 932.82 830.97 933.75 826.03 934.68 820.46 935.62 814.53 936.55 808.54 937.48 802.79 938.41 797.56 939.34 793.16 940.28 789.87 941.21 787.99 942.14 787.8 943.07 789.23 944 792.03 944.94 795.93 945.87 800.71 946.8 806.09 947.73 811.84 948.66 817.7 949.6 823.42 950.53 828.76 951.46 833.46 952.39 837.26 953.32 839.93 954.26 841.22 955.19 840.96 956.12 839.41 957.05 836.72 957.98 833.05 958.92 828.56 959.85 823.38 960.78 817.67 961.71 811.59 962.64 805.27 963.58 798.89 964.51 792.58 965.44 786.49 966.37 780.78 967.3 775.61 968.24 771.11 969.17 767.44 970.1 764.76 971.03 763.2 971.96 762.94 972.9 764.07 973.83 766.49 974.76 770.02 975.69 774.49 976.62 779.75 977.56 785.62 978.49 791.93 979.42 798.53 980.35 805.25 981.28 811.92 982.22 818.37 983.15 824.44 984.08 829.96 985.01 834.77 985.94 838.69 986.88 841.57 987.81 843.24 988.74 843.55 989.67 842.69 990.6 840.84 991.54 838.11 992.47 834.59 993.4 830.39 994.33 825.61 995.26 820.34 996.2 814.7 997.13 808.78 998.06 802.68 998.99 796.5 999.92 790.35 1000.86 784.32 1001.79 778.53 1002.72 773.06 1003.65 768.02 1004.58 763.52 1005.52 759.65 1006.45 756.51 1007.38 754.21 1008.31 752.84 1009.24 752.51 1010.18 753.13 1011.11 754.59 1012.04 756.8 1012.97 759.71 1013.9 763.23 1014.84 767.3 1015.77 771.84 1016.7 776.78 1017.63 782.05 1018.56 787.58 1019.5 793.3 1020.43 799.13 1021.36 805.01 1022.29 810.86 1023.22 816.6 1024.16 822.18 1025.09 827.51 1026.02 832.52 1026.95 837.15 1027.88 841.31 1028.82 844.95 1029.75 847.98 1030.68 850.34 1031.61 851.96 1032.54 852.75 1033.48 852.71 1034.41 852.01 1035.34 850.71 1036.27 848.86 1037.2 846.49 1038.14 843.64 1039.07 840.36 1040 836.68 1040.93 832.65 1041.86 828.29 1042.8 823.66 1043.73 818.79 1044.66 813.73 1045.59 808.51 1046.52 803.17 1047.46 797.75 1048.39 792.29 1049.32 786.84 1050.25 781.43 1051.18 776.1 1052.12 770.89 1053.05 765.84 1053.98 761 1054.91 756.39 1055.84 752.07 1056.78 748.07 1057.71 744.43 1058.64 741.19 1059.57 738.39 1060.5 736.07 1061.44 734.27 1062.37 733.03 1063.3 732.39 1064.23 732.35 1065.16 732.7 1066.1 733.39 1067.03 734.39 1067.96 735.69 1068.89 737.27 1069.82 739.11 1070.76 741.2 1071.69 743.52 1072.62 746.05 1073.55 748.77 1074.48 751.67 1075.42 754.73 1076.35 757.93 1077.28 761.25 1078.21 764.67 1079.14 768.18 1080.08 771.77 1081.01 775.4 1081.94 779.08 1082.87 782.76 1083.8 786.45 1084.74 790.12 1085.67 793.76 1086.6 797.34 1087.53 800.86 1088.46 804.28 1089.4 807.6 1090.33 810.8 1091.26 813.86 1092.19 816.75 1093.12 819.48 1094.06 822.01 1094.99 824.32 1095.92 826.41 1096.85 828.26 1097.78 829.84 1098.72 831.14 1099.65 832.14 1100.58 832.82 1101.51 833.17 1102.44 833.19 1103.38 833 1104.31 832.63 1105.24 832.08 1106.17 831.35 1107.1 830.46 1108.04 829.41 1108.97 828.2 1109.9 826.85 1110.83 825.35 1111.76 823.72 1112.7 821.96 1113.63 820.08 1114.56 818.08 1115.49 815.98 1116.42 813.76 1117.36 811.45 1118.29 809.05 1119.22 806.56 1120.15 803.99 1121.08 801.35 1122.02 798.64 1122.95 795.87 1123.88 793.04 1124.81 790.17 1125.74 787.25 1126.68 784.3 1127.61 781.31 1128.54 778.3 1129.47 775.28 1130.4 772.24 1131.34 769.2 1132.27 766.15 1133.2 763.12 1134.13 760.1 1135.06 757.09 1136 754.11 1136.93 751.17 1137.86 748.26 1138.79 745.39 1139.72 742.58 1140.66 739.82 1141.59 737.12 1142.52 734.49 1143.45 731.94 1144.38 729.47 1145.32 727.08 1146.25 724.79 1147.18 722.6 1148.11 720.51 1149.04 718.54 1149.98 716.68 1150.91 714.94 1151.84 713.34 1152.77 711.87 1153.7 710.55 1154.64 709.37 1155.57 708.35 1156.5 707.5 1157.43 706.8 1158.36 706.28 1159.3 705.95 1160.23 705.79 1161.16 705.8 1162.09 705.9 1163.02 706.07 1163.96 706.32 1164.89 706.64 1165.82 707.03 1166.75 707.48 1167.68 708 1168.62 708.59 1169.55 709.24 1170.48 709.94 1171.41 710.71 1172.34 711.52 1173.28 712.39 1174.21 713.31 1175.14 714.28 1176.07 715.29 1177 716.35 1177.94 717.45 1178.87 718.58 1179.8 719.75 1180.73 720.96 1181.66 722.2 1182.6 723.48 1183.53 724.79 1184.46 726.12 1185.39 727.49 1186.32 728.89 1187.26 730.31 1188.19 731.76 1189.12 733.23 1190.05 734.73 1190.98 736.26 1191.92 737.8 1192.85 739.37 1193.78 740.96 1194.71 742.57 1195.64 744.19 1196.58 745.84 1197.51 747.5 1198.44 749.19 1199.37 750.89 1200.3 752.61 1201.24 754.36 1202.17 756.12 1203.1 757.9 1204.03 759.71 1204.96 761.53 1205.9 763.37 1206.83 765.23 1207.76 767.12 1208.69 769.02 1209.62 770.94 1210.56 772.88 1211.49 774.84 1212.42 776.81 1213.35 778.79 1214.28 780.78 1215.22 782.78 1216.15 784.78 1217.08 786.79 1218.01 788.8 1218.94 790.8 1219.88 792.81 1220.81 794.81 1221.74 796.8 1222.67 798.79 1223.6 800.76 1224.54 802.72 1225.47 804.68 1226.4 806.62 1227.33 808.56 1228.26 810.5 1229.2 812.44 1230.13 814.37 1231.06 816.31 1231.99 818.26 1232.92 820.21 1233.86 822.17 1234.79 824.14 1235.72 826.12 1236.65 828.12 1237.58 830.13 1238.52 832.16 1239.45 834.21 1240.38 836.27 1241.31 838.34 1242.24 840.42 1243.18 842.51 1244.11 844.59 1245.04 846.68 1245.97 848.76 1246.9 850.84 1247.84 852.91 1248.77 854.96 1249.7 857.01 1250.63 859.03 1251.56 861.04 1252.5 863.02 1253.43 864.98 1254.36 866.92 1255.29 868.83 1256.22 870.73 1257.16 872.6 1258.09 874.46 1259.02 876.3 1259.95 878.12 1260.88 879.94 1261.82 881.73 1262.75 883.52 1263.68 885.3 1264.61 887.07 1265.54 888.83 1266.48 890.58 1267.41 892.33 1268.34 894.08 1269.27 895.82 1270.2 897.55 1271.14 899.28 1272.07 901.01 1273 902.72 1273.93 904.43 1274.86 906.14 1275.8 907.83 1276.73 909.52 1277.66 911.2 1278.59 912.87 1279.52 914.53 1280.46 916.18 1281.39 917.82 1282.32 919.45 1283.25 921.07 1284.18 922.67 1285.12 924.27 1286.05 925.84 1286.98 927.4 1287.91 928.94 1288.84 930.46 1289.78 931.96 1290.71 933.44 1291.64 934.89 1292.57 936.32 1293.5 937.72 1294.44 939.1 1295.37 940.44 1296.3 941.75 1297.23 943.04 1298.16 944.29 1299.1 945.51 1300.03 946.71 1300.96 947.88 1301.89 949.02 1302.82 950.14 1303.76 951.23 1304.69 952.3 1305.62 953.36 1306.55 954.39 1307.48 955.4 1308.42 956.4 1309.35 957.38 1310.28 958.35 1311.21 959.3 1312.14 960.24 1313.08 961.17 1314.01 962.09 1314.94 962.99 1315.87 963.88 1316.8 964.75 1317.74 965.62 1318.67 966.47 1319.6 967.3 1320.53 968.12 1321.46 968.93 1322.4 969.73 1323.33 970.51 1324.26 971.28 1325.19 972.04 1326.12 972.78 1327.06 973.51 1327.99 974.22 1328.92 974.92 1329.85 975.62 1330.78 976.3 1331.72 976.97 1332.65 977.63 1333.58 978.28 1334.51 978.92 1335.44 979.55 1336.38 980.18 1337.31 980.8 1338.24 981.41 1339.17 982.02 1340.1 982.62 1341.04 983.22 1341.97 983.82 1342.9 984.4 1343.83 984.98 1344.76 985.56 1345.7 986.13 1346.63 986.69 1347.56 987.25 1348.49 987.8 1349.42 988.34 1350.36 988.87 1351.29 989.4 1352.22 989.91 1353.15 990.42 1354.08 990.92 1355.02 991.41 1355.95 991.89 1356.88 992.36 1357.81 992.82 1358.74 993.28 1359.68 993.73 1360.61 994.17 1361.54 994.61 1362.47 995.04 1363.4 995.48 1364.34 995.91 1365.27 996.33 1366.2 996.76 1367.13 997.19 1368.06 997.62 1369 998.05 1369.93 998.48 1370.86 998.91 1371.79 999.35 1372.72 999.79 1373.66 1000.23 1374.59 1000.67 1375.52 1001.12 1376.45 1001.57 1377.38 1002.01 1378.32 1002.46 1379.25 1002.91 1380.18 1003.37 1381.11 1003.82 1382.04 1004.28 1382.98 1004.73 1383.91 1005.19 1384.84 1005.64 1385.77 1006.1 1386.7 1006.56 1387.64 1007.02 1388.57 1007.48 1389.5 1007.94" stroke="#c8382d" stroke-width="3.6"/><path d="M830.3 878.2 831.23 875.16 832.16 873.75 833.1 874.2 834.03 878.85 834.96 887.41 835.89 899.1 836.82 913.12 837.76 928.71 838.69 945.08 839.62 961.45 840.55 977.04 841.48 991.07 842.42 1002.75 843.35 1011.31 844.28 1015.97 845.21 1015.33 846.14 1006.04 847.08 989.36 848.01 967.25 848.94 941.69 849.87 914.65 850.8 888.1 851.74 864.02 852.67 844.38 853.6 831.15 854.53 826.3 855.46 829.28 856.4 837.27 857.33 848.9 858.26 862.76 859.19 877.45 860.12 891.59 861.06 903.77 861.99 912.61 862.92 916.7 863.85 914.22 864.78 904.45 865.72 888.91 866.65 869.16 867.58 846.76 868.51 823.27 869.44 800.24 870.38 779.24 871.31 761.83 872.24 749.57 873.17 744.01 874.1 745.94 875.04 753.86 875.97 766.61 876.9 783.07 877.83 802.12 878.76 822.62 879.7 843.47 880.63 863.53 881.56 881.68 882.49 896.79 883.42 907.74 884.36 913.41 885.29 912.34 886.22 903.27 887.15 887.69 888.08 867.3 889.02 843.84 889.95 819 890.88 794.5 891.81 772.06 892.74 753.39 893.68 740.21 894.61 734.22 895.54 735.77 896.47 742.35 897.4 753.01 898.34 766.88 899.27 783.11 900.2 800.81 901.13 819.12 902.06 837.17 903 854.09 903.93 869.01 904.86 881.06 905.79 889.37 906.72 893.08 907.66 891.56 908.59 885.43 909.52 875.58 910.45 862.92 911.38 848.33 912.32 832.71 913.25 816.96 914.18 801.97 915.11 788.63 916.04 777.85 916.98 770.51 917.91 767.51 918.84 768.51 919.77 771.81 920.7 776.97 921.64 783.57 922.57 791.2 923.5 799.44 924.43 807.87 925.36 816.06 926.3 823.61 927.23 830.09 928.16 835.08 929.09 838.17 930.02 838.95 930.96 837.72 931.89 834.96 932.82 830.97 933.75 826.03 934.68 820.46 935.62 814.53 936.55 808.54 937.48 802.79 938.41 797.56 939.34 793.16 940.28 789.87 941.21 787.99 942.14 787.8 943.07 789.23 944 792.03 944.94 795.93 945.87 800.71 946.8 806.09 947.73 811.84 948.66 817.7 949.6 823.42 950.53 828.76 951.46 833.46 952.39 837.26 953.32 839.93 954.26 841.22 955.19 840.96 956.12 839.41 957.05 836.72 957.98 833.05 958.92 828.56 959.85 823.38 960.78 817.67 961.71 811.59 962.64 805.27 963.58 798.89 964.51 792.58 965.44 786.49 966.37 780.78 967.3 775.61 968.24 771.11 969.17 767.44 970.1 764.76 971.03 763.2 971.96 762.94 972.9 764.07 973.83 766.49 974.76 770.02 975.69 774.49 976.62 779.75 977.56 785.62 978.49 791.93 979.42 798.53 980.35 805.25 981.28 811.92 982.22 818.37 983.15 824.44 984.08 829.96 985.01 834.77 985.94 838.69 986.88 841.57 987.81 843.24 988.74 843.55 989.67 842.69 990.6 840.84 991.54 838.11 992.47 834.59 993.4 830.39 994.33 825.61 995.26 820.34 996.2 814.7 997.13 808.78 998.06 802.68 998.99 796.5 999.92 790.35 1000.86 784.32 1001.79 778.53 1002.72 773.06 1003.65 768.02 1004.58 763.52 1005.52 759.65 1006.45 756.51 1007.38 754.21 1008.31 752.84 1009.24 752.51 1010.18 753.13 1011.11 754.59 1012.04 756.8 1012.97 759.71 1013.9 763.23 1014.84 767.3 1015.77 771.84 1016.7 776.78 1017.63 782.05 1018.56 787.58 1019.5 793.3 1020.43 799.13 1021.36 805.01 1022.29 810.86 1023.22 816.6 1024.16 822.18 1025.09 827.51 1026.02 832.52 1026.95 837.15 1027.88 841.31 1028.82 844.95 1029.75 847.98 1030.68 850.34 1031.61 851.96 1032.54 852.75 1033.48 852.71 1034.41 852.01 1035.34 850.71 1036.27 848.86 1037.2 846.49 1038.14 843.64 1039.07 840.36 1040 836.68 1040.93 832.65 1041.86 828.29 1042.8 823.66 1043.73 818.79 1044.66 813.73 1045.59 808.51 1046.52 803.17 1047.46 797.75 1048.39 792.29 1049.32 786.84 1050.25 781.43 1051.18 776.1 1052.12 770.89 1053.05 765.84 1053.98 761 1054.91 756.39 1055.84 752.07 1056.78 748.07 1057.71 744.43 1058.64 741.19 1059.57 738.39 1060.5 736.07 1061.44 734.27 1062.37 733.03 1063.3 732.39 1064.23 732.35 1065.16 732.7 1066.1 733.39 1067.03 734.39 1067.96 735.69 1068.89 737.27 1069.82 739.11 1070.76 741.2 1071.69 743.52 1072.62 746.05 1073.55 748.77 1074.48 751.67 1075.42 754.73 1076.35 757.93 1077.28 761.25 1078.21 764.67 1079.14 768.18 1080.08 771.77 1081.01 775.4 1081.94 779.08 1082.87 782.76 1083.8 786.45 1084.74 790.12 1085.67 793.76 1086.6 797.34 1087.53 800.86 1088.46 804.28 1089.4 807.6 1090.33 810.8 1091.26 813.86 1092.19 816.75 1093.12 819.48 1094.06 822.01 1094.99 824.32 1095.92 826.41 1096.85 828.26 1097.78 829.84 1098.72 831.14 1099.65 832.14 1100.58 832.82 1101.51 833.17 1102.44 833.19 1103.38 833 1104.31 832.63 1105.24 832.08 1106.17 831.35 1107.1 830.46 1108.04 829.41 1108.97 828.2 1109.9 826.85 1110.83 825.35 1111.76 823.72 1112.7 821.96 1113.63 820.08 1114.56 818.08 1115.49 815.98 1116.42 813.76 1117.36 811.45 1118.29 809.05 1119.22 806.56 1120.15 803.99 1121.08 801.35 1122.02 798.64 1122.95 795.87 1123.88 793.04 1124.81 790.17 1125.74 787.25 1126.68 784.3 1127.61 781.31 1128.54 778.3 1129.47 775.28 1130.4 772.24 1131.34 769.2 1132.27 766.15 1133.2 763.12 1134.13 760.1 1135.06 757.09 1136 754.11 1136.93 751.17 1137.86 748.26 1138.79 745.39 1139.72 742.58 1140.66 739.82 1141.59 737.12 1142.52 734.49 1143.45 731.94 1144.38 729.47 1145.32 727.08 1146.25 724.79 1147.18 722.6 1148.11 720.51 1149.04 718.54 1149.98 716.68 1150.91 714.94 1151.84 713.34 1152.77 711.87 1153.7 710.55 1154.64 709.37 1155.57 708.35 1156.5 707.5 1157.43 706.8 1158.36 706.28 1159.3 705.95 1160.23 705.79 1161.16 705.8 1162.09 705.9 1163.02 706.07 1163.96 706.32 1164.89 706.64 1165.82 707.03 1166.75 707.48 1167.68 708 1168.62 708.59 1169.55 709.24 1170.48 709.94 1171.41 710.71 1172.34 711.52 1173.28 712.39 1174.21 713.31 1175.14 714.28 1176.07 715.29 1177 716.35 1177.94 717.45 1178.87 718.58 1179.8 719.75 1180.73 720.96 1181.66 722.2 1182.6 723.48 1183.53 724.79 1184.46 726.12 1185.39 727.49 1186.32 728.89 1187.26 730.31 1188.19 731.76 1189.12 733.23 1190.05 734.73 1190.98 736.26 1191.92 737.8 1192.85 739.37 1193.78 740.96 1194.71 742.57 1195.64 744.19 1196.58 745.84 1197.51 747.5 1198.44 749.19 1199.37 750.89 1200.3 752.61 1201.24 754.36 1202.17 756.12 1203.1 757.9 1204.03 759.71 1204.96 761.53 1205.9 763.37 1206.83 765.23 1207.76 767.12 1208.69 769.02 1209.62 770.94 1210.56 772.88 1211.49 774.84 1212.42 776.81 1213.35 778.79 1214.28 780.78 1215.22 782.78 1216.15 784.78 1217.08 786.79 1218.01 788.8 1218.94 790.8 1219.88 792.81 1220.81 794.81 1221.74 796.8 1222.67 798.79 1223.6 800.76 1224.54 802.72 1225.47 804.68 1226.4 806.62 1227.33 808.56 1228.26 810.5 1229.2 812.44 1230.13 814.37 1231.06 816.31 1231.99 818.26 1232.92 820.21 1233.86 822.17 1234.79 824.14 1235.72 826.12 1236.65 828.12 1237.58 830.13 1238.52 832.16 1239.45 834.21 1240.38 836.27 1241.31 838.34 1242.24 840.42 1243.18 842.51 1244.11 844.59 1245.04 846.68 1245.97 848.76 1246.9 850.84 1247.84 852.91 1248.77 854.96 1249.7 857.01 1250.63 859.03 1251.56 861.04 1252.5 863.02 1253.43 864.98 1254.36 866.92 1255.29 868.83 1256.22 870.73 1257.16 872.6 1258.09 874.46 1259.02 876.3 1259.95 878.12 1260.88 879.94 1261.82 881.73 1262.75 883.52 1263.68 885.3 1264.61 887.07 1265.54 888.83 1266.48 890.58 1267.41 892.33 1268.34 894.08 1269.27 895.82 1270.2 897.55 1271.14 899.28 1272.07 901.01 1273 902.72 1273.93 904.43 1274.86 906.14 1275.8 907.83 1276.73 909.52 1277.66 911.2 1278.59 912.87 1279.52 914.53 1280.46 916.18 1281.39 917.82 1282.32 919.45 1283.25 921.07 1284.18 922.67 1285.12 924.27 1286.05 925.84 1286.98 927.4 1287.91 928.94 1288.84 930.46 1289.78 931.96 1290.71 933.44 1291.64 934.89 1292.57 936.32 1293.5 937.72 1294.44 939.1 1295.37 940.44 1296.3 941.75 1297.23 943.04 1298.16 944.29 1299.1 945.51 1300.03 946.71 1300.96 947.88 1301.89 949.02 1302.82 950.14 1303.76 951.23 1304.69 952.3 1305.62 953.36 1306.55 954.39 1307.48 955.4 1308.42 956.4 1309.35 957.38 1310.28 958.35 1311.21 959.3 1312.14 960.24 1313.08 961.17 1314.01 962.09 1314.94 962.99 1315.87 963.88 1316.8 964.75 1317.74 965.62 1318.67 966.47 1319.6 967.3 1320.53 968.12 1321.46 968.93 1322.4 969.73 1323.33 970.51 1324.26 971.28 1325.19 972.04 1326.12 972.78 1327.06 973.51 1327.99 974.22 1328.92 974.92 1329.85 975.62 1330.78 976.3 1331.72 976.97 1332.65 977.63 1333.58 978.28 1334.51 978.92 1335.44 979.55 1336.38 980.18 1337.31 980.8 1338.24 981.41 1339.17 982.02 1340.1 982.62 1341.04 983.22 1341.97 983.82 1342.9 984.4 1343.83 984.98 1344.76 985.56 1345.7 986.13 1346.63 986.69 1347.56 987.25 1348.49 987.8 1349.42 988.34 1350.36 988.87 1351.29 989.4 1352.22 989.91 1353.15 990.42 1354.08 990.92 1355.02 991.41 1355.95 991.89 1356.88 992.36 1357.81 992.82 1358.74 993.28 1359.68 993.73 1360.61 994.17 1361.54 994.61 1362.47 995.04 1363.4 995.48 1364.34 995.91 1365.27 996.33 1366.2 996.76 1367.13 997.19 1368.06 997.62 1369 998.05 1369.93 998.48 1370.86 998.91 1371.79 999.35 1372.72 999.79 1373.66 1000.23 1374.59 1000.67 1375.52 1001.12 1376.45 1001.57 1377.38 1002.01 1378.32 1002.46 1379.25 1002.91 1380.18 1003.37 1381.11 1003.82 1382.04 1004.28 1382.98 1004.73 1383.91 1005.19 1384.84 1005.64 1385.77 1006.1 1386.7 1006.56 1387.64 1007.02 1388.57 1007.48 1389.5 1007.94" stroke="#cc2229" stroke-width="3.6"/><path d="M830.3 878.2 831.23 875.16 832.16 873.75 833.1 874.2 834.03 878.85 834.96 887.41 835.89 899.1 836.82 913.12 837.76 928.71 838.69 945.08 839.62 961.45 840.55 977.04 841.48 991.07 842.42 1002.75 843.35 1011.31 844.28 1015.97 845.21 1015.33 846.14 1006.04 847.08 989.36 848.01 967.25 848.94 941.69 849.87 914.65 850.8 888.1 851.74 864.02 852.67 844.38 853.6 831.15 854.53 826.3 855.46 829.28 856.4 837.27 857.33 848.9 858.26 862.76 859.19 877.45 860.12 891.59 861.06 903.77 861.99 912.61 862.92 916.7 863.85 914.22 864.78 904.45 865.72 888.91 866.65 869.16 867.58 846.76 868.51 823.27 869.44 800.24 870.38 779.24 871.31 761.83 872.24 749.57 873.17 744.01 874.1 745.94 875.04 753.86 875.97 766.61 876.9 783.07 877.83 802.12 878.76 822.62 879.7 843.47 880.63 863.53 881.56 881.68 882.49 896.79 883.42 907.74 884.36 913.41 885.29 912.34 886.22 903.27 887.15 887.69 888.08 867.3 889.02 843.84 889.95 819 890.88 794.5 891.81 772.06 892.74 753.39 893.68 740.21 894.61 734.22 895.54 735.77 896.47 742.35 897.4 753.01 898.34 766.88 899.27 783.11 900.2 800.81 901.13 819.12 902.06 837.17 903 854.09 903.93 869.01 904.86 881.06 905.79 889.37 906.72 893.08 907.66 891.56 908.59 885.43 909.52 875.58 910.45 862.92 911.38 848.33 912.32 832.71 913.25 816.96 914.18 801.97 915.11 788.63 916.04 777.85 916.98 770.51 917.91 767.51 918.84 768.51 919.77 771.81 920.7 776.97 921.64 783.57 922.57 791.2 923.5 799.44 924.43 807.87 925.36 816.06 926.3 823.61 927.23 830.09 928.16 835.08 929.09 838.17 930.02 838.95 930.96 837.72 931.89 834.96 932.82 830.97 933.75 826.03 934.68 820.46 935.62 814.53 936.55 808.54 937.48 802.79 938.41 797.56 939.34 793.16 940.28 789.87 941.21 787.99 942.14 787.8 943.07 789.23 944 792.03 944.94 795.93 945.87 800.71 946.8 806.09 947.73 811.84 948.66 817.7 949.6 823.42 950.53 828.76 951.46 833.46 952.39 837.26 953.32 839.93 954.26 841.22 955.19 840.96 956.12 839.41 957.05 836.72 957.98 833.05 958.92 828.56 959.85 823.38 960.78 817.67 961.71 811.59 962.64 805.27 963.58 798.89 964.51 792.58 965.44 786.49 966.37 780.78 967.3 775.61 968.24 771.11 969.17 767.44 970.1 764.76 971.03 763.2 971.96 762.94 972.9 764.07 973.83 766.49 974.76 770.02 975.69 774.49 976.62 779.75 977.56 785.62 978.49 791.93 979.42 798.53 980.35 805.25 981.28 811.92 982.22 818.37 983.15 824.44 984.08 829.96 985.01 834.77 985.94 838.69 986.88 841.57 987.81 843.24 988.74 843.55 989.67 842.69 990.6 840.84 991.54 838.11 992.47 834.59 993.4 830.39 994.33 825.61 995.26 820.34 996.2 814.7 997.13 808.78 998.06 802.68 998.99 796.5 999.92 790.35 1000.86 784.32 1001.79 778.53 1002.72 773.06 1003.65 768.02 1004.58 763.52 1005.52 759.65 1006.45 756.51 1007.38 754.21 1008.31 752.84 1009.24 752.51 1010.18 753.13 1011.11 754.59 1012.04 756.8 1012.97 759.71 1013.9 763.23 1014.84 767.3 1015.77 771.84 1016.7 776.78 1017.63 782.05 1018.56 787.58 1019.5 793.3 1020.43 799.13 1021.36 805.01 1022.29 810.86 1023.22 816.6 1024.16 822.18 1025.09 827.51 1026.02 832.52 1026.95 837.15 1027.88 841.31 1028.82 844.95 1029.75 847.98 1030.68 850.34 1031.61 851.96 1032.54 852.75 1033.48 852.71 1034.41 852.01 1035.34 850.71 1036.27 848.86 1037.2 846.49 1038.14 843.64 1039.07 840.36 1040 836.68 1040.93 832.65 1041.86 828.29 1042.8 823.66 1043.73 818.79 1044.66 813.73 1045.59 808.51 1046.52 803.17 1047.46 797.75 1048.39 792.29 1049.32 786.84 1050.25 781.43 1051.18 776.1 1052.12 770.89 1053.05 765.84 1053.98 761 1054.91 756.39 1055.84 752.07 1056.78 748.07 1057.71 744.43 1058.64 741.19 1059.57 738.39 1060.5 736.07 1061.44 734.27 1062.37 733.03 1063.3 732.39 1064.23 732.35 1065.16 732.7 1066.1 733.39 1067.03 734.39 1067.96 735.69 1068.89 737.27 1069.82 739.11 1070.76 741.2 1071.69 743.52 1072.62 746.05 1073.55 748.77 1074.48 751.67 1075.42 754.73 1076.35 757.93 1077.28 761.25 1078.21 764.67 1079.14 768.18 1080.08 771.77 1081.01 775.4 1081.94 779.08 1082.87 782.76 1083.8 786.45 1084.74 790.12 1085.67 793.76 1086.6 797.34 1087.53 800.86 1088.46 804.28 1089.4 807.6 1090.33 810.8 1091.26 813.86 1092.19 816.75 1093.12 819.48 1094.06 822.01 1094.99 824.32 1095.92 826.41 1096.85 828.26 1097.78 829.84 1098.72 831.14 1099.65 832.14 1100.58 832.82 1101.51 833.17 1102.44 833.19 1103.38 833 1104.31 832.63 1105.24 832.08 1106.17 831.35 1107.1 830.46 1108.04 829.41 1108.97 828.2 1109.9 826.85 1110.83 825.35 1111.76 823.72 1112.7 821.96 1113.63 820.08 1114.56 818.08 1115.49 815.98 1116.42 813.76 1117.36 811.45 1118.29 809.05 1119.22 806.56 1120.15 803.99 1121.08 801.35 1122.02 798.64 1122.95 795.87 1123.88 793.04 1124.81 790.17 1125.74 787.25 1126.68 784.3 1127.61 781.31 1128.54 778.3 1129.47 775.28 1130.4 772.24 1131.34 769.2 1132.27 766.15 1133.2 763.12 1134.13 760.1 1135.06 757.09 1136 754.11 1136.93 751.17 1137.86 748.26 1138.79 745.39 1139.72 742.58 1140.66 739.82 1141.59 737.12 1142.52 734.49 1143.45 731.94 1144.38 729.47 1145.32 727.08 1146.25 724.79 1147.18 722.6 1148.11 720.51 1149.04 718.54 1149.98 716.68 1150.91 714.94 1151.84 713.34 1152.77 711.87 1153.7 710.55 1154.64 709.37 1155.57 708.35 1156.5 707.5 1157.43 706.8 1158.36 706.28 1159.3 705.95 1160.23 705.79 1161.16 705.8 1162.09 705.9 1163.02 706.07 1163.96 706.32 1164.89 706.64 1165.82 707.03 1166.75 707.48 1167.68 708 1168.62 708.59 1169.55 709.24 1170.48 709.94 1171.41 710.71 1172.34 711.52 1173.28 712.39 1174.21 713.31 1175.14 714.28 1176.07 715.29 1177 716.35 1177.94 717.45 1178.87 718.58 1179.8 719.75 1180.73 720.96 1181.66 722.2 1182.6 723.48 1183.53 724.79 1184.46 726.12 1185.39 727.49 1186.32 728.89 1187.26 730.31 1188.19 731.76 1189.12 733.23 1190.05 734.73 1190.98 736.26 1191.92 737.8 1192.85 739.37 1193.78 740.96 1194.71 742.57 1195.64 744.19 1196.58 745.84 1197.51 747.5 1198.44 749.19 1199.37 750.89 1200.3 752.61 1201.24 754.36 1202.17 756.12 1203.1 757.9 1204.03 759.71 1204.96 761.53 1205.9 763.37 1206.83 765.23 1207.76 767.12 1208.69 769.02 1209.62 770.94 1210.56 772.88 1211.49 774.84 1212.42 776.81 1213.35 778.79 1214.28 780.78 1215.22 782.78 1216.15 784.78 1217.08 786.79 1218.01 788.8 1218.94 790.8 1219.88 792.81 1220.81 794.81 1221.74 796.8 1222.67 798.79 1223.6 800.76 1224.54 802.72 1225.47 804.68 1226.4 806.62 1227.33 808.56 1228.26 810.5 1229.2 812.44 1230.13 814.37 1231.06 816.31 1231.99 818.26 1232.92 820.21 1233.86 822.17 1234.79 824.14 1235.72 826.12 1236.65 828.12 1237.58 830.13 1238.52 832.16 1239.45 834.21 1240.38 836.27 1241.31 838.34 1242.24 840.42 1243.18 842.51 1244.11 844.59 1245.04 846.68 1245.97 848.76 1246.9 850.84 1247.84 852.91 1248.77 854.96 1249.7 857.01 1250.63 859.03 1251.56 861.04 1252.5 863.02 1253.43 864.98 1254.36 866.92 1255.29 868.83 1256.22 870.73 1257.16 872.6 1258.09 874.46 1259.02 876.3 1259.95 878.12 1260.88 879.94 1261.82 881.73 1262.75 883.52 1263.68 885.3 1264.61 887.07 1265.54 888.83 1266.48 890.58 1267.41 892.33 1268.34 894.08 1269.27 895.82 1270.2 897.55 1271.14 899.28 1272.07 901.01 1273 902.72 1273.93 904.43 1274.86 906.14 1275.8 907.83 1276.73 909.52 1277.66 911.2 1278.59 912.87 1279.52 914.53 1280.46 916.18 1281.39 917.82 1282.32 919.45 1283.25 921.07 1284.18 922.67 1285.12 924.27 1286.05 925.84 1286.98 927.4 1287.91 928.94 1288.84 930.46 1289.78 931.96 1290.71 933.44 1291.64 934.89 1292.57 936.32 1293.5 937.72 1294.44 939.1 1295.37 940.44 1296.3 941.75 1297.23 943.04 1298.16 944.29 1299.1 945.51 1300.03 946.71 1300.96 947.88 1301.89 949.02 1302.82 950.14 1303.76 951.23 1304.69 952.3 1305.62 953.36 1306.55 954.39 1307.48 955.4 1308.42 956.4 1309.35 957.38 1310.28 958.35 1311.21 959.3 1312.14 960.24 1313.08 961.17 1314.01 962.09 1314.94 962.99 1315.87 963.88 1316.8 964.75 1317.74 965.62 1318.67 966.47 1319.6 967.3 1320.53 968.12 1321.46 968.93 1322.4 969.73 1323.33 970.51 1324.26 971.28 1325.19 972.04 1326.12 972.78 1327.06 973.51 1327.99 974.22 1328.92 974.92 1329.85 975.62 1330.78 976.3 1331.72 976.97 1332.65 977.63 1333.58 978.28 1334.51 978.92 1335.44 979.55 1336.38 980.18 1337.31 980.8 1338.24 981.41 1339.17 982.02 1340.1 982.62 1341.04 983.22 1341.97 983.82 1342.9 984.4 1343.83 984.98 1344.76 985.56 1345.7 986.13 1346.63 986.69 1347.56 987.25 1348.49 987.8 1349.42 988.34 1350.36 988.87 1351.29 989.4 1352.22 989.91 1353.15 990.42 1354.08 990.92 1355.02 991.41 1355.95 991.89 1356.88 992.36 1357.81 992.82 1358.74 993.28 1359.68 993.73 1360.61 994.17 1361.54 994.61 1362.47 995.04 1363.4 995.48 1364.34 995.91 1365.27 996.33 1366.2 996.76 1367.13 997.19 1368.06 997.62 1369 998.05 1369.93 998.48 1370.86 998.91 1371.79 999.35 1372.72 999.79 1373.66 1000.23 1374.59 1000.67 1375.52 1001.12 1376.45 1001.57 1377.38 1002.01 1378.32 1002.46 1379.25 1002.91 1380.18 1003.37 1381.11 1003.82 1382.04 1004.28 1382.98 1004.73 1383.91 1005.19 1384.84 1005.64 1385.77 1006.1 1386.7 1006.56 1387.64 1007.02 1388.57 1007.48 1389.5 1007.94" stroke="#991a1f" stroke-width="3.6"/><path d="M830.3 878.2 831.23 875.16 832.16 873.75 833.1 874.2 834.03 878.85 834.96 887.41 835.89 899.1 836.82 913.12 837.76 928.71 838.69 945.08 839.62 961.45 840.55 977.04 841.48 991.07 842.42 1002.75 843.35 1011.31 844.28 1015.97 845.21 1015.33 846.14 1006.04 847.08 989.36 848.01 967.25 848.94 941.69 849.87 914.65 850.8 888.1 851.74 864.02 852.67 844.38 853.6 831.15 854.53 826.3 855.46 829.28 856.4 837.27 857.33 848.9 858.26 862.76 859.19 877.45 860.12 891.59 861.06 903.77 861.99 912.61 862.92 916.7 863.85 914.22 864.78 904.45 865.72 888.91 866.65 869.16 867.58 846.76 868.51 823.27 869.44 800.24 870.38 779.24 871.31 761.83 872.24 749.57 873.17 744.01 874.1 745.94 875.04 753.86 875.97 766.61 876.9 783.07 877.83 802.12 878.76 822.62 879.7 843.47 880.63 863.53 881.56 881.68 882.49 896.79 883.42 907.74 884.36 913.41 885.29 912.34 886.22 903.27 887.15 887.69 888.08 867.3 889.02 843.84 889.95 819 890.88 794.5 891.81 772.06 892.74 753.39 893.68 740.21 894.61 734.22 895.54 735.77 896.47 742.35 897.4 753.01 898.34 766.88 899.27 783.11 900.2 800.81 901.13 819.12 902.06 837.17 903 854.09 903.93 869.01 904.86 881.06 905.79 889.37 906.72 893.08 907.66 891.56 908.59 885.43 909.52 875.58 910.45 862.92 911.38 848.33 912.32 832.71 913.25 816.96 914.18 801.97 915.11 788.63 916.04 777.85 916.98 770.51 917.91 767.51 918.84 768.51 919.77 771.81 920.7 776.97 921.64 783.57 922.57 791.2 923.5 799.44 924.43 807.87 925.36 816.06 926.3 823.61 927.23 830.09 928.16 835.08 929.09 838.17 930.02 838.95 930.96 837.72 931.89 834.96 932.82 830.97 933.75 826.03 934.68 820.46 935.62 814.53 936.55 808.54 937.48 802.79 938.41 797.56 939.34 793.16 940.28 789.87 941.21 787.99 942.14 787.8 943.07 789.23 944 792.03 944.94 795.93 945.87 800.71 946.8 806.09 947.73 811.84 948.66 817.7 949.6 823.42 950.53 828.76 951.46 833.46 952.39 837.26 953.32 839.93 954.26 841.22 955.19 840.96 956.12 839.41 957.05 836.72 957.98 833.05 958.92 828.56 959.85 823.38 960.78 817.67 961.71 811.59 962.64 805.27 963.58 798.89 964.51 792.58 965.44 786.49 966.37 780.78 967.3 775.61 968.24 771.11 969.17 767.44 970.1 764.76 971.03 763.2 971.96 762.94 972.9 764.07 973.83 766.49 974.76 770.02 975.69 774.49 976.62 779.75 977.56 785.62 978.49 791.93 979.42 798.53 980.35 805.25 981.28 811.92 982.22 818.37 983.15 824.44 984.08 829.96 985.01 834.77 985.94 838.69 986.88 841.57 987.81 843.24 988.74 843.55 989.67 842.69 990.6 840.84 991.54 838.11 992.47 834.59 993.4 830.39 994.33 825.61 995.26 820.34 996.2 814.7 997.13 808.78 998.06 802.68 998.99 796.5 999.92 790.35 1000.86 784.32 1001.79 778.53 1002.72 773.06 1003.65 768.02 1004.58 763.52 1005.52 759.65 1006.45 756.51 1007.38 754.21 1008.31 752.84 1009.24 752.51 1010.18 753.13 1011.11 754.59 1012.04 756.8 1012.97 759.71 1013.9 763.23 1014.84 767.3 1015.77 771.84 1016.7 776.78 1017.63 782.05 1018.56 787.58 1019.5 793.3 1020.43 799.13 1021.36 805.01 1022.29 810.86 1023.22 816.6 1024.16 822.18 1025.09 827.51 1026.02 832.52 1026.95 837.15 1027.88 841.31 1028.82 844.95 1029.75 847.98 1030.68 850.34 1031.61 851.96 1032.54 852.75 1033.48 852.71 1034.41 852.01 1035.34 850.71 1036.27 848.86 1037.2 846.49 1038.14 843.64 1039.07 840.36 1040 836.68 1040.93 832.65 1041.86 828.29 1042.8 823.66 1043.73 818.79 1044.66 813.73 1045.59 808.51 1046.52 803.17 1047.46 797.75 1048.39 792.29 1049.32 786.84 1050.25 781.43 1051.18 776.1 1052.12 770.89 1053.05 765.84 1053.98 761 1054.91 756.39 1055.84 752.07 1056.78 748.07 1057.71 744.43 1058.64 741.19 1059.57 738.39 1060.5 736.07 1061.44 734.27 1062.37 733.03 1063.3 732.39 1064.23 732.35 1065.16 732.7 1066.1 733.39 1067.03 734.39 1067.96 735.69 1068.89 737.27 1069.82 739.11 1070.76 741.2 1071.69 743.52 1072.62 746.05 1073.55 748.77 1074.48 751.67 1075.42 754.73 1076.35 757.93 1077.28 761.25 1078.21 764.67 1079.14 768.18 1080.08 771.77 1081.01 775.4 1081.94 779.08 1082.87 782.76 1083.8 786.45 1084.74 790.12 1085.67 793.76 1086.6 797.34 1087.53 800.86 1088.46 804.28 1089.4 807.6 1090.33 810.8 1091.26 813.86 1092.19 816.75 1093.12 819.48 1094.06 822.01 1094.99 824.32 1095.92 826.41 1096.85 828.26 1097.78 829.84 1098.72 831.14 1099.65 832.14 1100.58 832.82 1101.51 833.17 1102.44 833.19 1103.38 833 1104.31 832.63 1105.24 832.08 1106.17 831.35 1107.1 830.46 1108.04 829.41 1108.97 828.2 1109.9 826.85 1110.83 825.35 1111.76 823.72 1112.7 821.96 1113.63 820.08 1114.56 818.08 1115.49 815.98 1116.42 813.76 1117.36 811.45 1118.29 809.05 1119.22 806.56 1120.15 803.99 1121.08 801.35 1122.02 798.64 1122.95 795.87 1123.88 793.04 1124.81 790.17 1125.74 787.25 1126.68 784.3 1127.61 781.31 1128.54 778.3 1129.47 775.28 1130.4 772.24 1131.34 769.2 1132.27 766.15 1133.2 763.12 1134.13 760.1 1135.06 757.09 1136 754.11 1136.93 751.17 1137.86 748.26 1138.79 745.39 1139.72 742.58 1140.66 739.82 1141.59 737.12 1142.52 734.49 1143.45 731.94 1144.38 729.47 1145.32 727.08 1146.25 724.79 1147.18 722.6 1148.11 720.51 1149.04 718.54 1149.98 716.68 1150.91 714.94 1151.84 713.34 1152.77 711.87 1153.7 710.55 1154.64 709.37 1155.57 708.35 1156.5 707.5 1157.43 706.8 1158.36 706.28 1159.3 705.95 1160.23 705.79 1161.16 705.8 1162.09 705.9 1163.02 706.07 1163.96 706.32 1164.89 706.64 1165.82 707.03 1166.75 707.48 1167.68 708 1168.62 708.59 1169.55 709.24 1170.48 709.94 1171.41 710.71 1172.34 711.52 1173.28 712.39 1174.21 713.31 1175.14 714.28 1176.07 715.29 1177 716.35 1177.94 717.45 1178.87 718.58 1179.8 719.75 1180.73 720.96 1181.66 722.2 1182.6 723.48 1183.53 724.79 1184.46 726.12 1185.39 727.49 1186.32 728.89 1187.26 730.31 1188.19 731.76 1189.12 733.23 1190.05 734.73 1190.98 736.26 1191.92 737.8 1192.85 739.37 1193.78 740.96 1194.71 742.57 1195.64 744.19 1196.58 745.84 1197.51 747.5 1198.44 749.19 1199.37 750.89 1200.3 752.61 1201.24 754.36 1202.17 756.12 1203.1 757.9 1204.03 759.71 1204.96 761.53 1205.9 763.37 1206.83 765.23 1207.76 767.12 1208.69 769.02 1209.62 770.94 1210.56 772.88 1211.49 774.84 1212.42 776.81 1213.35 778.79 1214.28 780.78 1215.22 782.78 1216.15 784.78 1217.08 786.79 1218.01 788.8 1218.94 790.8 1219.88 792.81 1220.81 794.81 1221.74 796.8 1222.67 798.79 1223.6 800.76 1224.54 802.72 1225.47 804.68 1226.4 806.62 1227.33 808.56 1228.26 810.5 1229.2 812.44 1230.13 814.37 1231.06 816.31 1231.99 818.26 1232.92 820.21 1233.86 822.17 1234.79 824.14 1235.72 826.12 1236.65 828.12 1237.58 830.13 1238.52 832.16 1239.45 834.21 1240.38 836.27 1241.31 838.34 1242.24 840.42 1243.18 842.51 1244.11 844.59 1245.04 846.68 1245.97 848.76 1246.9 850.84 1247.84 852.91 1248.77 854.96 1249.7 857.01 1250.63 859.03 1251.56 861.04 1252.5 863.02 1253.43 864.98 1254.36 866.92 1255.29 868.83 1256.22 870.73 1257.16 872.6 1258.09 874.46 1259.02 876.3 1259.95 878.12 1260.88 879.94 1261.82 881.73 1262.75 883.52 1263.68 885.3 1264.61 887.07 1265.54 888.83 1266.48 890.58 1267.41 892.33 1268.34 894.08 1269.27 895.82 1270.2 897.55 1271.14 899.28 1272.07 901.01 1273 902.72 1273.93 904.43 1274.86 906.14 1275.8 907.83 1276.73 909.52 1277.66 911.2 1278.59 912.87 1279.52 914.53 1280.46 916.18 1281.39 917.82 1282.32 919.45 1283.25 921.07 1284.18 922.67 1285.12 924.27 1286.05 925.84 1286.98 927.4 1287.91 928.94 1288.84 930.46 1289.78 931.96 1290.71 933.44 1291.64 934.89 1292.57 936.32 1293.5 937.72 1294.44 939.1 1295.37 940.44 1296.3 941.75 1297.23 943.04 1298.16 944.29 1299.1 945.51 1300.03 946.71 1300.96 947.88 1301.89 949.02 1302.82 950.14 1303.76 951.23 1304.69 952.3 1305.62 953.36 1306.55 954.39 1307.48 955.4 1308.42 956.4 1309.35 957.38 1310.28 958.35 1311.21 959.3 1312.14 960.24 1313.08 961.17 1314.01 962.09 1314.94 962.99 1315.87 963.88 1316.8 964.75 1317.74 965.62 1318.67 966.47 1319.6 967.3 1320.53 968.12 1321.46 968.93 1322.4 969.73 1323.33 970.51 1324.26 971.28 1325.19 972.04 1326.12 972.78 1327.06 973.51 1327.99 974.22 1328.92 974.92 1329.85 975.62 1330.78 976.3 1331.72 976.97 1332.65 977.63 1333.58 978.28 1334.51 978.92 1335.44 979.55 1336.38 980.18 1337.31 980.8 1338.24 981.41 1339.17 982.02 1340.1 982.62 1341.04 983.22 1341.97 983.82 1342.9 984.4 1343.83 984.98 1344.76 985.56 1345.7 986.13 1346.63 986.69 1347.56 987.25 1348.49 987.8 1349.42 988.34 1350.36 988.87 1351.29 989.4 1352.22 989.91 1353.15 990.42 1354.08 990.92 1355.02 991.41 1355.95 991.89 1356.88 992.36 1357.81 992.82 1358.74 993.28 1359.68 993.73 1360.61 994.17 1361.54 994.61 1362.47 995.04 1363.4 995.48 1364.34 995.91 1365.27 996.33 1366.2 996.76 1367.13 997.19 1368.06 997.62 1369 998.05 1369.93 998.48 1370.86 998.91 1371.79 999.35 1372.72 999.79 1373.66 1000.23 1374.59 1000.67 1375.52 1001.12 1376.45 1001.57 1377.38 1002.01 1378.32 1002.46 1379.25 1002.91 1380.18 1003.37 1381.11 1003.82 1382.04 1004.28 1382.98 1004.73 1383.91 1005.19 1384.84 1005.64 1385.77 1006.1 1386.7 1006.56 1387.64 1007.02 1388.57 1007.48 1389.5 1007.94" stroke="#640e0e" stroke-width="3.6"/><path d="M830.3 878.2 831.23 875.16 832.16 873.75 833.1 874.2 834.03 878.85 834.96 887.41 835.89 899.1 836.82 913.12 837.76 928.71 838.69 945.08 839.62 961.45 840.55 977.04 841.48 991.07 842.42 1002.75 843.35 1011.31 844.28 1015.97 845.21 1015.33 846.14 1006.04 847.08 989.36 848.01 967.25 848.94 941.69 849.87 914.65 850.8 888.1 851.74 864.02 852.67 844.38 853.6 831.15 854.53 826.3 855.46 829.28 856.4 837.27 857.33 848.9 858.26 862.76 859.19 877.45 860.12 891.59 861.06 903.77 861.99 912.61 862.92 916.7 863.85 914.22 864.78 904.45 865.72 888.91 866.65 869.16 867.58 846.76 868.51 823.27 869.44 800.24 870.38 779.24 871.31 761.83 872.24 749.57 873.17 744.01 874.1 745.94 875.04 753.86 875.97 766.61 876.9 783.07 877.83 802.12 878.76 822.62 879.7 843.47 880.63 863.53 881.56 881.68 882.49 896.79 883.42 907.74 884.36 913.41 885.29 912.34 886.22 903.27 887.15 887.69 888.08 867.3 889.02 843.84 889.95 819 890.88 794.5 891.81 772.06 892.74 753.39 893.68 740.21 894.61 734.22 895.54 735.77 896.47 742.35 897.4 753.01 898.34 766.88 899.27 783.11 900.2 800.81 901.13 819.12 902.06 837.17 903 854.09 903.93 869.01 904.86 881.06 905.79 889.37 906.72 893.08 907.66 891.56 908.59 885.43 909.52 875.58 910.45 862.92 911.38 848.33 912.32 832.71 913.25 816.96 914.18 801.97 915.11 788.63 916.04 777.85 916.98 770.51 917.91 767.51 918.84 768.51 919.77 771.81 920.7 776.97 921.64 783.57 922.57 791.2 923.5 799.44 924.43 807.87 925.36 816.06 926.3 823.61 927.23 830.09 928.16 835.08 929.09 838.17 930.02 838.95 930.96 837.72 931.89 834.96 932.82 830.97 933.75 826.03 934.68 820.46 935.62 814.53 936.55 808.54 937.48 802.79 938.41 797.56 939.34 793.16 940.28 789.87 941.21 787.99 942.14 787.8 943.07 789.23 944 792.03 944.94 795.93 945.87 800.71 946.8 806.09 947.73 811.84 948.66 817.7 949.6 823.42 950.53 828.76 951.46 833.46 952.39 837.26 953.32 839.93 954.26 841.22 955.19 840.96 956.12 839.41 957.05 836.72 957.98 833.05 958.92 828.56 959.85 823.38 960.78 817.67 961.71 811.59 962.64 805.27 963.58 798.89 964.51 792.58 965.44 786.49 966.37 780.78 967.3 775.61 968.24 771.11 969.17 767.44 970.1 764.76 971.03 763.2 971.96 762.94 972.9 764.07 973.83 766.49 974.76 770.02 975.69 774.49 976.62 779.75 977.56 785.62 978.49 791.93 979.42 798.53 980.35 805.25 981.28 811.92 982.22 818.37 983.15 824.44 984.08 829.96 985.01 834.77 985.94 838.69 986.88 841.57 987.81 843.24 988.74 843.55 989.67 842.69 990.6 840.84 991.54 838.11 992.47 834.59 993.4 830.39 994.33 825.61 995.26 820.34 996.2 814.7 997.13 808.78 998.06 802.68 998.99 796.5 999.92 790.35 1000.86 784.32 1001.79 778.53 1002.72 773.06 1003.65 768.02 1004.58 763.52 1005.52 759.65 1006.45 756.51 1007.38 754.21 1008.31 752.84 1009.24 752.51 1010.18 753.13 1011.11 754.59 1012.04 756.8 1012.97 759.71 1013.9 763.23 1014.84 767.3 1015.77 771.84 1016.7 776.78 1017.63 782.05 1018.56 787.58 1019.5 793.3 1020.43 799.13 1021.36 805.01 1022.29 810.86 1023.22 816.6 1024.16 822.18 1025.09 827.51 1026.02 832.52 1026.95 837.15 1027.88 841.31 1028.82 844.95 1029.75 847.98 1030.68 850.34 1031.61 851.96 1032.54 852.75 1033.48 852.71 1034.41 852.01 1035.34 850.71 1036.27 848.86 1037.2 846.49 1038.14 843.64 1039.07 840.36 1040 836.68 1040.93 832.65 1041.86 828.29 1042.8 823.66 1043.73 818.79 1044.66 813.73 1045.59 808.51 1046.52 803.17 1047.46 797.75 1048.39 792.29 1049.32 786.84 1050.25 781.43 1051.18 776.1 1052.12 770.89 1053.05 765.84 1053.98 761 1054.91 756.39 1055.84 752.07 1056.78 748.07 1057.71 744.43 1058.64 741.19 1059.57 738.39 1060.5 736.07 1061.44 734.27 1062.37 733.03 1063.3 732.39 1064.23 732.35 1065.16 732.7 1066.1 733.39 1067.03 734.39 1067.96 735.69 1068.89 737.27 1069.82 739.11 1070.76 741.2 1071.69 743.52 1072.62 746.05 1073.55 748.77 1074.48 751.67 1075.42 754.73 1076.35 757.93 1077.28 761.25 1078.21 764.67 1079.14 768.18 1080.08 771.77 1081.01 775.4 1081.94 779.08 1082.87 782.76 1083.8 786.45 1084.74 790.12 1085.67 793.76 1086.6 797.34 1087.53 800.86 1088.46 804.28 1089.4 807.6 1090.33 810.8 1091.26 813.86 1092.19 816.75 1093.12 819.48 1094.06 822.01 1094.99 824.32 1095.92 826.41 1096.85 828.26 1097.78 829.84 1098.72 831.14 1099.65 832.14 1100.58 832.82 1101.51 833.17 1102.44 833.19 1103.38 833 1104.31 832.63 1105.24 832.08 1106.17 831.35 1107.1 830.46 1108.04 829.41 1108.97 828.2 1109.9 826.85 1110.83 825.35 1111.76 823.72 1112.7 821.96 1113.63 820.08 1114.56 818.08 1115.49 815.98 1116.42 813.76 1117.36 811.45 1118.29 809.05 1119.22 806.56 1120.15 803.99 1121.08 801.35 1122.02 798.64 1122.95 795.87 1123.88 793.04 1124.81 790.17 1125.74 787.25 1126.68 784.3 1127.61 781.31 1128.54 778.3 1129.47 775.28 1130.4 772.24 1131.34 769.2 1132.27 766.15 1133.2 763.12 1134.13 760.1 1135.06 757.09 1136 754.11 1136.93 751.17 1137.86 748.26 1138.79 745.39 1139.72 742.58 1140.66 739.82 1141.59 737.12 1142.52 734.49 1143.45 731.94 1144.38 729.47 1145.32 727.08 1146.25 724.79 1147.18 722.6 1148.11 720.51 1149.04 718.54 1149.98 716.68 1150.91 714.94 1151.84 713.34 1152.77 711.87 1153.7 710.55 1154.64 709.37 1155.57 708.35 1156.5 707.5 1157.43 706.8 1158.36 706.28 1159.3 705.95 1160.23 705.79 1161.16 705.8 1162.09 705.9 1163.02 706.07 1163.96 706.32 1164.89 706.64 1165.82 707.03 1166.75 707.48 1167.68 708 1168.62 708.59 1169.55 709.24 1170.48 709.94 1171.41 710.71 1172.34 711.52 1173.28 712.39 1174.21 713.31 1175.14 714.28 1176.07 715.29 1177 716.35 1177.94 717.45 1178.87 718.58 1179.8 719.75 1180.73 720.96 1181.66 722.2 1182.6 723.48 1183.53 724.79 1184.46 726.12 1185.39 727.49 1186.32 728.89 1187.26 730.31 1188.19 731.76 1189.12 733.23 1190.05 734.73 1190.98 736.26 1191.92 737.8 1192.85 739.37 1193.78 740.96 1194.71 742.57 1195.64 744.19 1196.58 745.84 1197.51 747.5 1198.44 749.19 1199.37 750.89 1200.3 752.61 1201.24 754.36 1202.17 756.12 1203.1 757.9 1204.03 759.71 1204.96 761.53 1205.9 763.37 1206.83 765.23 1207.76 767.12 1208.69 769.02 1209.62 770.94 1210.56 772.88 1211.49 774.84 1212.42 776.81 1213.35 778.79 1214.28 780.78 1215.22 782.78 1216.15 784.78 1217.08 786.79 1218.01 788.8 1218.94 790.8 1219.88 792.81 1220.81 794.81 1221.74 796.8 1222.67 798.79 1223.6 800.76 1224.54 802.72 1225.47 804.68 1226.4 806.62 1227.33 808.56 1228.26 810.5 1229.2 812.44 1230.13 814.37 1231.06 816.31 1231.99 818.26 1232.92 820.21 1233.86 822.17 1234.79 824.14 1235.72 826.12 1236.65 828.12 1237.58 830.13 1238.52 832.16 1239.45 834.21 1240.38 836.27 1241.31 838.34 1242.24 840.42 1243.18 842.51 1244.11 844.59 1245.04 846.68 1245.97 848.76 1246.9 850.84 1247.84 852.91 1248.77 854.96 1249.7 857.01 1250.63 859.03 1251.56 861.04 1252.5 863.02 1253.43 864.98 1254.36 866.92 1255.29 868.83 1256.22 870.73 1257.16 872.6 1258.09 874.46 1259.02 876.3 1259.95 878.12 1260.88 879.94 1261.82 881.73 1262.75 883.52 1263.68 885.3 1264.61 887.07 1265.54 888.83 1266.48 890.58 1267.41 892.33 1268.34 894.08 1269.27 895.82 1270.2 897.55 1271.14 899.28 1272.07 901.01 1273 902.72 1273.93 904.43 1274.86 906.14 1275.8 907.83 1276.73 909.52 1277.66 911.2 1278.59 912.87 1279.52 914.53 1280.46 916.18 1281.39 917.82 1282.32 919.45 1283.25 921.07 1284.18 922.67 1285.12 924.27 1286.05 925.84 1286.98 927.4 1287.91 928.94 1288.84 930.46 1289.78 931.96 1290.71 933.44 1291.64 934.89 1292.57 936.32 1293.5 937.72 1294.44 939.1 1295.37 940.44 1296.3 941.75 1297.23 943.04 1298.16 944.29 1299.1 945.51 1300.03 946.71 1300.96 947.88 1301.89 949.02 1302.82 950.14 1303.76 951.23 1304.69 952.3 1305.62 953.36 1306.55 954.39 1307.48 955.4 1308.42 956.4 1309.35 957.38 1310.28 958.35 1311.21 959.3 1312.14 960.24 1313.08 961.17 1314.01 962.09 1314.94 962.99 1315.87 963.88 1316.8 964.75 1317.74 965.62 1318.67 966.47 1319.6 967.3 1320.53 968.12 1321.46 968.93 1322.4 969.73 1323.33 970.51 1324.26 971.28 1325.19 972.04 1326.12 972.78 1327.06 973.51 1327.99 974.22 1328.92 974.92 1329.85 975.62 1330.78 976.3 1331.72 976.97 1332.65 977.63 1333.58 978.28 1334.51 978.92 1335.44 979.55 1336.38 980.18 1337.31 980.8 1338.24 981.41 1339.17 982.02 1340.1 982.62 1341.04 983.22 1341.97 983.82 1342.9 984.4 1343.83 984.98 1344.76 985.56 1345.7 986.13 1346.63 986.69 1347.56 987.25 1348.49 987.8 1349.42 988.34 1350.36 988.87 1351.29 989.4 1352.22 989.91 1353.15 990.42 1354.08 990.92 1355.02 991.41 1355.95 991.89 1356.88 992.36 1357.81 992.82 1358.74 993.28 1359.68 993.73 1360.61 994.17 1361.54 994.61 1362.47 995.04 1363.4 995.48 1364.34 995.91 1365.27 996.33 1366.2 996.76 1367.13 997.19 1368.06 997.62 1369 998.05 1369.93 998.48 1370.86 998.91 1371.79 999.35 1372.72 999.79 1373.66 1000.23 1374.59 1000.67 1375.52 1001.12 1376.45 1001.57 1377.38 1002.01 1378.32 1002.46 1379.25 1002.91 1380.18 1003.37 1381.11 1003.82 1382.04 1004.28 1382.98 1004.73 1383.91 1005.19 1384.84 1005.64 1385.77 1006.1 1386.7 1006.56 1387.64 1007.02 1388.57 1007.48 1389.5 1007.94" stroke="#331111" stroke-width="4.0"/></g>
<rect x="830.3" y="631.4" width="559.2" height="461.3" fill="none" stroke="#000" stroke-width="2.2"/>
<text x="829.3" y="1144.2" font-family="'Liberation Sans', Arial, sans-serif" font-size="37.5" text-anchor="middle">0</text><text x="1015.7" y="1144.2" font-family="'Liberation Sans', Arial, sans-serif" font-size="37.5" text-anchor="middle">20</text><text x="1202.1" y="1144.2" font-family="'Liberation Sans', Arial, sans-serif" font-size="37.5" text-anchor="middle">40</text><text x="1388.5" y="1144.2" font-family="'Liberation Sans', Arial, sans-serif" font-size="37.5" text-anchor="middle">60</text><text x="814.1" y="1105.9" font-family="'Liberation Sans', Arial, sans-serif" font-size="37.5" text-anchor="end">0</text><text x="814.1" y="990.58" font-family="'Liberation Sans', Arial, sans-serif" font-size="37.5" text-anchor="end">2</text><text x="814.1" y="875.25" font-family="'Liberation Sans', Arial, sans-serif" font-size="37.5" text-anchor="end">4</text><text x="814.1" y="759.93" font-family="'Liberation Sans', Arial, sans-serif" font-size="37.5" text-anchor="end">6</text><text x="814.1" y="644.6" font-family="'Liberation Sans', Arial, sans-serif" font-size="37.5" text-anchor="end">8</text>
<text x="848.2" y="675.3" font-family="'Liberation Sans', Arial, sans-serif" font-size="31.8">Hologram</text>
<text transform="translate(1342.8 671.5) scale(0.9396 1)" font-family="'Liberation Serif', 'Times New Roman', serif" font-size="35" fill="#000"><tspan>(l)</tspan></text>
<text transform="translate(768.62 290.46) rotate(-90) scale(1.0000 1)" font-family="'Liberation Serif', 'Times New Roman', serif" font-size="43.63" fill="#000"><tspan>|</tspan></text>
<text transform="translate(769.59 279.54) rotate(-90) scale(0.9488 1)" font-family="'Liberation Serif', 'Times New Roman', serif" font-size="39.56" fill="#000"><tspan font-style="italic">p</tspan></text>
<text transform="translate(768.62 261.11) rotate(-90) scale(1.0000 1)" font-family="'Liberation Serif', 'Times New Roman', serif" font-size="43.63" fill="#000"><tspan>|</tspan></text>
<text transform="translate(777.41 248.4) rotate(-90) scale(0.9670 1)" font-family="'Liberation Serif', 'Times New Roman', serif" font-size="59.25" fill="#000"><tspan>/</tspan></text>
<text transform="translate(769.59 228.83) rotate(-90) scale(0.9536 1)" font-family="'Liberation Serif', 'Times New Roman', serif" font-size="39.56" fill="#000"><tspan font-style="italic">p</tspan></text>
<text transform="translate(774.52 210.62) rotate(-90) scale(1.0561 1)" font-family="'Liberation Serif', 'Times New Roman', serif" font-size="28.3" fill="#000"><tspan>0</tspan></text>
<text transform="translate(768.62 909.16) rotate(-90) scale(1.0000 1)" font-family="'Liberation Serif', 'Times New Roman', serif" font-size="43.63" fill="#000"><tspan>|</tspan></text>
<text transform="translate(769.59 898.24) rotate(-90) scale(0.9488 1)" font-family="'Liberation Serif', 'Times New Roman', serif" font-size="39.56" fill="#000"><tspan font-style="italic">p</tspan></text>
<text transform="translate(768.62 879.81) rotate(-90) scale(1.0000 1)" font-family="'Liberation Serif', 'Times New Roman', serif" font-size="43.63" fill="#000"><tspan>|</tspan></text>
<text transform="translate(777.41 867.1) rotate(-90) scale(0.9670 1)" font-family="'Liberation Serif', 'Times New Roman', serif" font-size="59.25" fill="#000"><tspan>/</tspan></text>
<text transform="translate(769.59 847.53) rotate(-90) scale(0.9536 1)" font-family="'Liberation Serif', 'Times New Roman', serif" font-size="39.56" fill="#000"><tspan font-style="italic">p</tspan></text>
<text transform="translate(774.52 829.32) rotate(-90) scale(1.0561 1)" font-family="'Liberation Serif', 'Times New Roman', serif" font-size="28.3" fill="#000"><tspan>0</tspan></text>
<text transform="translate(1055.78 571.9) scale(1.1613 1)" font-family="'Liberation Serif', 'Times New Roman', serif" font-size="40" fill="#000"><tspan font-style="italic">z</tspan></text>
<text transform="translate(1088.37 571.9) scale(1.0499 1)" font-family="'Liberation Serif', 'Times New Roman', serif" font-size="41" fill="#000"><tspan>(mm)</tspan></text>
<text transform="translate(1046.25 1188.3) scale(1.0968 1)" font-family="'Liberation Serif', 'Times New Roman', serif" font-size="40" fill="#000"><tspan font-style="italic">z</tspan></text>
<text transform="translate(1079.19 1188.3) scale(1.0373 1)" font-family="'Liberation Serif', 'Times New Roman', serif" font-size="41" fill="#000"><tspan>(mm)</tspan></text>
<rect x="1440" y="12.7" width="459" height="455.5" fill="#fff" stroke="#222" stroke-width="2"/>
<path d="M1450.3 37.6H1559.4" stroke="#cccccc" stroke-width="3.6"/>
<text transform="translate(1567.73 46) scale(1.1601 1)" font-family="'Liberation Serif', 'Times New Roman', serif" font-size="36" fill="#000"><tspan>Δ</tspan></text>
<text transform="translate(1594.61 50.8) scale(1.0343 1)" font-family="'Liberation Serif', 'Times New Roman', serif" font-size="22.1" fill="#000"><tspan font-style="italic">d</tspan></text>
<text transform="translate(1616.62 49.25) scale(1.3388 1)" font-family="'Liberation Serif', 'Times New Roman', serif" font-size="35.5" fill="#000"><tspan>=</tspan></text>
<text transform="translate(1651.3 46.1) scale(0.9701 1)" font-family="'Liberation Serif', 'Times New Roman', serif" font-size="33.5">1326</text>
<text transform="translate(1729.2 46) scale(1.1312 1)" font-family="'Liberation Serif', 'Times New Roman', serif" font-size="31.6" fill="#000"><tspan font-style="italic">μ</tspan><tspan>m</tspan></text>
<text transform="translate(1785.87 46) scale(1.1987 1)" font-family="'Liberation Serif', 'Times New Roman', serif" font-size="34" fill="#000"><tspan>(</tspan><tspan font-style="italic">λ</tspan><tspan>/1)</tspan></text>
<path d="M1450.3 78.15H1559.4" stroke="#cbcb88" stroke-width="3.6"/>
<text transform="translate(1567.73 86.55) scale(1.1601 1)" font-family="'Liberation Serif', 'Times New Roman', serif" font-size="36" fill="#000"><tspan>Δ</tspan></text>
<text transform="translate(1594.61 91.35) scale(1.0343 1)" font-family="'Liberation Serif', 'Times New Roman', serif" font-size="22.1" fill="#000"><tspan font-style="italic">d</tspan></text>
<text transform="translate(1616.62 89.8) scale(1.3388 1)" font-family="'Liberation Serif', 'Times New Roman', serif" font-size="35.5" fill="#000"><tspan>=</tspan></text>
<text transform="translate(1651.3 86.65) scale(0.9701 1)" font-family="'Liberation Serif', 'Times New Roman', serif" font-size="33.5">1105</text>
<text transform="translate(1729.2 86.55) scale(1.1312 1)" font-family="'Liberation Serif', 'Times New Roman', serif" font-size="31.6" fill="#000"><tspan font-style="italic">μ</tspan><tspan>m</tspan></text>
<text transform="translate(1785.95 86.55) scale(1.1447 1)" font-family="'Liberation Serif', 'Times New Roman', serif" font-size="34" fill="#000"><tspan>(</tspan><tspan font-style="italic">λ</tspan><tspan>/1.2)</tspan></text>
<path d="M1450.3 118.7H1559.4" stroke="#c9c93c" stroke-width="3.6"/>
<text transform="translate(1567.73 127.1) scale(1.1601 1)" font-family="'Liberation Serif', 'Times New Roman', serif" font-size="36" fill="#000"><tspan>Δ</tspan></text>
<text transform="translate(1594.61 131.9) scale(1.0343 1)" font-family="'Liberation Serif', 'Times New Roman', serif" font-size="22.1" fill="#000"><tspan font-style="italic">d</tspan></text>
<text transform="translate(1616.62 130.35) scale(1.3388 1)" font-family="'Liberation Serif', 'Times New Roman', serif" font-size="35.5" fill="#000"><tspan>=</tspan></text>
<text transform="translate(1651.3 127.2) scale(0.9701 1)" font-family="'Liberation Serif', 'Times New Roman', serif" font-size="33.5">884</text>
<text transform="translate(1713 127.1) scale(1.1312 1)" font-family="'Liberation Serif', 'Times New Roman', serif" font-size="31.6" fill="#000"><tspan font-style="italic">μ</tspan><tspan>m</tspan></text>
<text transform="translate(1769.77 127.1) scale(1.1308 1)" font-family="'Liberation Serif', 'Times New Roman', serif" font-size="34" fill="#000"><tspan>(</tspan><tspan font-style="italic">λ</tspan><tspan>/1.5)</tspan></text>
<path d="M1450.3 159.25H1559.4" stroke="#cccc2a" stroke-width="3.6"/>
<text transform="translate(1567.73 167.65) scale(1.1601 1)" font-family="'Liberation Serif', 'Times New Roman', serif" font-size="36" fill="#000"><tspan>Δ</tspan></text>
<text transform="translate(1594.61 172.45) scale(1.0343 1)" font-family="'Liberation Serif', 'Times New Roman', serif" font-size="22.1" fill="#000"><tspan font-style="italic">d</tspan></text>
<text transform="translate(1616.62 170.9) scale(1.3388 1)" font-family="'Liberation Serif', 'Times New Roman', serif" font-size="35.5" fill="#000"><tspan>=</tspan></text>
<text transform="translate(1651.3 167.75) scale(0.9701 1)" font-family="'Liberation Serif', 'Times New Roman', serif" font-size="33.5">663</text>
<text transform="translate(1713 167.65) scale(1.1312 1)" font-family="'Liberation Serif', 'Times New Roman', serif" font-size="31.6" fill="#000"><tspan font-style="italic">μ</tspan><tspan>m</tspan></text>
<text transform="translate(1769.68 167.65) scale(1.1872 1)" font-family="'Liberation Serif', 'Times New Roman', serif" font-size="34" fill="#000"><tspan>(</tspan><tspan font-style="italic">λ</tspan><tspan>/2)</tspan></text>
<path d="M1450.3 199.8H1559.4" stroke="#cc9933" stroke-width="3.6"/>
<text transform="translate(1567.73 208.2) scale(1.1601 1)" font-family="'Liberation Serif', 'Times New Roman', serif" font-size="36" fill="#000"><tspan>Δ</tspan></text>
<text transform="translate(1594.61 213) scale(1.0343 1)" font-family="'Liberation Serif', 'Times New Roman', serif" font-size="22.1" fill="#000"><tspan font-style="italic">d</tspan></text>
<text transform="translate(1616.62 211.45) scale(1.3388 1)" font-family="'Liberation Serif', 'Times New Roman', serif" font-size="35.5" fill="#000"><tspan>=</tspan></text>
<text transform="translate(1651.3 208.3) scale(0.9701 1)" font-family="'Liberation Serif', 'Times New Roman', serif" font-size="33.5">442</text>
<text transform="translate(1713 208.2) scale(1.1312 1)" font-family="'Liberation Serif', 'Times New Roman', serif" font-size="31.6" fill="#000"><tspan font-style="italic">μ</tspan><tspan>m</tspan></text>
<text transform="translate(1769.68 208.2) scale(1.1872 1)" font-family="'Liberation Serif', 'Times New Roman', serif" font-size="34" fill="#000"><tspan>(</tspan><tspan font-style="italic">λ</tspan><tspan>/3)</tspan></text>
<path d="M1450.3 240.35H1559.4" stroke="#cc6629" stroke-width="3.6"/>
<text transform="translate(1567.73 248.75) scale(1.1601 1)" font-family="'Liberation Serif', 'Times New Roman', serif" font-size="36" fill="#000"><tspan>Δ</tspan></text>
<text transform="translate(1594.61 253.55) scale(1.0343 1)" font-family="'Liberation Serif', 'Times New Roman', serif" font-size="22.1" fill="#000"><tspan font-style="italic">d</tspan></text>
<text transform="translate(1616.62 252) scale(1.3388 1)" font-family="'Liberation Serif', 'Times New Roman', serif" font-size="35.5" fill="#000"><tspan>=</tspan></text>
<text transform="translate(1651.3 248.85) scale(0.9701 1)" font-family="'Liberation Serif', 'Times New Roman', serif" font-size="33.5">221</text>
<text transform="translate(1713 248.75) scale(1.1312 1)" font-family="'Liberation Serif', 'Times New Roman', serif" font-size="31.6" fill="#000"><tspan font-style="italic">μ</tspan><tspan>m</tspan></text>
<text transform="translate(1769.68 248.75) scale(1.1872 1)" font-family="'Liberation Serif', 'Times New Roman', serif" font-size="34" fill="#000"><tspan>(</tspan><tspan font-style="italic">λ</tspan><tspan>/6)</tspan></text>
<path d="M1450.3 280.9H1559.4" stroke="#c8382d" stroke-width="3.6"/>
<text transform="translate(1567.73 289.3) scale(1.1601 1)" font-family="'Liberation Serif', 'Times New Roman', serif" font-size="36" fill="#000"><tspan>Δ</tspan></text>
<text transform="translate(1594.61 294.1) scale(1.0343 1)" font-family="'Liberation Serif', 'Times New Roman', serif" font-size="22.1" fill="#000"><tspan font-style="italic">d</tspan></text>
<text transform="translate(1616.62 292.55) scale(1.3388 1)" font-family="'Liberation Serif', 'Times New Roman', serif" font-size="35.5" fill="#000"><tspan>=</tspan></text>
<text transform="translate(1651.3 289.4) scale(0.9701 1)" font-family="'Liberation Serif', 'Times New Roman', serif" font-size="33.5">100</text>
<text transform="translate(1713 289.3) scale(1.1312 1)" font-family="'Liberation Serif', 'Times New Roman', serif" font-size="31.6" fill="#000"><tspan font-style="italic">μ</tspan><tspan>m</tspan></text>
<text transform="translate(1769.81 289.3) scale(1.1006 1)" font-family="'Liberation Serif', 'Times New Roman', serif" font-size="34" fill="#000"><tspan>(</tspan><tspan font-style="italic">λ</tspan><tspan>/13.3)</tspan></text>
<path d="M1450.3 321.45H1559.4" stroke="#cc2229" stroke-width="3.6"/>
<text transform="translate(1567.73 329.85) scale(1.1601 1)" font-family="'Liberation Serif', 'Times New Roman', serif" font-size="36" fill="#000"><tspan>Δ</tspan></text>
<text transform="translate(1594.61 334.65) scale(1.0343 1)" font-family="'Liberation Serif', 'Times New Roman', serif" font-size="22.1" fill="#000"><tspan font-style="italic">d</tspan></text>
<text transform="translate(1616.62 333.1) scale(1.3388 1)" font-family="'Liberation Serif', 'Times New Roman', serif" font-size="35.5" fill="#000"><tspan>=</tspan></text>
<text transform="translate(1651.3 329.95) scale(0.9701 1)" font-family="'Liberation Serif', 'Times New Roman', serif" font-size="33.5">50</text>
<text transform="translate(1696.8 329.85) scale(1.1312 1)" font-family="'Liberation Serif', 'Times New Roman', serif" font-size="31.6" fill="#000"><tspan font-style="italic">μ</tspan><tspan>m</tspan></text>
<text transform="translate(1753.61 329.85) scale(1.0996 1)" font-family="'Liberation Serif', 'Times New Roman', serif" font-size="34" fill="#000"><tspan>(</tspan><tspan font-style="italic">λ</tspan><tspan>/26.5)</tspan></text>
<path d="M1450.3 362H1559.4" stroke="#991a1f" stroke-width="3.6"/>
<text transform="translate(1567.73 370.4) scale(1.1601 1)" font-family="'Liberation Serif', 'Times New Roman', serif" font-size="36" fill="#000"><tspan>Δ</tspan></text>
<text transform="translate(1594.61 375.2) scale(1.0343 1)" font-family="'Liberation Serif', 'Times New Roman', serif" font-size="22.1" fill="#000"><tspan font-style="italic">d</tspan></text>
<text transform="translate(1616.62 373.65) scale(1.3388 1)" font-family="'Liberation Serif', 'Times New Roman', serif" font-size="35.5" fill="#000"><tspan>=</tspan></text>
<text transform="translate(1651.3 370.5) scale(0.9701 1)" font-family="'Liberation Serif', 'Times New Roman', serif" font-size="33.5">25</text>
<text transform="translate(1696.8 370.4) scale(1.1312 1)" font-family="'Liberation Serif', 'Times New Roman', serif" font-size="31.6" fill="#000"><tspan font-style="italic">μ</tspan><tspan>m</tspan></text>
<text transform="translate(1753.61 370.4) scale(1.0996 1)" font-family="'Liberation Serif', 'Times New Roman', serif" font-size="34" fill="#000"><tspan>(</tspan><tspan font-style="italic">λ</tspan><tspan>/53.1)</tspan></text>
<path d="M1450.3 402.55H1559.4" stroke="#640e0e" stroke-width="3.6"/>
<text transform="translate(1567.73 410.95) scale(1.1601 1)" font-family="'Liberation Serif', 'Times New Roman', serif" font-size="36" fill="#000"><tspan>Δ</tspan></text>
<text transform="translate(1594.61 415.75) scale(1.0343 1)" font-family="'Liberation Serif', 'Times New Roman', serif" font-size="22.1" fill="#000"><tspan font-style="italic">d</tspan></text>
<text transform="translate(1616.62 414.2) scale(1.3388 1)" font-family="'Liberation Serif', 'Times New Roman', serif" font-size="35.5" fill="#000"><tspan>=</tspan></text>
<text transform="translate(1651.3 411.05) scale(0.9701 1)" font-family="'Liberation Serif', 'Times New Roman', serif" font-size="33.5">10</text>
<text transform="translate(1696.8 410.95) scale(1.1312 1)" font-family="'Liberation Serif', 'Times New Roman', serif" font-size="31.6" fill="#000"><tspan font-style="italic">μ</tspan><tspan>m</tspan></text>
<text transform="translate(1753.64 410.95) scale(1.0781 1)" font-family="'Liberation Serif', 'Times New Roman', serif" font-size="34" fill="#000"><tspan>(</tspan><tspan font-style="italic">λ</tspan><tspan>/132.7)</tspan></text>
<path d="M1450.3 443.1H1559.4" stroke="#331111" stroke-width="4.0"/>
<text transform="translate(1567.73 451.5) scale(1.1601 1)" font-family="'Liberation Serif', 'Times New Roman', serif" font-size="36" fill="#000"><tspan>Δ</tspan></text>
<text transform="translate(1594.61 456.3) scale(1.0343 1)" font-family="'Liberation Serif', 'Times New Roman', serif" font-size="22.1" fill="#000"><tspan font-style="italic">d</tspan></text>
<text transform="translate(1616.62 454.75) scale(1.3388 1)" font-family="'Liberation Serif', 'Times New Roman', serif" font-size="35.5" fill="#000"><tspan>=</tspan></text>
<text transform="translate(1651.3 451.6) scale(0.9701 1)" font-family="'Liberation Serif', 'Times New Roman', serif" font-size="33.5">1</text>
<text transform="translate(1680.6 451.5) scale(1.1312 1)" font-family="'Liberation Serif', 'Times New Roman', serif" font-size="31.6" fill="#000"><tspan font-style="italic">μ</tspan><tspan>m</tspan></text>
<text transform="translate(1737.47 451.5) scale(1.0619 1)" font-family="'Liberation Serif', 'Times New Roman', serif" font-size="34" fill="#000"><tspan>(</tspan><tspan font-style="italic">λ</tspan><tspan>/1326.6)</tspan></text>
<rect x="1440" y="631.5" width="459" height="455.5" fill="#fff" stroke="#222" stroke-width="2"/>
<path d="M1450.3 656.4H1559.4" stroke="#cccccc" stroke-width="3.6"/>
<text transform="translate(1567.73 664.8) scale(1.1601 1)" font-family="'Liberation Serif', 'Times New Roman', serif" font-size="36" fill="#000"><tspan>Δ</tspan></text>
<text transform="translate(1594.61 669.6) scale(1.0343 1)" font-family="'Liberation Serif', 'Times New Roman', serif" font-size="22.1" fill="#000"><tspan font-style="italic">d</tspan></text>
<text transform="translate(1616.62 668.05) scale(1.3388 1)" font-family="'Liberation Serif', 'Times New Roman', serif" font-size="35.5" fill="#000"><tspan>=</tspan></text>
<text transform="translate(1651.3 664.9) scale(0.9701 1)" font-family="'Liberation Serif', 'Times New Roman', serif" font-size="33.5">1326</text>
<text transform="translate(1729.2 664.8) scale(1.1312 1)" font-family="'Liberation Serif', 'Times New Roman', serif" font-size="31.6" fill="#000"><tspan font-style="italic">μ</tspan><tspan>m</tspan></text>
<text transform="translate(1785.87 664.8) scale(1.1987 1)" font-family="'Liberation Serif', 'Times New Roman', serif" font-size="34" fill="#000"><tspan>(</tspan><tspan font-style="italic">λ</tspan><tspan>/1)</tspan></text>
<path d="M1450.3 696.95H1559.4" stroke="#cbcb88" stroke-width="3.6"/>
<text transform="translate(1567.73 705.35) scale(1.1601 1)" font-family="'Liberation Serif', 'Times New Roman', serif" font-size="36" fill="#000"><tspan>Δ</tspan></text>
<text transform="translate(1594.61 710.15) scale(1.0343 1)" font-family="'Liberation Serif', 'Times New Roman', serif" font-size="22.1" fill="#000"><tspan font-style="italic">d</tspan></text>
<text transform="translate(1616.62 708.6) scale(1.3388 1)" font-family="'Liberation Serif', 'Times New Roman', serif" font-size="35.5" fill="#000"><tspan>=</tspan></text>
<text transform="translate(1651.3 705.45) scale(0.9701 1)" font-family="'Liberation Serif', 'Times New Roman', serif" font-size="33.5">1105</text>
<text transform="translate(1729.2 705.35) scale(1.1312 1)" font-family="'Liberation Serif', 'Times New Roman', serif" font-size="31.6" fill="#000"><tspan font-style="italic">μ</tspan><tspan>m</tspan></text>
<text transform="translate(1785.95 705.35) scale(1.1447 1)" font-family="'Liberation Serif', 'Times New Roman', serif" font-size="34" fill="#000"><tspan>(</tspan><tspan font-style="italic">λ</tspan><tspan>/1.2)</tspan></text>
<path d="M1450.3 737.5H1559.4" stroke="#c9c93c" stroke-width="3.6"/>
<text transform="translate(1567.73 745.9) scale(1.1601 1)" font-family="'Liberation Serif', 'Times New Roman', serif" font-size="36" fill="#000"><tspan>Δ</tspan></text>
<text transform="translate(1594.61 750.7) scale(1.0343 1)" font-family="'Liberation Serif', 'Times New Roman', serif" font-size="22.1" fill="#000"><tspan font-style="italic">d</tspan></text>
<text transform="translate(1616.62 749.15) scale(1.3388 1)" font-family="'Liberation Serif', 'Times New Roman', serif" font-size="35.5" fill="#000"><tspan>=</tspan></text>
<text transform="translate(1651.3 746) scale(0.9701 1)" font-family="'Liberation Serif', 'Times New Roman', serif" font-size="33.5">884</text>
<text transform="translate(1713 745.9) scale(1.1312 1)" font-family="'Liberation Serif', 'Times New Roman', serif" font-size="31.6" fill="#000"><tspan font-style="italic">μ</tspan><tspan>m</tspan></text>
<text transform="translate(1769.77 745.9) scale(1.1308 1)" font-family="'Liberation Serif', 'Times New Roman', serif" font-size="34" fill="#000"><tspan>(</tspan><tspan font-style="italic">λ</tspan><tspan>/1.5)</tspan></text>
<path d="M1450.3 778.05H1559.4" stroke="#cccc2a" stroke-width="3.6"/>
<text transform="translate(1567.73 786.45) scale(1.1601 1)" font-family="'Liberation Serif', 'Times New Roman', serif" font-size="36" fill="#000"><tspan>Δ</tspan></text>
<text transform="translate(1594.61 791.25) scale(1.0343 1)" font-family="'Liberation Serif', 'Times New Roman', serif" font-size="22.1" fill="#000"><tspan font-style="italic">d</tspan></text>
<text transform="translate(1616.62 789.7) scale(1.3388 1)" font-family="'Liberation Serif', 'Times New Roman', serif" font-size="35.5" fill="#000"><tspan>=</tspan></text>
<text transform="translate(1651.3 786.55) scale(0.9701 1)" font-family="'Liberation Serif', 'Times New Roman', serif" font-size="33.5">663</text>
<text transform="translate(1713 786.45) scale(1.1312 1)" font-family="'Liberation Serif', 'Times New Roman', serif" font-size="31.6" fill="#000"><tspan font-style="italic">μ</tspan><tspan>m</tspan></text>
<text transform="translate(1769.68 786.45) scale(1.1872 1)" font-family="'Liberation Serif', 'Times New Roman', serif" font-size="34" fill="#000"><tspan>(</tspan><tspan font-style="italic">λ</tspan><tspan>/2)</tspan></text>
<path d="M1450.3 818.6H1559.4" stroke="#cc9933" stroke-width="3.6"/>
<text transform="translate(1567.73 827) scale(1.1601 1)" font-family="'Liberation Serif', 'Times New Roman', serif" font-size="36" fill="#000"><tspan>Δ</tspan></text>
<text transform="translate(1594.61 831.8) scale(1.0343 1)" font-family="'Liberation Serif', 'Times New Roman', serif" font-size="22.1" fill="#000"><tspan font-style="italic">d</tspan></text>
<text transform="translate(1616.62 830.25) scale(1.3388 1)" font-family="'Liberation Serif', 'Times New Roman', serif" font-size="35.5" fill="#000"><tspan>=</tspan></text>
<text transform="translate(1651.3 827.1) scale(0.9701 1)" font-family="'Liberation Serif', 'Times New Roman', serif" font-size="33.5">442</text>
<text transform="translate(1713 827) scale(1.1312 1)" font-family="'Liberation Serif', 'Times New Roman', serif" font-size="31.6" fill="#000"><tspan font-style="italic">μ</tspan><tspan>m</tspan></text>
<text transform="translate(1769.68 827) scale(1.1872 1)" font-family="'Liberation Serif', 'Times New Roman', serif" font-size="34" fill="#000"><tspan>(</tspan><tspan font-style="italic">λ</tspan><tspan>/3)</tspan></text>
<path d="M1450.3 859.15H1559.4" stroke="#cc6629" stroke-width="3.6"/>
<text transform="translate(1567.73 867.55) scale(1.1601 1)" font-family="'Liberation Serif', 'Times New Roman', serif" font-size="36" fill="#000"><tspan>Δ</tspan></text>
<text transform="translate(1594.61 872.35) scale(1.0343 1)" font-family="'Liberation Serif', 'Times New Roman', serif" font-size="22.1" fill="#000"><tspan font-style="italic">d</tspan></text>
<text transform="translate(1616.62 870.8) scale(1.3388 1)" font-family="'Liberation Serif', 'Times New Roman', serif" font-size="35.5" fill="#000"><tspan>=</tspan></text>
<text transform="translate(1651.3 867.65) scale(0.9701 1)" font-family="'Liberation Serif', 'Times New Roman', serif" font-size="33.5">221</text>
<text transform="translate(1713 867.55) scale(1.1312 1)" font-family="'Liberation Serif', 'Times New Roman', serif" font-size="31.6" fill="#000"><tspan font-style="italic">μ</tspan><tspan>m</tspan></text>
<text transform="translate(1769.68 867.55) scale(1.1872 1)" font-family="'Liberation Serif', 'Times New Roman', serif" font-size="34" fill="#000"><tspan>(</tspan><tspan font-style="italic">λ</tspan><tspan>/6)</tspan></text>
<path d="M1450.3 899.7H1559.4" stroke="#c8382d" stroke-width="3.6"/>
<text transform="translate(1567.73 908.1) scale(1.1601 1)" font-family="'Liberation Serif', 'Times New Roman', serif" font-size="36" fill="#000"><tspan>Δ</tspan></text>
<text transform="translate(1594.61 912.9) scale(1.0343 1)" font-family="'Liberation Serif', 'Times New Roman', serif" font-size="22.1" fill="#000"><tspan font-style="italic">d</tspan></text>
<text transform="translate(1616.62 911.35) scale(1.3388 1)" font-family="'Liberation Serif', 'Times New Roman', serif" font-size="35.5" fill="#000"><tspan>=</tspan></text>
<text transform="translate(1651.3 908.2) scale(0.9701 1)" font-family="'Liberation Serif', 'Times New Roman', serif" font-size="33.5">100</text>
<text transform="translate(1713 908.1) scale(1.1312 1)" font-family="'Liberation Serif', 'Times New Roman', serif" font-size="31.6" fill="#000"><tspan font-style="italic">μ</tspan><tspan>m</tspan></text>
<text transform="translate(1769.81 908.1) scale(1.1006 1)" font-family="'Liberation Serif', 'Times New Roman', serif" font-size="34" fill="#000"><tspan>(</tspan><tspan font-style="italic">λ</tspan><tspan>/13.3)</tspan></text>
<path d="M1450.3 940.25H1559.4" stroke="#cc2229" stroke-width="3.6"/>
<text transform="translate(1567.73 948.65) scale(1.1601 1)" font-family="'Liberation Serif', 'Times New Roman', serif" font-size="36" fill="#000"><tspan>Δ</tspan></text>
<text transform="translate(1594.61 953.45) scale(1.0343 1)" font-family="'Liberation Serif', 'Times New Roman', serif" font-size="22.1" fill="#000"><tspan font-style="italic">d</tspan></text>
<text transform="translate(1616.62 951.9) scale(1.3388 1)" font-family="'Liberation Serif', 'Times New Roman', serif" font-size="35.5" fill="#000"><tspan>=</tspan></text>
<text transform="translate(1651.3 948.75) scale(0.9701 1)" font-family="'Liberation Serif', 'Times New Roman', serif" font-size="33.5">50</text>
<text transform="translate(1696.8 948.65) scale(1.1312 1)" font-family="'Liberation Serif', 'Times New Roman', serif" font-size="31.6" fill="#000"><tspan font-style="italic">μ</tspan><tspan>m</tspan></text>
<text transform="translate(1753.61 948.65) scale(1.0996 1)" font-family="'Liberation Serif', 'Times New Roman', serif" font-size="34" fill="#000"><tspan>(</tspan><tspan font-style="italic">λ</tspan><tspan>/26.5)</tspan></text>
<path d="M1450.3 980.8H1559.4" stroke="#991a1f" stroke-width="3.6"/>
<text transform="translate(1567.73 989.2) scale(1.1601 1)" font-family="'Liberation Serif', 'Times New Roman', serif" font-size="36" fill="#000"><tspan>Δ</tspan></text>
<text transform="translate(1594.61 994) scale(1.0343 1)" font-family="'Liberation Serif', 'Times New Roman', serif" font-size="22.1" fill="#000"><tspan font-style="italic">d</tspan></text>
<text transform="translate(1616.62 992.45) scale(1.3388 1)" font-family="'Liberation Serif', 'Times New Roman', serif" font-size="35.5" fill="#000"><tspan>=</tspan></text>
<text transform="translate(1651.3 989.3) scale(0.9701 1)" font-family="'Liberation Serif', 'Times New Roman', serif" font-size="33.5">25</text>
<text transform="translate(1696.8 989.2) scale(1.1312 1)" font-family="'Liberation Serif', 'Times New Roman', serif" font-size="31.6" fill="#000"><tspan font-style="italic">μ</tspan><tspan>m</tspan></text>
<text transform="translate(1753.61 989.2) scale(1.0996 1)" font-family="'Liberation Serif', 'Times New Roman', serif" font-size="34" fill="#000"><tspan>(</tspan><tspan font-style="italic">λ</tspan><tspan>/53.1)</tspan></text>
<path d="M1450.3 1021.35H1559.4" stroke="#640e0e" stroke-width="3.6"/>
<text transform="translate(1567.73 1029.75) scale(1.1601 1)" font-family="'Liberation Serif', 'Times New Roman', serif" font-size="36" fill="#000"><tspan>Δ</tspan></text>
<text transform="translate(1594.61 1034.55) scale(1.0343 1)" font-family="'Liberation Serif', 'Times New Roman', serif" font-size="22.1" fill="#000"><tspan font-style="italic">d</tspan></text>
<text transform="translate(1616.62 1033) scale(1.3388 1)" font-family="'Liberation Serif', 'Times New Roman', serif" font-size="35.5" fill="#000"><tspan>=</tspan></text>
<text transform="translate(1651.3 1029.85) scale(0.9701 1)" font-family="'Liberation Serif', 'Times New Roman', serif" font-size="33.5">10</text>
<text transform="translate(1696.8 1029.75) scale(1.1312 1)" font-family="'Liberation Serif', 'Times New Roman', serif" font-size="31.6" fill="#000"><tspan font-style="italic">μ</tspan><tspan>m</tspan></text>
<text transform="translate(1753.64 1029.75) scale(1.0781 1)" font-family="'Liberation Serif', 'Times New Roman', serif" font-size="34" fill="#000"><tspan>(</tspan><tspan font-style="italic">λ</tspan><tspan>/132.7)</tspan></text>
<path d="M1450.3 1061.9H1559.4" stroke="#331111" stroke-width="4.0"/>
<text transform="translate(1567.73 1070.3) scale(1.1601 1)" font-family="'Liberation Serif', 'Times New Roman', serif" font-size="36" fill="#000"><tspan>Δ</tspan></text>
<text transform="translate(1594.61 1075.1) scale(1.0343 1)" font-family="'Liberation Serif', 'Times New Roman', serif" font-size="22.1" fill="#000"><tspan font-style="italic">d</tspan></text>
<text transform="translate(1616.62 1073.55) scale(1.3388 1)" font-family="'Liberation Serif', 'Times New Roman', serif" font-size="35.5" fill="#000"><tspan>=</tspan></text>
<text transform="translate(1651.3 1070.4) scale(0.9701 1)" font-family="'Liberation Serif', 'Times New Roman', serif" font-size="33.5">1</text>
<text transform="translate(1680.6 1070.3) scale(1.1312 1)" font-family="'Liberation Serif', 'Times New Roman', serif" font-size="31.6" fill="#000"><tspan font-style="italic">μ</tspan><tspan>m</tspan></text>
<text transform="translate(1737.47 1070.3) scale(1.0619 1)" font-family="'Liberation Serif', 'Times New Roman', serif" font-size="34" fill="#000"><tspan>(</tspan><tspan font-style="italic">λ</tspan><tspan>/1326.6)</tspan></text>
</svg>
</body></html>
